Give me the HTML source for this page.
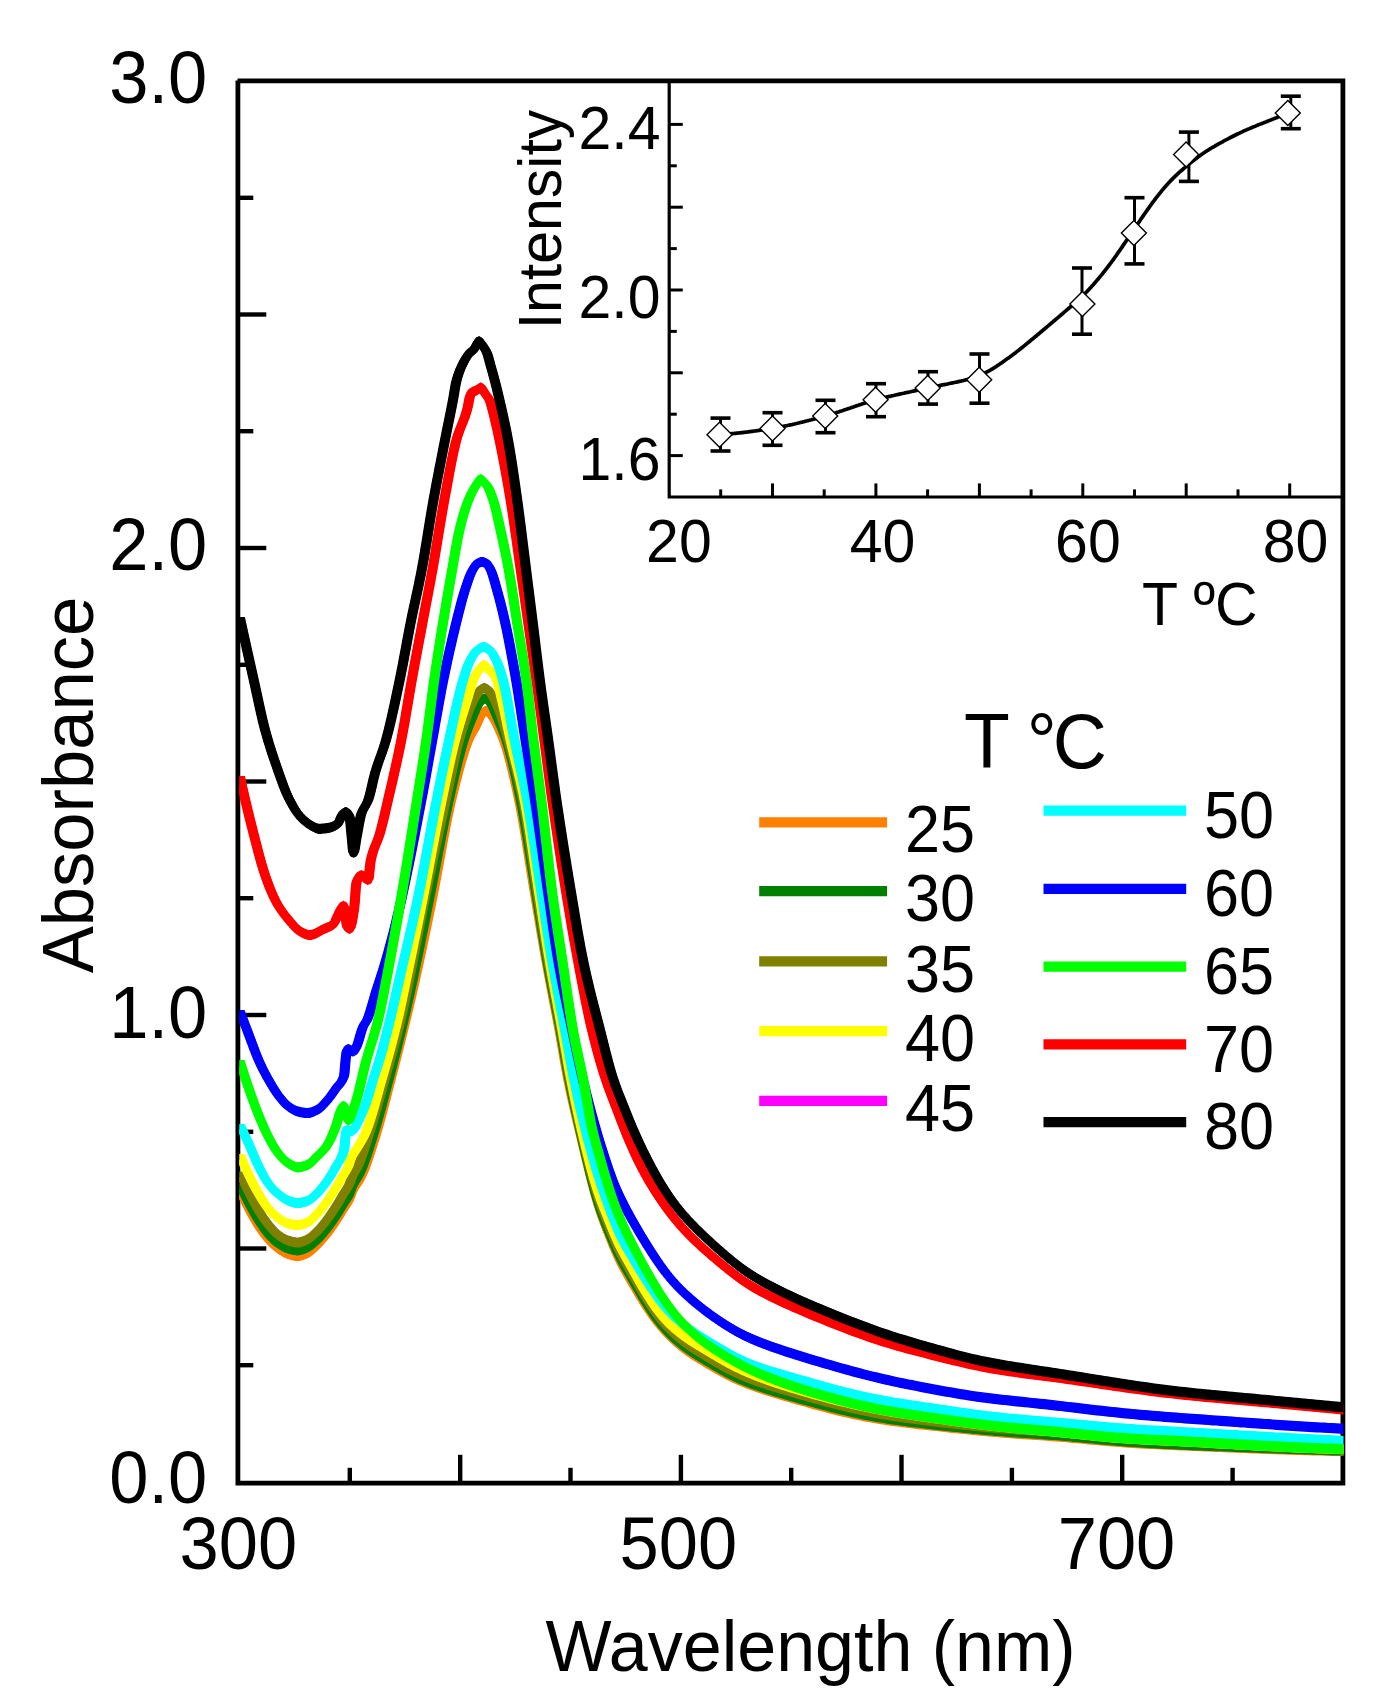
<!DOCTYPE html>
<html><head><meta charset="utf-8"><title>Absorbance vs wavelength</title>
<style>html,body{margin:0;padding:0;background:#fff}body{width:1397px;height:1707px;overflow:hidden}svg{display:block}text{font-family:"Liberation Sans",sans-serif;fill:#000}</style></head><body>
<svg width="1397" height="1707" viewBox="0 0 1397 1707">
<rect width="1397" height="1707" fill="#fff"/>
<g stroke="#000" stroke-width="4.4" fill="none">
<line x1="237.9" y1="1365.2" x2="253.3" y2="1365.2"/>
<line x1="237.9" y1="1248.5" x2="266.3" y2="1248.5"/>
<line x1="237.9" y1="1131.8" x2="253.3" y2="1131.8"/>
<line x1="237.9" y1="1015" x2="266.3" y2="1015"/>
<line x1="237.9" y1="898.2" x2="253.3" y2="898.2"/>
<line x1="237.9" y1="781.5" x2="266.3" y2="781.5"/>
<line x1="237.9" y1="664.8" x2="253.3" y2="664.8"/>
<line x1="237.9" y1="548" x2="266.3" y2="548"/>
<line x1="237.9" y1="431.2" x2="253.3" y2="431.2"/>
<line x1="237.9" y1="314.5" x2="266.3" y2="314.5"/>
<line x1="237.9" y1="197.8" x2="253.3" y2="197.8"/>
<line x1="349.8" y1="1483.2" x2="349.8" y2="1467.8"/>
<line x1="460.2" y1="1483.2" x2="460.2" y2="1454.8"/>
<line x1="570.5" y1="1483.2" x2="570.5" y2="1467.8"/>
<line x1="680.9" y1="1483.2" x2="680.9" y2="1454.8"/>
<line x1="791.2" y1="1483.2" x2="791.2" y2="1467.8"/>
<line x1="901.5" y1="1483.2" x2="901.5" y2="1454.8"/>
<line x1="1011.9" y1="1483.2" x2="1011.9" y2="1467.8"/>
<line x1="1122.2" y1="1483.2" x2="1122.2" y2="1454.8"/>
<line x1="1232.6" y1="1483.2" x2="1232.6" y2="1467.8"/>
</g>
<g stroke="#000" stroke-width="4.8" fill="none" stroke-linecap="square">
<path d="M237.9 82.8 V1483.2 H1342.9 V80.8 H239.9"/>
</g>
<defs><clipPath id="pc"><rect x="239.3" y="80.8" width="1104.3" height="1402.4"/></clipPath></defs>
<g stroke="none" clip-path="url(#pc)">
<path fill="#ff8000" d="M242.5 1190.5 243.5 1192.7 244.5 1194.8 245.5 1196.9 246.5 1198.9 247.5 1200.9 248.5 1202.9 249.5 1204.8 250.5 1206.7 251.5 1208.5 252.5 1210.4 253.5 1212.2 254.5 1214 255.5 1215.7 256.5 1217.4 257.5 1219.1 258.5 1220.6 259.5 1222.2 260.5 1223.6 261.5 1225.1 262.5 1226.5 263.5 1227.9 264.5 1229.3 265.5 1230.6 266.5 1231.8 267.5 1233 268.5 1234.2 269.5 1235.3 270.5 1236.3 271.5 1237.4 272.5 1238.4 273.5 1239.4 274.5 1240.3 275.5 1241.2 276.5 1242 277.5 1242.8 278.5 1243.5 279.5 1244.2 280.5 1244.9 281.5 1245.6 282.5 1246.2 283.5 1246.8 284.5 1247.4 285.5 1247.9 286.5 1248.4 287.5 1248.7 288.5 1249.1 289.5 1249.4 290.5 1249.6 291.5 1249.9 292.5 1250.2 293.5 1250.4 294.5 1250.6 295.5 1250.8 296.5 1250.9 297.5 1250.9 298.5 1250.9 299.5 1250.8 300.5 1250.6 301.5 1250.3 302.5 1250 303.5 1249.7 304.5 1249.3 305.5 1248.9 306.5 1248.4 307.5 1248 308.5 1247.5 309.5 1246.8 310.5 1246.1 311.5 1245.2 312.5 1244.3 313.5 1243.4 314.5 1242.4 315.5 1241.4 316.5 1240.4 317.5 1239.4 318.5 1238.4 319.5 1237.4 320.5 1236.3 321.5 1235.1 322.5 1234 323.5 1232.8 324.5 1231.6 325.5 1230.4 326.5 1229.2 327.5 1227.9 328.5 1226.6 329.5 1225.2 330.5 1223.9 331.5 1222.5 332.5 1221 333.5 1219.6 334.5 1218.1 335.5 1216.6 336.3 1215.4 336.5 1215.1 337.5 1213.5 338.5 1211.9 339.5 1210.3 340.5 1208.7 341.5 1207 342.5 1205.3 343.5 1203.7 344 1202.9 344.5 1202.1 345.5 1200.6 346.5 1199.2 347.5 1197.6 348.5 1195.9 349 1194.9 349.5 1193.7 350.5 1190.9 351.5 1188.1 352 1186.9 352.5 1185.9 353.5 1184 354.5 1182.3 355.5 1180.8 356.5 1179.3 357.5 1177.9 358.5 1176.3 359.5 1174.7 360.5 1172.9 361 1171.9 361.5 1170.8 362.5 1168.6 363.5 1166.3 364.5 1163.8 365.5 1161.1 366.5 1158.4 367.5 1155.5 368.5 1152.6 369.5 1149.6 370.5 1146.5 371.5 1143.4 372.5 1140.2 373.5 1137 374.5 1133.8 375.5 1130.5 376 1128.9 376.5 1127.3 377.5 1123.9 378.5 1120.5 379.5 1116.9 380.5 1113.3 381.5 1109.6 382.5 1105.8 383.5 1102 384.5 1098.2 385.5 1094.3 386.5 1090.4 387.5 1086.5 388.5 1082.6 389.5 1078.8 390.5 1074.9 391.5 1071 392.5 1067.2 393.5 1063.3 394.5 1059.4 395.5 1055.5 396.5 1051.6 397.5 1047.6 398.5 1043.7 399.5 1039.7 400.5 1035.7 401.5 1031.6 402.5 1027.6 403.5 1023.5 404.5 1019.4 405.5 1015.3 405.6 1014.9 406.5 1011.2 407.5 1007 408.5 1002.8 409.5 998.6 410.5 994.3 411.5 990 412.5 985.6 413.5 981.2 413.8 979.9 414.5 976.8 415.5 972.3 416.5 967.7 417.5 963.2 418.5 958.6 419.5 953.9 420.5 949.3 421.5 944.6 422.5 939.9 423.5 935.1 424.5 930.4 425.5 925.6 426.5 920.8 427.5 915.9 428.5 911.1 429.5 906.2 430.5 901.3 431.5 896.4 431.8 894.9 432.5 891.4 433.5 886.3 434.5 881.1 435.5 875.8 436.5 870.4 437.5 865 438.5 859.5 439.5 854 440.5 848.5 441.5 843 442.5 837.5 443.5 832.1 444.5 826.8 445.5 821.6 446.5 816.6 447.5 811.6 448.5 806.8 449.5 802.2 450.5 797.8 451.2 794.9 451.5 793.7 452.5 789.6 453.5 785.5 454.5 781.4 455.5 777.5 456.5 773.6 457.5 769.7 458.5 765.9 459.5 762.3 460.5 758.7 461.5 755.2 462.5 751.9 463.5 748.7 464.5 745.6 465.5 742.7 466.5 739.9 467.5 737.3 468.5 734.9 469.5 732.7 470.5 730.7 471.5 728.9 472.5 727.2 473.5 725.5 474.5 723.8 475.5 721.9 476 720.9 476.5 719.8 477.5 717.5 478.5 715.1 479.5 712.8 480.5 710.9 481.5 709.3 482.5 707.9 483.5 706.9 484.5 706.2 485.5 705.9 485.6 705.9 486.5 706 487.5 706.5 488.5 707.1 489 707.4 489.5 707.8 490.5 708.8 491.5 710.2 492.5 711.7 493 712.4 493.5 713.2 494.5 714.8 495.5 716.5 496.5 718.4 497 719.4 497.5 720.4 498.5 722.6 499.5 724.9 500.5 727.2 501 728.4 501.5 729.5 502.5 731.7 503.5 734.1 504 735.4 504.5 736.8 505.5 739.8 506.5 742.9 507.5 746.2 508.5 749.7 509.5 753.4 510.5 757.1 511.5 761.1 512.5 765.1 513.5 769.3 514.5 773.6 515.5 778 516.5 782.4 517.5 787 518.5 791.6 519.2 794.9 519.5 796.3 520.5 801.3 521.5 806.5 522.5 811.9 523.5 817.6 524.5 823.4 525.5 829.4 526.5 835.5 527.5 841.7 528.5 848 529.5 854.3 530.5 860.6 531.5 866.9 532.5 873.2 533.5 879.4 534.5 885.4 535.2 889.6 535.5 891.4 536.5 897.3 537.5 903.3 538.5 909.2 539.5 915.2 540.5 921.2 541.5 927.1 542.5 933 543.5 938.9 544.5 944.7 545.5 950.4 546.3 954.9 546.5 956 547.5 961.5 548.5 966.9 549.5 972.3 550.5 977.6 551.5 982.8 552.5 988 553.5 993.2 554.5 998.4 555.5 1003.6 556.5 1008.8 557.5 1014.1 558.5 1019.5 559.5 1024.9 560.5 1030.5 561.5 1036.2 562.5 1042 563.5 1047.8 564.5 1053.6 565.5 1059.3 566.5 1064.9 567.5 1070.3 568.5 1075.4 569.5 1080.3 570.5 1085.1 571.5 1089.8 572.5 1094.4 573.5 1098.8 574.5 1103.2 575.5 1107.6 576.5 1111.9 577.5 1116.1 578.5 1120.3 579.5 1124.5 580.5 1128.7 581.5 1132.9 582.5 1137.1 583.5 1141.3 584.5 1145.6 585.5 1149.8 586.5 1153.9 587.5 1158.1 588.5 1162.2 589.5 1166.3 590.5 1170.3 591.5 1174.3 592.5 1178.2 593.5 1182 594.5 1185.8 595.5 1189.4 596.5 1193 597.5 1196.4 598.5 1199.8 599.5 1203 600.5 1206.1 601.5 1209.1 602.5 1212 603.5 1214.8 604.5 1217.6 605.5 1220.2 606.5 1222.9 607.5 1225.4 608.5 1228 609.5 1230.5 610.5 1233 611.5 1235.5 612.5 1238 613.5 1240.4 614.5 1242.8 615.5 1245.2 616.5 1247.5 617.5 1249.8 618.5 1252 619.5 1254.2 620.5 1256.3 621.5 1258.3 622.5 1260.3 623.5 1262.2 624.5 1264.1 625.5 1265.9 626.5 1267.7 627.5 1269.5 628.5 1271.2 629.5 1273 630.5 1274.7 631.5 1276.4 632.5 1278.1 633.5 1279.8 634.5 1281.5 635.5 1283.2 636.5 1284.9 637.5 1286.6 638.5 1288.3 639.5 1290 640.5 1291.7 641.5 1293.3 642.5 1294.9 643.5 1296.5 644.5 1298.1 645.5 1299.7 646.5 1301.3 647.5 1302.8 648.5 1304.3 649.5 1305.8 650.5 1307.3 651.5 1308.8 652.5 1310.2 653.5 1311.6 654.5 1312.9 655.5 1314.3 656.5 1315.6 657.5 1316.9 658.5 1318.2 659.5 1319.4 660.5 1320.6 661.5 1321.8 662.5 1323 663.5 1324.1 664.5 1325.2 665.5 1326.3 666.5 1327.4 667.5 1328.5 668.5 1329.5 669.5 1330.5 670.5 1331.5 671.5 1332.5 672.5 1333.4 673.5 1334.4 674.5 1335.3 675.5 1336.2 676.5 1337.1 677.5 1338 678.5 1338.9 679.5 1339.7 680.5 1340.5 681.5 1341.4 682.5 1342.2 683.5 1343 684.5 1343.7 685.5 1344.5 686.5 1345.2 687.5 1346 688.5 1346.7 689.5 1347.4 690.5 1348.1 691.5 1348.7 692.5 1349.4 693.5 1350.1 694.5 1350.7 695.5 1351.4 696.5 1352 697.5 1352.6 698.5 1353.2 699.5 1353.8 700.5 1354.4 701.5 1355 702.5 1355.6 703.5 1356.2 704.5 1356.8 705.5 1357.4 706.5 1358 707.5 1358.6 708.5 1359.2 709.5 1359.8 710.5 1360.3 711.5 1360.9 712.5 1361.5 713.5 1362.1 714.5 1362.7 715.5 1363.2 716.5 1363.8 717.5 1364.4 718.5 1364.9 719.5 1365.5 720.5 1366 721.5 1366.6 722.5 1367.1 723.5 1367.7 724.5 1368.2 725.5 1368.7 726.5 1369.2 727.5 1369.8 728.5 1370.3 729.5 1370.8 730.5 1371.2 731.5 1371.7 732.5 1372.2 733.5 1372.7 734.5 1373.1 735.5 1373.6 736.5 1374 737.5 1374.5 738.5 1374.9 739.5 1375.3 740.5 1375.8 741.5 1376.2 742.5 1376.6 743.5 1377 744.5 1377.4 745.5 1377.8 746.5 1378.2 747.5 1378.6 748.5 1379 749.5 1379.3 750.5 1379.7 751.5 1380.1 752.5 1380.4 753.5 1380.8 754.5 1381.2 755.5 1381.5 756.5 1381.9 757.5 1382.2 758.5 1382.6 759.5 1382.9 760.5 1383.2 761.5 1383.6 762.5 1383.9 763.5 1384.2 764.5 1384.5 765.5 1384.9 766.5 1385.2 767.5 1385.5 768.5 1385.8 769.5 1386.1 770.5 1386.5 771.5 1386.8 772.5 1387.1 773.5 1387.4 774.5 1387.7 775.5 1388 776.5 1388.3 777.5 1388.6 778.5 1388.9 779.5 1389.2 780.5 1389.5 784.5 1390.7 788.5 1391.9 792.5 1393 796.5 1394.2 800.5 1395.3 804.5 1396.4 808.5 1397.6 812.5 1398.7 816.5 1399.8 820.5 1400.9 824.5 1401.9 828.5 1403 832.5 1404 836.5 1405 840.5 1406 844.5 1406.9 848.5 1407.9 852.5 1408.7 856.5 1409.6 860.5 1410.4 864.5 1411.2 868.5 1411.9 872.5 1412.6 876.5 1413.3 880.5 1414 884.5 1414.6 888.5 1415.2 892.5 1415.7 896.5 1416.3 900.5 1416.8 904.5 1417.3 908.5 1417.8 912.5 1418.3 916.5 1418.7 920.5 1419.2 924.5 1419.6 928.5 1420.1 932.5 1420.5 936.5 1420.9 940.5 1421.4 944.5 1421.8 948.5 1422.2 952.5 1422.7 956.5 1423.1 960.5 1423.5 964.5 1423.9 968.5 1424.3 972.5 1424.7 976.5 1425.1 980.5 1425.5 984.5 1425.9 988.5 1426.2 992.5 1426.6 996.5 1426.9 1000.5 1427.3 1004.5 1427.6 1008.5 1427.9 1012.5 1428.2 1016.5 1428.5 1020.5 1428.7 1024.5 1429 1028.5 1429.3 1032.5 1429.6 1036.5 1429.8 1040.5 1430.1 1044.5 1430.4 1048.5 1430.7 1052.5 1431 1056.5 1431.3 1060.5 1431.6 1064.5 1431.9 1068.5 1432.3 1072.5 1432.7 1076.5 1433 1080.5 1433.4 1084.5 1433.8 1088.5 1434.2 1092.5 1434.5 1096.5 1434.9 1100.5 1435.3 1104.5 1435.6 1108.5 1436 1112.5 1436.3 1116.5 1436.6 1120.5 1436.9 1124.5 1437.2 1128.5 1437.5 1132.5 1437.8 1136.5 1438 1140.5 1438.2 1144.5 1438.5 1148.5 1438.7 1152.5 1438.9 1156.5 1439.1 1160.5 1439.3 1164.5 1439.5 1168.5 1439.7 1172.5 1439.8 1176.5 1440 1180.5 1440.2 1184.5 1440.4 1188.5 1440.5 1192.5 1440.7 1196.5 1440.9 1200.5 1441.1 1204.5 1441.2 1208.5 1441.4 1212.5 1441.6 1216.5 1441.7 1220.5 1441.9 1224.5 1442 1228.5 1442.2 1232.5 1442.4 1236.5 1442.5 1240.5 1442.7 1244.5 1442.9 1248.5 1443 1252.5 1443.2 1256.5 1443.3 1260.5 1443.5 1264.5 1443.7 1268.5 1443.8 1272.5 1444 1276.5 1444.1 1280.5 1444.2 1284.5 1444.4 1288.5 1444.5 1292.5 1444.6 1296.5 1444.7 1300.5 1444.9 1304.5 1445 1308.5 1445.1 1312.5 1445.2 1316.5 1445.3 1320.5 1445.4 1324.5 1445.5 1328.5 1445.6 1332.5 1445.7 1336.5 1445.8 1340.5 1445.9 1343.5 1445.9 1343.5 1456.1 1340.5 1456.1 1336.5 1456 1332.5 1455.9 1328.5 1455.8 1324.5 1455.7 1320.5 1455.6 1316.5 1455.5 1312.5 1455.4 1308.5 1455.3 1304.5 1455.2 1300.5 1455.1 1296.5 1454.9 1292.5 1454.8 1288.5 1454.7 1284.5 1454.6 1280.5 1454.4 1276.5 1454.3 1272.5 1454.2 1268.5 1454 1264.5 1453.9 1260.5 1453.7 1256.5 1453.5 1252.5 1453.4 1248.5 1453.2 1244.5 1453.1 1240.5 1452.9 1236.5 1452.7 1232.5 1452.6 1228.5 1452.4 1224.5 1452.2 1220.5 1452.1 1216.5 1451.9 1212.5 1451.8 1208.5 1451.6 1204.5 1451.4 1200.5 1451.3 1196.5 1451.1 1192.5 1450.9 1188.5 1450.7 1184.5 1450.6 1180.5 1450.4 1176.5 1450.2 1172.5 1450 1168.5 1449.9 1164.5 1449.7 1160.5 1449.5 1156.5 1449.3 1152.5 1449.1 1148.5 1448.9 1144.5 1448.7 1140.5 1448.4 1136.5 1448.2 1132.5 1448 1128.5 1447.7 1124.5 1447.4 1120.5 1447.1 1116.5 1446.8 1112.5 1446.5 1108.5 1446.2 1104.5 1445.8 1100.5 1445.5 1096.5 1445.1 1092.5 1444.7 1088.5 1444.4 1084.5 1444 1080.5 1443.6 1076.5 1443.2 1072.5 1442.9 1068.5 1442.5 1064.5 1442.1 1060.5 1441.8 1056.5 1441.5 1052.5 1441.2 1048.5 1440.9 1044.5 1440.6 1040.5 1440.3 1036.5 1440 1032.5 1439.8 1028.5 1439.5 1024.5 1439.2 1020.5 1438.9 1016.5 1438.7 1012.5 1438.4 1008.5 1438.1 1004.5 1437.8 1000.5 1437.5 996.5 1437.1 992.5 1436.8 988.5 1436.4 984.5 1436.1 980.5 1435.7 976.5 1435.3 972.5 1434.9 968.5 1434.5 964.5 1434.1 960.5 1433.7 956.5 1433.3 952.5 1432.9 948.5 1432.4 944.5 1432 940.5 1431.6 936.5 1431.1 932.5 1430.7 928.5 1430.3 924.5 1429.8 920.5 1429.4 916.5 1428.9 912.5 1428.5 908.5 1428 904.5 1427.5 900.5 1427 896.5 1426.5 892.5 1425.9 888.5 1425.4 884.5 1424.8 880.5 1424.2 876.5 1423.5 872.5 1422.8 868.5 1422.1 864.5 1421.4 860.5 1420.6 856.5 1419.8 852.5 1418.9 848.5 1418.1 844.5 1417.1 840.5 1416.2 836.5 1415.2 832.5 1414.2 828.5 1413.2 824.5 1412.1 820.5 1411.1 816.5 1410 812.5 1408.9 808.5 1407.8 804.5 1406.6 800.5 1405.5 796.5 1404.4 792.5 1403.2 788.5 1402.1 784.5 1400.9 780.5 1399.7 779.5 1399.4 778.5 1399.1 777.5 1398.8 776.5 1398.5 775.5 1398.2 774.5 1397.9 773.5 1397.6 772.5 1397.3 771.5 1397 770.5 1396.7 769.5 1396.3 768.5 1396 767.5 1395.7 766.5 1395.4 765.5 1395.1 764.5 1394.7 763.5 1394.4 762.5 1394.1 761.5 1393.8 760.5 1393.4 759.5 1393.1 758.5 1392.8 757.5 1392.4 756.5 1392.1 755.5 1391.7 754.5 1391.4 753.5 1391 752.5 1390.6 751.5 1390.3 750.5 1389.9 749.5 1389.5 748.5 1389.2 747.5 1388.8 746.5 1388.4 745.5 1388 744.5 1387.6 743.5 1387.2 742.5 1386.8 741.5 1386.4 740.5 1386 739.5 1385.5 738.5 1385.1 737.5 1384.7 736.5 1384.2 735.5 1383.8 734.5 1383.3 733.5 1382.9 732.5 1382.4 731.5 1381.9 730.5 1381.4 729.5 1381 728.5 1380.5 727.5 1380 726.5 1379.4 725.5 1378.9 724.5 1378.4 723.5 1377.9 722.5 1377.3 721.5 1376.8 720.5 1376.2 719.5 1375.7 718.5 1375.1 717.5 1374.6 716.5 1374 715.5 1373.4 714.5 1372.9 713.5 1372.3 712.5 1371.7 711.5 1371.1 710.5 1370.5 709.5 1370 708.5 1369.4 707.5 1368.8 706.5 1368.2 705.5 1367.6 704.5 1367 703.5 1366.4 702.5 1365.8 701.5 1365.2 700.5 1364.6 699.5 1364 698.5 1363.4 697.5 1362.8 696.5 1362.2 695.5 1361.6 694.5 1360.9 693.5 1360.3 692.5 1359.6 691.5 1358.9 690.5 1358.3 689.5 1357.6 688.5 1356.9 687.5 1356.2 686.5 1355.4 685.5 1354.7 684.5 1353.9 683.5 1353.2 682.5 1352.4 681.5 1351.6 680.5 1350.7 679.5 1349.9 678.5 1349.1 677.5 1348.2 676.5 1347.3 675.5 1346.4 674.5 1345.5 673.5 1344.6 672.5 1343.6 671.5 1342.7 670.5 1341.7 669.5 1340.7 668.5 1339.7 667.5 1338.7 666.5 1337.6 665.5 1336.5 664.5 1335.4 663.5 1334.3 662.5 1333.2 661.5 1332 660.5 1330.8 659.5 1329.6 658.5 1328.4 657.5 1327.1 656.5 1325.8 655.5 1324.5 654.5 1323.1 653.5 1321.8 652.5 1320.4 651.5 1319 650.5 1317.5 649.5 1316 648.5 1314.5 647.5 1313 646.5 1311.5 645.5 1309.9 644.5 1308.3 643.5 1306.7 642.5 1305.1 641.5 1303.5 640.5 1301.9 639.5 1300.2 638.5 1298.5 637.5 1296.8 636.5 1295.1 635.5 1293.4 634.5 1291.7 633.5 1290 632.5 1288.3 631.5 1286.6 630.5 1284.9 629.5 1283.2 628.5 1281.4 627.5 1279.7 626.5 1277.9 625.5 1276.1 624.5 1274.3 623.5 1272.4 622.5 1270.5 621.5 1268.5 620.5 1266.5 619.5 1264.4 618.5 1262.2 617.5 1260 616.5 1257.7 615.5 1255.4 614.5 1253 613.5 1250.6 612.5 1248.2 611.5 1245.7 610.5 1243.2 609.5 1240.7 608.5 1238.2 607.5 1235.6 606.5 1233.1 605.5 1230.4 604.5 1227.8 603.5 1225 602.5 1222.2 601.5 1219.3 600.5 1216.3 599.5 1213.2 598.5 1210 597.5 1206.6 596.5 1203.2 595.5 1199.6 594.5 1196 593.5 1192.2 592.5 1188.4 591.5 1184.5 590.5 1180.5 589.5 1176.5 588.5 1172.4 587.5 1168.3 586.5 1164.1 585.5 1160 584.5 1155.8 583.5 1151.5 582.5 1147.3 581.5 1143.1 580.5 1138.9 579.5 1134.7 578.5 1130.5 577.5 1126.3 576.5 1122.1 575.5 1117.8 574.5 1113.4 573.5 1109 572.5 1104.6 571.5 1100 570.5 1095.3 569.5 1090.5 568.5 1085.6 567.5 1080.5 566.5 1075.1 565.5 1069.5 564.5 1063.8 563.5 1058 562.5 1052.2 561.5 1046.4 560.5 1040.7 559.5 1035.1 558.5 1029.7 557.5 1024.3 556.5 1019 555.5 1013.8 554.5 1008.6 553.5 1003.4 552.5 998.2 551.5 993 550.5 987.8 549.5 982.5 548.5 977.1 547.5 971.7 546.5 966.2 546.3 965.1 545.5 960.6 544.5 954.9 543.5 949.1 542.5 943.2 541.5 937.3 540.5 931.4 539.5 925.4 538.5 919.4 537.5 913.5 536.5 907.5 535.5 901.6 535.2 899.8 534.5 895.6 533.5 889.6 532.5 883.4 531.5 877.1 530.5 870.8 529.5 864.5 528.5 858.2 527.5 851.9 526.5 845.7 525.5 839.6 524.5 833.6 523.5 827.8 522.5 822.1 521.5 816.7 520.5 811.5 519.5 806.5 519.2 805.1 518.5 801.8 517.5 797.2 516.5 792.6 515.5 788.2 514.5 783.8 513.5 779.5 512.5 775.3 511.5 771.3 510.5 767.3 509.5 763.6 508.5 759.9 507.5 756.4 506.5 753.1 505.5 750 504.5 747 504 745.6 503.5 744.3 502.5 741.9 501.5 739.7 501 738.6 500.5 737.4 499.5 735.1 498.5 732.8 497.5 730.6 497 729.6 496.5 728.6 495.5 726.7 494.5 725 493.5 723.4 493 722.6 492.5 721.9 491.5 720.4 490.5 719 489.5 718 489 717.6 488.5 717.3 487.5 716.7 486.5 716.2 485.6 716.1 485.5 716.1 484.5 716.4 483.5 717.1 482.5 718.1 481.5 719.5 480.5 721.1 479.5 723 478.5 725.3 477.5 727.7 476.5 730 476 731.1 475.5 732.1 474.5 734 473.5 735.7 472.5 737.4 471.5 739.1 470.5 740.9 469.5 742.9 468.5 745.1 467.5 747.5 466.5 750.1 465.5 752.9 464.5 755.8 463.5 758.9 462.5 762.1 461.5 765.4 460.5 768.9 459.5 772.5 458.5 776.1 457.5 779.9 456.5 783.8 455.5 787.7 454.5 791.6 453.5 795.7 452.5 799.8 451.5 803.9 451.2 805.1 450.5 808 449.5 812.4 448.5 817 447.5 821.8 446.5 826.8 445.5 831.8 444.5 837 443.5 842.3 442.5 847.7 441.5 853.2 440.5 858.7 439.5 864.2 438.5 869.7 437.5 875.2 436.5 880.6 435.5 886 434.5 891.3 433.5 896.5 432.5 901.6 431.8 905.1 431.5 906.6 430.5 911.5 429.5 916.4 428.5 921.3 427.5 926.1 426.5 931 425.5 935.8 424.5 940.6 423.5 945.3 422.5 950.1 421.5 954.8 420.5 959.5 419.5 964.1 418.5 968.8 417.5 973.4 416.5 977.9 415.5 982.5 414.5 987 413.8 990.1 413.5 991.4 412.5 995.8 411.5 1000.2 410.5 1004.5 409.5 1008.8 408.5 1013 407.5 1017.2 406.5 1021.4 405.6 1025.1 405.5 1025.5 404.5 1029.6 403.5 1033.7 402.5 1037.8 401.5 1041.8 400.5 1045.9 399.5 1049.9 398.5 1053.9 397.5 1057.8 396.5 1061.8 395.5 1065.7 394.5 1069.6 393.5 1073.5 392.5 1077.4 391.5 1081.2 390.5 1085.1 389.5 1089 388.5 1092.8 387.5 1096.7 386.5 1100.6 385.5 1104.5 384.5 1108.4 383.5 1112.2 382.5 1116 381.5 1119.8 380.5 1123.5 379.5 1127.1 378.5 1130.7 377.5 1134.1 376.5 1137.5 376 1139.1 375.5 1140.7 374.5 1144 373.5 1147.2 372.5 1150.4 371.5 1153.6 370.5 1156.7 369.5 1159.8 368.5 1162.8 367.5 1165.7 366.5 1168.6 365.5 1171.3 364.5 1174 363.5 1176.5 362.5 1178.8 361.5 1181 361 1182.1 360.5 1183.1 359.5 1184.9 358.5 1186.5 357.5 1188.1 356.5 1189.5 355.5 1191 354.5 1192.5 353.5 1194.2 352.5 1196.1 352 1197.1 351.5 1198.3 350.5 1201.1 349.5 1203.9 349 1205.1 348.5 1206.1 347.5 1207.8 346.5 1209.4 345.5 1210.8 344.5 1212.3 344 1213.1 343.5 1213.9 342.5 1215.5 341.5 1217.2 340.5 1218.9 339.5 1220.5 338.5 1222.1 337.5 1223.7 336.5 1225.3 336.3 1225.6 335.5 1226.8 334.5 1228.3 333.5 1229.8 332.5 1231.2 331.5 1232.7 330.5 1234.1 329.5 1235.4 328.5 1236.8 327.5 1238.1 326.5 1239.4 325.5 1240.6 324.5 1241.8 323.5 1243 322.5 1244.2 321.5 1245.3 320.5 1246.5 319.5 1247.6 318.5 1248.6 317.5 1249.6 316.5 1250.6 315.5 1251.6 314.5 1252.6 313.5 1253.6 312.5 1254.5 311.5 1255.4 310.5 1256.3 309.5 1257 308.5 1257.7 307.5 1258.2 306.5 1258.6 305.5 1259.1 304.5 1259.5 303.5 1259.9 302.5 1260.2 301.5 1260.5 300.5 1260.8 299.5 1261 298.5 1261.1 297.5 1261.1 296.5 1261.1 295.5 1261 294.5 1260.8 293.5 1260.6 292.5 1260.4 291.5 1260.1 290.5 1259.8 289.5 1259.6 288.5 1259.3 287.5 1258.9 286.5 1258.6 285.5 1258.1 284.5 1257.6 283.5 1257 282.5 1256.4 281.5 1255.8 280.5 1255.1 279.5 1254.4 278.5 1253.7 277.5 1253 276.5 1252.2 275.5 1251.4 274.5 1250.5 273.5 1249.6 272.5 1248.6 271.5 1247.6 270.5 1246.5 269.5 1245.5 268.5 1244.4 267.5 1243.2 266.5 1242 265.5 1240.8 264.5 1239.5 263.5 1238.1 262.5 1236.7 261.5 1235.3 260.5 1233.8 259.5 1232.4 258.5 1230.8 257.5 1229.3 256.5 1227.6 255.5 1225.9 254.5 1224.2 253.5 1222.4 252.5 1220.6 251.5 1218.7 250.5 1216.9 249.5 1215 248.5 1213.1 247.5 1211.1 246.5 1209.1 245.5 1207.1 244.5 1205 243.5 1202.9 242.5 1200.7ZM244.6 1189 245.6 1191.2 246.6 1193.5 247.6 1195.6 248.6 1197.8 249.6 1199.9 250.6 1202 251.6 1204 252.6 1206 253.6 1208 254.6 1209.9 255.6 1211.8 256.6 1213.6 257.6 1215.5 258.6 1217.3 259.6 1219.1 260.6 1220.8 261.6 1222.5 262.6 1224.2 263.6 1225.7 264.6 1227.3 265.6 1228.7 266.6 1230.2 267.6 1231.6 268.6 1233 269.6 1234.4 270.6 1235.7 271.6 1236.9 272.6 1238.1 273.6 1239.3 274.6 1240.4 275.6 1241.4 276.6 1242.5 277.6 1243.5 278.6 1244.5 279.6 1245.4 280.6 1246.3 281.6 1247.1 282.6 1247.9 283.6 1248.6 284.6 1249.3 285.6 1250 286.6 1250.7 287.6 1251.3 288.6 1251.9 289.6 1252.5 290.6 1253 291.6 1253.5 292.6 1253.8 293.6 1254.2 294.6 1254.5 295.6 1254.7 296.6 1255 297.6 1255.3 298.6 1255.5 299.6 1255.7 300.6 1255.9 301.6 1256 302.6 1256 292.4 1256 291.4 1256 290.4 1255.9 289.4 1255.7 288.4 1255.5 287.4 1255.3 286.4 1255 285.4 1254.7 284.4 1254.5 283.4 1254.2 282.4 1253.8 281.4 1253.5 280.4 1253 279.4 1252.5 278.4 1251.9 277.4 1251.3 276.4 1250.7 275.4 1250 274.4 1249.3 273.4 1248.6 272.4 1247.9 271.4 1247.1 270.4 1246.3 269.4 1245.4 268.4 1244.5 267.4 1243.5 266.4 1242.5 265.4 1241.4 264.4 1240.4 263.4 1239.3 262.4 1238.1 261.4 1236.9 260.4 1235.7 259.4 1234.4 258.4 1233 257.4 1231.6 256.4 1230.2 255.4 1228.7 254.4 1227.3 253.4 1225.7 252.4 1224.2 251.4 1222.5 250.4 1220.8 249.4 1219.1 248.4 1217.3 247.4 1215.5 246.4 1213.6 245.4 1211.8 244.4 1209.9 243.4 1208 242.4 1206 241.4 1204 240.4 1202 239.4 1199.9 238.4 1197.8 237.4 1195.6 236.4 1193.5 235.4 1191.2 234.4 1189ZM292.4 1256 293.4 1256 294.4 1255.9 295.4 1255.7 296.4 1255.4 297.4 1255.1 298.4 1254.8 299.4 1254.4 300.4 1254 301.4 1253.5 302.4 1253.1 303.4 1252.6 304.4 1251.9 305.4 1251.2 306.4 1250.3 307.4 1249.4 308.4 1248.5 309.4 1247.5 310.4 1246.5 311.4 1245.5 312.4 1244.5 313.4 1243.5 314.4 1242.5 315.4 1241.4 316.4 1240.2 317.4 1239.1 318.4 1237.9 319.4 1236.7 320.4 1235.5 321.4 1234.3 322.4 1233 323.4 1231.7 324.4 1230.3 325.4 1229 326.4 1227.6 327.4 1226.1 328.4 1224.7 329.4 1223.2 330.4 1221.7 331.2 1220.5 331.4 1220.2 332.4 1218.6 333.4 1217 334.4 1215.4 335.4 1213.8 336.4 1212.1 337.4 1210.4 338.4 1208.8 338.9 1208 339.4 1207.2 340.4 1205.7 341.4 1204.3 342.4 1202.7 343.4 1201 343.9 1200 344.4 1198.8 345.4 1196 346.4 1193.2 346.9 1192 347.4 1191 348.4 1189.1 349.4 1187.4 350.4 1185.9 351.4 1184.4 352.4 1183 353.4 1181.4 354.4 1179.8 355.4 1178 355.9 1177 356.4 1175.9 357.4 1173.7 358.4 1171.4 359.4 1168.9 360.4 1166.2 361.4 1163.5 362.4 1160.6 363.4 1157.7 364.4 1154.7 365.4 1151.6 366.4 1148.5 367.4 1145.3 368.4 1142.1 369.4 1138.9 370.4 1135.6 370.9 1134 371.4 1132.4 372.4 1129 373.4 1125.6 374.4 1122 375.4 1118.4 376.4 1114.7 377.4 1110.9 378.4 1107.1 379.4 1103.3 380.4 1099.4 381.4 1095.5 382.4 1091.6 383.4 1087.7 384.4 1083.9 385.4 1080 386.4 1076.1 387.4 1072.3 388.4 1068.4 389.4 1064.5 390.4 1060.6 391.4 1056.7 392.4 1052.7 393.4 1048.8 394.4 1044.8 395.4 1040.8 396.4 1036.7 397.4 1032.7 398.4 1028.6 399.4 1024.5 400.4 1020.4 400.5 1020 401.4 1016.3 402.4 1012.1 403.4 1007.9 404.4 1003.7 405.4 999.4 406.4 995.1 407.4 990.7 408.4 986.3 408.7 985 409.4 981.9 410.4 977.4 411.4 972.8 412.4 968.3 413.4 963.7 414.4 959 415.4 954.4 416.4 949.7 417.4 945 418.4 940.2 419.4 935.5 420.4 930.7 421.4 925.9 422.4 921 423.4 916.2 424.4 911.3 425.4 906.4 426.4 901.5 426.7 900 427.4 896.5 428.4 891.4 429.4 886.2 430.4 880.9 431.4 875.5 432.4 870.1 433.4 864.6 434.4 859.1 435.4 853.6 436.4 848.1 437.4 842.6 438.4 837.2 439.4 831.9 440.4 826.7 441.4 821.7 442.4 816.7 443.4 811.9 444.4 807.3 445.4 802.9 446.1 800 446.4 798.8 447.4 794.7 448.4 790.6 449.4 786.5 450.4 782.6 451.4 778.7 452.4 774.8 453.4 771 454.4 767.4 455.4 763.8 456.4 760.3 457.4 757 458.4 753.8 459.4 750.7 460.4 747.8 461.4 745 462.4 742.4 463.4 740 464.4 737.8 465.4 735.8 466.4 734 467.4 732.3 468.4 730.6 469.4 728.9 470.4 727 470.9 726 471.4 724.9 472.4 722.6 473.4 720.2 474.4 717.9 475.4 716 476.4 714.4 477.4 713 478.4 712 479.4 711.3 480.4 711 480.5 711 490.7 711 490.6 711 489.6 711.3 488.6 712 487.6 713 486.6 714.4 485.6 716 484.6 717.9 483.6 720.2 482.6 722.6 481.6 724.9 481.1 726 480.6 727 479.6 728.9 478.6 730.6 477.6 732.3 476.6 734 475.6 735.8 474.6 737.8 473.6 740 472.6 742.4 471.6 745 470.6 747.8 469.6 750.7 468.6 753.8 467.6 757 466.6 760.3 465.6 763.8 464.6 767.4 463.6 771 462.6 774.8 461.6 778.7 460.6 782.6 459.6 786.5 458.6 790.6 457.6 794.7 456.6 798.8 456.3 800 455.6 802.9 454.6 807.3 453.6 811.9 452.6 816.7 451.6 821.7 450.6 826.7 449.6 831.9 448.6 837.2 447.6 842.6 446.6 848.1 445.6 853.6 444.6 859.1 443.6 864.6 442.6 870.1 441.6 875.5 440.6 880.9 439.6 886.2 438.6 891.4 437.6 896.5 436.9 900 436.6 901.5 435.6 906.4 434.6 911.3 433.6 916.2 432.6 921 431.6 925.9 430.6 930.7 429.6 935.5 428.6 940.2 427.6 945 426.6 949.7 425.6 954.4 424.6 959 423.6 963.7 422.6 968.3 421.6 972.8 420.6 977.4 419.6 981.9 418.9 985 418.6 986.3 417.6 990.7 416.6 995.1 415.6 999.4 414.6 1003.7 413.6 1007.9 412.6 1012.1 411.6 1016.3 410.7 1020 410.6 1020.4 409.6 1024.5 408.6 1028.6 407.6 1032.7 406.6 1036.7 405.6 1040.8 404.6 1044.8 403.6 1048.8 402.6 1052.7 401.6 1056.7 400.6 1060.6 399.6 1064.5 398.6 1068.4 397.6 1072.3 396.6 1076.1 395.6 1080 394.6 1083.9 393.6 1087.7 392.6 1091.6 391.6 1095.5 390.6 1099.4 389.6 1103.3 388.6 1107.1 387.6 1110.9 386.6 1114.7 385.6 1118.4 384.6 1122 383.6 1125.6 382.6 1129 381.6 1132.4 381.1 1134 380.6 1135.6 379.6 1138.9 378.6 1142.1 377.6 1145.3 376.6 1148.5 375.6 1151.6 374.6 1154.7 373.6 1157.7 372.6 1160.6 371.6 1163.5 370.6 1166.2 369.6 1168.9 368.6 1171.4 367.6 1173.7 366.6 1175.9 366.1 1177 365.6 1178 364.6 1179.8 363.6 1181.4 362.6 1183 361.6 1184.4 360.6 1185.9 359.6 1187.4 358.6 1189.1 357.6 1191 357.1 1192 356.6 1193.2 355.6 1196 354.6 1198.8 354.1 1200 353.6 1201 352.6 1202.7 351.6 1204.3 350.6 1205.7 349.6 1207.2 349.1 1208 348.6 1208.8 347.6 1210.4 346.6 1212.1 345.6 1213.8 344.6 1215.4 343.6 1217 342.6 1218.6 341.6 1220.2 341.4 1220.5 340.6 1221.7 339.6 1223.2 338.6 1224.7 337.6 1226.1 336.6 1227.6 335.6 1229 334.6 1230.3 333.6 1231.7 332.6 1233 331.6 1234.3 330.6 1235.5 329.6 1236.7 328.6 1237.9 327.6 1239.1 326.6 1240.2 325.6 1241.4 324.6 1242.5 323.6 1243.5 322.6 1244.5 321.6 1245.5 320.6 1246.5 319.6 1247.5 318.6 1248.5 317.6 1249.4 316.6 1250.3 315.6 1251.2 314.6 1251.9 313.6 1252.6 312.6 1253.1 311.6 1253.5 310.6 1254 309.6 1254.4 308.6 1254.8 307.6 1255.1 306.6 1255.4 305.6 1255.7 304.6 1255.9 303.6 1256 302.6 1256ZM490.7 711 491.6 711.1 492.6 711.6 493.6 712.2 494.1 712.5 494.6 712.9 495.6 713.9 496.6 715.3 497.6 716.8 498.1 717.5 498.6 718.3 499.6 719.9 500.6 721.6 501.6 723.5 502.1 724.5 502.6 725.5 503.6 727.7 504.6 730 505.6 732.3 506.1 733.5 506.6 734.6 507.6 736.8 508.6 739.2 509.1 740.5 509.6 741.9 510.6 744.9 511.6 748 512.6 751.3 513.6 754.8 514.6 758.5 515.6 762.2 516.6 766.2 517.6 770.2 518.6 774.4 519.6 778.7 520.6 783.1 521.6 787.5 522.6 792.1 523.6 796.7 524.3 800 524.6 801.4 525.6 806.4 526.6 811.6 527.6 817 528.6 822.7 529.6 828.5 530.6 834.5 531.6 840.6 532.6 846.8 533.6 853.1 534.6 859.4 535.6 865.7 536.6 872 537.6 878.3 538.6 884.5 539.6 890.5 540.3 894.7 540.6 896.5 541.6 902.4 542.6 908.4 543.6 914.3 544.6 920.3 545.6 926.3 546.6 932.2 547.6 938.1 548.6 944 549.6 949.8 550.6 955.5 551.4 960 551.6 961.1 552.6 966.6 553.6 972 554.6 977.4 555.6 982.7 556.6 987.9 557.6 993.1 558.6 998.3 559.6 1003.5 560.6 1008.7 561.6 1013.9 562.6 1019.2 563.6 1024.6 564.6 1030 565.6 1035.6 566.6 1041.3 567.6 1047.1 568.6 1052.9 569.6 1058.7 570.6 1064.4 571.6 1070 572.6 1075.4 573.6 1080.5 574.6 1085.4 575.6 1090.2 576.6 1094.9 577.6 1099.5 578.6 1103.9 579.6 1108.3 580.6 1112.7 581.6 1117 582.6 1121.2 583.6 1125.4 584.6 1129.6 585.6 1133.8 586.6 1138 587.6 1142.2 588.6 1146.4 589.6 1150.7 590.6 1154.9 591.6 1159 592.6 1163.2 593.6 1167.3 594.6 1171.4 595.6 1175.4 596.6 1179.4 597.6 1183.3 598.6 1187.1 599.6 1190.9 600.6 1194.5 601.6 1198.1 602.6 1201.5 603.6 1204.9 604.6 1208.1 605.6 1211.2 606.6 1214.2 607.6 1217.1 608.6 1219.9 609.6 1222.7 610.6 1225.3 611.6 1228 612.6 1230.5 613.6 1233.1 614.6 1235.6 615.6 1238.1 616.6 1240.6 617.6 1243.1 618.6 1245.5 619.6 1247.9 620.6 1250.3 621.6 1252.6 622.6 1254.9 623.6 1257.1 624.6 1259.3 625.6 1261.4 626.6 1263.4 627.6 1265.4 628.6 1267.3 629.6 1269.2 630.6 1271 631.6 1272.8 632.6 1274.6 633.6 1276.3 634.6 1278.1 635.6 1279.8 636.6 1281.5 637.6 1283.2 638.6 1284.9 639.6 1286.6 640.6 1288.3 641.6 1290 642.6 1291.7 643.6 1293.4 644.6 1295.1 645.6 1296.8 646.6 1298.4 647.6 1300 648.6 1301.6 649.6 1303.2 650.6 1304.8 651.6 1306.4 652.6 1307.9 653.6 1309.4 654.6 1310.9 655.6 1312.4 656.6 1313.9 657.6 1315.3 658.6 1316.7 659.6 1318 660.6 1319.4 661.6 1320.7 662.6 1322 663.6 1323.3 664.6 1324.5 665.6 1325.7 666.6 1326.9 667.6 1328.1 668.6 1329.2 669.6 1330.3 670.6 1331.4 671.6 1332.5 672.6 1333.6 673.6 1334.6 674.6 1335.6 675.6 1336.6 676.6 1337.6 677.6 1338.5 678.6 1339.5 679.6 1340.4 680.6 1341.3 681.6 1342.2 682.6 1343.1 683.6 1344 684.6 1344.8 685.6 1345.6 686.6 1346.5 687.6 1347.3 688.6 1348.1 689.6 1348.8 690.6 1349.6 691.6 1350.3 692.6 1351.1 693.6 1351.8 694.6 1352.5 695.6 1353.2 696.6 1353.8 697.6 1354.5 698.6 1355.2 699.6 1355.8 700.6 1356.5 701.6 1357.1 702.6 1357.7 703.6 1358.3 704.6 1358.9 705.6 1359.5 706.6 1360.1 707.6 1360.7 708.6 1361.3 709.6 1361.9 710.6 1362.5 711.6 1363.1 712.6 1363.7 713.6 1364.3 714.6 1364.9 715.6 1365.4 716.6 1366 717.6 1366.6 718.6 1367.2 719.6 1367.8 720.6 1368.3 721.6 1368.9 722.6 1369.5 723.6 1370 724.6 1370.6 725.6 1371.1 726.6 1371.7 727.6 1372.2 728.6 1372.8 729.6 1373.3 730.6 1373.8 731.6 1374.3 732.6 1374.9 733.6 1375.4 734.6 1375.9 735.6 1376.3 736.6 1376.8 737.6 1377.3 738.6 1377.8 739.6 1378.2 740.6 1378.7 741.6 1379.1 742.6 1379.6 743.6 1380 744.6 1380.4 745.6 1380.9 746.6 1381.3 747.6 1381.7 748.6 1382.1 749.6 1382.5 750.6 1382.9 751.6 1383.3 752.6 1383.7 753.6 1384.1 754.6 1384.4 755.6 1384.8 756.6 1385.2 757.6 1385.5 758.6 1385.9 759.6 1386.3 760.6 1386.6 761.6 1387 762.6 1387.3 763.6 1387.7 764.6 1388 765.6 1388.3 766.6 1388.7 767.6 1389 768.6 1389.3 769.6 1389.6 770.6 1390 771.6 1390.3 772.6 1390.6 773.6 1390.9 774.6 1391.2 775.6 1391.6 776.6 1391.9 777.6 1392.2 778.6 1392.5 779.6 1392.8 780.6 1393.1 781.6 1393.4 782.6 1393.7 783.6 1394 784.6 1394.3 785.6 1394.6 786.6 1394.9 787.6 1395.2 788.6 1395.5 789.6 1395.8 790.6 1396.1 791.6 1396.4 792.6 1396.7 793.6 1397 794.6 1397.2 795.6 1397.5 796.6 1397.8 797.6 1398.1 798.6 1398.4 799.6 1398.7 800.6 1399 801.6 1399.3 802.6 1399.6 803.6 1399.8 804.6 1400.1 794.4 1400.1 793.4 1399.8 792.4 1399.6 791.4 1399.3 790.4 1399 789.4 1398.7 788.4 1398.4 787.4 1398.1 786.4 1397.8 785.4 1397.5 784.4 1397.2 783.4 1397 782.4 1396.7 781.4 1396.4 780.4 1396.1 779.4 1395.8 778.4 1395.5 777.4 1395.2 776.4 1394.9 775.4 1394.6 774.4 1394.3 773.4 1394 772.4 1393.7 771.4 1393.4 770.4 1393.1 769.4 1392.8 768.4 1392.5 767.4 1392.2 766.4 1391.9 765.4 1391.6 764.4 1391.2 763.4 1390.9 762.4 1390.6 761.4 1390.3 760.4 1390 759.4 1389.6 758.4 1389.3 757.4 1389 756.4 1388.7 755.4 1388.3 754.4 1388 753.4 1387.7 752.4 1387.3 751.4 1387 750.4 1386.6 749.4 1386.3 748.4 1385.9 747.4 1385.5 746.4 1385.2 745.4 1384.8 744.4 1384.4 743.4 1384.1 742.4 1383.7 741.4 1383.3 740.4 1382.9 739.4 1382.5 738.4 1382.1 737.4 1381.7 736.4 1381.3 735.4 1380.9 734.4 1380.4 733.4 1380 732.4 1379.6 731.4 1379.1 730.4 1378.7 729.4 1378.2 728.4 1377.8 727.4 1377.3 726.4 1376.8 725.4 1376.3 724.4 1375.9 723.4 1375.4 722.4 1374.9 721.4 1374.3 720.4 1373.8 719.4 1373.3 718.4 1372.8 717.4 1372.2 716.4 1371.7 715.4 1371.1 714.4 1370.6 713.4 1370 712.4 1369.5 711.4 1368.9 710.4 1368.3 709.4 1367.8 708.4 1367.2 707.4 1366.6 706.4 1366 705.4 1365.4 704.4 1364.9 703.4 1364.3 702.4 1363.7 701.4 1363.1 700.4 1362.5 699.4 1361.9 698.4 1361.3 697.4 1360.7 696.4 1360.1 695.4 1359.5 694.4 1358.9 693.4 1358.3 692.4 1357.7 691.4 1357.1 690.4 1356.5 689.4 1355.8 688.4 1355.2 687.4 1354.5 686.4 1353.8 685.4 1353.2 684.4 1352.5 683.4 1351.8 682.4 1351.1 681.4 1350.3 680.4 1349.6 679.4 1348.8 678.4 1348.1 677.4 1347.3 676.4 1346.5 675.4 1345.6 674.4 1344.8 673.4 1344 672.4 1343.1 671.4 1342.2 670.4 1341.3 669.4 1340.4 668.4 1339.5 667.4 1338.5 666.4 1337.6 665.4 1336.6 664.4 1335.6 663.4 1334.6 662.4 1333.6 661.4 1332.5 660.4 1331.4 659.4 1330.3 658.4 1329.2 657.4 1328.1 656.4 1326.9 655.4 1325.7 654.4 1324.5 653.4 1323.3 652.4 1322 651.4 1320.7 650.4 1319.4 649.4 1318 648.4 1316.7 647.4 1315.3 646.4 1313.9 645.4 1312.4 644.4 1310.9 643.4 1309.4 642.4 1307.9 641.4 1306.4 640.4 1304.8 639.4 1303.2 638.4 1301.6 637.4 1300 636.4 1298.4 635.4 1296.8 634.4 1295.1 633.4 1293.4 632.4 1291.7 631.4 1290 630.4 1288.3 629.4 1286.6 628.4 1284.9 627.4 1283.2 626.4 1281.5 625.4 1279.8 624.4 1278.1 623.4 1276.3 622.4 1274.6 621.4 1272.8 620.4 1271 619.4 1269.2 618.4 1267.3 617.4 1265.4 616.4 1263.4 615.4 1261.4 614.4 1259.3 613.4 1257.1 612.4 1254.9 611.4 1252.6 610.4 1250.3 609.4 1247.9 608.4 1245.5 607.4 1243.1 606.4 1240.6 605.4 1238.1 604.4 1235.6 603.4 1233.1 602.4 1230.5 601.4 1228 600.4 1225.3 599.4 1222.7 598.4 1219.9 597.4 1217.1 596.4 1214.2 595.4 1211.2 594.4 1208.1 593.4 1204.9 592.4 1201.5 591.4 1198.1 590.4 1194.5 589.4 1190.9 588.4 1187.1 587.4 1183.3 586.4 1179.4 585.4 1175.4 584.4 1171.4 583.4 1167.3 582.4 1163.2 581.4 1159 580.4 1154.9 579.4 1150.7 578.4 1146.4 577.4 1142.2 576.4 1138 575.4 1133.8 574.4 1129.6 573.4 1125.4 572.4 1121.2 571.4 1117 570.4 1112.7 569.4 1108.3 568.4 1103.9 567.4 1099.5 566.4 1094.9 565.4 1090.2 564.4 1085.4 563.4 1080.5 562.4 1075.4 561.4 1070 560.4 1064.4 559.4 1058.7 558.4 1052.9 557.4 1047.1 556.4 1041.3 555.4 1035.6 554.4 1030 553.4 1024.6 552.4 1019.2 551.4 1013.9 550.4 1008.7 549.4 1003.5 548.4 998.3 547.4 993.1 546.4 987.9 545.4 982.7 544.4 977.4 543.4 972 542.4 966.6 541.4 961.1 541.2 960 540.4 955.5 539.4 949.8 538.4 944 537.4 938.1 536.4 932.2 535.4 926.3 534.4 920.3 533.4 914.3 532.4 908.4 531.4 902.4 530.4 896.5 530.1 894.7 529.4 890.5 528.4 884.5 527.4 878.3 526.4 872 525.4 865.7 524.4 859.4 523.4 853.1 522.4 846.8 521.4 840.6 520.4 834.5 519.4 828.5 518.4 822.7 517.4 817 516.4 811.6 515.4 806.4 514.4 801.4 514.1 800 513.4 796.7 512.4 792.1 511.4 787.5 510.4 783.1 509.4 778.7 508.4 774.4 507.4 770.2 506.4 766.2 505.4 762.2 504.4 758.5 503.4 754.8 502.4 751.3 501.4 748 500.4 744.9 499.4 741.9 498.9 740.5 498.4 739.2 497.4 736.8 496.4 734.6 495.9 733.5 495.4 732.3 494.4 730 493.4 727.7 492.4 725.5 491.9 724.5 491.4 723.5 490.4 721.6 489.4 719.9 488.4 718.3 487.9 717.5 487.4 716.8 486.4 715.3 485.4 713.9 484.4 712.9 483.9 712.5 483.4 712.2 482.4 711.6 481.4 711.1 480.5 711Z"/>
<path fill="none" stroke="#ff8000" stroke-width="8.9" stroke-linejoin="round" d="M241.5 1193.5 242.5 1195.6 243.5 1197.8 244.5 1199.9 245.5 1202 246.5 1204 247.5 1206 248.5 1208 249.5 1209.9 250.5 1211.8 251.5 1213.6 252.5 1215.5 253.5 1217.3 254.5 1219.1 255.5 1220.8 256.5 1222.5 257.5 1224.2 258.5 1225.7 259.5 1227.3 260.5 1228.7 261.5 1230.2 262.5 1231.6 263.5 1233 264.5 1234.4 265.5 1235.7 266.5 1236.9 267.5 1238.1 268.5 1239.3 269.5 1240.4 270.5 1241.4 271.5 1242.5 272.5 1243.5 273.5 1244.5 274.5 1245.4 275.5 1246.3 276.5 1247.1 277.5 1247.9 278.5 1248.6 279.5 1249.3 280.5 1250 281.5 1250.7 282.5 1251.3 283.5 1251.9 284.5 1252.5 285.5 1253 286.5 1253.5 287.5 1253.8 288.5 1254.2 289.5 1254.5 290.5 1254.7 291.5 1255 292.5 1255.3 293.5 1255.5 294.5 1255.7 295.5 1255.9 296.5 1256 297.5 1256 298.5 1256 299.5 1255.9 300.5 1255.7 301.5 1255.4 302.5 1255.1 303.5 1254.8 304.5 1254.4 305.5 1254 306.5 1253.5 307.5 1253.1 308.5 1252.6 309.5 1251.9 310.5 1251.2 311.5 1250.3 312.5 1249.4 313.5 1248.5 314.5 1247.5 315.5 1246.5 316.5 1245.5 317.5 1244.5 318.5 1243.5 319.5 1242.5 320.5 1241.4 321.5 1240.2 322.5 1239.1 323.5 1237.9 324.5 1236.7 325.5 1235.5 326.5 1234.3 327.5 1233 328.5 1231.7 329.5 1230.3 330.5 1229 331.5 1227.6 332.5 1226.1 333.5 1224.7 334.5 1223.2 335.5 1221.7 336.3 1220.5 336.5 1220.2 337.5 1218.6 338.5 1217 339.5 1215.4 340.5 1213.8 341.5 1212.1 342.5 1210.4 343.5 1208.8 344 1208 344.5 1207.2 345.5 1205.7 346.5 1204.3 347.5 1202.7 348.5 1201 349 1200 349.5 1198.8 350.5 1196 351.5 1193.2 352 1192 352.5 1191 353.5 1189.1 354.5 1187.4 355.5 1185.9 356.5 1184.4 357.5 1183 358.5 1181.4 359.5 1179.8 360.5 1178 361 1177 361.5 1175.9 362.5 1173.7 363.5 1171.4 364.5 1168.9 365.5 1166.2 366.5 1163.5 367.5 1160.6 368.5 1157.7 369.5 1154.7 370.5 1151.6 371.5 1148.5 372.5 1145.3 373.5 1142.1 374.5 1138.9 375.5 1135.6 376 1134 376.5 1132.4 377.5 1129 378.5 1125.6 379.5 1122 380.5 1118.4 381.5 1114.7 382.5 1110.9 383.5 1107.1 384.5 1103.3 385.5 1099.4 386.5 1095.5 387.5 1091.6 388.5 1087.7 389.5 1083.9 390.5 1080 391.5 1076.1 392.5 1072.3 393.5 1068.4 394.5 1064.5 395.5 1060.6 396.5 1056.7 397.5 1052.7 398.5 1048.8 399.5 1044.8 400.5 1040.8 401.5 1036.7 402.5 1032.7 403.5 1028.6 404.5 1024.5 405.5 1020.4 405.6 1020 406.5 1016.3 407.5 1012.1 408.5 1007.9 409.5 1003.7 410.5 999.4 411.5 995.1 412.5 990.7 413.5 986.3 413.8 985 414.5 981.9 415.5 977.4 416.5 972.8 417.5 968.3 418.5 963.7 419.5 959 420.5 954.4 421.5 949.7 422.5 945 423.5 940.2 424.5 935.5 425.5 930.7 426.5 925.9 427.5 921 428.5 916.2 429.5 911.3 430.5 906.4 431.5 901.5 431.8 900 432.5 896.5 433.5 891.4 434.5 886.2 435.5 880.9 436.5 875.5 437.5 870.1 438.5 864.6 439.5 859.1 440.5 853.6 441.5 848.1 442.5 842.6 443.5 837.2 444.5 831.9 445.5 826.7 446.5 821.7 447.5 816.7 448.5 811.9 449.5 807.3 450.5 802.9 451.2 800 451.5 798.8 452.5 794.7 453.5 790.6 454.5 786.5 455.5 782.6 456.5 778.7 457.5 774.8 458.5 771 459.5 767.4 460.5 763.8 461.5 760.3 462.5 757 463.5 753.8 464.5 750.7 465.5 747.8 466.5 745 467.5 742.4 468.5 740 469.5 737.8 470.5 735.8 471.5 734 472.5 732.3 473.5 730.6 474.5 728.9 475.5 727 476 726 476.5 724.9 477.5 722.6 478.5 720.2 479.5 717.9 480.5 716 481.5 714.4 482.5 713 483.5 712 484.5 711.3 485.5 711 485.6 711 486.5 711.1 487.5 711.6 488.5 712.2 489 712.5 489.5 712.9 490.5 713.9 491.5 715.3 492.5 716.8 493 717.5 493.5 718.3 494.5 719.9 495.5 721.6 496.5 723.5 497 724.5 497.5 725.5 498.5 727.7 499.5 730 500.5 732.3 501 733.5 501.5 734.6 502.5 736.8 503.5 739.2 504 740.5 504.5 741.9 505.5 744.9 506.5 748 507.5 751.3 508.5 754.8 509.5 758.5 510.5 762.2 511.5 766.2 512.5 770.2 513.5 774.4 514.5 778.7 515.5 783.1 516.5 787.5 517.5 792.1 518.5 796.7 519.2 800 519.5 801.4 520.5 806.4 521.5 811.6 522.5 817 523.5 822.7 524.5 828.5 525.5 834.5 526.5 840.6 527.5 846.8 528.5 853.1 529.5 859.4 530.5 865.7 531.5 872 532.5 878.3 533.5 884.5 534.5 890.5 535.2 894.7 535.5 896.5 536.5 902.4 537.5 908.4 538.5 914.3 539.5 920.3 540.5 926.3 541.5 932.2 542.5 938.1 543.5 944 544.5 949.8 545.5 955.5 546.3 960 546.5 961.1 547.5 966.6 548.5 972 549.5 977.4 550.5 982.7 551.5 987.9 552.5 993.1 553.5 998.3 554.5 1003.5 555.5 1008.7 556.5 1013.9 557.5 1019.2 558.5 1024.6 559.5 1030 560.5 1035.6 561.5 1041.3 562.5 1047.1 563.5 1052.9 564.5 1058.7 565.5 1064.4 566.5 1070 567.5 1075.4 568.5 1080.5 569.5 1085.4 570.5 1090.2 571.5 1094.9 572.5 1099.5 573.5 1103.9 574.5 1108.3 575.5 1112.7 576.5 1117 577.5 1121.2 578.5 1125.4 579.5 1129.6 580.5 1133.8 581.5 1138 582.5 1142.2 583.5 1146.4 584.5 1150.7 585.5 1154.9 586.5 1159 587.5 1163.2 588.5 1167.3 589.5 1171.4 590.5 1175.4 591.5 1179.4 592.5 1183.3 593.5 1187.1 594.5 1190.9 595.5 1194.5 596.5 1198.1 597.5 1201.5 598.5 1204.9 599.5 1208.1 600.5 1211.2 601.5 1214.2 602.5 1217.1 603.5 1219.9 604.5 1222.7 605.5 1225.3 606.5 1228 607.5 1230.5 608.5 1233.1 609.5 1235.6 610.5 1238.1 611.5 1240.6 612.5 1243.1 613.5 1245.5 614.5 1247.9 615.5 1250.3 616.5 1252.6 617.5 1254.9 618.5 1257.1 619.5 1259.3 620.5 1261.4 621.5 1263.4 622.5 1265.4 623.5 1267.3 624.5 1269.2 625.5 1271 626.5 1272.8 627.5 1274.6 628.5 1276.3 629.5 1278.1 630.5 1279.8 631.5 1281.5 632.5 1283.2 633.5 1284.9 634.5 1286.6 635.5 1288.3 636.5 1290 637.5 1291.7 638.5 1293.4 639.5 1295.1 640.5 1296.8 641.5 1298.4 642.5 1300 643.5 1301.6 644.5 1303.2 645.5 1304.8 646.5 1306.4 647.5 1307.9 648.5 1309.4 649.5 1310.9 650.5 1312.4 651.5 1313.9 652.5 1315.3 653.5 1316.7 654.5 1318 655.5 1319.4 656.5 1320.7 657.5 1322 658.5 1323.3 659.5 1324.5 660.5 1325.7 661.5 1326.9 662.5 1328.1 663.5 1329.2 664.5 1330.3 665.5 1331.4 666.5 1332.5 667.5 1333.6 668.5 1334.6 669.5 1335.6 670.5 1336.6 671.5 1337.6 672.5 1338.5 673.5 1339.5 674.5 1340.4 675.5 1341.3 676.5 1342.2 677.5 1343.1 678.5 1344 679.5 1344.8 680.5 1345.6 681.5 1346.5 682.5 1347.3 683.5 1348.1 684.5 1348.8 685.5 1349.6 686.5 1350.3 687.5 1351.1 688.5 1351.8 689.5 1352.5 690.5 1353.2 691.5 1353.8 692.5 1354.5 693.5 1355.2 694.5 1355.8 695.5 1356.5 696.5 1357.1 697.5 1357.7 698.5 1358.3 699.5 1358.9 700.5 1359.5 701.5 1360.1 702.5 1360.7 703.5 1361.3 704.5 1361.9 705.5 1362.5 706.5 1363.1 707.5 1363.7 708.5 1364.3 709.5 1364.9 710.5 1365.4 711.5 1366 712.5 1366.6 713.5 1367.2 714.5 1367.8 715.5 1368.3 716.5 1368.9 717.5 1369.5 718.5 1370 719.5 1370.6 720.5 1371.1 721.5 1371.7 722.5 1372.2 723.5 1372.8 724.5 1373.3 725.5 1373.8 726.5 1374.3 727.5 1374.9 728.5 1375.4 729.5 1375.9 730.5 1376.3 731.5 1376.8 732.5 1377.3 733.5 1377.8 734.5 1378.2 735.5 1378.7 736.5 1379.1 737.5 1379.6 738.5 1380 739.5 1380.4 740.5 1380.9 741.5 1381.3 742.5 1381.7 743.5 1382.1 744.5 1382.5 745.5 1382.9 746.5 1383.3 747.5 1383.7 748.5 1384.1 749.5 1384.4 750.5 1384.8 751.5 1385.2 752.5 1385.5 753.5 1385.9 754.5 1386.3 755.5 1386.6 756.5 1387 757.5 1387.3 758.5 1387.7 759.5 1388 760.5 1388.3 761.5 1388.7 762.5 1389 763.5 1389.3 764.5 1389.6 765.5 1390 766.5 1390.3 767.5 1390.6 768.5 1390.9 769.5 1391.2 770.5 1391.6 771.5 1391.9 772.5 1392.2 773.5 1392.5 774.5 1392.8 775.5 1393.1 776.5 1393.4 777.5 1393.7 778.5 1394 779.5 1394.3 780.5 1394.6 784.5 1395.8 788.5 1397 792.5 1398.1 796.5 1399.3 800.5 1400.4 804.5 1401.5 808.5 1402.7 812.5 1403.8 816.5 1404.9 820.5 1406 824.5 1407 828.5 1408.1 832.5 1409.1 836.5 1410.1 840.5 1411.1 844.5 1412 848.5 1413 852.5 1413.8 856.5 1414.7 860.5 1415.5 864.5 1416.3 868.5 1417 872.5 1417.7 876.5 1418.4 880.5 1419.1 884.5 1419.7 888.5 1420.3 892.5 1420.8 896.5 1421.4 900.5 1421.9 904.5 1422.4 908.5 1422.9 912.5 1423.4 916.5 1423.8 920.5 1424.3 924.5 1424.7 928.5 1425.2 932.5 1425.6 936.5 1426 940.5 1426.5 944.5 1426.9 948.5 1427.3 952.5 1427.8 956.5 1428.2 960.5 1428.6 964.5 1429 968.5 1429.4 972.5 1429.8 976.5 1430.2 980.5 1430.6 984.5 1431 988.5 1431.3 992.5 1431.7 996.5 1432 1000.5 1432.4 1004.5 1432.7 1008.5 1433 1012.5 1433.3 1016.5 1433.6 1020.5 1433.8 1024.5 1434.1 1028.5 1434.4 1032.5 1434.7 1036.5 1434.9 1040.5 1435.2 1044.5 1435.5 1048.5 1435.8 1052.5 1436.1 1056.5 1436.4 1060.5 1436.7 1064.5 1437 1068.5 1437.4 1072.5 1437.8 1076.5 1438.1 1080.5 1438.5 1084.5 1438.9 1088.5 1439.3 1092.5 1439.6 1096.5 1440 1100.5 1440.4 1104.5 1440.7 1108.5 1441.1 1112.5 1441.4 1116.5 1441.7 1120.5 1442 1124.5 1442.3 1128.5 1442.6 1132.5 1442.9 1136.5 1443.1 1140.5 1443.3 1144.5 1443.6 1148.5 1443.8 1152.5 1444 1156.5 1444.2 1160.5 1444.4 1164.5 1444.6 1168.5 1444.8 1172.5 1444.9 1176.5 1445.1 1180.5 1445.3 1184.5 1445.5 1188.5 1445.6 1192.5 1445.8 1196.5 1446 1200.5 1446.2 1204.5 1446.3 1208.5 1446.5 1212.5 1446.7 1216.5 1446.8 1220.5 1447 1224.5 1447.1 1228.5 1447.3 1232.5 1447.5 1236.5 1447.6 1240.5 1447.8 1244.5 1448 1248.5 1448.1 1252.5 1448.3 1256.5 1448.4 1260.5 1448.6 1264.5 1448.8 1268.5 1448.9 1272.5 1449.1 1276.5 1449.2 1280.5 1449.3 1284.5 1449.5 1288.5 1449.6 1292.5 1449.7 1296.5 1449.8 1300.5 1450 1304.5 1450.1 1308.5 1450.2 1312.5 1450.3 1316.5 1450.4 1320.5 1450.5 1324.5 1450.6 1328.5 1450.7 1332.5 1450.8 1336.5 1450.9 1340.5 1451 1343.5 1451"/>
<path fill="#008000" d="M242.5 1185.3 243.5 1187.4 244.5 1189.5 245.5 1191.5 246.5 1193.5 247.5 1195.5 248.5 1197.4 249.5 1199.3 250.5 1201.2 251.5 1203 252.5 1204.8 253.5 1206.6 254.5 1208.4 255.5 1210.2 256.5 1211.9 257.5 1213.5 258.5 1215.1 259.5 1216.7 260.5 1218.2 261.5 1219.7 262.5 1221.2 263.5 1222.7 264.5 1224.1 265.5 1225.4 266.5 1226.8 267.5 1228 268.5 1229.2 269.5 1230.3 270.5 1231.4 271.5 1232.4 272.5 1233.5 273.5 1234.4 274.5 1235.4 275.5 1236.3 276.5 1237.1 277.5 1237.8 278.5 1238.5 279.5 1239.2 280.5 1239.8 281.5 1240.4 282.5 1241 283.5 1241.6 284.5 1242.1 285.5 1242.5 286.5 1242.9 287.5 1243.3 288.5 1243.5 289.5 1243.8 290.5 1244.1 291.5 1244.3 292.5 1244.6 293.5 1244.8 294.5 1244.9 295.5 1245.1 296.5 1245.2 297.5 1245.2 298.5 1245.2 299.5 1245.1 300.5 1244.9 301.5 1244.6 302.5 1244.3 303.5 1244 304.5 1243.6 305.5 1243.2 306.5 1242.7 307.5 1242.3 308.5 1241.8 309.5 1241.2 310.5 1240.5 311.5 1239.8 312.5 1239 313.5 1238.1 314.5 1237.2 315.5 1236.3 316.5 1235.4 317.5 1234.4 318.5 1233.5 319.5 1232.4 320.5 1231.3 321.5 1230.2 322.5 1229 323.5 1227.9 324.5 1226.6 325.5 1225.4 326.5 1224.2 327.5 1222.9 328.5 1221.6 329.5 1220.2 330.5 1218.9 331.5 1217.5 332.5 1216 333.5 1214.6 334.5 1213.1 335.5 1211.6 336.3 1210.4 336.5 1210.1 337.5 1208.5 338.5 1206.9 339.5 1205.3 340.5 1203.7 341.5 1202 342.5 1200.3 343.5 1198.7 344 1197.9 344.5 1197.1 345.5 1195.6 346.5 1194.2 347.5 1192.6 348.5 1190.9 349 1189.9 349.5 1188.7 350.5 1186 351.5 1183.1 352 1181.9 352.5 1180.8 353.5 1178.9 354.5 1177.2 355.5 1175.6 356.5 1174.1 357.5 1172.5 358.5 1170.8 359.5 1168.9 360 1167.9 360.5 1166.8 361.5 1164.5 362.5 1162 363.5 1159.4 364.5 1156.7 365.5 1153.9 366.5 1150.9 367.5 1147.9 368.5 1144.8 369.5 1141.7 370.5 1138.5 371.5 1135.3 372.5 1132.1 373.5 1128.9 374.5 1125.7 375.5 1122.3 376.5 1119 377.5 1115.5 378.5 1112 379.5 1108.4 380.5 1104.8 381.5 1101.2 382.5 1097.5 383.5 1093.7 384.5 1090 385.5 1086.2 386.5 1082.5 387.5 1078.7 388.5 1074.9 389.5 1071.1 390.5 1067.3 391.5 1063.5 392.5 1059.6 393.5 1055.7 394.5 1051.8 395.5 1047.9 396.5 1043.9 397.5 1039.9 398.5 1035.9 399.5 1031.9 400.5 1027.8 401.5 1023.7 402.5 1019.5 403.5 1015.3 403.6 1014.9 404.5 1011.1 405.5 1006.8 406.5 1002.4 407.5 998 408.5 993.6 409.5 989.1 410.5 984.5 411.5 979.9 412.5 975.3 413.5 970.6 414.5 965.8 415.5 961 416.5 956.2 417.5 951.4 418.5 946.5 419.5 941.6 420.5 936.6 421.5 931.7 422.5 926.7 423.5 921.8 424.5 916.8 425.5 911.8 426.5 906.8 427.5 901.8 428.5 896.9 428.9 894.9 429.5 891.9 430.5 886.9 431.5 881.8 432.5 876.7 433.5 871.5 434.5 866.3 435.5 861.1 436.5 855.9 437.5 850.6 438.5 845.4 439.5 840.2 440.5 835.1 441.5 830 442.5 824.9 443.5 819.9 444.5 815 445.5 810.2 446.5 805.4 447.5 800.8 448.5 796.2 448.8 794.9 449.5 791.8 450.5 787.4 451.5 783 452.5 778.6 453.5 774.2 454.5 770 455.5 765.7 456.5 761.6 457.5 757.5 458.5 753.6 459.5 749.8 460.5 746.1 461.5 742.5 462.5 739.1 463.5 735.8 463.8 734.9 464.5 732.8 465.5 729.8 466.5 727.1 467.5 724.4 468.5 721.8 469.5 719.3 470.5 716.9 471.5 714.5 472.5 712.1 473 710.9 473.5 709.7 474.5 707.3 475.5 704.9 476.5 702.7 477.5 700.7 478 699.9 478.5 699.1 479.5 697.6 480.5 696.3 481.5 695.3 482 694.9 482.5 694.5 483.5 693.9 484.5 693.5 485 693.4 485.5 693.5 486.5 693.9 487.5 694.6 488.5 695.4 489.5 696.5 490.5 697.9 491.5 699.6 492.5 701.4 493.5 703.3 494.5 705.5 495.5 707.8 496.5 710.3 497.5 712.7 498 713.9 498.5 715.1 499.5 717.4 500.5 719.8 501.5 722.1 502.5 724.5 503.5 727.1 504.5 729.7 505.5 732.5 506.3 734.9 506.5 735.5 507.5 738.7 508.5 742.1 509.5 745.7 510.5 749.4 511.5 753.2 512.5 757.2 513.5 761.4 514.5 765.7 515.5 770 516.5 774.5 517.5 779.1 518.5 783.8 519.5 788.6 520.5 793.4 520.8 794.9 521.5 798.4 522.5 803.6 523.5 809.1 524.5 814.7 525.5 820.6 526.5 826.6 527.5 832.8 528.5 839 529.5 845.3 530.5 851.7 531.5 858.1 532.5 864.5 533.5 870.9 534.5 877.2 535.5 883.5 536.5 889.6 537.5 895.7 538.5 901.9 539.5 908.1 540.5 914.4 541.5 920.6 542.5 926.8 543.5 933 544.5 939.1 545.5 945 546.5 950.9 547.2 954.9 547.5 956.6 548.5 962.1 549.5 967.6 550.5 972.9 551.5 978.2 552.5 983.3 553.5 988.5 554.5 993.6 555.5 998.7 556.5 1003.8 557.5 1009 558.5 1014.2 559.5 1019.5 560.5 1024.9 561.5 1030.4 562.5 1036.1 563.5 1041.9 564.5 1047.7 565.5 1053.5 566.5 1059.2 567.5 1064.8 568.5 1070.2 569.5 1075.4 570.5 1080.4 571.5 1085.3 572.5 1090.1 573.5 1094.9 574.5 1099.5 575.5 1104.1 576.5 1108.6 577.5 1113 578.5 1117.4 579.5 1121.8 580.5 1126.1 581.5 1130.4 582.5 1134.7 583.5 1139.1 584.5 1143.4 585.5 1147.7 586.5 1152 587.5 1156.3 588.5 1160.5 589.5 1164.7 590.5 1168.8 591.5 1172.9 592.5 1176.8 593.5 1180.7 594.5 1184.5 595.5 1188.1 596.5 1191.6 597.5 1195 598.5 1198.2 599.5 1201.3 600.5 1204.3 601.5 1207.2 602.5 1210 603.5 1212.7 604.5 1215.4 605.5 1218 606.5 1220.5 607.5 1223 608.5 1225.5 609.5 1228 610.5 1230.4 611.5 1232.9 612.5 1235.3 613.5 1237.7 614.5 1240.1 615.5 1242.4 616.5 1244.6 617.5 1246.9 618.5 1249 619.5 1251.1 620.5 1253.1 621.5 1255.1 622.5 1257 623.5 1258.9 624.5 1260.7 625.5 1262.5 626.5 1264.3 627.5 1266 628.5 1267.8 629.5 1269.5 630.5 1271.2 631.5 1272.9 632.5 1274.7 633.5 1276.4 634.5 1278.1 635.5 1279.8 636.5 1281.6 637.5 1283.3 638.5 1285 639.5 1286.7 640.5 1288.4 641.5 1290.1 642.5 1291.8 643.5 1293.5 644.5 1295.1 645.5 1296.8 646.5 1298.4 647.5 1300 648.5 1301.5 649.5 1303.1 650.5 1304.6 651.5 1306.1 652.5 1307.6 653.5 1309.1 654.5 1310.5 655.5 1311.9 656.5 1313.2 657.5 1314.6 658.5 1315.9 659.5 1317.2 660.5 1318.4 661.5 1319.7 662.5 1320.9 663.5 1322.1 664.5 1323.2 665.5 1324.3 666.5 1325.4 667.5 1326.5 668.5 1327.5 669.5 1328.6 670.5 1329.6 671.5 1330.6 672.5 1331.5 673.5 1332.5 674.5 1333.4 675.5 1334.3 676.5 1335.2 677.5 1336 678.5 1336.9 679.5 1337.7 680.5 1338.5 681.5 1339.3 682.5 1340.1 683.5 1340.9 684.5 1341.6 685.5 1342.4 686.5 1343.1 687.5 1343.8 688.5 1344.5 689.5 1345.2 690.5 1345.9 691.5 1346.6 692.5 1347.2 693.5 1347.9 694.5 1348.5 695.5 1349.2 696.5 1349.8 697.5 1350.4 698.5 1351 699.5 1351.6 700.5 1352.3 701.5 1352.9 702.5 1353.5 703.5 1354.1 704.5 1354.7 705.5 1355.3 706.5 1355.9 707.5 1356.4 708.5 1357 709.5 1357.6 710.5 1358.2 711.5 1358.8 712.5 1359.4 713.5 1360 714.5 1360.6 715.5 1361.2 716.5 1361.7 717.5 1362.3 718.5 1362.9 719.5 1363.5 720.5 1364 721.5 1364.6 722.5 1365.1 723.5 1365.7 724.5 1366.2 725.5 1366.8 726.5 1367.3 727.5 1367.8 728.5 1368.3 729.5 1368.9 730.5 1369.4 731.5 1369.9 732.5 1370.4 733.5 1370.8 734.5 1371.3 735.5 1371.8 736.5 1372.3 737.5 1372.7 738.5 1373.2 739.5 1373.6 740.5 1374 741.5 1374.5 742.5 1374.9 743.5 1375.3 744.5 1375.7 745.5 1376.2 746.5 1376.6 747.5 1377 748.5 1377.3 749.5 1377.7 750.5 1378.1 751.5 1378.5 752.5 1378.9 753.5 1379.2 754.5 1379.6 755.5 1379.9 756.5 1380.3 757.5 1380.6 758.5 1381 759.5 1381.3 760.5 1381.7 761.5 1382 762.5 1382.3 763.5 1382.7 764.5 1383 765.5 1383.3 766.5 1383.7 767.5 1384 768.5 1384.3 769.5 1384.6 770.5 1384.9 771.5 1385.2 772.5 1385.5 773.5 1385.8 774.5 1386.1 775.5 1386.5 776.5 1386.8 777.5 1387.1 778.5 1387.4 779.5 1387.6 780.5 1387.9 784.5 1389.1 788.5 1390.3 792.5 1391.4 796.5 1392.5 800.5 1393.7 804.5 1394.8 808.5 1395.9 812.5 1396.9 816.5 1398 820.5 1399.1 824.5 1400.1 828.5 1401.2 832.5 1402.2 836.5 1403.2 840.5 1404.2 844.5 1405.1 848.5 1406.1 852.5 1407 856.5 1407.8 860.5 1408.7 864.5 1409.5 868.5 1410.3 872.5 1411 876.5 1411.7 880.5 1412.4 884.5 1413.1 888.5 1413.7 892.5 1414.3 896.5 1414.9 900.5 1415.4 904.5 1415.9 908.5 1416.5 912.5 1417 916.5 1417.4 920.5 1417.9 924.5 1418.4 928.5 1418.8 932.5 1419.3 936.5 1419.7 940.5 1420.2 944.5 1420.6 948.5 1421 952.5 1421.5 956.5 1421.9 960.5 1422.3 964.5 1422.7 968.5 1423.1 972.5 1423.5 976.5 1423.9 980.5 1424.3 984.5 1424.7 988.5 1425 992.5 1425.4 996.5 1425.7 1000.5 1426.1 1004.5 1426.4 1008.5 1426.7 1012.5 1427 1016.5 1427.3 1020.5 1427.5 1024.5 1427.8 1028.5 1428.1 1032.5 1428.3 1036.5 1428.6 1040.5 1428.9 1044.5 1429.2 1048.5 1429.5 1052.5 1429.8 1056.5 1430.1 1060.5 1430.4 1064.5 1430.8 1068.5 1431.1 1072.5 1431.5 1076.5 1431.9 1080.5 1432.3 1084.5 1432.6 1088.5 1433 1092.5 1433.4 1096.5 1433.8 1100.5 1434.2 1104.5 1434.6 1108.5 1434.9 1112.5 1435.3 1116.5 1435.6 1120.5 1435.9 1124.5 1436.3 1128.5 1436.6 1132.5 1436.8 1136.5 1437.1 1140.5 1437.4 1144.5 1437.6 1148.5 1437.8 1152.5 1438.1 1156.5 1438.3 1160.5 1438.5 1164.5 1438.7 1168.5 1438.9 1172.5 1439.1 1176.5 1439.3 1180.5 1439.5 1184.5 1439.6 1188.5 1439.8 1192.5 1440 1196.5 1440.2 1200.5 1440.3 1204.5 1440.5 1208.5 1440.7 1212.5 1440.8 1216.5 1441 1220.5 1441.1 1224.5 1441.3 1228.5 1441.4 1232.5 1441.6 1236.5 1441.7 1240.5 1441.9 1244.5 1442 1248.5 1442.2 1252.5 1442.4 1256.5 1442.5 1260.5 1442.7 1264.5 1442.8 1268.5 1443 1272.5 1443.1 1276.5 1443.2 1280.5 1443.4 1284.5 1443.5 1288.5 1443.7 1292.5 1443.8 1296.5 1444 1300.5 1444.1 1304.5 1444.2 1308.5 1444.4 1312.5 1444.5 1316.5 1444.6 1320.5 1444.8 1324.5 1444.9 1328.5 1445 1332.5 1445.2 1336.5 1445.3 1340.5 1445.4 1343.5 1445.5 1343.5 1455.7 1340.5 1455.6 1336.5 1455.5 1332.5 1455.4 1328.5 1455.2 1324.5 1455.1 1320.5 1455 1316.5 1454.8 1312.5 1454.7 1308.5 1454.6 1304.5 1454.4 1300.5 1454.3 1296.5 1454.2 1292.5 1454 1288.5 1453.9 1284.5 1453.7 1280.5 1453.6 1276.5 1453.4 1272.5 1453.3 1268.5 1453.2 1264.5 1453 1260.5 1452.9 1256.5 1452.7 1252.5 1452.6 1248.5 1452.4 1244.5 1452.2 1240.5 1452.1 1236.5 1451.9 1232.5 1451.8 1228.5 1451.6 1224.5 1451.5 1220.5 1451.3 1216.5 1451.2 1212.5 1451 1208.5 1450.9 1204.5 1450.7 1200.5 1450.5 1196.5 1450.4 1192.5 1450.2 1188.5 1450 1184.5 1449.8 1180.5 1449.7 1176.5 1449.5 1172.5 1449.3 1168.5 1449.1 1164.5 1448.9 1160.5 1448.7 1156.5 1448.5 1152.5 1448.3 1148.5 1448 1144.5 1447.8 1140.5 1447.6 1136.5 1447.3 1132.5 1447 1128.5 1446.8 1124.5 1446.5 1120.5 1446.1 1116.5 1445.8 1112.5 1445.5 1108.5 1445.1 1104.5 1444.8 1100.5 1444.4 1096.5 1444 1092.5 1443.6 1088.5 1443.2 1084.5 1442.8 1080.5 1442.5 1076.5 1442.1 1072.5 1441.7 1068.5 1441.3 1064.5 1441 1060.5 1440.6 1056.5 1440.3 1052.5 1440 1048.5 1439.7 1044.5 1439.4 1040.5 1439.1 1036.5 1438.8 1032.5 1438.5 1028.5 1438.3 1024.5 1438 1020.5 1437.7 1016.5 1437.5 1012.5 1437.2 1008.5 1436.9 1004.5 1436.6 1000.5 1436.3 996.5 1435.9 992.5 1435.6 988.5 1435.2 984.5 1434.9 980.5 1434.5 976.5 1434.1 972.5 1433.7 968.5 1433.3 964.5 1432.9 960.5 1432.5 956.5 1432.1 952.5 1431.7 948.5 1431.2 944.5 1430.8 940.5 1430.4 936.5 1429.9 932.5 1429.5 928.5 1429 924.5 1428.6 920.5 1428.1 916.5 1427.6 912.5 1427.2 908.5 1426.7 904.5 1426.1 900.5 1425.6 896.5 1425.1 892.5 1424.5 888.5 1423.9 884.5 1423.3 880.5 1422.6 876.5 1421.9 872.5 1421.2 868.5 1420.5 864.5 1419.7 860.5 1418.9 856.5 1418 852.5 1417.2 848.5 1416.3 844.5 1415.3 840.5 1414.4 836.5 1413.4 832.5 1412.4 828.5 1411.4 824.5 1410.3 820.5 1409.3 816.5 1408.2 812.5 1407.1 808.5 1406.1 804.5 1405 800.5 1403.9 796.5 1402.7 792.5 1401.6 788.5 1400.5 784.5 1399.3 780.5 1398.1 779.5 1397.8 778.5 1397.6 777.5 1397.3 776.5 1397 775.5 1396.7 774.5 1396.3 773.5 1396 772.5 1395.7 771.5 1395.4 770.5 1395.1 769.5 1394.8 768.5 1394.5 767.5 1394.2 766.5 1393.9 765.5 1393.5 764.5 1393.2 763.5 1392.9 762.5 1392.5 761.5 1392.2 760.5 1391.9 759.5 1391.5 758.5 1391.2 757.5 1390.8 756.5 1390.5 755.5 1390.1 754.5 1389.8 753.5 1389.4 752.5 1389.1 751.5 1388.7 750.5 1388.3 749.5 1387.9 748.5 1387.5 747.5 1387.2 746.5 1386.8 745.5 1386.4 744.5 1385.9 743.5 1385.5 742.5 1385.1 741.5 1384.7 740.5 1384.2 739.5 1383.8 738.5 1383.4 737.5 1382.9 736.5 1382.5 735.5 1382 734.5 1381.5 733.5 1381 732.5 1380.6 731.5 1380.1 730.5 1379.6 729.5 1379.1 728.5 1378.5 727.5 1378 726.5 1377.5 725.5 1377 724.5 1376.4 723.5 1375.9 722.5 1375.3 721.5 1374.8 720.5 1374.2 719.5 1373.7 718.5 1373.1 717.5 1372.5 716.5 1371.9 715.5 1371.4 714.5 1370.8 713.5 1370.2 712.5 1369.6 711.5 1369 710.5 1368.4 709.5 1367.8 708.5 1367.2 707.5 1366.6 706.5 1366.1 705.5 1365.5 704.5 1364.9 703.5 1364.3 702.5 1363.7 701.5 1363.1 700.5 1362.5 699.5 1361.8 698.5 1361.2 697.5 1360.6 696.5 1360 695.5 1359.4 694.5 1358.7 693.5 1358.1 692.5 1357.4 691.5 1356.8 690.5 1356.1 689.5 1355.4 688.5 1354.7 687.5 1354 686.5 1353.3 685.5 1352.6 684.5 1351.8 683.5 1351.1 682.5 1350.3 681.5 1349.5 680.5 1348.7 679.5 1347.9 678.5 1347.1 677.5 1346.2 676.5 1345.4 675.5 1344.5 674.5 1343.6 673.5 1342.7 672.5 1341.7 671.5 1340.8 670.5 1339.8 669.5 1338.8 668.5 1337.7 667.5 1336.7 666.5 1335.6 665.5 1334.5 664.5 1333.4 663.5 1332.3 662.5 1331.1 661.5 1329.9 660.5 1328.6 659.5 1327.4 658.5 1326.1 657.5 1324.8 656.5 1323.4 655.5 1322.1 654.5 1320.7 653.5 1319.3 652.5 1317.8 651.5 1316.3 650.5 1314.8 649.5 1313.3 648.5 1311.7 647.5 1310.2 646.5 1308.6 645.5 1307 644.5 1305.3 643.5 1303.7 642.5 1302 641.5 1300.3 640.5 1298.6 639.5 1296.9 638.5 1295.2 637.5 1293.5 636.5 1291.8 635.5 1290 634.5 1288.3 633.5 1286.6 632.5 1284.9 631.5 1283.1 630.5 1281.4 629.5 1279.7 628.5 1278 627.5 1276.2 626.5 1274.5 625.5 1272.7 624.5 1270.9 623.5 1269.1 622.5 1267.2 621.5 1265.3 620.5 1263.3 619.5 1261.3 618.5 1259.2 617.5 1257.1 616.5 1254.8 615.5 1252.6 614.5 1250.3 613.5 1247.9 612.5 1245.5 611.5 1243.1 610.5 1240.6 609.5 1238.2 608.5 1235.7 607.5 1233.2 606.5 1230.7 605.5 1228.2 604.5 1225.6 603.5 1222.9 602.5 1220.2 601.5 1217.4 600.5 1214.5 599.5 1211.5 598.5 1208.4 597.5 1205.2 596.5 1201.8 595.5 1198.3 594.5 1194.7 593.5 1190.9 592.5 1187 591.5 1183.1 590.5 1179 589.5 1174.9 588.5 1170.7 587.5 1166.5 586.5 1162.2 585.5 1157.9 584.5 1153.6 583.5 1149.3 582.5 1144.9 581.5 1140.6 580.5 1136.3 579.5 1132 578.5 1127.6 577.5 1123.2 576.5 1118.8 575.5 1114.3 574.5 1109.7 573.5 1105.1 572.5 1100.3 571.5 1095.5 570.5 1090.6 569.5 1085.6 568.5 1080.4 567.5 1075 566.5 1069.4 565.5 1063.7 564.5 1057.9 563.5 1052.1 562.5 1046.3 561.5 1040.6 560.5 1035.1 559.5 1029.7 558.5 1024.4 557.5 1019.2 556.5 1014 555.5 1008.9 554.5 1003.8 553.5 998.7 552.5 993.5 551.5 988.4 550.5 983.1 549.5 977.8 548.5 972.3 547.5 966.8 547.2 965.1 546.5 961.1 545.5 955.2 544.5 949.3 543.5 943.2 542.5 937 541.5 930.8 540.5 924.6 539.5 918.3 538.5 912.1 537.5 905.9 536.5 899.8 535.5 893.7 534.5 887.4 533.5 881.1 532.5 874.7 531.5 868.3 530.5 861.9 529.5 855.5 528.5 849.2 527.5 843 526.5 836.8 525.5 830.8 524.5 824.9 523.5 819.3 522.5 813.8 521.5 808.6 520.8 805.1 520.5 803.6 519.5 798.8 518.5 794 517.5 789.3 516.5 784.7 515.5 780.2 514.5 775.9 513.5 771.6 512.5 767.4 511.5 763.4 510.5 759.6 509.5 755.9 508.5 752.3 507.5 748.9 506.5 745.7 506.3 745.1 505.5 742.7 504.5 739.9 503.5 737.3 502.5 734.7 501.5 732.3 500.5 730 499.5 727.6 498.5 725.3 498 724.1 497.5 722.9 496.5 720.5 495.5 718 494.5 715.7 493.5 713.5 492.5 711.6 491.5 709.8 490.5 708.1 489.5 706.7 488.5 705.6 487.5 704.8 486.5 704.1 485.5 703.7 485 703.6 484.5 703.7 483.5 704.1 482.5 704.7 482 705.1 481.5 705.5 480.5 706.5 479.5 707.8 478.5 709.3 478 710.1 477.5 710.9 476.5 712.9 475.5 715.1 474.5 717.5 473.5 719.9 473 721.1 472.5 722.3 471.5 724.7 470.5 727.1 469.5 729.5 468.5 732 467.5 734.6 466.5 737.3 465.5 740 464.5 743 463.8 745.1 463.5 746 462.5 749.3 461.5 752.7 460.5 756.3 459.5 760 458.5 763.8 457.5 767.7 456.5 771.8 455.5 775.9 454.5 780.2 453.5 784.4 452.5 788.8 451.5 793.2 450.5 797.6 449.5 802 448.8 805.1 448.5 806.4 447.5 811 446.5 815.6 445.5 820.4 444.5 825.2 443.5 830.1 442.5 835.1 441.5 840.2 440.5 845.3 439.5 850.4 438.5 855.6 437.5 860.8 436.5 866.1 435.5 871.3 434.5 876.5 433.5 881.7 432.5 886.9 431.5 892 430.5 897.1 429.5 902.1 428.9 905.1 428.5 907.1 427.5 912 426.5 917 425.5 922 424.5 927 423.5 932 422.5 936.9 421.5 941.9 420.5 946.8 419.5 951.8 418.5 956.7 417.5 961.6 416.5 966.4 415.5 971.2 414.5 976 413.5 980.8 412.5 985.5 411.5 990.1 410.5 994.7 409.5 999.3 408.5 1003.8 407.5 1008.2 406.5 1012.6 405.5 1017 404.5 1021.3 403.6 1025.1 403.5 1025.5 402.5 1029.7 401.5 1033.9 400.5 1038 399.5 1042.1 398.5 1046.1 397.5 1050.1 396.5 1054.1 395.5 1058.1 394.5 1062 393.5 1065.9 392.5 1069.8 391.5 1073.7 390.5 1077.5 389.5 1081.3 388.5 1085.1 387.5 1088.9 386.5 1092.7 385.5 1096.4 384.5 1100.2 383.5 1103.9 382.5 1107.7 381.5 1111.4 380.5 1115 379.5 1118.6 378.5 1122.2 377.5 1125.7 376.5 1129.2 375.5 1132.5 374.5 1135.9 373.5 1139.1 372.5 1142.3 371.5 1145.5 370.5 1148.7 369.5 1151.9 368.5 1155 367.5 1158.1 366.5 1161.1 365.5 1164.1 364.5 1166.9 363.5 1169.6 362.5 1172.2 361.5 1174.7 360.5 1177 360 1178.1 359.5 1179.1 358.5 1181 357.5 1182.7 356.5 1184.3 355.5 1185.8 354.5 1187.4 353.5 1189.1 352.5 1191 352 1192.1 351.5 1193.3 350.5 1196.2 349.5 1198.9 349 1200.1 348.5 1201.1 347.5 1202.8 346.5 1204.4 345.5 1205.8 344.5 1207.3 344 1208.1 343.5 1208.9 342.5 1210.5 341.5 1212.2 340.5 1213.9 339.5 1215.5 338.5 1217.1 337.5 1218.7 336.5 1220.3 336.3 1220.6 335.5 1221.8 334.5 1223.3 333.5 1224.8 332.5 1226.2 331.5 1227.7 330.5 1229.1 329.5 1230.4 328.5 1231.8 327.5 1233.1 326.5 1234.4 325.5 1235.6 324.5 1236.8 323.5 1238.1 322.5 1239.2 321.5 1240.4 320.5 1241.5 319.5 1242.6 318.5 1243.7 317.5 1244.6 316.5 1245.6 315.5 1246.5 314.5 1247.4 313.5 1248.3 312.5 1249.2 311.5 1250 310.5 1250.7 309.5 1251.4 308.5 1252 307.5 1252.5 306.5 1252.9 305.5 1253.4 304.5 1253.8 303.5 1254.2 302.5 1254.5 301.5 1254.8 300.5 1255.1 299.5 1255.3 298.5 1255.4 297.5 1255.4 296.5 1255.4 295.5 1255.3 294.5 1255.1 293.5 1255 292.5 1254.8 291.5 1254.5 290.5 1254.3 289.5 1254 288.5 1253.7 287.5 1253.5 286.5 1253.1 285.5 1252.7 284.5 1252.3 283.5 1251.8 282.5 1251.2 281.5 1250.6 280.5 1250 279.5 1249.4 278.5 1248.7 277.5 1248 276.5 1247.3 275.5 1246.5 274.5 1245.6 273.5 1244.6 272.5 1243.7 271.5 1242.6 270.5 1241.6 269.5 1240.5 268.5 1239.4 267.5 1238.2 266.5 1237 265.5 1235.6 264.5 1234.3 263.5 1232.9 262.5 1231.4 261.5 1229.9 260.5 1228.4 259.5 1226.9 258.5 1225.3 257.5 1223.7 256.5 1222.1 255.5 1220.4 254.5 1218.6 253.5 1216.8 252.5 1215 251.5 1213.2 250.5 1211.4 249.5 1209.5 248.5 1207.6 247.5 1205.7 246.5 1203.7 245.5 1201.7 244.5 1199.7 243.5 1197.6 242.5 1195.5ZM244.6 1184 245.6 1186.2 246.6 1188.3 247.6 1190.4 248.6 1192.5 249.6 1194.6 250.6 1196.6 251.6 1198.6 252.6 1200.6 253.6 1202.5 254.6 1204.4 255.6 1206.3 256.6 1208.1 257.6 1209.9 258.6 1211.7 259.6 1213.5 260.6 1215.3 261.6 1217 262.6 1218.6 263.6 1220.2 264.6 1221.8 265.6 1223.3 266.6 1224.8 267.6 1226.3 268.6 1227.8 269.6 1229.2 270.6 1230.5 271.6 1231.9 272.6 1233.1 273.6 1234.3 274.6 1235.4 275.6 1236.5 276.6 1237.5 277.6 1238.6 278.6 1239.5 279.6 1240.5 280.6 1241.4 281.6 1242.2 282.6 1242.9 283.6 1243.6 284.6 1244.3 285.6 1244.9 286.6 1245.5 287.6 1246.1 288.6 1246.7 289.6 1247.2 290.6 1247.6 291.6 1248 292.6 1248.4 293.6 1248.6 294.6 1248.9 295.6 1249.2 296.6 1249.4 297.6 1249.7 298.6 1249.9 299.6 1250 300.6 1250.2 301.6 1250.3 302.6 1250.3 292.4 1250.3 291.4 1250.3 290.4 1250.2 289.4 1250 288.4 1249.9 287.4 1249.7 286.4 1249.4 285.4 1249.2 284.4 1248.9 283.4 1248.6 282.4 1248.4 281.4 1248 280.4 1247.6 279.4 1247.2 278.4 1246.7 277.4 1246.1 276.4 1245.5 275.4 1244.9 274.4 1244.3 273.4 1243.6 272.4 1242.9 271.4 1242.2 270.4 1241.4 269.4 1240.5 268.4 1239.5 267.4 1238.6 266.4 1237.5 265.4 1236.5 264.4 1235.4 263.4 1234.3 262.4 1233.1 261.4 1231.9 260.4 1230.5 259.4 1229.2 258.4 1227.8 257.4 1226.3 256.4 1224.8 255.4 1223.3 254.4 1221.8 253.4 1220.2 252.4 1218.6 251.4 1217 250.4 1215.3 249.4 1213.5 248.4 1211.7 247.4 1209.9 246.4 1208.1 245.4 1206.3 244.4 1204.4 243.4 1202.5 242.4 1200.6 241.4 1198.6 240.4 1196.6 239.4 1194.6 238.4 1192.5 237.4 1190.4 236.4 1188.3 235.4 1186.2 234.4 1184ZM292.4 1250.3 293.4 1250.3 294.4 1250.2 295.4 1250 296.4 1249.7 297.4 1249.4 298.4 1249.1 299.4 1248.7 300.4 1248.3 301.4 1247.8 302.4 1247.4 303.4 1246.9 304.4 1246.3 305.4 1245.6 306.4 1244.9 307.4 1244.1 308.4 1243.2 309.4 1242.3 310.4 1241.4 311.4 1240.5 312.4 1239.5 313.4 1238.6 314.4 1237.5 315.4 1236.4 316.4 1235.3 317.4 1234.1 318.4 1233 319.4 1231.7 320.4 1230.5 321.4 1229.3 322.4 1228 323.4 1226.7 324.4 1225.3 325.4 1224 326.4 1222.6 327.4 1221.1 328.4 1219.7 329.4 1218.2 330.4 1216.7 331.2 1215.5 331.4 1215.2 332.4 1213.6 333.4 1212 334.4 1210.4 335.4 1208.8 336.4 1207.1 337.4 1205.4 338.4 1203.8 338.9 1203 339.4 1202.2 340.4 1200.7 341.4 1199.3 342.4 1197.7 343.4 1196 343.9 1195 344.4 1193.8 345.4 1191.1 346.4 1188.2 346.9 1187 347.4 1185.9 348.4 1184 349.4 1182.3 350.4 1180.7 351.4 1179.2 352.4 1177.6 353.4 1175.9 354.4 1174 354.9 1173 355.4 1171.9 356.4 1169.6 357.4 1167.1 358.4 1164.5 359.4 1161.8 360.4 1159 361.4 1156 362.4 1153 363.4 1149.9 364.4 1146.8 365.4 1143.6 366.4 1140.4 367.4 1137.2 368.4 1134 369.4 1130.8 370.4 1127.4 371.4 1124.1 372.4 1120.6 373.4 1117.1 374.4 1113.5 375.4 1109.9 376.4 1106.3 377.4 1102.6 378.4 1098.8 379.4 1095.1 380.4 1091.3 381.4 1087.6 382.4 1083.8 383.4 1080 384.4 1076.2 385.4 1072.4 386.4 1068.6 387.4 1064.7 388.4 1060.8 389.4 1056.9 390.4 1053 391.4 1049 392.4 1045 393.4 1041 394.4 1037 395.4 1032.9 396.4 1028.8 397.4 1024.6 398.4 1020.4 398.5 1020 399.4 1016.2 400.4 1011.9 401.4 1007.5 402.4 1003.1 403.4 998.7 404.4 994.2 405.4 989.6 406.4 985 407.4 980.4 408.4 975.7 409.4 970.9 410.4 966.1 411.4 961.3 412.4 956.5 413.4 951.6 414.4 946.7 415.4 941.7 416.4 936.8 417.4 931.8 418.4 926.9 419.4 921.9 420.4 916.9 421.4 911.9 422.4 906.9 423.4 902 423.8 900 424.4 897 425.4 892 426.4 886.9 427.4 881.8 428.4 876.6 429.4 871.4 430.4 866.2 431.4 861 432.4 855.7 433.4 850.5 434.4 845.3 435.4 840.2 436.4 835.1 437.4 830 438.4 825 439.4 820.1 440.4 815.3 441.4 810.5 442.4 805.9 443.4 801.3 443.7 800 444.4 796.9 445.4 792.5 446.4 788.1 447.4 783.7 448.4 779.3 449.4 775.1 450.4 770.8 451.4 766.7 452.4 762.6 453.4 758.7 454.4 754.9 455.4 751.2 456.4 747.6 457.4 744.2 458.4 740.9 458.7 740 459.4 737.9 460.4 734.9 461.4 732.2 462.4 729.5 463.4 726.9 464.4 724.4 465.4 722 466.4 719.6 467.4 717.2 467.9 716 468.4 714.8 469.4 712.4 470.4 710 471.4 707.8 472.4 705.8 472.9 705 473.4 704.2 474.4 702.7 475.4 701.4 476.4 700.4 476.9 700 477.4 699.6 478.4 699 479.4 698.6 479.9 698.5 490.1 698.5 489.6 698.6 488.6 699 487.6 699.6 487.1 700 486.6 700.4 485.6 701.4 484.6 702.7 483.6 704.2 483.1 705 482.6 705.8 481.6 707.8 480.6 710 479.6 712.4 478.6 714.8 478.1 716 477.6 717.2 476.6 719.6 475.6 722 474.6 724.4 473.6 726.9 472.6 729.5 471.6 732.2 470.6 734.9 469.6 737.9 468.9 740 468.6 740.9 467.6 744.2 466.6 747.6 465.6 751.2 464.6 754.9 463.6 758.7 462.6 762.6 461.6 766.7 460.6 770.8 459.6 775.1 458.6 779.3 457.6 783.7 456.6 788.1 455.6 792.5 454.6 796.9 453.9 800 453.6 801.3 452.6 805.9 451.6 810.5 450.6 815.3 449.6 820.1 448.6 825 447.6 830 446.6 835.1 445.6 840.2 444.6 845.3 443.6 850.5 442.6 855.7 441.6 861 440.6 866.2 439.6 871.4 438.6 876.6 437.6 881.8 436.6 886.9 435.6 892 434.6 897 434 900 433.6 902 432.6 906.9 431.6 911.9 430.6 916.9 429.6 921.9 428.6 926.9 427.6 931.8 426.6 936.8 425.6 941.7 424.6 946.7 423.6 951.6 422.6 956.5 421.6 961.3 420.6 966.1 419.6 970.9 418.6 975.7 417.6 980.4 416.6 985 415.6 989.6 414.6 994.2 413.6 998.7 412.6 1003.1 411.6 1007.5 410.6 1011.9 409.6 1016.2 408.7 1020 408.6 1020.4 407.6 1024.6 406.6 1028.8 405.6 1032.9 404.6 1037 403.6 1041 402.6 1045 401.6 1049 400.6 1053 399.6 1056.9 398.6 1060.8 397.6 1064.7 396.6 1068.6 395.6 1072.4 394.6 1076.2 393.6 1080 392.6 1083.8 391.6 1087.6 390.6 1091.3 389.6 1095.1 388.6 1098.8 387.6 1102.6 386.6 1106.3 385.6 1109.9 384.6 1113.5 383.6 1117.1 382.6 1120.6 381.6 1124.1 380.6 1127.4 379.6 1130.8 378.6 1134 377.6 1137.2 376.6 1140.4 375.6 1143.6 374.6 1146.8 373.6 1149.9 372.6 1153 371.6 1156 370.6 1159 369.6 1161.8 368.6 1164.5 367.6 1167.1 366.6 1169.6 365.6 1171.9 365.1 1173 364.6 1174 363.6 1175.9 362.6 1177.6 361.6 1179.2 360.6 1180.7 359.6 1182.3 358.6 1184 357.6 1185.9 357.1 1187 356.6 1188.2 355.6 1191.1 354.6 1193.8 354.1 1195 353.6 1196 352.6 1197.7 351.6 1199.3 350.6 1200.7 349.6 1202.2 349.1 1203 348.6 1203.8 347.6 1205.4 346.6 1207.1 345.6 1208.8 344.6 1210.4 343.6 1212 342.6 1213.6 341.6 1215.2 341.4 1215.5 340.6 1216.7 339.6 1218.2 338.6 1219.7 337.6 1221.1 336.6 1222.6 335.6 1224 334.6 1225.3 333.6 1226.7 332.6 1228 331.6 1229.3 330.6 1230.5 329.6 1231.7 328.6 1233 327.6 1234.1 326.6 1235.3 325.6 1236.4 324.6 1237.5 323.6 1238.6 322.6 1239.5 321.6 1240.5 320.6 1241.4 319.6 1242.3 318.6 1243.2 317.6 1244.1 316.6 1244.9 315.6 1245.6 314.6 1246.3 313.6 1246.9 312.6 1247.4 311.6 1247.8 310.6 1248.3 309.6 1248.7 308.6 1249.1 307.6 1249.4 306.6 1249.7 305.6 1250 304.6 1250.2 303.6 1250.3 302.6 1250.3ZM490.1 698.5 490.6 698.6 491.6 699 492.6 699.7 493.6 700.5 494.6 701.6 495.6 703 496.6 704.7 497.6 706.5 498.6 708.4 499.6 710.6 500.6 712.9 501.6 715.4 502.6 717.8 503.1 719 503.6 720.2 504.6 722.5 505.6 724.9 506.6 727.2 507.6 729.6 508.6 732.2 509.6 734.8 510.6 737.6 511.4 740 511.6 740.6 512.6 743.8 513.6 747.2 514.6 750.8 515.6 754.5 516.6 758.3 517.6 762.3 518.6 766.5 519.6 770.8 520.6 775.1 521.6 779.6 522.6 784.2 523.6 788.9 524.6 793.7 525.6 798.5 525.9 800 526.6 803.5 527.6 808.7 528.6 814.2 529.6 819.8 530.6 825.7 531.6 831.7 532.6 837.9 533.6 844.1 534.6 850.4 535.6 856.8 536.6 863.2 537.6 869.6 538.6 876 539.6 882.3 540.6 888.6 541.6 894.7 542.6 900.8 543.6 907 544.6 913.2 545.6 919.5 546.6 925.7 547.6 931.9 548.6 938.1 549.6 944.2 550.6 950.1 551.6 956 552.3 960 552.6 961.7 553.6 967.2 554.6 972.7 555.6 978 556.6 983.3 557.6 988.4 558.6 993.6 559.6 998.7 560.6 1003.8 561.6 1008.9 562.6 1014.1 563.6 1019.3 564.6 1024.6 565.6 1030 566.6 1035.5 567.6 1041.2 568.6 1047 569.6 1052.8 570.6 1058.6 571.6 1064.3 572.6 1069.9 573.6 1075.3 574.6 1080.5 575.6 1085.5 576.6 1090.4 577.6 1095.2 578.6 1100 579.6 1104.6 580.6 1109.2 581.6 1113.7 582.6 1118.1 583.6 1122.5 584.6 1126.9 585.6 1131.2 586.6 1135.5 587.6 1139.8 588.6 1144.2 589.6 1148.5 590.6 1152.8 591.6 1157.1 592.6 1161.4 593.6 1165.6 594.6 1169.8 595.6 1173.9 596.6 1178 597.6 1181.9 598.6 1185.8 599.6 1189.6 600.6 1193.2 601.6 1196.7 602.6 1200.1 603.6 1203.3 604.6 1206.4 605.6 1209.4 606.6 1212.3 607.6 1215.1 608.6 1217.8 609.6 1220.5 610.6 1223.1 611.6 1225.6 612.6 1228.1 613.6 1230.6 614.6 1233.1 615.6 1235.5 616.6 1238 617.6 1240.4 618.6 1242.8 619.6 1245.2 620.6 1247.5 621.6 1249.7 622.6 1252 623.6 1254.1 624.6 1256.2 625.6 1258.2 626.6 1260.2 627.6 1262.1 628.6 1264 629.6 1265.8 630.6 1267.6 631.6 1269.4 632.6 1271.1 633.6 1272.9 634.6 1274.6 635.6 1276.3 636.6 1278 637.6 1279.8 638.6 1281.5 639.6 1283.2 640.6 1284.9 641.6 1286.7 642.6 1288.4 643.6 1290.1 644.6 1291.8 645.6 1293.5 646.6 1295.2 647.6 1296.9 648.6 1298.6 649.6 1300.2 650.6 1301.9 651.6 1303.5 652.6 1305.1 653.6 1306.6 654.6 1308.2 655.6 1309.7 656.6 1311.2 657.6 1312.7 658.6 1314.2 659.6 1315.6 660.6 1317 661.6 1318.3 662.6 1319.7 663.6 1321 664.6 1322.3 665.6 1323.5 666.6 1324.8 667.6 1326 668.6 1327.2 669.6 1328.3 670.6 1329.4 671.6 1330.5 672.6 1331.6 673.6 1332.6 674.6 1333.7 675.6 1334.7 676.6 1335.7 677.6 1336.6 678.6 1337.6 679.6 1338.5 680.6 1339.4 681.6 1340.3 682.6 1341.1 683.6 1342 684.6 1342.8 685.6 1343.6 686.6 1344.4 687.6 1345.2 688.6 1346 689.6 1346.7 690.6 1347.5 691.6 1348.2 692.6 1348.9 693.6 1349.6 694.6 1350.3 695.6 1351 696.6 1351.7 697.6 1352.3 698.6 1353 699.6 1353.6 700.6 1354.3 701.6 1354.9 702.6 1355.5 703.6 1356.1 704.6 1356.7 705.6 1357.4 706.6 1358 707.6 1358.6 708.6 1359.2 709.6 1359.8 710.6 1360.4 711.6 1361 712.6 1361.5 713.6 1362.1 714.6 1362.7 715.6 1363.3 716.6 1363.9 717.6 1364.5 718.6 1365.1 719.6 1365.7 720.6 1366.3 721.6 1366.8 722.6 1367.4 723.6 1368 724.6 1368.6 725.6 1369.1 726.6 1369.7 727.6 1370.2 728.6 1370.8 729.6 1371.3 730.6 1371.9 731.6 1372.4 732.6 1372.9 733.6 1373.4 734.6 1374 735.6 1374.5 736.6 1375 737.6 1375.5 738.6 1375.9 739.6 1376.4 740.6 1376.9 741.6 1377.4 742.6 1377.8 743.6 1378.3 744.6 1378.7 745.6 1379.1 746.6 1379.6 747.6 1380 748.6 1380.4 749.6 1380.8 750.6 1381.3 751.6 1381.7 752.6 1382.1 753.6 1382.4 754.6 1382.8 755.6 1383.2 756.6 1383.6 757.6 1384 758.6 1384.3 759.6 1384.7 760.6 1385 761.6 1385.4 762.6 1385.7 763.6 1386.1 764.6 1386.4 765.6 1386.8 766.6 1387.1 767.6 1387.4 768.6 1387.8 769.6 1388.1 770.6 1388.4 771.6 1388.8 772.6 1389.1 773.6 1389.4 774.6 1389.7 775.6 1390 776.6 1390.3 777.6 1390.6 778.6 1390.9 779.6 1391.2 780.6 1391.6 781.6 1391.9 782.6 1392.2 783.6 1392.5 784.6 1392.7 785.6 1393 786.6 1393.3 787.6 1393.6 788.6 1393.9 789.6 1394.2 790.6 1394.5 791.6 1394.8 792.6 1395.1 793.6 1395.4 794.6 1395.7 795.6 1395.9 796.6 1396.2 797.6 1396.5 798.6 1396.8 799.6 1397.1 800.6 1397.4 801.6 1397.6 802.6 1397.9 803.6 1398.2 804.6 1398.5 794.4 1398.5 793.4 1398.2 792.4 1397.9 791.4 1397.6 790.4 1397.4 789.4 1397.1 788.4 1396.8 787.4 1396.5 786.4 1396.2 785.4 1395.9 784.4 1395.7 783.4 1395.4 782.4 1395.1 781.4 1394.8 780.4 1394.5 779.4 1394.2 778.4 1393.9 777.4 1393.6 776.4 1393.3 775.4 1393 774.4 1392.7 773.4 1392.5 772.4 1392.2 771.4 1391.9 770.4 1391.6 769.4 1391.2 768.4 1390.9 767.4 1390.6 766.4 1390.3 765.4 1390 764.4 1389.7 763.4 1389.4 762.4 1389.1 761.4 1388.8 760.4 1388.4 759.4 1388.1 758.4 1387.8 757.4 1387.4 756.4 1387.1 755.4 1386.8 754.4 1386.4 753.4 1386.1 752.4 1385.7 751.4 1385.4 750.4 1385 749.4 1384.7 748.4 1384.3 747.4 1384 746.4 1383.6 745.4 1383.2 744.4 1382.8 743.4 1382.4 742.4 1382.1 741.4 1381.7 740.4 1381.3 739.4 1380.8 738.4 1380.4 737.4 1380 736.4 1379.6 735.4 1379.1 734.4 1378.7 733.4 1378.3 732.4 1377.8 731.4 1377.4 730.4 1376.9 729.4 1376.4 728.4 1375.9 727.4 1375.5 726.4 1375 725.4 1374.5 724.4 1374 723.4 1373.4 722.4 1372.9 721.4 1372.4 720.4 1371.9 719.4 1371.3 718.4 1370.8 717.4 1370.2 716.4 1369.7 715.4 1369.1 714.4 1368.6 713.4 1368 712.4 1367.4 711.4 1366.8 710.4 1366.3 709.4 1365.7 708.4 1365.1 707.4 1364.5 706.4 1363.9 705.4 1363.3 704.4 1362.7 703.4 1362.1 702.4 1361.5 701.4 1361 700.4 1360.4 699.4 1359.8 698.4 1359.2 697.4 1358.6 696.4 1358 695.4 1357.4 694.4 1356.7 693.4 1356.1 692.4 1355.5 691.4 1354.9 690.4 1354.3 689.4 1353.6 688.4 1353 687.4 1352.3 686.4 1351.7 685.4 1351 684.4 1350.3 683.4 1349.6 682.4 1348.9 681.4 1348.2 680.4 1347.5 679.4 1346.7 678.4 1346 677.4 1345.2 676.4 1344.4 675.4 1343.6 674.4 1342.8 673.4 1342 672.4 1341.1 671.4 1340.3 670.4 1339.4 669.4 1338.5 668.4 1337.6 667.4 1336.6 666.4 1335.7 665.4 1334.7 664.4 1333.7 663.4 1332.6 662.4 1331.6 661.4 1330.5 660.4 1329.4 659.4 1328.3 658.4 1327.2 657.4 1326 656.4 1324.8 655.4 1323.5 654.4 1322.3 653.4 1321 652.4 1319.7 651.4 1318.3 650.4 1317 649.4 1315.6 648.4 1314.2 647.4 1312.7 646.4 1311.2 645.4 1309.7 644.4 1308.2 643.4 1306.6 642.4 1305.1 641.4 1303.5 640.4 1301.9 639.4 1300.2 638.4 1298.6 637.4 1296.9 636.4 1295.2 635.4 1293.5 634.4 1291.8 633.4 1290.1 632.4 1288.4 631.4 1286.7 630.4 1284.9 629.4 1283.2 628.4 1281.5 627.4 1279.8 626.4 1278 625.4 1276.3 624.4 1274.6 623.4 1272.9 622.4 1271.1 621.4 1269.4 620.4 1267.6 619.4 1265.8 618.4 1264 617.4 1262.1 616.4 1260.2 615.4 1258.2 614.4 1256.2 613.4 1254.1 612.4 1252 611.4 1249.7 610.4 1247.5 609.4 1245.2 608.4 1242.8 607.4 1240.4 606.4 1238 605.4 1235.5 604.4 1233.1 603.4 1230.6 602.4 1228.1 601.4 1225.6 600.4 1223.1 599.4 1220.5 598.4 1217.8 597.4 1215.1 596.4 1212.3 595.4 1209.4 594.4 1206.4 593.4 1203.3 592.4 1200.1 591.4 1196.7 590.4 1193.2 589.4 1189.6 588.4 1185.8 587.4 1181.9 586.4 1178 585.4 1173.9 584.4 1169.8 583.4 1165.6 582.4 1161.4 581.4 1157.1 580.4 1152.8 579.4 1148.5 578.4 1144.2 577.4 1139.8 576.4 1135.5 575.4 1131.2 574.4 1126.9 573.4 1122.5 572.4 1118.1 571.4 1113.7 570.4 1109.2 569.4 1104.6 568.4 1100 567.4 1095.2 566.4 1090.4 565.4 1085.5 564.4 1080.5 563.4 1075.3 562.4 1069.9 561.4 1064.3 560.4 1058.6 559.4 1052.8 558.4 1047 557.4 1041.2 556.4 1035.5 555.4 1030 554.4 1024.6 553.4 1019.3 552.4 1014.1 551.4 1008.9 550.4 1003.8 549.4 998.7 548.4 993.6 547.4 988.4 546.4 983.3 545.4 978 544.4 972.7 543.4 967.2 542.4 961.7 542.1 960 541.4 956 540.4 950.1 539.4 944.2 538.4 938.1 537.4 931.9 536.4 925.7 535.4 919.5 534.4 913.2 533.4 907 532.4 900.8 531.4 894.7 530.4 888.6 529.4 882.3 528.4 876 527.4 869.6 526.4 863.2 525.4 856.8 524.4 850.4 523.4 844.1 522.4 837.9 521.4 831.7 520.4 825.7 519.4 819.8 518.4 814.2 517.4 808.7 516.4 803.5 515.7 800 515.4 798.5 514.4 793.7 513.4 788.9 512.4 784.2 511.4 779.6 510.4 775.1 509.4 770.8 508.4 766.5 507.4 762.3 506.4 758.3 505.4 754.5 504.4 750.8 503.4 747.2 502.4 743.8 501.4 740.6 501.2 740 500.4 737.6 499.4 734.8 498.4 732.2 497.4 729.6 496.4 727.2 495.4 724.9 494.4 722.5 493.4 720.2 492.9 719 492.4 717.8 491.4 715.4 490.4 712.9 489.4 710.6 488.4 708.4 487.4 706.5 486.4 704.7 485.4 703 484.4 701.6 483.4 700.5 482.4 699.7 481.4 699 480.4 698.6 479.9 698.5Z"/>
<path fill="none" stroke="#008000" stroke-width="8.9" stroke-linejoin="round" d="M241.5 1188.3 242.5 1190.4 243.5 1192.5 244.5 1194.6 245.5 1196.6 246.5 1198.6 247.5 1200.6 248.5 1202.5 249.5 1204.4 250.5 1206.3 251.5 1208.1 252.5 1209.9 253.5 1211.7 254.5 1213.5 255.5 1215.3 256.5 1217 257.5 1218.6 258.5 1220.2 259.5 1221.8 260.5 1223.3 261.5 1224.8 262.5 1226.3 263.5 1227.8 264.5 1229.2 265.5 1230.5 266.5 1231.9 267.5 1233.1 268.5 1234.3 269.5 1235.4 270.5 1236.5 271.5 1237.5 272.5 1238.6 273.5 1239.5 274.5 1240.5 275.5 1241.4 276.5 1242.2 277.5 1242.9 278.5 1243.6 279.5 1244.3 280.5 1244.9 281.5 1245.5 282.5 1246.1 283.5 1246.7 284.5 1247.2 285.5 1247.6 286.5 1248 287.5 1248.4 288.5 1248.6 289.5 1248.9 290.5 1249.2 291.5 1249.4 292.5 1249.7 293.5 1249.9 294.5 1250 295.5 1250.2 296.5 1250.3 297.5 1250.3 298.5 1250.3 299.5 1250.2 300.5 1250 301.5 1249.7 302.5 1249.4 303.5 1249.1 304.5 1248.7 305.5 1248.3 306.5 1247.8 307.5 1247.4 308.5 1246.9 309.5 1246.3 310.5 1245.6 311.5 1244.9 312.5 1244.1 313.5 1243.2 314.5 1242.3 315.5 1241.4 316.5 1240.5 317.5 1239.5 318.5 1238.6 319.5 1237.5 320.5 1236.4 321.5 1235.3 322.5 1234.1 323.5 1233 324.5 1231.7 325.5 1230.5 326.5 1229.3 327.5 1228 328.5 1226.7 329.5 1225.3 330.5 1224 331.5 1222.6 332.5 1221.1 333.5 1219.7 334.5 1218.2 335.5 1216.7 336.3 1215.5 336.5 1215.2 337.5 1213.6 338.5 1212 339.5 1210.4 340.5 1208.8 341.5 1207.1 342.5 1205.4 343.5 1203.8 344 1203 344.5 1202.2 345.5 1200.7 346.5 1199.3 347.5 1197.7 348.5 1196 349 1195 349.5 1193.8 350.5 1191.1 351.5 1188.2 352 1187 352.5 1185.9 353.5 1184 354.5 1182.3 355.5 1180.7 356.5 1179.2 357.5 1177.6 358.5 1175.9 359.5 1174 360 1173 360.5 1171.9 361.5 1169.6 362.5 1167.1 363.5 1164.5 364.5 1161.8 365.5 1159 366.5 1156 367.5 1153 368.5 1149.9 369.5 1146.8 370.5 1143.6 371.5 1140.4 372.5 1137.2 373.5 1134 374.5 1130.8 375.5 1127.4 376.5 1124.1 377.5 1120.6 378.5 1117.1 379.5 1113.5 380.5 1109.9 381.5 1106.3 382.5 1102.6 383.5 1098.8 384.5 1095.1 385.5 1091.3 386.5 1087.6 387.5 1083.8 388.5 1080 389.5 1076.2 390.5 1072.4 391.5 1068.6 392.5 1064.7 393.5 1060.8 394.5 1056.9 395.5 1053 396.5 1049 397.5 1045 398.5 1041 399.5 1037 400.5 1032.9 401.5 1028.8 402.5 1024.6 403.5 1020.4 403.6 1020 404.5 1016.2 405.5 1011.9 406.5 1007.5 407.5 1003.1 408.5 998.7 409.5 994.2 410.5 989.6 411.5 985 412.5 980.4 413.5 975.7 414.5 970.9 415.5 966.1 416.5 961.3 417.5 956.5 418.5 951.6 419.5 946.7 420.5 941.7 421.5 936.8 422.5 931.8 423.5 926.9 424.5 921.9 425.5 916.9 426.5 911.9 427.5 906.9 428.5 902 428.9 900 429.5 897 430.5 892 431.5 886.9 432.5 881.8 433.5 876.6 434.5 871.4 435.5 866.2 436.5 861 437.5 855.7 438.5 850.5 439.5 845.3 440.5 840.2 441.5 835.1 442.5 830 443.5 825 444.5 820.1 445.5 815.3 446.5 810.5 447.5 805.9 448.5 801.3 448.8 800 449.5 796.9 450.5 792.5 451.5 788.1 452.5 783.7 453.5 779.3 454.5 775.1 455.5 770.8 456.5 766.7 457.5 762.6 458.5 758.7 459.5 754.9 460.5 751.2 461.5 747.6 462.5 744.2 463.5 740.9 463.8 740 464.5 737.9 465.5 734.9 466.5 732.2 467.5 729.5 468.5 726.9 469.5 724.4 470.5 722 471.5 719.6 472.5 717.2 473 716 473.5 714.8 474.5 712.4 475.5 710 476.5 707.8 477.5 705.8 478 705 478.5 704.2 479.5 702.7 480.5 701.4 481.5 700.4 482 700 482.5 699.6 483.5 699 484.5 698.6 485 698.5 485.5 698.6 486.5 699 487.5 699.7 488.5 700.5 489.5 701.6 490.5 703 491.5 704.7 492.5 706.5 493.5 708.4 494.5 710.6 495.5 712.9 496.5 715.4 497.5 717.8 498 719 498.5 720.2 499.5 722.5 500.5 724.9 501.5 727.2 502.5 729.6 503.5 732.2 504.5 734.8 505.5 737.6 506.3 740 506.5 740.6 507.5 743.8 508.5 747.2 509.5 750.8 510.5 754.5 511.5 758.3 512.5 762.3 513.5 766.5 514.5 770.8 515.5 775.1 516.5 779.6 517.5 784.2 518.5 788.9 519.5 793.7 520.5 798.5 520.8 800 521.5 803.5 522.5 808.7 523.5 814.2 524.5 819.8 525.5 825.7 526.5 831.7 527.5 837.9 528.5 844.1 529.5 850.4 530.5 856.8 531.5 863.2 532.5 869.6 533.5 876 534.5 882.3 535.5 888.6 536.5 894.7 537.5 900.8 538.5 907 539.5 913.2 540.5 919.5 541.5 925.7 542.5 931.9 543.5 938.1 544.5 944.2 545.5 950.1 546.5 956 547.2 960 547.5 961.7 548.5 967.2 549.5 972.7 550.5 978 551.5 983.3 552.5 988.4 553.5 993.6 554.5 998.7 555.5 1003.8 556.5 1008.9 557.5 1014.1 558.5 1019.3 559.5 1024.6 560.5 1030 561.5 1035.5 562.5 1041.2 563.5 1047 564.5 1052.8 565.5 1058.6 566.5 1064.3 567.5 1069.9 568.5 1075.3 569.5 1080.5 570.5 1085.5 571.5 1090.4 572.5 1095.2 573.5 1100 574.5 1104.6 575.5 1109.2 576.5 1113.7 577.5 1118.1 578.5 1122.5 579.5 1126.9 580.5 1131.2 581.5 1135.5 582.5 1139.8 583.5 1144.2 584.5 1148.5 585.5 1152.8 586.5 1157.1 587.5 1161.4 588.5 1165.6 589.5 1169.8 590.5 1173.9 591.5 1178 592.5 1181.9 593.5 1185.8 594.5 1189.6 595.5 1193.2 596.5 1196.7 597.5 1200.1 598.5 1203.3 599.5 1206.4 600.5 1209.4 601.5 1212.3 602.5 1215.1 603.5 1217.8 604.5 1220.5 605.5 1223.1 606.5 1225.6 607.5 1228.1 608.5 1230.6 609.5 1233.1 610.5 1235.5 611.5 1238 612.5 1240.4 613.5 1242.8 614.5 1245.2 615.5 1247.5 616.5 1249.7 617.5 1252 618.5 1254.1 619.5 1256.2 620.5 1258.2 621.5 1260.2 622.5 1262.1 623.5 1264 624.5 1265.8 625.5 1267.6 626.5 1269.4 627.5 1271.1 628.5 1272.9 629.5 1274.6 630.5 1276.3 631.5 1278 632.5 1279.8 633.5 1281.5 634.5 1283.2 635.5 1284.9 636.5 1286.7 637.5 1288.4 638.5 1290.1 639.5 1291.8 640.5 1293.5 641.5 1295.2 642.5 1296.9 643.5 1298.6 644.5 1300.2 645.5 1301.9 646.5 1303.5 647.5 1305.1 648.5 1306.6 649.5 1308.2 650.5 1309.7 651.5 1311.2 652.5 1312.7 653.5 1314.2 654.5 1315.6 655.5 1317 656.5 1318.3 657.5 1319.7 658.5 1321 659.5 1322.3 660.5 1323.5 661.5 1324.8 662.5 1326 663.5 1327.2 664.5 1328.3 665.5 1329.4 666.5 1330.5 667.5 1331.6 668.5 1332.6 669.5 1333.7 670.5 1334.7 671.5 1335.7 672.5 1336.6 673.5 1337.6 674.5 1338.5 675.5 1339.4 676.5 1340.3 677.5 1341.1 678.5 1342 679.5 1342.8 680.5 1343.6 681.5 1344.4 682.5 1345.2 683.5 1346 684.5 1346.7 685.5 1347.5 686.5 1348.2 687.5 1348.9 688.5 1349.6 689.5 1350.3 690.5 1351 691.5 1351.7 692.5 1352.3 693.5 1353 694.5 1353.6 695.5 1354.3 696.5 1354.9 697.5 1355.5 698.5 1356.1 699.5 1356.7 700.5 1357.4 701.5 1358 702.5 1358.6 703.5 1359.2 704.5 1359.8 705.5 1360.4 706.5 1361 707.5 1361.5 708.5 1362.1 709.5 1362.7 710.5 1363.3 711.5 1363.9 712.5 1364.5 713.5 1365.1 714.5 1365.7 715.5 1366.3 716.5 1366.8 717.5 1367.4 718.5 1368 719.5 1368.6 720.5 1369.1 721.5 1369.7 722.5 1370.2 723.5 1370.8 724.5 1371.3 725.5 1371.9 726.5 1372.4 727.5 1372.9 728.5 1373.4 729.5 1374 730.5 1374.5 731.5 1375 732.5 1375.5 733.5 1375.9 734.5 1376.4 735.5 1376.9 736.5 1377.4 737.5 1377.8 738.5 1378.3 739.5 1378.7 740.5 1379.1 741.5 1379.6 742.5 1380 743.5 1380.4 744.5 1380.8 745.5 1381.3 746.5 1381.7 747.5 1382.1 748.5 1382.4 749.5 1382.8 750.5 1383.2 751.5 1383.6 752.5 1384 753.5 1384.3 754.5 1384.7 755.5 1385 756.5 1385.4 757.5 1385.7 758.5 1386.1 759.5 1386.4 760.5 1386.8 761.5 1387.1 762.5 1387.4 763.5 1387.8 764.5 1388.1 765.5 1388.4 766.5 1388.8 767.5 1389.1 768.5 1389.4 769.5 1389.7 770.5 1390 771.5 1390.3 772.5 1390.6 773.5 1390.9 774.5 1391.2 775.5 1391.6 776.5 1391.9 777.5 1392.2 778.5 1392.5 779.5 1392.7 780.5 1393 784.5 1394.2 788.5 1395.4 792.5 1396.5 796.5 1397.6 800.5 1398.8 804.5 1399.9 808.5 1401 812.5 1402 816.5 1403.1 820.5 1404.2 824.5 1405.2 828.5 1406.3 832.5 1407.3 836.5 1408.3 840.5 1409.3 844.5 1410.2 848.5 1411.2 852.5 1412.1 856.5 1412.9 860.5 1413.8 864.5 1414.6 868.5 1415.4 872.5 1416.1 876.5 1416.8 880.5 1417.5 884.5 1418.2 888.5 1418.8 892.5 1419.4 896.5 1420 900.5 1420.5 904.5 1421 908.5 1421.6 912.5 1422.1 916.5 1422.5 920.5 1423 924.5 1423.5 928.5 1423.9 932.5 1424.4 936.5 1424.8 940.5 1425.3 944.5 1425.7 948.5 1426.1 952.5 1426.6 956.5 1427 960.5 1427.4 964.5 1427.8 968.5 1428.2 972.5 1428.6 976.5 1429 980.5 1429.4 984.5 1429.8 988.5 1430.1 992.5 1430.5 996.5 1430.8 1000.5 1431.2 1004.5 1431.5 1008.5 1431.8 1012.5 1432.1 1016.5 1432.4 1020.5 1432.6 1024.5 1432.9 1028.5 1433.2 1032.5 1433.4 1036.5 1433.7 1040.5 1434 1044.5 1434.3 1048.5 1434.6 1052.5 1434.9 1056.5 1435.2 1060.5 1435.5 1064.5 1435.9 1068.5 1436.2 1072.5 1436.6 1076.5 1437 1080.5 1437.4 1084.5 1437.7 1088.5 1438.1 1092.5 1438.5 1096.5 1438.9 1100.5 1439.3 1104.5 1439.7 1108.5 1440 1112.5 1440.4 1116.5 1440.7 1120.5 1441 1124.5 1441.4 1128.5 1441.7 1132.5 1441.9 1136.5 1442.2 1140.5 1442.5 1144.5 1442.7 1148.5 1442.9 1152.5 1443.2 1156.5 1443.4 1160.5 1443.6 1164.5 1443.8 1168.5 1444 1172.5 1444.2 1176.5 1444.4 1180.5 1444.6 1184.5 1444.7 1188.5 1444.9 1192.5 1445.1 1196.5 1445.3 1200.5 1445.4 1204.5 1445.6 1208.5 1445.8 1212.5 1445.9 1216.5 1446.1 1220.5 1446.2 1224.5 1446.4 1228.5 1446.5 1232.5 1446.7 1236.5 1446.8 1240.5 1447 1244.5 1447.1 1248.5 1447.3 1252.5 1447.5 1256.5 1447.6 1260.5 1447.8 1264.5 1447.9 1268.5 1448.1 1272.5 1448.2 1276.5 1448.3 1280.5 1448.5 1284.5 1448.6 1288.5 1448.8 1292.5 1448.9 1296.5 1449.1 1300.5 1449.2 1304.5 1449.3 1308.5 1449.5 1312.5 1449.6 1316.5 1449.7 1320.5 1449.9 1324.5 1450 1328.5 1450.1 1332.5 1450.3 1336.5 1450.4 1340.5 1450.5 1343.5 1450.6"/>
<path fill="#808000" d="M242.5 1173.3 243.5 1175.6 244.5 1177.8 245.5 1180 246.5 1182.1 247.5 1184.2 248.5 1186.3 249.5 1188.3 250.5 1190.3 251.5 1192.3 252.5 1194.2 253.5 1196.1 254.5 1198 255.5 1199.9 256.5 1201.7 257.5 1203.4 258.5 1205.1 259.5 1206.7 260.5 1208.3 261.5 1209.9 262.5 1211.4 263.5 1212.9 264.5 1214.3 265.5 1215.7 266.5 1217.1 267.5 1218.4 268.5 1219.7 269.5 1220.9 270.5 1222.1 271.5 1223.2 272.5 1224.4 273.5 1225.5 274.5 1226.5 275.5 1227.5 276.5 1228.4 277.5 1229.3 278.5 1230 279.5 1230.8 280.5 1231.5 281.5 1232.1 282.5 1232.8 283.5 1233.4 284.5 1233.9 285.5 1234.4 286.5 1234.9 287.5 1235.2 288.5 1235.6 289.5 1235.9 290.5 1236.1 291.5 1236.4 292.5 1236.7 293.5 1236.9 294.5 1237.1 295.5 1237.3 296.5 1237.4 297.5 1237.4 298.5 1237.4 299.5 1237.2 300.5 1237 301.5 1236.8 302.5 1236.4 303.5 1236.1 304.5 1235.7 305.5 1235.2 306.5 1234.8 307.5 1234.3 308.5 1233.8 309.5 1233.1 310.5 1232.4 311.5 1231.6 312.5 1230.7 313.5 1229.8 314.5 1228.8 315.5 1227.9 316.5 1226.9 317.5 1225.9 318.5 1224.9 319.5 1223.8 320.5 1222.7 321.5 1221.5 322.5 1220.3 323.5 1219 324.5 1217.8 325.5 1216.5 326.5 1215.2 327.5 1213.8 328.5 1212.5 329.5 1211.1 330.5 1209.7 331.5 1208.2 332.5 1206.7 333.5 1205.2 334.5 1203.7 335.5 1202.2 336.3 1200.9 336.5 1200.6 337.5 1199 338.5 1197.3 339.5 1195.6 340.5 1193.9 341.5 1192.1 342.5 1190.4 343.5 1188.7 344 1187.9 344.5 1187.1 345.5 1185.6 346.5 1184.2 347.5 1182.6 348.5 1180.9 349 1179.9 349.5 1178.8 350.5 1176 351.5 1173.1 352 1171.9 352.5 1170.8 353.5 1168.9 354.5 1167.2 355.5 1165.6 356.5 1163.9 357.5 1162 358 1160.9 358.5 1159.8 359.5 1157.4 360.5 1154.8 361.5 1152.1 362.5 1149.2 363.5 1146.2 364.5 1143.1 365.5 1140 366.5 1136.9 367.5 1133.7 368.5 1130.5 369 1128.9 369.5 1127.3 370.5 1124.1 371.5 1120.8 372.5 1117.5 373.5 1114.1 374.5 1110.6 375.5 1107.2 376.5 1103.6 377.5 1100.1 378.5 1096.5 379.5 1092.9 380.5 1089.3 381.5 1085.7 382.5 1082.1 383.5 1078.5 384.5 1074.9 385.5 1071.3 386.5 1067.7 387.5 1064.2 388.5 1060.7 389.5 1057.1 390.5 1053.5 391.5 1050 392.5 1046.3 393.5 1042.7 394.5 1039 395.5 1035.2 396.5 1031.4 397.5 1027.5 398.5 1023.6 399.5 1019.5 400.5 1015.3 400.6 1014.9 401.5 1011 402.5 1006.5 403.5 1001.8 404.5 997.1 405.5 992.2 406.5 987.3 407.5 982.4 408 979.9 408.5 977.4 409.5 972.5 410.5 967.4 411.5 962.3 412.5 957.1 413.5 951.9 414.5 946.7 415.5 941.4 416.5 936.1 417.5 930.9 418.5 925.6 419.5 920.4 420.5 915.2 421.5 910 422.5 904.9 423.5 899.9 424.5 894.9 425.5 890 426.5 885.1 427.5 880.2 428.5 875.4 429.5 870.6 430.5 865.8 431.5 861 432.5 856.2 433.5 851.5 434.5 846.8 435.5 842.1 436.5 837.4 437.5 832.8 438.5 828.1 439.5 823.5 440.5 818.8 441.5 814.2 442.5 809.6 443.5 805 444.5 800.4 445.5 795.8 445.7 794.9 446.5 791.2 447.5 786.5 448.5 781.7 449.5 776.9 450.5 772.1 451.5 767.4 452.5 762.6 453.5 758 454.5 753.5 455.5 749.1 456.5 744.9 457.5 740.9 458.5 737.1 459.1 734.9 459.5 733.5 460.5 730.1 461.5 726.8 462.5 723.5 463.5 720.4 464.5 717.4 465.5 714.5 466.5 711.8 467.5 709.1 468.5 706.5 469.5 704.1 470 702.9 470.5 701.7 471.5 699.5 472.5 697.4 473.5 695.3 474.5 693.5 475.5 691.7 476 690.9 476.5 690.1 477.5 688.5 478.5 687.1 479.5 685.8 480.5 684.9 481.5 684.2 482.5 683.5 483.5 683 484.3 682.9 484.5 682.9 485.5 683.2 486.5 683.8 487.5 684.6 488.5 685.4 489.5 686.4 490.5 687.8 491.5 689.3 492.5 691 493 691.9 493.5 692.8 494.5 694.7 495.5 696.7 496.5 698.9 497.5 701.2 498.5 703.6 499 704.9 499.5 706.2 500.5 709 501.5 712 502.5 715.1 503.5 718.4 504.5 721.8 505.5 725.3 506.5 728.8 507.5 732.4 508.2 734.9 508.5 736 509.5 739.6 510.5 743.1 511.5 746.8 512.5 750.4 513.5 754.1 514.5 757.9 515.5 761.8 516.5 765.7 517.5 769.8 518.5 773.9 519.5 778.2 520.5 782.7 521.5 787.2 522.5 792 523.1 794.9 523.5 796.9 524.5 802.2 525.5 807.8 526.5 813.6 527.5 819.8 528.5 826.1 529.5 832.7 530.5 839.3 531.5 846.1 532.5 852.9 533.5 859.7 534.5 866.5 535.5 873.3 536.5 879.9 537.5 886.4 538 889.6 538.5 892.8 539.5 899.1 540.5 905.6 541.5 912 542.5 918.4 543.5 924.8 544.5 931.2 545.5 937.4 546.5 943.6 547.5 949.6 548.4 954.9 548.5 955.5 549.5 961.2 550.5 966.7 551.5 972.2 552.5 977.5 553.5 982.8 554.5 988.1 555.5 993.3 556.5 998.4 557.5 1003.6 558.5 1008.9 559.5 1014.1 560.5 1019.5 561.5 1024.9 562.5 1030.5 563.5 1036.2 564.5 1041.9 565.5 1047.7 566.5 1053.5 567.5 1059.2 568.5 1064.8 569.5 1070.2 570.5 1075.4 571.5 1080.5 572.5 1085.4 573.5 1090.3 574.5 1095.1 575.5 1099.8 576.5 1104.4 577.5 1109 578.5 1113.5 579.5 1117.9 580.5 1122.3 581.5 1126.6 582.5 1130.8 583.5 1135.1 584.5 1139.3 585.5 1143.6 586.5 1147.8 587.5 1151.9 588.5 1156.1 589.5 1160.1 590.5 1164.1 591.5 1168 592.5 1171.9 593.5 1175.7 594.5 1179.3 595.5 1182.9 596.5 1186.3 597.5 1189.6 598.5 1192.8 599.5 1195.9 600.5 1198.8 601.5 1201.7 602.5 1204.5 603.5 1207.2 604.5 1209.8 605.5 1212.4 606.5 1215 607.5 1217.5 608.5 1220 609.5 1222.5 610.5 1225 611.5 1227.5 612.5 1230 613.5 1232.4 614.5 1234.8 615.5 1237.2 616.5 1239.5 617.5 1241.7 618.5 1243.9 619.5 1246 620.5 1248 621.5 1250 622.5 1251.9 623.5 1253.8 624.5 1255.6 625.5 1257.4 626.5 1259.2 627.5 1260.9 628.5 1262.7 629.5 1264.4 630.5 1266.2 631.5 1267.9 632.5 1269.6 633.5 1271.4 634.5 1273.1 635.5 1274.9 636.5 1276.7 637.5 1278.4 638.5 1280.2 639.5 1281.9 640.5 1283.7 641.5 1285.4 642.5 1287.1 643.5 1288.8 644.5 1290.5 645.5 1292.1 646.5 1293.7 647.5 1295.4 648.5 1296.9 649.5 1298.5 650.5 1300.1 651.5 1301.6 652.5 1303.1 653.5 1304.5 654.5 1306 655.5 1307.4 656.5 1308.7 657.5 1310.1 658.5 1311.4 659.5 1312.7 660.5 1314 661.5 1315.2 662.5 1316.4 663.5 1317.6 664.5 1318.7 665.5 1319.8 666.5 1320.9 667.5 1322 668.5 1323.1 669.5 1324.1 670.5 1325.1 671.5 1326 672.5 1327 673.5 1327.9 674.5 1328.9 675.5 1329.8 676.5 1330.6 677.5 1331.5 678.5 1332.3 679.5 1333.2 680.5 1334 681.5 1334.8 682.5 1335.6 683.5 1336.3 684.5 1337.1 685.5 1337.8 686.5 1338.6 687.5 1339.3 688.5 1340 689.5 1340.7 690.5 1341.4 691.5 1342 692.5 1342.7 693.5 1343.4 694.5 1344 695.5 1344.6 696.5 1345.3 697.5 1345.9 698.5 1346.5 699.5 1347.2 700.5 1347.8 701.5 1348.4 702.5 1349 703.5 1349.6 704.5 1350.2 705.5 1350.8 706.5 1351.4 707.5 1352 708.5 1352.6 709.5 1353.2 710.5 1353.8 711.5 1354.4 712.5 1355 713.5 1355.6 714.5 1356.2 715.5 1356.8 716.5 1357.4 717.5 1357.9 718.5 1358.5 719.5 1359.1 720.5 1359.7 721.5 1360.2 722.5 1360.8 723.5 1361.3 724.5 1361.9 725.5 1362.4 726.5 1362.9 727.5 1363.5 728.5 1364 729.5 1364.5 730.5 1365 731.5 1365.5 732.5 1366 733.5 1366.4 734.5 1366.9 735.5 1367.4 736.5 1367.8 737.5 1368.3 738.5 1368.7 739.5 1369.2 740.5 1369.6 741.5 1370 742.5 1370.5 743.5 1370.9 744.5 1371.3 745.5 1371.7 746.5 1372.1 747.5 1372.5 748.5 1372.9 749.5 1373.3 750.5 1373.6 751.5 1374 752.5 1374.4 753.5 1374.8 754.5 1375.1 755.5 1375.5 756.5 1375.8 757.5 1376.2 758.5 1376.5 759.5 1376.9 760.5 1377.2 761.5 1377.5 762.5 1377.9 763.5 1378.2 764.5 1378.5 765.5 1378.9 766.5 1379.2 767.5 1379.5 768.5 1379.8 769.5 1380.1 770.5 1380.4 771.5 1380.8 772.5 1381.1 773.5 1381.4 774.5 1381.7 775.5 1382 776.5 1382.3 777.5 1382.6 778.5 1382.9 779.5 1383.2 780.5 1383.5 784.5 1384.7 788.5 1385.9 792.5 1387 796.5 1388.2 800.5 1389.3 804.5 1390.4 808.5 1391.6 812.5 1392.7 816.5 1393.8 820.5 1394.9 824.5 1396 828.5 1397 832.5 1398.1 836.5 1399.1 840.5 1400.1 844.5 1401.1 848.5 1402.1 852.5 1403 856.5 1403.9 860.5 1404.8 864.5 1405.6 868.5 1406.4 872.5 1407.2 876.5 1408 880.5 1408.7 884.5 1409.4 888.5 1410 892.5 1410.7 896.5 1411.3 900.5 1411.9 904.5 1412.5 908.5 1413 912.5 1413.5 916.5 1414.1 920.5 1414.6 924.5 1415.1 928.5 1415.6 932.5 1416.1 936.5 1416.5 940.5 1417 944.5 1417.5 948.5 1417.9 952.5 1418.4 956.5 1418.8 960.5 1419.3 964.5 1419.7 968.5 1420.1 972.5 1420.5 976.5 1420.9 980.5 1421.3 984.5 1421.7 988.5 1422 992.5 1422.4 996.5 1422.7 1000.5 1423 1004.5 1423.4 1008.5 1423.6 1012.5 1423.9 1016.5 1424.2 1020.5 1424.5 1024.5 1424.8 1028.5 1425 1032.5 1425.3 1036.5 1425.6 1040.5 1425.8 1044.5 1426.1 1048.5 1426.4 1052.5 1426.7 1056.5 1427.1 1060.5 1427.4 1064.5 1427.8 1068.5 1428.1 1072.5 1428.5 1076.5 1428.9 1080.5 1429.3 1084.5 1429.7 1088.5 1430.2 1092.5 1430.6 1096.5 1431 1100.5 1431.4 1104.5 1431.8 1108.5 1432.1 1112.5 1432.5 1116.5 1432.8 1120.5 1433.1 1124.5 1433.4 1128.5 1433.7 1132.5 1433.9 1136.5 1434.2 1140.5 1434.4 1144.5 1434.6 1148.5 1434.8 1152.5 1435 1156.5 1435.2 1160.5 1435.4 1164.5 1435.6 1168.5 1435.8 1172.5 1435.9 1176.5 1436.1 1180.5 1436.3 1184.5 1436.5 1188.5 1436.7 1192.5 1436.9 1196.5 1437.2 1200.5 1437.4 1204.5 1437.6 1208.5 1437.8 1212.5 1438.1 1216.5 1438.3 1220.5 1438.5 1224.5 1438.8 1228.5 1439 1232.5 1439.2 1236.5 1439.5 1240.5 1439.7 1244.5 1439.9 1248.5 1440.1 1252.5 1440.4 1256.5 1440.6 1260.5 1440.8 1264.5 1441 1268.5 1441.2 1272.5 1441.4 1276.5 1441.6 1280.5 1441.8 1284.5 1442 1288.5 1442.2 1292.5 1442.4 1296.5 1442.6 1300.5 1442.7 1304.5 1442.9 1308.5 1443.1 1312.5 1443.2 1316.5 1443.4 1320.5 1443.5 1324.5 1443.7 1328.5 1443.8 1332.5 1443.9 1336.5 1444.1 1340.5 1444.2 1343.5 1444.3 1343.5 1454.5 1340.5 1454.4 1336.5 1454.3 1332.5 1454.1 1328.5 1454 1324.5 1453.9 1320.5 1453.7 1316.5 1453.6 1312.5 1453.4 1308.5 1453.3 1304.5 1453.1 1300.5 1452.9 1296.5 1452.8 1292.5 1452.6 1288.5 1452.4 1284.5 1452.2 1280.5 1452 1276.5 1451.8 1272.5 1451.6 1268.5 1451.4 1264.5 1451.2 1260.5 1451 1256.5 1450.8 1252.5 1450.6 1248.5 1450.3 1244.5 1450.1 1240.5 1449.9 1236.5 1449.7 1232.5 1449.4 1228.5 1449.2 1224.5 1449 1220.5 1448.7 1216.5 1448.5 1212.5 1448.3 1208.5 1448 1204.5 1447.8 1200.5 1447.6 1196.5 1447.4 1192.5 1447.1 1188.5 1446.9 1184.5 1446.7 1180.5 1446.5 1176.5 1446.3 1172.5 1446.1 1168.5 1446 1164.5 1445.8 1160.5 1445.6 1156.5 1445.4 1152.5 1445.2 1148.5 1445 1144.5 1444.8 1140.5 1444.6 1136.5 1444.4 1132.5 1444.1 1128.5 1443.9 1124.5 1443.6 1120.5 1443.3 1116.5 1443 1112.5 1442.7 1108.5 1442.3 1104.5 1442 1100.5 1441.6 1096.5 1441.2 1092.5 1440.8 1088.5 1440.4 1084.5 1439.9 1080.5 1439.5 1076.5 1439.1 1072.5 1438.7 1068.5 1438.3 1064.5 1438 1060.5 1437.6 1056.5 1437.3 1052.5 1436.9 1048.5 1436.6 1044.5 1436.3 1040.5 1436 1036.5 1435.8 1032.5 1435.5 1028.5 1435.2 1024.5 1435 1020.5 1434.7 1016.5 1434.4 1012.5 1434.1 1008.5 1433.8 1004.5 1433.6 1000.5 1433.2 996.5 1432.9 992.5 1432.6 988.5 1432.2 984.5 1431.9 980.5 1431.5 976.5 1431.1 972.5 1430.7 968.5 1430.3 964.5 1429.9 960.5 1429.5 956.5 1429 952.5 1428.6 948.5 1428.1 944.5 1427.7 940.5 1427.2 936.5 1426.7 932.5 1426.3 928.5 1425.8 924.5 1425.3 920.5 1424.8 916.5 1424.3 912.5 1423.7 908.5 1423.2 904.5 1422.7 900.5 1422.1 896.5 1421.5 892.5 1420.9 888.5 1420.2 884.5 1419.6 880.5 1418.9 876.5 1418.2 872.5 1417.4 868.5 1416.6 864.5 1415.8 860.5 1415 856.5 1414.1 852.5 1413.2 848.5 1412.3 844.5 1411.3 840.5 1410.3 836.5 1409.3 832.5 1408.3 828.5 1407.2 824.5 1406.2 820.5 1405.1 816.5 1404 812.5 1402.9 808.5 1401.8 804.5 1400.6 800.5 1399.5 796.5 1398.4 792.5 1397.2 788.5 1396.1 784.5 1394.9 780.5 1393.7 779.5 1393.4 778.5 1393.1 777.5 1392.8 776.5 1392.5 775.5 1392.2 774.5 1391.9 773.5 1391.6 772.5 1391.3 771.5 1391 770.5 1390.6 769.5 1390.3 768.5 1390 767.5 1389.7 766.5 1389.4 765.5 1389.1 764.5 1388.7 763.5 1388.4 762.5 1388.1 761.5 1387.7 760.5 1387.4 759.5 1387.1 758.5 1386.7 757.5 1386.4 756.5 1386 755.5 1385.7 754.5 1385.3 753.5 1385 752.5 1384.6 751.5 1384.2 750.5 1383.8 749.5 1383.5 748.5 1383.1 747.5 1382.7 746.5 1382.3 745.5 1381.9 744.5 1381.5 743.5 1381.1 742.5 1380.7 741.5 1380.2 740.5 1379.8 739.5 1379.4 738.5 1378.9 737.5 1378.5 736.5 1378 735.5 1377.6 734.5 1377.1 733.5 1376.6 732.5 1376.2 731.5 1375.7 730.5 1375.2 729.5 1374.7 728.5 1374.2 727.5 1373.7 726.5 1373.1 725.5 1372.6 724.5 1372.1 723.5 1371.5 722.5 1371 721.5 1370.4 720.5 1369.9 719.5 1369.3 718.5 1368.7 717.5 1368.1 716.5 1367.6 715.5 1367 714.5 1366.4 713.5 1365.8 712.5 1365.2 711.5 1364.6 710.5 1364 709.5 1363.4 708.5 1362.8 707.5 1362.2 706.5 1361.6 705.5 1361 704.5 1360.4 703.5 1359.8 702.5 1359.2 701.5 1358.6 700.5 1358 699.5 1357.4 698.5 1356.7 697.5 1356.1 696.5 1355.5 695.5 1354.8 694.5 1354.2 693.5 1353.6 692.5 1352.9 691.5 1352.2 690.5 1351.6 689.5 1350.9 688.5 1350.2 687.5 1349.5 686.5 1348.8 685.5 1348 684.5 1347.3 683.5 1346.5 682.5 1345.8 681.5 1345 680.5 1344.2 679.5 1343.4 678.5 1342.5 677.5 1341.7 676.5 1340.8 675.5 1340 674.5 1339.1 673.5 1338.1 672.5 1337.2 671.5 1336.2 670.5 1335.3 669.5 1334.3 668.5 1333.3 667.5 1332.2 666.5 1331.1 665.5 1330 664.5 1328.9 663.5 1327.8 662.5 1326.6 661.5 1325.4 660.5 1324.2 659.5 1322.9 658.5 1321.6 657.5 1320.3 656.5 1318.9 655.5 1317.6 654.5 1316.2 653.5 1314.7 652.5 1313.3 651.5 1311.8 650.5 1310.3 649.5 1308.7 648.5 1307.1 647.5 1305.6 646.5 1303.9 645.5 1302.3 644.5 1300.7 643.5 1299 642.5 1297.3 641.5 1295.6 640.5 1293.9 639.5 1292.1 638.5 1290.4 637.5 1288.6 636.5 1286.9 635.5 1285.1 634.5 1283.3 633.5 1281.6 632.5 1279.8 631.5 1278.1 630.5 1276.4 629.5 1274.6 628.5 1272.9 627.5 1271.1 626.5 1269.4 625.5 1267.6 624.5 1265.8 623.5 1264 622.5 1262.1 621.5 1260.2 620.5 1258.2 619.5 1256.2 618.5 1254.1 617.5 1251.9 616.5 1249.7 615.5 1247.4 614.5 1245 613.5 1242.6 612.5 1240.2 611.5 1237.7 610.5 1235.2 609.5 1232.7 608.5 1230.2 607.5 1227.7 606.5 1225.2 605.5 1222.6 604.5 1220 603.5 1217.4 602.5 1214.7 601.5 1211.9 600.5 1209 599.5 1206.1 598.5 1203 597.5 1199.8 596.5 1196.5 595.5 1193.1 594.5 1189.5 593.5 1185.9 592.5 1182.1 591.5 1178.2 590.5 1174.3 589.5 1170.3 588.5 1166.3 587.5 1162.1 586.5 1158 585.5 1153.8 584.5 1149.5 583.5 1145.3 582.5 1141 581.5 1136.8 580.5 1132.5 579.5 1128.1 578.5 1123.7 577.5 1119.2 576.5 1114.6 575.5 1110 574.5 1105.3 573.5 1100.5 572.5 1095.6 571.5 1090.7 570.5 1085.6 569.5 1080.4 568.5 1075 567.5 1069.4 566.5 1063.7 565.5 1057.9 564.5 1052.1 563.5 1046.4 562.5 1040.7 561.5 1035.1 560.5 1029.7 559.5 1024.3 558.5 1019.1 557.5 1013.8 556.5 1008.6 555.5 1003.5 554.5 998.3 553.5 993 552.5 987.7 551.5 982.4 550.5 976.9 549.5 971.4 548.5 965.7 548.4 965.1 547.5 959.8 546.5 953.8 545.5 947.6 544.5 941.4 543.5 935 542.5 928.6 541.5 922.2 540.5 915.8 539.5 909.3 538.5 903 538 899.8 537.5 896.6 536.5 890.1 535.5 883.5 534.5 876.7 533.5 869.9 532.5 863.1 531.5 856.3 530.5 849.5 529.5 842.9 528.5 836.3 527.5 830 526.5 823.8 525.5 818 524.5 812.4 523.5 807.1 523.1 805.1 522.5 802.2 521.5 797.4 520.5 792.9 519.5 788.4 518.5 784.1 517.5 780 516.5 775.9 515.5 772 514.5 768.1 513.5 764.3 512.5 760.6 511.5 757 510.5 753.3 509.5 749.8 508.5 746.2 508.2 745.1 507.5 742.6 506.5 739 505.5 735.5 504.5 732 503.5 728.6 502.5 725.3 501.5 722.2 500.5 719.2 499.5 716.4 499 715.1 498.5 713.8 497.5 711.4 496.5 709.1 495.5 706.9 494.5 704.9 493.5 703 493 702.1 492.5 701.2 491.5 699.5 490.5 698 489.5 696.6 488.5 695.6 487.5 694.8 486.5 694 485.5 693.4 484.5 693.1 484.3 693.1 483.5 693.2 482.5 693.7 481.5 694.4 480.5 695.1 479.5 696 478.5 697.3 477.5 698.7 476.5 700.3 476 701.1 475.5 701.9 474.5 703.7 473.5 705.5 472.5 707.6 471.5 709.7 470.5 711.9 470 713.1 469.5 714.3 468.5 716.7 467.5 719.3 466.5 722 465.5 724.7 464.5 727.6 463.5 730.6 462.5 733.7 461.5 737 460.5 740.3 459.5 743.7 459.1 745.1 458.5 747.3 457.5 751.1 456.5 755.1 455.5 759.3 454.5 763.7 453.5 768.2 452.5 772.8 451.5 777.6 450.5 782.3 449.5 787.1 448.5 791.9 447.5 796.7 446.5 801.4 445.7 805.1 445.5 806 444.5 810.6 443.5 815.2 442.5 819.8 441.5 824.4 440.5 829 439.5 833.7 438.5 838.3 437.5 843 436.5 847.6 435.5 852.3 434.5 857 433.5 861.7 432.5 866.4 431.5 871.2 430.5 876 429.5 880.8 428.5 885.6 427.5 890.4 426.5 895.3 425.5 900.2 424.5 905.1 423.5 910.1 422.5 915.1 421.5 920.2 420.5 925.4 419.5 930.6 418.5 935.8 417.5 941.1 416.5 946.3 415.5 951.6 414.5 956.9 413.5 962.1 412.5 967.3 411.5 972.5 410.5 977.6 409.5 982.7 408.5 987.6 408 990.1 407.5 992.6 406.5 997.5 405.5 1002.4 404.5 1007.3 403.5 1012 402.5 1016.7 401.5 1021.2 400.6 1025.1 400.5 1025.5 399.5 1029.7 398.5 1033.8 397.5 1037.7 396.5 1041.6 395.5 1045.4 394.5 1049.2 393.5 1052.9 392.5 1056.5 391.5 1060.2 390.5 1063.7 389.5 1067.3 388.5 1070.9 387.5 1074.4 386.5 1077.9 385.5 1081.5 384.5 1085.1 383.5 1088.7 382.5 1092.3 381.5 1095.9 380.5 1099.5 379.5 1103.1 378.5 1106.7 377.5 1110.3 376.5 1113.8 375.5 1117.4 374.5 1120.8 373.5 1124.3 372.5 1127.7 371.5 1131 370.5 1134.3 369.5 1137.5 369 1139.1 368.5 1140.7 367.5 1143.9 366.5 1147.1 365.5 1150.2 364.5 1153.3 363.5 1156.4 362.5 1159.4 361.5 1162.3 360.5 1165 359.5 1167.6 358.5 1170 358 1171.1 357.5 1172.2 356.5 1174.1 355.5 1175.8 354.5 1177.4 353.5 1179.1 352.5 1181 352 1182.1 351.5 1183.3 350.5 1186.2 349.5 1189 349 1190.1 348.5 1191.1 347.5 1192.8 346.5 1194.4 345.5 1195.8 344.5 1197.3 344 1198.1 343.5 1198.9 342.5 1200.6 341.5 1202.3 340.5 1204.1 339.5 1205.8 338.5 1207.5 337.5 1209.2 336.5 1210.8 336.3 1211.1 335.5 1212.4 334.5 1213.9 333.5 1215.4 332.5 1216.9 331.5 1218.4 330.5 1219.9 329.5 1221.3 328.5 1222.7 327.5 1224 326.5 1225.4 325.5 1226.7 324.5 1228 323.5 1229.2 322.5 1230.5 321.5 1231.7 320.5 1232.9 319.5 1234 318.5 1235.1 317.5 1236.1 316.5 1237.1 315.5 1238.1 314.5 1239 313.5 1240 312.5 1240.9 311.5 1241.8 310.5 1242.6 309.5 1243.3 308.5 1244 307.5 1244.5 306.5 1245 305.5 1245.4 304.5 1245.9 303.5 1246.3 302.5 1246.6 301.5 1247 300.5 1247.2 299.5 1247.4 298.5 1247.6 297.5 1247.6 296.5 1247.6 295.5 1247.5 294.5 1247.3 293.5 1247.1 292.5 1246.9 291.5 1246.6 290.5 1246.3 289.5 1246.1 288.5 1245.8 287.5 1245.4 286.5 1245.1 285.5 1244.6 284.5 1244.1 283.5 1243.6 282.5 1243 281.5 1242.3 280.5 1241.7 279.5 1241 278.5 1240.2 277.5 1239.5 276.5 1238.6 275.5 1237.7 274.5 1236.7 273.5 1235.7 272.5 1234.6 271.5 1233.4 270.5 1232.3 269.5 1231.1 268.5 1229.9 267.5 1228.6 266.5 1227.3 265.5 1225.9 264.5 1224.5 263.5 1223.1 262.5 1221.6 261.5 1220.1 260.5 1218.5 259.5 1216.9 258.5 1215.3 257.5 1213.6 256.5 1211.9 255.5 1210.1 254.5 1208.2 253.5 1206.3 252.5 1204.4 251.5 1202.5 250.5 1200.5 249.5 1198.5 248.5 1196.5 247.5 1194.4 246.5 1192.3 245.5 1190.2 244.5 1188 243.5 1185.8 242.5 1183.5ZM244.6 1171.5 245.6 1173.8 246.6 1176.2 247.6 1178.4 248.6 1180.7 249.6 1182.9 250.6 1185.1 251.6 1187.2 252.6 1189.3 253.6 1191.4 254.6 1193.4 255.6 1195.4 256.6 1197.4 257.6 1199.3 258.6 1201.2 259.6 1203.1 260.6 1205 261.6 1206.8 262.6 1208.5 263.6 1210.2 264.6 1211.8 265.6 1213.4 266.6 1215 267.6 1216.5 268.6 1218 269.6 1219.4 270.6 1220.8 271.6 1222.2 272.6 1223.5 273.6 1224.8 274.6 1226 275.6 1227.2 276.6 1228.3 277.6 1229.5 278.6 1230.6 279.6 1231.6 280.6 1232.6 281.6 1233.5 282.6 1234.4 283.6 1235.1 284.6 1235.9 285.6 1236.6 286.6 1237.2 287.6 1237.9 288.6 1238.5 289.6 1239 290.6 1239.5 291.6 1240 292.6 1240.3 293.6 1240.7 294.6 1241 295.6 1241.2 296.6 1241.5 297.6 1241.8 298.6 1242 299.6 1242.2 300.6 1242.4 301.6 1242.5 302.6 1242.5 292.4 1242.5 291.4 1242.5 290.4 1242.4 289.4 1242.2 288.4 1242 287.4 1241.8 286.4 1241.5 285.4 1241.2 284.4 1241 283.4 1240.7 282.4 1240.3 281.4 1240 280.4 1239.5 279.4 1239 278.4 1238.5 277.4 1237.9 276.4 1237.2 275.4 1236.6 274.4 1235.9 273.4 1235.1 272.4 1234.4 271.4 1233.5 270.4 1232.6 269.4 1231.6 268.4 1230.6 267.4 1229.5 266.4 1228.3 265.4 1227.2 264.4 1226 263.4 1224.8 262.4 1223.5 261.4 1222.2 260.4 1220.8 259.4 1219.4 258.4 1218 257.4 1216.5 256.4 1215 255.4 1213.4 254.4 1211.8 253.4 1210.2 252.4 1208.5 251.4 1206.8 250.4 1205 249.4 1203.1 248.4 1201.2 247.4 1199.3 246.4 1197.4 245.4 1195.4 244.4 1193.4 243.4 1191.4 242.4 1189.3 241.4 1187.2 240.4 1185.1 239.4 1182.9 238.4 1180.7 237.4 1178.4 236.4 1176.2 235.4 1173.8 234.4 1171.5ZM292.4 1242.5 293.4 1242.5 294.4 1242.3 295.4 1242.1 296.4 1241.9 297.4 1241.5 298.4 1241.2 299.4 1240.8 300.4 1240.3 301.4 1239.9 302.4 1239.4 303.4 1238.9 304.4 1238.2 305.4 1237.5 306.4 1236.7 307.4 1235.8 308.4 1234.9 309.4 1233.9 310.4 1233 311.4 1232 312.4 1231 313.4 1230 314.4 1228.9 315.4 1227.8 316.4 1226.6 317.4 1225.4 318.4 1224.1 319.4 1222.9 320.4 1221.6 321.4 1220.3 322.4 1218.9 323.4 1217.6 324.4 1216.2 325.4 1214.8 326.4 1213.3 327.4 1211.8 328.4 1210.3 329.4 1208.8 330.4 1207.3 331.2 1206 331.4 1205.7 332.4 1204.1 333.4 1202.4 334.4 1200.7 335.4 1199 336.4 1197.2 337.4 1195.5 338.4 1193.8 338.9 1193 339.4 1192.2 340.4 1190.7 341.4 1189.3 342.4 1187.7 343.4 1186 343.9 1185 344.4 1183.9 345.4 1181.1 346.4 1178.2 346.9 1177 347.4 1175.9 348.4 1174 349.4 1172.3 350.4 1170.7 351.4 1169 352.4 1167.1 352.9 1166 353.4 1164.9 354.4 1162.5 355.4 1159.9 356.4 1157.2 357.4 1154.3 358.4 1151.3 359.4 1148.2 360.4 1145.1 361.4 1142 362.4 1138.8 363.4 1135.6 363.9 1134 364.4 1132.4 365.4 1129.2 366.4 1125.9 367.4 1122.6 368.4 1119.2 369.4 1115.7 370.4 1112.3 371.4 1108.7 372.4 1105.2 373.4 1101.6 374.4 1098 375.4 1094.4 376.4 1090.8 377.4 1087.2 378.4 1083.6 379.4 1080 380.4 1076.4 381.4 1072.8 382.4 1069.3 383.4 1065.8 384.4 1062.2 385.4 1058.6 386.4 1055.1 387.4 1051.4 388.4 1047.8 389.4 1044.1 390.4 1040.3 391.4 1036.5 392.4 1032.6 393.4 1028.7 394.4 1024.6 395.4 1020.4 395.5 1020 396.4 1016.1 397.4 1011.6 398.4 1006.9 399.4 1002.2 400.4 997.3 401.4 992.4 402.4 987.5 402.9 985 403.4 982.5 404.4 977.6 405.4 972.5 406.4 967.4 407.4 962.2 408.4 957 409.4 951.8 410.4 946.5 411.4 941.2 412.4 936 413.4 930.7 414.4 925.5 415.4 920.3 416.4 915.1 417.4 910 418.4 905 419.4 900 420.4 895.1 421.4 890.2 422.4 885.3 423.4 880.5 424.4 875.7 425.4 870.9 426.4 866.1 427.4 861.3 428.4 856.6 429.4 851.9 430.4 847.2 431.4 842.5 432.4 837.9 433.4 833.2 434.4 828.6 435.4 823.9 436.4 819.3 437.4 814.7 438.4 810.1 439.4 805.5 440.4 800.9 440.6 800 441.4 796.3 442.4 791.6 443.4 786.8 444.4 782 445.4 777.2 446.4 772.5 447.4 767.7 448.4 763.1 449.4 758.6 450.4 754.2 451.4 750 452.4 746 453.4 742.2 454 740 454.4 738.6 455.4 735.2 456.4 731.9 457.4 728.6 458.4 725.5 459.4 722.5 460.4 719.6 461.4 716.9 462.4 714.2 463.4 711.6 464.4 709.2 464.9 708 465.4 706.8 466.4 704.6 467.4 702.5 468.4 700.4 469.4 698.6 470.4 696.8 470.9 696 471.4 695.2 472.4 693.6 473.4 692.2 474.4 690.9 475.4 690 476.4 689.3 477.4 688.6 478.4 688.1 479.2 688 489.4 688 488.6 688.1 487.6 688.6 486.6 689.3 485.6 690 484.6 690.9 483.6 692.2 482.6 693.6 481.6 695.2 481.1 696 480.6 696.8 479.6 698.6 478.6 700.4 477.6 702.5 476.6 704.6 475.6 706.8 475.1 708 474.6 709.2 473.6 711.6 472.6 714.2 471.6 716.9 470.6 719.6 469.6 722.5 468.6 725.5 467.6 728.6 466.6 731.9 465.6 735.2 464.6 738.6 464.2 740 463.6 742.2 462.6 746 461.6 750 460.6 754.2 459.6 758.6 458.6 763.1 457.6 767.7 456.6 772.5 455.6 777.2 454.6 782 453.6 786.8 452.6 791.6 451.6 796.3 450.8 800 450.6 800.9 449.6 805.5 448.6 810.1 447.6 814.7 446.6 819.3 445.6 823.9 444.6 828.6 443.6 833.2 442.6 837.9 441.6 842.5 440.6 847.2 439.6 851.9 438.6 856.6 437.6 861.3 436.6 866.1 435.6 870.9 434.6 875.7 433.6 880.5 432.6 885.3 431.6 890.2 430.6 895.1 429.6 900 428.6 905 427.6 910 426.6 915.1 425.6 920.3 424.6 925.5 423.6 930.7 422.6 936 421.6 941.2 420.6 946.5 419.6 951.8 418.6 957 417.6 962.2 416.6 967.4 415.6 972.5 414.6 977.6 413.6 982.5 413.1 985 412.6 987.5 411.6 992.4 410.6 997.3 409.6 1002.2 408.6 1006.9 407.6 1011.6 406.6 1016.1 405.7 1020 405.6 1020.4 404.6 1024.6 403.6 1028.7 402.6 1032.6 401.6 1036.5 400.6 1040.3 399.6 1044.1 398.6 1047.8 397.6 1051.4 396.6 1055.1 395.6 1058.6 394.6 1062.2 393.6 1065.8 392.6 1069.3 391.6 1072.8 390.6 1076.4 389.6 1080 388.6 1083.6 387.6 1087.2 386.6 1090.8 385.6 1094.4 384.6 1098 383.6 1101.6 382.6 1105.2 381.6 1108.7 380.6 1112.3 379.6 1115.7 378.6 1119.2 377.6 1122.6 376.6 1125.9 375.6 1129.2 374.6 1132.4 374.1 1134 373.6 1135.6 372.6 1138.8 371.6 1142 370.6 1145.1 369.6 1148.2 368.6 1151.3 367.6 1154.3 366.6 1157.2 365.6 1159.9 364.6 1162.5 363.6 1164.9 363.1 1166 362.6 1167.1 361.6 1169 360.6 1170.7 359.6 1172.3 358.6 1174 357.6 1175.9 357.1 1177 356.6 1178.2 355.6 1181.1 354.6 1183.9 354.1 1185 353.6 1186 352.6 1187.7 351.6 1189.3 350.6 1190.7 349.6 1192.2 349.1 1193 348.6 1193.8 347.6 1195.5 346.6 1197.2 345.6 1199 344.6 1200.7 343.6 1202.4 342.6 1204.1 341.6 1205.7 341.4 1206 340.6 1207.3 339.6 1208.8 338.6 1210.3 337.6 1211.8 336.6 1213.3 335.6 1214.8 334.6 1216.2 333.6 1217.6 332.6 1218.9 331.6 1220.3 330.6 1221.6 329.6 1222.9 328.6 1224.1 327.6 1225.4 326.6 1226.6 325.6 1227.8 324.6 1228.9 323.6 1230 322.6 1231 321.6 1232 320.6 1233 319.6 1233.9 318.6 1234.9 317.6 1235.8 316.6 1236.7 315.6 1237.5 314.6 1238.2 313.6 1238.9 312.6 1239.4 311.6 1239.9 310.6 1240.3 309.6 1240.8 308.6 1241.2 307.6 1241.5 306.6 1241.9 305.6 1242.1 304.6 1242.3 303.6 1242.5 302.6 1242.5ZM489.4 688 489.6 688 490.6 688.3 491.6 688.9 492.6 689.7 493.6 690.5 494.6 691.5 495.6 692.9 496.6 694.4 497.6 696.1 498.1 697 498.6 697.9 499.6 699.8 500.6 701.8 501.6 704 502.6 706.3 503.6 708.7 504.1 710 504.6 711.3 505.6 714.1 506.6 717.1 507.6 720.2 508.6 723.5 509.6 726.9 510.6 730.4 511.6 733.9 512.6 737.5 513.3 740 513.6 741.1 514.6 744.7 515.6 748.2 516.6 751.9 517.6 755.5 518.6 759.2 519.6 763 520.6 766.9 521.6 770.8 522.6 774.9 523.6 779 524.6 783.3 525.6 787.8 526.6 792.3 527.6 797.1 528.2 800 528.6 802 529.6 807.3 530.6 812.9 531.6 818.7 532.6 824.9 533.6 831.2 534.6 837.8 535.6 844.4 536.6 851.2 537.6 858 538.6 864.8 539.6 871.6 540.6 878.4 541.6 885 542.6 891.5 543.1 894.7 543.6 897.9 544.6 904.2 545.6 910.7 546.6 917.1 547.6 923.5 548.6 929.9 549.6 936.3 550.6 942.5 551.6 948.7 552.6 954.7 553.5 960 553.6 960.6 554.6 966.3 555.6 971.8 556.6 977.3 557.6 982.6 558.6 987.9 559.6 993.2 560.6 998.4 561.6 1003.5 562.6 1008.7 563.6 1014 564.6 1019.2 565.6 1024.6 566.6 1030 567.6 1035.6 568.6 1041.3 569.6 1047 570.6 1052.8 571.6 1058.6 572.6 1064.3 573.6 1069.9 574.6 1075.3 575.6 1080.5 576.6 1085.6 577.6 1090.5 578.6 1095.4 579.6 1100.2 580.6 1104.9 581.6 1109.5 582.6 1114.1 583.6 1118.6 584.6 1123 585.6 1127.4 586.6 1131.7 587.6 1135.9 588.6 1140.2 589.6 1144.4 590.6 1148.7 591.6 1152.9 592.6 1157 593.6 1161.2 594.6 1165.2 595.6 1169.2 596.6 1173.1 597.6 1177 598.6 1180.8 599.6 1184.4 600.6 1188 601.6 1191.4 602.6 1194.7 603.6 1197.9 604.6 1201 605.6 1203.9 606.6 1206.8 607.6 1209.6 608.6 1212.3 609.6 1214.9 610.6 1217.5 611.6 1220.1 612.6 1222.6 613.6 1225.1 614.6 1227.6 615.6 1230.1 616.6 1232.6 617.6 1235.1 618.6 1237.5 619.6 1239.9 620.6 1242.3 621.6 1244.6 622.6 1246.8 623.6 1249 624.6 1251.1 625.6 1253.1 626.6 1255.1 627.6 1257 628.6 1258.9 629.6 1260.7 630.6 1262.5 631.6 1264.3 632.6 1266 633.6 1267.8 634.6 1269.5 635.6 1271.3 636.6 1273 637.6 1274.7 638.6 1276.5 639.6 1278.2 640.6 1280 641.6 1281.8 642.6 1283.5 643.6 1285.3 644.6 1287 645.6 1288.8 646.6 1290.5 647.6 1292.2 648.6 1293.9 649.6 1295.6 650.6 1297.2 651.6 1298.8 652.6 1300.5 653.6 1302 654.6 1303.6 655.6 1305.2 656.6 1306.7 657.6 1308.2 658.6 1309.6 659.6 1311.1 660.6 1312.5 661.6 1313.8 662.6 1315.2 663.6 1316.5 664.6 1317.8 665.6 1319.1 666.6 1320.3 667.6 1321.5 668.6 1322.7 669.6 1323.8 670.6 1324.9 671.6 1326 672.6 1327.1 673.6 1328.2 674.6 1329.2 675.6 1330.2 676.6 1331.1 677.6 1332.1 678.6 1333 679.6 1334 680.6 1334.9 681.6 1335.7 682.6 1336.6 683.6 1337.4 684.6 1338.3 685.6 1339.1 686.6 1339.9 687.6 1340.7 688.6 1341.4 689.6 1342.2 690.6 1342.9 691.6 1343.7 692.6 1344.4 693.6 1345.1 694.6 1345.8 695.6 1346.5 696.6 1347.1 697.6 1347.8 698.6 1348.5 699.6 1349.1 700.6 1349.7 701.6 1350.4 702.6 1351 703.6 1351.6 704.6 1352.3 705.6 1352.9 706.6 1353.5 707.6 1354.1 708.6 1354.7 709.6 1355.3 710.6 1355.9 711.6 1356.5 712.6 1357.1 713.6 1357.7 714.6 1358.3 715.6 1358.9 716.6 1359.5 717.6 1360.1 718.6 1360.7 719.6 1361.3 720.6 1361.9 721.6 1362.5 722.6 1363 723.6 1363.6 724.6 1364.2 725.6 1364.8 726.6 1365.3 727.6 1365.9 728.6 1366.4 729.6 1367 730.6 1367.5 731.6 1368 732.6 1368.6 733.6 1369.1 734.6 1369.6 735.6 1370.1 736.6 1370.6 737.6 1371.1 738.6 1371.5 739.6 1372 740.6 1372.5 741.6 1372.9 742.6 1373.4 743.6 1373.8 744.6 1374.3 745.6 1374.7 746.6 1375.1 747.6 1375.6 748.6 1376 749.6 1376.4 750.6 1376.8 751.6 1377.2 752.6 1377.6 753.6 1378 754.6 1378.4 755.6 1378.7 756.6 1379.1 757.6 1379.5 758.6 1379.9 759.6 1380.2 760.6 1380.6 761.6 1380.9 762.6 1381.3 763.6 1381.6 764.6 1382 765.6 1382.3 766.6 1382.6 767.6 1383 768.6 1383.3 769.6 1383.6 770.6 1384 771.6 1384.3 772.6 1384.6 773.6 1384.9 774.6 1385.2 775.6 1385.5 776.6 1385.9 777.6 1386.2 778.6 1386.5 779.6 1386.8 780.6 1387.1 781.6 1387.4 782.6 1387.7 783.6 1388 784.6 1388.3 785.6 1388.6 786.6 1388.9 787.6 1389.2 788.6 1389.5 789.6 1389.8 790.6 1390.1 791.6 1390.4 792.6 1390.7 793.6 1391 794.6 1391.2 795.6 1391.5 796.6 1391.8 797.6 1392.1 798.6 1392.4 799.6 1392.7 800.6 1393 801.6 1393.3 802.6 1393.6 803.6 1393.8 804.6 1394.1 794.4 1394.1 793.4 1393.8 792.4 1393.6 791.4 1393.3 790.4 1393 789.4 1392.7 788.4 1392.4 787.4 1392.1 786.4 1391.8 785.4 1391.5 784.4 1391.2 783.4 1391 782.4 1390.7 781.4 1390.4 780.4 1390.1 779.4 1389.8 778.4 1389.5 777.4 1389.2 776.4 1388.9 775.4 1388.6 774.4 1388.3 773.4 1388 772.4 1387.7 771.4 1387.4 770.4 1387.1 769.4 1386.8 768.4 1386.5 767.4 1386.2 766.4 1385.9 765.4 1385.5 764.4 1385.2 763.4 1384.9 762.4 1384.6 761.4 1384.3 760.4 1384 759.4 1383.6 758.4 1383.3 757.4 1383 756.4 1382.6 755.4 1382.3 754.4 1382 753.4 1381.6 752.4 1381.3 751.4 1380.9 750.4 1380.6 749.4 1380.2 748.4 1379.9 747.4 1379.5 746.4 1379.1 745.4 1378.7 744.4 1378.4 743.4 1378 742.4 1377.6 741.4 1377.2 740.4 1376.8 739.4 1376.4 738.4 1376 737.4 1375.6 736.4 1375.1 735.4 1374.7 734.4 1374.3 733.4 1373.8 732.4 1373.4 731.4 1372.9 730.4 1372.5 729.4 1372 728.4 1371.5 727.4 1371.1 726.4 1370.6 725.4 1370.1 724.4 1369.6 723.4 1369.1 722.4 1368.6 721.4 1368 720.4 1367.5 719.4 1367 718.4 1366.4 717.4 1365.9 716.4 1365.3 715.4 1364.8 714.4 1364.2 713.4 1363.6 712.4 1363 711.4 1362.5 710.4 1361.9 709.4 1361.3 708.4 1360.7 707.4 1360.1 706.4 1359.5 705.4 1358.9 704.4 1358.3 703.4 1357.7 702.4 1357.1 701.4 1356.5 700.4 1355.9 699.4 1355.3 698.4 1354.7 697.4 1354.1 696.4 1353.5 695.4 1352.9 694.4 1352.3 693.4 1351.6 692.4 1351 691.4 1350.4 690.4 1349.7 689.4 1349.1 688.4 1348.5 687.4 1347.8 686.4 1347.1 685.4 1346.5 684.4 1345.8 683.4 1345.1 682.4 1344.4 681.4 1343.7 680.4 1342.9 679.4 1342.2 678.4 1341.4 677.4 1340.7 676.4 1339.9 675.4 1339.1 674.4 1338.3 673.4 1337.4 672.4 1336.6 671.4 1335.7 670.4 1334.9 669.4 1334 668.4 1333 667.4 1332.1 666.4 1331.1 665.4 1330.2 664.4 1329.2 663.4 1328.2 662.4 1327.1 661.4 1326 660.4 1324.9 659.4 1323.8 658.4 1322.7 657.4 1321.5 656.4 1320.3 655.4 1319.1 654.4 1317.8 653.4 1316.5 652.4 1315.2 651.4 1313.8 650.4 1312.5 649.4 1311.1 648.4 1309.6 647.4 1308.2 646.4 1306.7 645.4 1305.2 644.4 1303.6 643.4 1302 642.4 1300.5 641.4 1298.8 640.4 1297.2 639.4 1295.6 638.4 1293.9 637.4 1292.2 636.4 1290.5 635.4 1288.8 634.4 1287 633.4 1285.3 632.4 1283.5 631.4 1281.8 630.4 1280 629.4 1278.2 628.4 1276.5 627.4 1274.7 626.4 1273 625.4 1271.3 624.4 1269.5 623.4 1267.8 622.4 1266 621.4 1264.3 620.4 1262.5 619.4 1260.7 618.4 1258.9 617.4 1257 616.4 1255.1 615.4 1253.1 614.4 1251.1 613.4 1249 612.4 1246.8 611.4 1244.6 610.4 1242.3 609.4 1239.9 608.4 1237.5 607.4 1235.1 606.4 1232.6 605.4 1230.1 604.4 1227.6 603.4 1225.1 602.4 1222.6 601.4 1220.1 600.4 1217.5 599.4 1214.9 598.4 1212.3 597.4 1209.6 596.4 1206.8 595.4 1203.9 594.4 1201 593.4 1197.9 592.4 1194.7 591.4 1191.4 590.4 1188 589.4 1184.4 588.4 1180.8 587.4 1177 586.4 1173.1 585.4 1169.2 584.4 1165.2 583.4 1161.2 582.4 1157 581.4 1152.9 580.4 1148.7 579.4 1144.4 578.4 1140.2 577.4 1135.9 576.4 1131.7 575.4 1127.4 574.4 1123 573.4 1118.6 572.4 1114.1 571.4 1109.5 570.4 1104.9 569.4 1100.2 568.4 1095.4 567.4 1090.5 566.4 1085.6 565.4 1080.5 564.4 1075.3 563.4 1069.9 562.4 1064.3 561.4 1058.6 560.4 1052.8 559.4 1047 558.4 1041.3 557.4 1035.6 556.4 1030 555.4 1024.6 554.4 1019.2 553.4 1014 552.4 1008.7 551.4 1003.5 550.4 998.4 549.4 993.2 548.4 987.9 547.4 982.6 546.4 977.3 545.4 971.8 544.4 966.3 543.4 960.6 543.3 960 542.4 954.7 541.4 948.7 540.4 942.5 539.4 936.3 538.4 929.9 537.4 923.5 536.4 917.1 535.4 910.7 534.4 904.2 533.4 897.9 532.9 894.7 532.4 891.5 531.4 885 530.4 878.4 529.4 871.6 528.4 864.8 527.4 858 526.4 851.2 525.4 844.4 524.4 837.8 523.4 831.2 522.4 824.9 521.4 818.7 520.4 812.9 519.4 807.3 518.4 802 518 800 517.4 797.1 516.4 792.3 515.4 787.8 514.4 783.3 513.4 779 512.4 774.9 511.4 770.8 510.4 766.9 509.4 763 508.4 759.2 507.4 755.5 506.4 751.9 505.4 748.2 504.4 744.7 503.4 741.1 503.1 740 502.4 737.5 501.4 733.9 500.4 730.4 499.4 726.9 498.4 723.5 497.4 720.2 496.4 717.1 495.4 714.1 494.4 711.3 493.9 710 493.4 708.7 492.4 706.3 491.4 704 490.4 701.8 489.4 699.8 488.4 697.9 487.9 697 487.4 696.1 486.4 694.4 485.4 692.9 484.4 691.5 483.4 690.5 482.4 689.7 481.4 688.9 480.4 688.3 479.4 688 479.2 688Z"/>
<path fill="none" stroke="#808000" stroke-width="8.9" stroke-linejoin="round" d="M241.5 1176.2 242.5 1178.4 243.5 1180.7 244.5 1182.9 245.5 1185.1 246.5 1187.2 247.5 1189.3 248.5 1191.4 249.5 1193.4 250.5 1195.4 251.5 1197.4 252.5 1199.3 253.5 1201.2 254.5 1203.1 255.5 1205 256.5 1206.8 257.5 1208.5 258.5 1210.2 259.5 1211.8 260.5 1213.4 261.5 1215 262.5 1216.5 263.5 1218 264.5 1219.4 265.5 1220.8 266.5 1222.2 267.5 1223.5 268.5 1224.8 269.5 1226 270.5 1227.2 271.5 1228.3 272.5 1229.5 273.5 1230.6 274.5 1231.6 275.5 1232.6 276.5 1233.5 277.5 1234.4 278.5 1235.1 279.5 1235.9 280.5 1236.6 281.5 1237.2 282.5 1237.9 283.5 1238.5 284.5 1239 285.5 1239.5 286.5 1240 287.5 1240.3 288.5 1240.7 289.5 1241 290.5 1241.2 291.5 1241.5 292.5 1241.8 293.5 1242 294.5 1242.2 295.5 1242.4 296.5 1242.5 297.5 1242.5 298.5 1242.5 299.5 1242.3 300.5 1242.1 301.5 1241.9 302.5 1241.5 303.5 1241.2 304.5 1240.8 305.5 1240.3 306.5 1239.9 307.5 1239.4 308.5 1238.9 309.5 1238.2 310.5 1237.5 311.5 1236.7 312.5 1235.8 313.5 1234.9 314.5 1233.9 315.5 1233 316.5 1232 317.5 1231 318.5 1230 319.5 1228.9 320.5 1227.8 321.5 1226.6 322.5 1225.4 323.5 1224.1 324.5 1222.9 325.5 1221.6 326.5 1220.3 327.5 1218.9 328.5 1217.6 329.5 1216.2 330.5 1214.8 331.5 1213.3 332.5 1211.8 333.5 1210.3 334.5 1208.8 335.5 1207.3 336.3 1206 336.5 1205.7 337.5 1204.1 338.5 1202.4 339.5 1200.7 340.5 1199 341.5 1197.2 342.5 1195.5 343.5 1193.8 344 1193 344.5 1192.2 345.5 1190.7 346.5 1189.3 347.5 1187.7 348.5 1186 349 1185 349.5 1183.9 350.5 1181.1 351.5 1178.2 352 1177 352.5 1175.9 353.5 1174 354.5 1172.3 355.5 1170.7 356.5 1169 357.5 1167.1 358 1166 358.5 1164.9 359.5 1162.5 360.5 1159.9 361.5 1157.2 362.5 1154.3 363.5 1151.3 364.5 1148.2 365.5 1145.1 366.5 1142 367.5 1138.8 368.5 1135.6 369 1134 369.5 1132.4 370.5 1129.2 371.5 1125.9 372.5 1122.6 373.5 1119.2 374.5 1115.7 375.5 1112.3 376.5 1108.7 377.5 1105.2 378.5 1101.6 379.5 1098 380.5 1094.4 381.5 1090.8 382.5 1087.2 383.5 1083.6 384.5 1080 385.5 1076.4 386.5 1072.8 387.5 1069.3 388.5 1065.8 389.5 1062.2 390.5 1058.6 391.5 1055.1 392.5 1051.4 393.5 1047.8 394.5 1044.1 395.5 1040.3 396.5 1036.5 397.5 1032.6 398.5 1028.7 399.5 1024.6 400.5 1020.4 400.6 1020 401.5 1016.1 402.5 1011.6 403.5 1006.9 404.5 1002.2 405.5 997.3 406.5 992.4 407.5 987.5 408 985 408.5 982.5 409.5 977.6 410.5 972.5 411.5 967.4 412.5 962.2 413.5 957 414.5 951.8 415.5 946.5 416.5 941.2 417.5 936 418.5 930.7 419.5 925.5 420.5 920.3 421.5 915.1 422.5 910 423.5 905 424.5 900 425.5 895.1 426.5 890.2 427.5 885.3 428.5 880.5 429.5 875.7 430.5 870.9 431.5 866.1 432.5 861.3 433.5 856.6 434.5 851.9 435.5 847.2 436.5 842.5 437.5 837.9 438.5 833.2 439.5 828.6 440.5 823.9 441.5 819.3 442.5 814.7 443.5 810.1 444.5 805.5 445.5 800.9 445.7 800 446.5 796.3 447.5 791.6 448.5 786.8 449.5 782 450.5 777.2 451.5 772.5 452.5 767.7 453.5 763.1 454.5 758.6 455.5 754.2 456.5 750 457.5 746 458.5 742.2 459.1 740 459.5 738.6 460.5 735.2 461.5 731.9 462.5 728.6 463.5 725.5 464.5 722.5 465.5 719.6 466.5 716.9 467.5 714.2 468.5 711.6 469.5 709.2 470 708 470.5 706.8 471.5 704.6 472.5 702.5 473.5 700.4 474.5 698.6 475.5 696.8 476 696 476.5 695.2 477.5 693.6 478.5 692.2 479.5 690.9 480.5 690 481.5 689.3 482.5 688.6 483.5 688.1 484.3 688 484.5 688 485.5 688.3 486.5 688.9 487.5 689.7 488.5 690.5 489.5 691.5 490.5 692.9 491.5 694.4 492.5 696.1 493 697 493.5 697.9 494.5 699.8 495.5 701.8 496.5 704 497.5 706.3 498.5 708.7 499 710 499.5 711.3 500.5 714.1 501.5 717.1 502.5 720.2 503.5 723.5 504.5 726.9 505.5 730.4 506.5 733.9 507.5 737.5 508.2 740 508.5 741.1 509.5 744.7 510.5 748.2 511.5 751.9 512.5 755.5 513.5 759.2 514.5 763 515.5 766.9 516.5 770.8 517.5 774.9 518.5 779 519.5 783.3 520.5 787.8 521.5 792.3 522.5 797.1 523.1 800 523.5 802 524.5 807.3 525.5 812.9 526.5 818.7 527.5 824.9 528.5 831.2 529.5 837.8 530.5 844.4 531.5 851.2 532.5 858 533.5 864.8 534.5 871.6 535.5 878.4 536.5 885 537.5 891.5 538 894.7 538.5 897.9 539.5 904.2 540.5 910.7 541.5 917.1 542.5 923.5 543.5 929.9 544.5 936.3 545.5 942.5 546.5 948.7 547.5 954.7 548.4 960 548.5 960.6 549.5 966.3 550.5 971.8 551.5 977.3 552.5 982.6 553.5 987.9 554.5 993.2 555.5 998.4 556.5 1003.5 557.5 1008.7 558.5 1014 559.5 1019.2 560.5 1024.6 561.5 1030 562.5 1035.6 563.5 1041.3 564.5 1047 565.5 1052.8 566.5 1058.6 567.5 1064.3 568.5 1069.9 569.5 1075.3 570.5 1080.5 571.5 1085.6 572.5 1090.5 573.5 1095.4 574.5 1100.2 575.5 1104.9 576.5 1109.5 577.5 1114.1 578.5 1118.6 579.5 1123 580.5 1127.4 581.5 1131.7 582.5 1135.9 583.5 1140.2 584.5 1144.4 585.5 1148.7 586.5 1152.9 587.5 1157 588.5 1161.2 589.5 1165.2 590.5 1169.2 591.5 1173.1 592.5 1177 593.5 1180.8 594.5 1184.4 595.5 1188 596.5 1191.4 597.5 1194.7 598.5 1197.9 599.5 1201 600.5 1203.9 601.5 1206.8 602.5 1209.6 603.5 1212.3 604.5 1214.9 605.5 1217.5 606.5 1220.1 607.5 1222.6 608.5 1225.1 609.5 1227.6 610.5 1230.1 611.5 1232.6 612.5 1235.1 613.5 1237.5 614.5 1239.9 615.5 1242.3 616.5 1244.6 617.5 1246.8 618.5 1249 619.5 1251.1 620.5 1253.1 621.5 1255.1 622.5 1257 623.5 1258.9 624.5 1260.7 625.5 1262.5 626.5 1264.3 627.5 1266 628.5 1267.8 629.5 1269.5 630.5 1271.3 631.5 1273 632.5 1274.7 633.5 1276.5 634.5 1278.2 635.5 1280 636.5 1281.8 637.5 1283.5 638.5 1285.3 639.5 1287 640.5 1288.8 641.5 1290.5 642.5 1292.2 643.5 1293.9 644.5 1295.6 645.5 1297.2 646.5 1298.8 647.5 1300.5 648.5 1302 649.5 1303.6 650.5 1305.2 651.5 1306.7 652.5 1308.2 653.5 1309.6 654.5 1311.1 655.5 1312.5 656.5 1313.8 657.5 1315.2 658.5 1316.5 659.5 1317.8 660.5 1319.1 661.5 1320.3 662.5 1321.5 663.5 1322.7 664.5 1323.8 665.5 1324.9 666.5 1326 667.5 1327.1 668.5 1328.2 669.5 1329.2 670.5 1330.2 671.5 1331.1 672.5 1332.1 673.5 1333 674.5 1334 675.5 1334.9 676.5 1335.7 677.5 1336.6 678.5 1337.4 679.5 1338.3 680.5 1339.1 681.5 1339.9 682.5 1340.7 683.5 1341.4 684.5 1342.2 685.5 1342.9 686.5 1343.7 687.5 1344.4 688.5 1345.1 689.5 1345.8 690.5 1346.5 691.5 1347.1 692.5 1347.8 693.5 1348.5 694.5 1349.1 695.5 1349.7 696.5 1350.4 697.5 1351 698.5 1351.6 699.5 1352.3 700.5 1352.9 701.5 1353.5 702.5 1354.1 703.5 1354.7 704.5 1355.3 705.5 1355.9 706.5 1356.5 707.5 1357.1 708.5 1357.7 709.5 1358.3 710.5 1358.9 711.5 1359.5 712.5 1360.1 713.5 1360.7 714.5 1361.3 715.5 1361.9 716.5 1362.5 717.5 1363 718.5 1363.6 719.5 1364.2 720.5 1364.8 721.5 1365.3 722.5 1365.9 723.5 1366.4 724.5 1367 725.5 1367.5 726.5 1368 727.5 1368.6 728.5 1369.1 729.5 1369.6 730.5 1370.1 731.5 1370.6 732.5 1371.1 733.5 1371.5 734.5 1372 735.5 1372.5 736.5 1372.9 737.5 1373.4 738.5 1373.8 739.5 1374.3 740.5 1374.7 741.5 1375.1 742.5 1375.6 743.5 1376 744.5 1376.4 745.5 1376.8 746.5 1377.2 747.5 1377.6 748.5 1378 749.5 1378.4 750.5 1378.7 751.5 1379.1 752.5 1379.5 753.5 1379.9 754.5 1380.2 755.5 1380.6 756.5 1380.9 757.5 1381.3 758.5 1381.6 759.5 1382 760.5 1382.3 761.5 1382.6 762.5 1383 763.5 1383.3 764.5 1383.6 765.5 1384 766.5 1384.3 767.5 1384.6 768.5 1384.9 769.5 1385.2 770.5 1385.5 771.5 1385.9 772.5 1386.2 773.5 1386.5 774.5 1386.8 775.5 1387.1 776.5 1387.4 777.5 1387.7 778.5 1388 779.5 1388.3 780.5 1388.6 784.5 1389.8 788.5 1391 792.5 1392.1 796.5 1393.3 800.5 1394.4 804.5 1395.5 808.5 1396.7 812.5 1397.8 816.5 1398.9 820.5 1400 824.5 1401.1 828.5 1402.1 832.5 1403.2 836.5 1404.2 840.5 1405.2 844.5 1406.2 848.5 1407.2 852.5 1408.1 856.5 1409 860.5 1409.9 864.5 1410.7 868.5 1411.5 872.5 1412.3 876.5 1413.1 880.5 1413.8 884.5 1414.5 888.5 1415.1 892.5 1415.8 896.5 1416.4 900.5 1417 904.5 1417.6 908.5 1418.1 912.5 1418.6 916.5 1419.2 920.5 1419.7 924.5 1420.2 928.5 1420.7 932.5 1421.2 936.5 1421.6 940.5 1422.1 944.5 1422.6 948.5 1423 952.5 1423.5 956.5 1423.9 960.5 1424.4 964.5 1424.8 968.5 1425.2 972.5 1425.6 976.5 1426 980.5 1426.4 984.5 1426.8 988.5 1427.1 992.5 1427.5 996.5 1427.8 1000.5 1428.1 1004.5 1428.5 1008.5 1428.7 1012.5 1429 1016.5 1429.3 1020.5 1429.6 1024.5 1429.9 1028.5 1430.1 1032.5 1430.4 1036.5 1430.7 1040.5 1430.9 1044.5 1431.2 1048.5 1431.5 1052.5 1431.8 1056.5 1432.2 1060.5 1432.5 1064.5 1432.9 1068.5 1433.2 1072.5 1433.6 1076.5 1434 1080.5 1434.4 1084.5 1434.8 1088.5 1435.3 1092.5 1435.7 1096.5 1436.1 1100.5 1436.5 1104.5 1436.9 1108.5 1437.2 1112.5 1437.6 1116.5 1437.9 1120.5 1438.2 1124.5 1438.5 1128.5 1438.8 1132.5 1439 1136.5 1439.3 1140.5 1439.5 1144.5 1439.7 1148.5 1439.9 1152.5 1440.1 1156.5 1440.3 1160.5 1440.5 1164.5 1440.7 1168.5 1440.9 1172.5 1441 1176.5 1441.2 1180.5 1441.4 1184.5 1441.6 1188.5 1441.8 1192.5 1442 1196.5 1442.3 1200.5 1442.5 1204.5 1442.7 1208.5 1442.9 1212.5 1443.2 1216.5 1443.4 1220.5 1443.6 1224.5 1443.9 1228.5 1444.1 1232.5 1444.3 1236.5 1444.6 1240.5 1444.8 1244.5 1445 1248.5 1445.2 1252.5 1445.5 1256.5 1445.7 1260.5 1445.9 1264.5 1446.1 1268.5 1446.3 1272.5 1446.5 1276.5 1446.7 1280.5 1446.9 1284.5 1447.1 1288.5 1447.3 1292.5 1447.5 1296.5 1447.7 1300.5 1447.8 1304.5 1448 1308.5 1448.2 1312.5 1448.3 1316.5 1448.5 1320.5 1448.6 1324.5 1448.8 1328.5 1448.9 1332.5 1449 1336.5 1449.2 1340.5 1449.3 1343.5 1449.4"/>
<path fill="#ffff00" d="M242.5 1156 243.5 1158.3 244.5 1160.6 245.5 1162.8 246.5 1165 247.5 1167.1 248.5 1169.2 249.5 1171.3 250.5 1173.4 251.5 1175.4 252.5 1177.4 253.5 1179.4 254.5 1181.3 255.5 1183.2 256.5 1185 257.5 1186.8 258.5 1188.6 259.5 1190.2 260.5 1191.9 261.5 1193.6 262.5 1195.2 263.5 1196.7 264.5 1198.3 265.5 1199.7 266.5 1201.1 267.5 1202.4 268.5 1203.7 269.5 1204.8 270.5 1205.9 271.5 1207 272.5 1208 273.5 1208.9 274.5 1209.9 275.5 1210.7 276.5 1211.5 277.5 1212.3 278.5 1213 279.5 1213.8 280.5 1214.5 281.5 1215.1 282.5 1215.8 283.5 1216.4 284.5 1217 285.5 1217.5 286.5 1217.9 287.5 1218.3 288.5 1218.5 289.5 1218.8 290.5 1219 291.5 1219.2 292.5 1219.4 293.5 1219.6 294.5 1219.7 295.5 1219.8 296.5 1219.9 297.5 1219.9 298.5 1219.9 299.5 1219.8 300.5 1219.6 301.5 1219.4 302.5 1219.1 303.5 1218.8 304.5 1218.5 305.5 1218.1 306.5 1217.7 307.5 1217.3 308.5 1216.8 309.5 1216.2 310.5 1215.4 311.5 1214.5 312.5 1213.6 313.5 1212.6 314.5 1211.5 315.5 1210.5 316.5 1209.4 317.5 1208.4 318.5 1207.3 319.5 1206.2 320.5 1205 321.5 1203.8 322.5 1202.5 323.5 1201.2 324.5 1199.9 325.5 1198.5 326.5 1197.2 327.5 1195.8 328.5 1194.3 329.5 1192.8 330.5 1191.3 331.5 1189.7 332.5 1188.1 333.5 1186.5 334.5 1184.8 335.5 1183.2 336.3 1181.9 336.5 1181.6 337.5 1179.9 338.5 1178.3 339.5 1176.6 340.5 1174.9 341.5 1173.2 342.5 1171.5 343.5 1169.8 344 1168.9 344.5 1168.1 345.5 1166.5 346.5 1164.8 347.5 1163 348 1161.9 348.5 1160.6 349.5 1157.4 350.5 1154.2 351 1152.9 351.5 1151.9 352.5 1150.1 353.5 1148.6 354.5 1147.2 355.5 1145.7 356 1144.9 356.5 1144.1 357.5 1142.4 358.5 1140.8 359.5 1139.2 360.5 1137.5 361.5 1135.8 362.5 1134 363.5 1132.1 364.5 1130 365 1128.9 365.5 1127.8 366.5 1125.3 367.5 1122.7 368.5 1119.8 369.5 1116.8 370.5 1113.7 371.5 1110.4 372.5 1107.1 373.5 1103.6 374.5 1100.1 375.5 1096.5 376.5 1092.9 377.5 1089.3 378.5 1085.6 379.5 1082 380.5 1078.4 381.5 1074.9 382.5 1071.4 383.5 1067.9 384.5 1064.4 385.5 1060.8 386.5 1057.2 387.5 1053.6 388.5 1050 389.5 1046.3 390.5 1042.6 391.5 1038.8 392.5 1035 393.5 1031.1 394.5 1027.2 395.5 1023.2 396.5 1019.1 397.5 1014.9 398.5 1010.6 399.5 1006.1 400.5 1001.5 401.5 996.7 402.5 991.9 403.5 987.1 404.5 982.3 405 979.9 405.5 977.5 406.5 972.7 407.5 968 408.5 963.2 409.5 958.4 410.5 953.5 411.5 948.7 412.5 943.8 413.5 939 414.5 934.1 415.5 929.2 416.5 924.3 417.5 919.3 418.5 914.4 419.5 909.4 420.5 904.4 421.5 899.4 422.4 894.9 422.5 894.4 423.5 889.3 424.5 884.2 425.5 879 426.5 873.8 427.5 868.5 428.5 863.2 429.5 857.9 430.5 852.6 431.5 847.2 432.5 841.9 433.5 836.6 434.5 831.3 435.5 826.1 436.5 820.9 437.5 815.7 438.5 810.7 439.5 805.6 440.5 800.7 441.5 795.9 441.7 794.9 442.5 791.1 443.5 786.3 444.5 781.5 445.5 776.8 446.5 772.1 447.5 767.4 448.5 762.8 449.5 758.3 450.5 753.9 451.5 749.6 452.5 745.3 453.5 741.2 454.5 737.2 455.1 734.9 455.5 733.4 456.5 729.7 457.5 726.1 458.5 722.6 459.5 719.2 460.5 715.8 461.5 712.5 462.5 709.3 463.5 706.1 464.5 702.9 465.5 699.7 466.5 696.5 467 694.9 467.5 693.3 468.5 689.9 469.5 686.5 470.5 683.2 471.5 680 472.5 677.2 473.4 674.9 473.5 674.7 474.5 672.4 475.5 670.4 476.5 668.5 477.5 666.8 478.5 665.4 479.5 664.2 480.5 663.2 481.5 662.3 482.5 661.3 482.7 661.1 483.5 660.1 483.7 659.9 484 659.7 484.3 659.9 484.5 660.1 485.3 661.1 485.5 661.3 486.5 662.3 487.5 663.1 488.5 664 489.5 664.9 490 665.4 490.5 665.9 491.5 667.1 492.5 668.2 493.5 669.5 494.5 671 495.5 672.6 496.5 674.5 496.7 674.9 497.5 676.9 498.5 680.2 499.5 684.2 500.5 688.5 501.5 692.8 502 694.9 502.5 697 503.5 701.4 504.5 706 505.5 710.7 506.5 715.5 507.5 720.4 508.5 725.2 509.5 729.9 510.5 734.5 510.6 734.9 511.5 738.8 512.5 743.1 513.5 747.2 514.5 751.3 515.5 755.2 516.5 759.2 517.5 763.2 518.5 767.2 519.5 771.3 520.5 775.5 521.5 779.8 522.5 784.3 523.5 789 524.5 793.9 524.7 794.9 525.5 799.1 526.5 804.6 527.5 810.4 528.5 816.5 529.5 822.8 530.5 829.2 531.5 835.8 532.5 842.5 533.5 849.3 534.5 856.2 535.5 863 536.5 869.8 537.5 876.5 538.5 883.1 539.5 889.6 540.5 896 541.5 902.6 542.5 909.1 543.5 915.7 544.5 922.2 545.5 928.7 546.5 935.1 547.5 941.5 548.5 947.7 549.5 953.7 549.7 954.9 550.5 959.6 551.5 965.3 552.5 970.9 553.5 976.5 554.5 981.9 555.5 987.3 556.5 992.6 557.5 997.9 558.5 1003.3 559.5 1008.6 560.5 1014 561.5 1019.4 562.5 1024.9 563.5 1030.5 564.5 1036.2 565.5 1042 566.5 1047.7 567.5 1053.5 568.5 1059.2 569.5 1064.8 570.5 1070.2 571.5 1075.4 572.5 1080.5 573.5 1085.6 574.5 1090.5 575.5 1095.4 576.5 1100.2 577.5 1105 578.5 1109.6 579.5 1114.2 580.5 1118.7 581.5 1123.1 582.5 1127.4 583.5 1131.6 584.5 1135.8 585.5 1140 586.5 1144.1 587.5 1148.2 588.5 1152.2 589.5 1156.2 590.5 1160.1 591.5 1163.9 592.5 1167.6 593.5 1171.3 594.5 1174.8 595.5 1178.2 596.5 1181.5 597.5 1184.7 598.5 1187.7 599.5 1190.7 600.5 1193.5 601.5 1196.2 602.5 1198.9 603.5 1201.5 604.5 1204 605.5 1206.5 606.5 1209 607.5 1211.4 608.5 1213.9 609.5 1216.4 610.5 1218.9 611.5 1221.4 612.5 1223.9 613.5 1226.3 614.5 1228.8 615.5 1231.2 616.5 1233.5 617.5 1235.7 618.5 1237.9 619.5 1240 620.5 1242.1 621.5 1244.1 622.5 1246 623.5 1247.9 624.5 1249.7 625.5 1251.5 626.5 1253.3 627.5 1255.1 628.5 1256.9 629.5 1258.7 630.5 1260.5 631.5 1262.2 632.5 1264 633.5 1265.8 634.5 1267.6 635.5 1269.4 636.5 1271.2 637.5 1273 638.5 1274.8 639.5 1276.5 640.5 1278.3 641.5 1280 642.5 1281.8 643.5 1283.5 644.5 1285.1 645.5 1286.8 646.5 1288.5 647.5 1290.1 648.5 1291.7 649.5 1293.3 650.5 1294.8 651.5 1296.4 652.5 1297.9 653.5 1299.4 654.5 1300.8 655.5 1302.2 656.5 1303.6 657.5 1305 658.5 1306.3 659.5 1307.6 660.5 1308.8 661.5 1310.1 662.5 1311.3 663.5 1312.5 664.5 1313.6 665.5 1314.7 666.5 1315.8 667.5 1316.8 668.5 1317.9 669.5 1318.9 670.5 1319.8 671.5 1320.8 672.5 1321.7 673.5 1322.6 674.5 1323.5 675.5 1324.4 676.5 1325.2 677.5 1326 678.5 1326.8 679.5 1327.6 680.5 1328.4 681.5 1329.2 682.5 1329.9 683.5 1330.7 684.5 1331.4 685.5 1332.1 686.5 1332.8 687.5 1333.5 688.5 1334.2 689.5 1334.8 690.5 1335.5 691.5 1336.1 692.5 1336.8 693.5 1337.4 694.5 1338 695.5 1338.7 696.5 1339.3 697.5 1339.9 698.5 1340.5 699.5 1341.1 700.5 1341.7 701.5 1342.3 702.5 1342.9 703.5 1343.5 704.5 1344.1 705.5 1344.7 706.5 1345.3 707.5 1345.9 708.5 1346.5 709.5 1347.1 710.5 1347.7 711.5 1348.3 712.5 1348.9 713.5 1349.5 714.5 1350.1 715.5 1350.7 716.5 1351.3 717.5 1351.9 718.5 1352.5 719.5 1353.1 720.5 1353.6 721.5 1354.2 722.5 1354.8 723.5 1355.3 724.5 1355.9 725.5 1356.5 726.5 1357 727.5 1357.5 728.5 1358.1 729.5 1358.6 730.5 1359.1 731.5 1359.6 732.5 1360.2 733.5 1360.7 734.5 1361.2 735.5 1361.7 736.5 1362.1 737.5 1362.6 738.5 1363.1 739.5 1363.6 740.5 1364 741.5 1364.5 742.5 1365 743.5 1365.4 744.5 1365.8 745.5 1366.3 746.5 1366.7 747.5 1367.1 748.5 1367.6 749.5 1368 750.5 1368.4 751.5 1368.8 752.5 1369.2 753.5 1369.6 754.5 1370 755.5 1370.4 756.5 1370.8 757.5 1371.2 758.5 1371.5 759.5 1371.9 760.5 1372.3 761.5 1372.7 762.5 1373 763.5 1373.4 764.5 1373.7 765.5 1374.1 766.5 1374.5 767.5 1374.8 768.5 1375.2 769.5 1375.5 770.5 1375.9 771.5 1376.2 772.5 1376.5 773.5 1376.9 774.5 1377.2 775.5 1377.5 776.5 1377.9 777.5 1378.2 778.5 1378.5 779.5 1378.9 780.5 1379.2 784.5 1380.4 788.5 1381.7 792.5 1382.9 796.5 1384.1 800.5 1385.3 804.5 1386.4 808.5 1387.6 812.5 1388.7 816.5 1389.8 820.5 1390.9 824.5 1391.9 828.5 1393 832.5 1394 836.5 1395 840.5 1396 844.5 1396.9 848.5 1397.9 852.5 1398.8 856.5 1399.7 860.5 1400.6 864.5 1401.4 868.5 1402.2 872.5 1403 876.5 1403.8 880.5 1404.6 884.5 1405.3 888.5 1406 892.5 1406.7 896.5 1407.4 900.5 1408 904.5 1408.6 908.5 1409.3 912.5 1409.9 916.5 1410.5 920.5 1411 924.5 1411.6 928.5 1412.2 932.5 1412.8 936.5 1413.3 940.5 1413.9 944.5 1414.4 948.5 1415 952.5 1415.6 956.5 1416.1 960.5 1416.6 964.5 1417.2 968.5 1417.7 972.5 1418.2 976.5 1418.7 980.5 1419.2 984.5 1419.7 988.5 1420.2 992.5 1420.6 996.5 1421.1 1000.5 1421.5 1004.5 1421.9 1008.5 1422.3 1012.5 1422.7 1016.5 1423.1 1020.5 1423.4 1024.5 1423.8 1028.5 1424.1 1032.5 1424.5 1036.5 1424.8 1040.5 1425.2 1044.5 1425.5 1048.5 1425.9 1052.5 1426.2 1056.5 1426.6 1060.5 1427 1064.5 1427.4 1068.5 1427.8 1072.5 1428.2 1076.5 1428.6 1080.5 1429.1 1084.5 1429.5 1088.5 1429.9 1092.5 1430.3 1096.5 1430.7 1100.5 1431.1 1104.5 1431.5 1108.5 1431.9 1112.5 1432.2 1116.5 1432.5 1120.5 1432.8 1124.5 1433.1 1128.5 1433.4 1132.5 1433.6 1136.5 1433.9 1140.5 1434.1 1144.5 1434.3 1148.5 1434.5 1152.5 1434.7 1156.5 1434.9 1160.5 1435.1 1164.5 1435.3 1168.5 1435.5 1172.5 1435.6 1176.5 1435.8 1180.5 1436 1184.5 1436.2 1188.5 1436.4 1192.5 1436.6 1196.5 1436.9 1200.5 1437.1 1204.5 1437.3 1208.5 1437.5 1212.5 1437.8 1216.5 1438 1220.5 1438.2 1224.5 1438.5 1228.5 1438.7 1232.5 1438.9 1236.5 1439.2 1240.5 1439.4 1244.5 1439.6 1248.5 1439.8 1252.5 1440.1 1256.5 1440.3 1260.5 1440.5 1264.5 1440.7 1268.5 1440.9 1272.5 1441.1 1276.5 1441.3 1280.5 1441.5 1284.5 1441.7 1288.5 1441.9 1292.5 1442.1 1296.5 1442.3 1300.5 1442.4 1304.5 1442.6 1308.5 1442.8 1312.5 1442.9 1316.5 1443.1 1320.5 1443.2 1324.5 1443.4 1328.5 1443.5 1332.5 1443.6 1336.5 1443.8 1340.5 1443.9 1343.5 1444 1343.5 1454.2 1340.5 1454.1 1336.5 1454 1332.5 1453.8 1328.5 1453.7 1324.5 1453.6 1320.5 1453.4 1316.5 1453.3 1312.5 1453.1 1308.5 1453 1304.5 1452.8 1300.5 1452.6 1296.5 1452.5 1292.5 1452.3 1288.5 1452.1 1284.5 1451.9 1280.5 1451.7 1276.5 1451.5 1272.5 1451.3 1268.5 1451.1 1264.5 1450.9 1260.5 1450.7 1256.5 1450.5 1252.5 1450.3 1248.5 1450 1244.5 1449.8 1240.5 1449.6 1236.5 1449.4 1232.5 1449.1 1228.5 1448.9 1224.5 1448.7 1220.5 1448.4 1216.5 1448.2 1212.5 1448 1208.5 1447.7 1204.5 1447.5 1200.5 1447.3 1196.5 1447.1 1192.5 1446.8 1188.5 1446.6 1184.5 1446.4 1180.5 1446.2 1176.5 1446 1172.5 1445.8 1168.5 1445.7 1164.5 1445.5 1160.5 1445.3 1156.5 1445.1 1152.5 1444.9 1148.5 1444.7 1144.5 1444.5 1140.5 1444.3 1136.5 1444.1 1132.5 1443.8 1128.5 1443.6 1124.5 1443.3 1120.5 1443 1116.5 1442.7 1112.5 1442.4 1108.5 1442.1 1104.5 1441.7 1100.5 1441.3 1096.5 1440.9 1092.5 1440.5 1088.5 1440.1 1084.5 1439.7 1080.5 1439.3 1076.5 1438.8 1072.5 1438.4 1068.5 1438 1064.5 1437.6 1060.5 1437.2 1056.5 1436.8 1052.5 1436.4 1048.5 1436.1 1044.5 1435.7 1040.5 1435.4 1036.5 1435 1032.5 1434.7 1028.5 1434.3 1024.5 1434 1020.5 1433.6 1016.5 1433.3 1012.5 1432.9 1008.5 1432.5 1004.5 1432.1 1000.5 1431.7 996.5 1431.3 992.5 1430.8 988.5 1430.4 984.5 1429.9 980.5 1429.4 976.5 1428.9 972.5 1428.4 968.5 1427.9 964.5 1427.4 960.5 1426.8 956.5 1426.3 952.5 1425.8 948.5 1425.2 944.5 1424.6 940.5 1424.1 936.5 1423.5 932.5 1423 928.5 1422.4 924.5 1421.8 920.5 1421.2 916.5 1420.7 912.5 1420.1 908.5 1419.5 904.5 1418.8 900.5 1418.2 896.5 1417.6 892.5 1416.9 888.5 1416.2 884.5 1415.5 880.5 1414.8 876.5 1414 872.5 1413.2 868.5 1412.4 864.5 1411.6 860.5 1410.8 856.5 1409.9 852.5 1409 848.5 1408.1 844.5 1407.1 840.5 1406.2 836.5 1405.2 832.5 1404.2 828.5 1403.2 824.5 1402.1 820.5 1401.1 816.5 1400 812.5 1398.9 808.5 1397.8 804.5 1396.6 800.5 1395.5 796.5 1394.3 792.5 1393.1 788.5 1391.9 784.5 1390.6 780.5 1389.4 779.5 1389.1 778.5 1388.7 777.5 1388.4 776.5 1388.1 775.5 1387.7 774.5 1387.4 773.5 1387.1 772.5 1386.7 771.5 1386.4 770.5 1386.1 769.5 1385.7 768.5 1385.4 767.5 1385 766.5 1384.7 765.5 1384.3 764.5 1383.9 763.5 1383.6 762.5 1383.2 761.5 1382.9 760.5 1382.5 759.5 1382.1 758.5 1381.7 757.5 1381.4 756.5 1381 755.5 1380.6 754.5 1380.2 753.5 1379.8 752.5 1379.4 751.5 1379 750.5 1378.6 749.5 1378.2 748.5 1377.8 747.5 1377.3 746.5 1376.9 745.5 1376.5 744.5 1376 743.5 1375.6 742.5 1375.2 741.5 1374.7 740.5 1374.2 739.5 1373.8 738.5 1373.3 737.5 1372.8 736.5 1372.3 735.5 1371.9 734.5 1371.4 733.5 1370.9 732.5 1370.4 731.5 1369.8 730.5 1369.3 729.5 1368.8 728.5 1368.3 727.5 1367.7 726.5 1367.2 725.5 1366.7 724.5 1366.1 723.5 1365.5 722.5 1365 721.5 1364.4 720.5 1363.8 719.5 1363.3 718.5 1362.7 717.5 1362.1 716.5 1361.5 715.5 1360.9 714.5 1360.3 713.5 1359.7 712.5 1359.1 711.5 1358.5 710.5 1357.9 709.5 1357.3 708.5 1356.7 707.5 1356.1 706.5 1355.5 705.5 1354.9 704.5 1354.3 703.5 1353.7 702.5 1353.1 701.5 1352.5 700.5 1351.9 699.5 1351.3 698.5 1350.7 697.5 1350.1 696.5 1349.5 695.5 1348.9 694.5 1348.2 693.5 1347.6 692.5 1347 691.5 1346.3 690.5 1345.7 689.5 1345 688.5 1344.4 687.5 1343.7 686.5 1343 685.5 1342.3 684.5 1341.6 683.5 1340.9 682.5 1340.1 681.5 1339.4 680.5 1338.6 679.5 1337.8 678.5 1337 677.5 1336.2 676.5 1335.4 675.5 1334.6 674.5 1333.7 673.5 1332.8 672.5 1331.9 671.5 1331 670.5 1330 669.5 1329.1 668.5 1328.1 667.5 1327 666.5 1326 665.5 1324.9 664.5 1323.8 663.5 1322.7 662.5 1321.5 661.5 1320.3 660.5 1319 659.5 1317.8 658.5 1316.5 657.5 1315.2 656.5 1313.8 655.5 1312.4 654.5 1311 653.5 1309.6 652.5 1308.1 651.5 1306.6 650.5 1305 649.5 1303.5 648.5 1301.9 647.5 1300.3 646.5 1298.7 645.5 1297 644.5 1295.3 643.5 1293.7 642.5 1292 641.5 1290.2 640.5 1288.5 639.5 1286.7 638.5 1285 637.5 1283.2 636.5 1281.4 635.5 1279.6 634.5 1277.8 633.5 1276 632.5 1274.2 631.5 1272.4 630.5 1270.7 629.5 1268.9 628.5 1267.1 627.5 1265.3 626.5 1263.5 625.5 1261.7 624.5 1259.9 623.5 1258.1 622.5 1256.2 621.5 1254.3 620.5 1252.3 619.5 1250.2 618.5 1248.1 617.5 1245.9 616.5 1243.7 615.5 1241.4 614.5 1239 613.5 1236.5 612.5 1234.1 611.5 1231.6 610.5 1229.1 609.5 1226.6 608.5 1224.1 607.5 1221.6 606.5 1219.2 605.5 1216.7 604.5 1214.2 603.5 1211.7 602.5 1209.1 601.5 1206.4 600.5 1203.7 599.5 1200.9 598.5 1197.9 597.5 1194.9 596.5 1191.7 595.5 1188.4 594.5 1185 593.5 1181.5 592.5 1177.8 591.5 1174.1 590.5 1170.3 589.5 1166.4 588.5 1162.4 587.5 1158.4 586.5 1154.3 585.5 1150.2 584.5 1146 583.5 1141.8 582.5 1137.6 581.5 1133.3 580.5 1128.9 579.5 1124.4 578.5 1119.8 577.5 1115.2 576.5 1110.4 575.5 1105.6 574.5 1100.7 573.5 1095.8 572.5 1090.7 571.5 1085.6 570.5 1080.4 569.5 1075 568.5 1069.4 567.5 1063.7 566.5 1057.9 565.5 1052.2 564.5 1046.4 563.5 1040.7 562.5 1035.1 561.5 1029.6 560.5 1024.2 559.5 1018.8 558.5 1013.5 557.5 1008.1 556.5 1002.8 555.5 997.5 554.5 992.1 553.5 986.7 552.5 981.1 551.5 975.5 550.5 969.8 549.7 965.1 549.5 963.9 548.5 957.9 547.5 951.7 546.5 945.3 545.5 938.9 544.5 932.4 543.5 925.9 542.5 919.3 541.5 912.8 540.5 906.2 539.5 899.8 538.5 893.3 537.5 886.7 536.5 880 535.5 873.2 534.5 866.4 533.5 859.5 532.5 852.7 531.5 846 530.5 839.4 529.5 833 528.5 826.7 527.5 820.6 526.5 814.8 525.5 809.3 524.7 805.1 524.5 804.1 523.5 799.2 522.5 794.5 521.5 790 520.5 785.7 519.5 781.5 518.5 777.4 517.5 773.4 516.5 769.4 515.5 765.4 514.5 761.5 513.5 757.4 512.5 753.3 511.5 749 510.6 745.1 510.5 744.7 509.5 740.1 508.5 735.4 507.5 730.6 506.5 725.7 505.5 720.9 504.5 716.2 503.5 711.6 502.5 707.2 502 705.1 501.5 703 500.5 698.7 499.5 694.4 498.5 690.4 497.5 687.1 496.7 685.1 496.5 684.7 495.5 682.8 494.5 681.2 493.5 679.7 492.5 678.4 491.5 677.3 490.5 676.1 490 675.6 489.5 675.1 488.5 674.2 487.5 673.3 486.5 672.5 485.5 671.5 485.3 671.3 484.5 670.3 484.3 670.1 484 669.9 483.7 670.1 483.5 670.3 482.7 671.3 482.5 671.5 481.5 672.5 480.5 673.4 479.5 674.4 478.5 675.6 477.5 677 476.5 678.7 475.5 680.6 474.5 682.6 473.5 684.9 473.4 685.1 472.5 687.4 471.5 690.2 470.5 693.4 469.5 696.7 468.5 700.1 467.5 703.5 467 705.1 466.5 706.7 465.5 709.9 464.5 713.1 463.5 716.3 462.5 719.5 461.5 722.7 460.5 726 459.5 729.4 458.5 732.8 457.5 736.3 456.5 739.9 455.5 743.6 455.1 745.1 454.5 747.4 453.5 751.4 452.5 755.5 451.5 759.8 450.5 764.1 449.5 768.5 448.5 773 447.5 777.6 446.5 782.3 445.5 787 444.5 791.7 443.5 796.5 442.5 801.3 441.7 805.1 441.5 806.1 440.5 810.9 439.5 815.8 438.5 820.9 437.5 825.9 436.5 831.1 435.5 836.3 434.5 841.5 433.5 846.8 432.5 852.1 431.5 857.4 430.5 862.8 429.5 868.1 428.5 873.4 427.5 878.7 426.5 884 425.5 889.2 424.5 894.4 423.5 899.5 422.5 904.6 422.4 905.1 421.5 909.6 420.5 914.6 419.5 919.6 418.5 924.6 417.5 929.5 416.5 934.5 415.5 939.4 414.5 944.3 413.5 949.2 412.5 954 411.5 958.9 410.5 963.7 409.5 968.6 408.5 973.4 407.5 978.2 406.5 982.9 405.5 987.7 405 990.1 404.5 992.5 403.5 997.3 402.5 1002.1 401.5 1006.9 400.5 1011.7 399.5 1016.3 398.5 1020.8 397.5 1025.1 396.5 1029.3 395.5 1033.4 394.5 1037.4 393.5 1041.3 392.5 1045.2 391.5 1049 390.5 1052.8 389.5 1056.5 388.5 1060.2 387.5 1063.8 386.5 1067.4 385.5 1071 384.5 1074.6 383.5 1078.1 382.5 1081.6 381.5 1085.1 380.5 1088.6 379.5 1092.2 378.5 1095.8 377.5 1099.5 376.5 1103.1 375.5 1106.7 374.5 1110.3 373.5 1113.8 372.5 1117.3 371.5 1120.6 370.5 1123.9 369.5 1127 368.5 1130 367.5 1132.9 366.5 1135.5 365.5 1138 365 1139.1 364.5 1140.2 363.5 1142.3 362.5 1144.2 361.5 1146 360.5 1147.7 359.5 1149.4 358.5 1151 357.5 1152.6 356.5 1154.3 356 1155.1 355.5 1155.9 354.5 1157.4 353.5 1158.8 352.5 1160.3 351.5 1162.1 351 1163.1 350.5 1164.4 349.5 1167.6 348.5 1170.8 348 1172.1 347.5 1173.2 346.5 1175 345.5 1176.7 344.5 1178.3 344 1179.1 343.5 1180 342.5 1181.7 341.5 1183.4 340.5 1185.1 339.5 1186.8 338.5 1188.5 337.5 1190.1 336.5 1191.8 336.3 1192.1 335.5 1193.4 334.5 1195 333.5 1196.7 332.5 1198.3 331.5 1199.9 330.5 1201.5 329.5 1203 328.5 1204.5 327.5 1206 326.5 1207.4 325.5 1208.7 324.5 1210.1 323.5 1211.4 322.5 1212.7 321.5 1214 320.5 1215.2 319.5 1216.4 318.5 1217.5 317.5 1218.6 316.5 1219.6 315.5 1220.7 314.5 1221.7 313.5 1222.8 312.5 1223.8 311.5 1224.7 310.5 1225.6 309.5 1226.4 308.5 1227 307.5 1227.5 306.5 1227.9 305.5 1228.3 304.5 1228.7 303.5 1229 302.5 1229.3 301.5 1229.6 300.5 1229.8 299.5 1230 298.5 1230.1 297.5 1230.1 296.5 1230.1 295.5 1230 294.5 1229.9 293.5 1229.8 292.5 1229.6 291.5 1229.4 290.5 1229.2 289.5 1229 288.5 1228.7 287.5 1228.5 286.5 1228.1 285.5 1227.7 284.5 1227.2 283.5 1226.6 282.5 1226 281.5 1225.3 280.5 1224.7 279.5 1224 278.5 1223.2 277.5 1222.5 276.5 1221.7 275.5 1220.9 274.5 1220.1 273.5 1219.1 272.5 1218.2 271.5 1217.2 270.5 1216.1 269.5 1215 268.5 1213.9 267.5 1212.6 266.5 1211.3 265.5 1209.9 264.5 1208.5 263.5 1206.9 262.5 1205.4 261.5 1203.8 260.5 1202.1 259.5 1200.4 258.5 1198.8 257.5 1197 256.5 1195.2 255.5 1193.4 254.5 1191.5 253.5 1189.6 252.5 1187.6 251.5 1185.6 250.5 1183.6 249.5 1181.5 248.5 1179.4 247.5 1177.3 246.5 1175.2 245.5 1173 244.5 1170.8 243.5 1168.5 242.5 1166.2ZM244.6 1154 245.6 1156.4 246.6 1158.8 247.6 1161.1 248.6 1163.4 249.6 1165.7 250.6 1167.9 251.6 1170.1 252.6 1172.2 253.6 1174.3 254.6 1176.4 255.6 1178.5 256.6 1180.5 257.6 1182.5 258.6 1184.5 259.6 1186.4 260.6 1188.3 261.6 1190.1 262.6 1191.9 263.6 1193.7 264.6 1195.3 265.6 1197 266.6 1198.7 267.6 1200.3 268.6 1201.8 269.6 1203.4 270.6 1204.8 271.6 1206.2 272.6 1207.5 273.6 1208.8 274.6 1209.9 275.6 1211 276.6 1212.1 277.6 1213.1 278.6 1214 279.6 1215 280.6 1215.8 281.6 1216.6 282.6 1217.4 283.6 1218.1 284.6 1218.9 285.6 1219.6 286.6 1220.2 287.6 1220.9 288.6 1221.5 289.6 1222.1 290.6 1222.6 291.6 1223 292.6 1223.4 293.6 1223.6 294.6 1223.9 295.6 1224.1 296.6 1224.3 297.6 1224.5 298.6 1224.7 299.6 1224.8 300.6 1224.9 301.6 1225 302.6 1225 292.4 1225 291.4 1225 290.4 1224.9 289.4 1224.8 288.4 1224.7 287.4 1224.5 286.4 1224.3 285.4 1224.1 284.4 1223.9 283.4 1223.6 282.4 1223.4 281.4 1223 280.4 1222.6 279.4 1222.1 278.4 1221.5 277.4 1220.9 276.4 1220.2 275.4 1219.6 274.4 1218.9 273.4 1218.1 272.4 1217.4 271.4 1216.6 270.4 1215.8 269.4 1215 268.4 1214 267.4 1213.1 266.4 1212.1 265.4 1211 264.4 1209.9 263.4 1208.8 262.4 1207.5 261.4 1206.2 260.4 1204.8 259.4 1203.4 258.4 1201.8 257.4 1200.3 256.4 1198.7 255.4 1197 254.4 1195.3 253.4 1193.7 252.4 1191.9 251.4 1190.1 250.4 1188.3 249.4 1186.4 248.4 1184.5 247.4 1182.5 246.4 1180.5 245.4 1178.5 244.4 1176.4 243.4 1174.3 242.4 1172.2 241.4 1170.1 240.4 1167.9 239.4 1165.7 238.4 1163.4 237.4 1161.1 236.4 1158.8 235.4 1156.4 234.4 1154ZM292.4 1225 293.4 1225 294.4 1224.9 295.4 1224.7 296.4 1224.5 297.4 1224.2 298.4 1223.9 299.4 1223.6 300.4 1223.2 301.4 1222.8 302.4 1222.4 303.4 1221.9 304.4 1221.3 305.4 1220.5 306.4 1219.6 307.4 1218.7 308.4 1217.7 309.4 1216.6 310.4 1215.6 311.4 1214.5 312.4 1213.5 313.4 1212.4 314.4 1211.3 315.4 1210.1 316.4 1208.9 317.4 1207.6 318.4 1206.3 319.4 1205 320.4 1203.6 321.4 1202.3 322.4 1200.9 323.4 1199.4 324.4 1197.9 325.4 1196.4 326.4 1194.8 327.4 1193.2 328.4 1191.6 329.4 1189.9 330.4 1188.3 331.2 1187 331.4 1186.7 332.4 1185 333.4 1183.4 334.4 1181.7 335.4 1180 336.4 1178.3 337.4 1176.6 338.4 1174.9 338.9 1174 339.4 1173.2 340.4 1171.6 341.4 1169.9 342.4 1168.1 342.9 1167 343.4 1165.7 344.4 1162.5 345.4 1159.3 345.9 1158 346.4 1157 347.4 1155.2 348.4 1153.7 349.4 1152.3 350.4 1150.8 350.9 1150 351.4 1149.2 352.4 1147.5 353.4 1145.9 354.4 1144.3 355.4 1142.6 356.4 1140.9 357.4 1139.1 358.4 1137.2 359.4 1135.1 359.9 1134 360.4 1132.9 361.4 1130.4 362.4 1127.8 363.4 1124.9 364.4 1121.9 365.4 1118.8 366.4 1115.5 367.4 1112.2 368.4 1108.7 369.4 1105.2 370.4 1101.6 371.4 1098 372.4 1094.4 373.4 1090.7 374.4 1087.1 375.4 1083.5 376.4 1080 377.4 1076.5 378.4 1073 379.4 1069.5 380.4 1065.9 381.4 1062.3 382.4 1058.7 383.4 1055.1 384.4 1051.4 385.4 1047.7 386.4 1043.9 387.4 1040.1 388.4 1036.2 389.4 1032.3 390.4 1028.3 391.4 1024.2 392.4 1020 393.4 1015.7 394.4 1011.2 395.4 1006.6 396.4 1001.8 397.4 997 398.4 992.2 399.4 987.4 399.9 985 400.4 982.6 401.4 977.8 402.4 973.1 403.4 968.3 404.4 963.5 405.4 958.6 406.4 953.8 407.4 948.9 408.4 944.1 409.4 939.2 410.4 934.3 411.4 929.4 412.4 924.4 413.4 919.5 414.4 914.5 415.4 909.5 416.4 904.5 417.3 900 417.4 899.5 418.4 894.4 419.4 889.3 420.4 884.1 421.4 878.9 422.4 873.6 423.4 868.3 424.4 863 425.4 857.7 426.4 852.3 427.4 847 428.4 841.7 429.4 836.4 430.4 831.2 431.4 826 432.4 820.8 433.4 815.8 434.4 810.7 435.4 805.8 436.4 801 436.6 800 437.4 796.2 438.4 791.4 439.4 786.6 440.4 781.9 441.4 777.2 442.4 772.5 443.4 767.9 444.4 763.4 445.4 759 446.4 754.7 447.4 750.4 448.4 746.3 449.4 742.3 450 740 450.4 738.5 451.4 734.8 452.4 731.2 453.4 727.7 454.4 724.3 455.4 720.9 456.4 717.6 457.4 714.4 458.4 711.2 459.4 708 460.4 704.8 461.4 701.6 461.9 700 462.4 698.4 463.4 695 464.4 691.6 465.4 688.3 466.4 685.1 467.4 682.3 468.3 680 468.4 679.8 469.4 677.5 470.4 675.5 471.4 673.6 472.4 671.9 473.4 670.5 474.4 669.3 475.4 668.3 476.4 667.4 477.4 666.4 477.6 666.2 478.4 665.2 478.6 665 478.9 664.8 489.1 664.8 488.8 665 488.6 665.2 487.8 666.2 487.6 666.4 486.6 667.4 485.6 668.3 484.6 669.3 483.6 670.5 482.6 671.9 481.6 673.6 480.6 675.5 479.6 677.5 478.6 679.8 478.5 680 477.6 682.3 476.6 685.1 475.6 688.3 474.6 691.6 473.6 695 472.6 698.4 472.1 700 471.6 701.6 470.6 704.8 469.6 708 468.6 711.2 467.6 714.4 466.6 717.6 465.6 720.9 464.6 724.3 463.6 727.7 462.6 731.2 461.6 734.8 460.6 738.5 460.2 740 459.6 742.3 458.6 746.3 457.6 750.4 456.6 754.7 455.6 759 454.6 763.4 453.6 767.9 452.6 772.5 451.6 777.2 450.6 781.9 449.6 786.6 448.6 791.4 447.6 796.2 446.8 800 446.6 801 445.6 805.8 444.6 810.7 443.6 815.8 442.6 820.8 441.6 826 440.6 831.2 439.6 836.4 438.6 841.7 437.6 847 436.6 852.3 435.6 857.7 434.6 863 433.6 868.3 432.6 873.6 431.6 878.9 430.6 884.1 429.6 889.3 428.6 894.4 427.6 899.5 427.5 900 426.6 904.5 425.6 909.5 424.6 914.5 423.6 919.5 422.6 924.4 421.6 929.4 420.6 934.3 419.6 939.2 418.6 944.1 417.6 948.9 416.6 953.8 415.6 958.6 414.6 963.5 413.6 968.3 412.6 973.1 411.6 977.8 410.6 982.6 410.1 985 409.6 987.4 408.6 992.2 407.6 997 406.6 1001.8 405.6 1006.6 404.6 1011.2 403.6 1015.7 402.6 1020 401.6 1024.2 400.6 1028.3 399.6 1032.3 398.6 1036.2 397.6 1040.1 396.6 1043.9 395.6 1047.7 394.6 1051.4 393.6 1055.1 392.6 1058.7 391.6 1062.3 390.6 1065.9 389.6 1069.5 388.6 1073 387.6 1076.5 386.6 1080 385.6 1083.5 384.6 1087.1 383.6 1090.7 382.6 1094.4 381.6 1098 380.6 1101.6 379.6 1105.2 378.6 1108.7 377.6 1112.2 376.6 1115.5 375.6 1118.8 374.6 1121.9 373.6 1124.9 372.6 1127.8 371.6 1130.4 370.6 1132.9 370.1 1134 369.6 1135.1 368.6 1137.2 367.6 1139.1 366.6 1140.9 365.6 1142.6 364.6 1144.3 363.6 1145.9 362.6 1147.5 361.6 1149.2 361.1 1150 360.6 1150.8 359.6 1152.3 358.6 1153.7 357.6 1155.2 356.6 1157 356.1 1158 355.6 1159.3 354.6 1162.5 353.6 1165.7 353.1 1167 352.6 1168.1 351.6 1169.9 350.6 1171.6 349.6 1173.2 349.1 1174 348.6 1174.9 347.6 1176.6 346.6 1178.3 345.6 1180 344.6 1181.7 343.6 1183.4 342.6 1185 341.6 1186.7 341.4 1187 340.6 1188.3 339.6 1189.9 338.6 1191.6 337.6 1193.2 336.6 1194.8 335.6 1196.4 334.6 1197.9 333.6 1199.4 332.6 1200.9 331.6 1202.3 330.6 1203.6 329.6 1205 328.6 1206.3 327.6 1207.6 326.6 1208.9 325.6 1210.1 324.6 1211.3 323.6 1212.4 322.6 1213.5 321.6 1214.5 320.6 1215.6 319.6 1216.6 318.6 1217.7 317.6 1218.7 316.6 1219.6 315.6 1220.5 314.6 1221.3 313.6 1221.9 312.6 1222.4 311.6 1222.8 310.6 1223.2 309.6 1223.6 308.6 1223.9 307.6 1224.2 306.6 1224.5 305.6 1224.7 304.6 1224.9 303.6 1225 302.6 1225ZM489.1 664.8 489.4 665 489.6 665.2 490.4 666.2 490.6 666.4 491.6 667.4 492.6 668.2 493.6 669.1 494.6 670 495.1 670.5 495.6 671 496.6 672.2 497.6 673.3 498.6 674.6 499.6 676.1 500.6 677.7 501.6 679.6 501.8 680 502.6 682 503.6 685.3 504.6 689.3 505.6 693.6 506.6 697.9 507.1 700 507.6 702.1 508.6 706.5 509.6 711.1 510.6 715.8 511.6 720.6 512.6 725.5 513.6 730.3 514.6 735 515.6 739.6 515.7 740 516.6 743.9 517.6 748.2 518.6 752.3 519.6 756.4 520.6 760.3 521.6 764.3 522.6 768.3 523.6 772.3 524.6 776.4 525.6 780.6 526.6 784.9 527.6 789.4 528.6 794.1 529.6 799 529.8 800 530.6 804.2 531.6 809.7 532.6 815.5 533.6 821.6 534.6 827.9 535.6 834.3 536.6 840.9 537.6 847.6 538.6 854.4 539.6 861.3 540.6 868.1 541.6 874.9 542.6 881.6 543.6 888.2 544.6 894.7 545.6 901.1 546.6 907.7 547.6 914.2 548.6 920.8 549.6 927.3 550.6 933.8 551.6 940.2 552.6 946.6 553.6 952.8 554.6 958.8 554.8 960 555.6 964.7 556.6 970.4 557.6 976 558.6 981.6 559.6 987 560.6 992.4 561.6 997.7 562.6 1003 563.6 1008.4 564.6 1013.7 565.6 1019.1 566.6 1024.5 567.6 1030 568.6 1035.6 569.6 1041.3 570.6 1047.1 571.6 1052.8 572.6 1058.6 573.6 1064.3 574.6 1069.9 575.6 1075.3 576.6 1080.5 577.6 1085.6 578.6 1090.7 579.6 1095.6 580.6 1100.5 581.6 1105.3 582.6 1110.1 583.6 1114.7 584.6 1119.3 585.6 1123.8 586.6 1128.2 587.6 1132.5 588.6 1136.7 589.6 1140.9 590.6 1145.1 591.6 1149.2 592.6 1153.3 593.6 1157.3 594.6 1161.3 595.6 1165.2 596.6 1169 597.6 1172.7 598.6 1176.4 599.6 1179.9 600.6 1183.3 601.6 1186.6 602.6 1189.8 603.6 1192.8 604.6 1195.8 605.6 1198.6 606.6 1201.3 607.6 1204 608.6 1206.6 609.6 1209.1 610.6 1211.6 611.6 1214.1 612.6 1216.5 613.6 1219 614.6 1221.5 615.6 1224 616.6 1226.5 617.6 1229 618.6 1231.4 619.6 1233.9 620.6 1236.3 621.6 1238.6 622.6 1240.8 623.6 1243 624.6 1245.1 625.6 1247.2 626.6 1249.2 627.6 1251.1 628.6 1253 629.6 1254.8 630.6 1256.6 631.6 1258.4 632.6 1260.2 633.6 1262 634.6 1263.8 635.6 1265.6 636.6 1267.3 637.6 1269.1 638.6 1270.9 639.6 1272.7 640.6 1274.5 641.6 1276.3 642.6 1278.1 643.6 1279.9 644.6 1281.6 645.6 1283.4 646.6 1285.1 647.6 1286.9 648.6 1288.6 649.6 1290.2 650.6 1291.9 651.6 1293.6 652.6 1295.2 653.6 1296.8 654.6 1298.4 655.6 1299.9 656.6 1301.5 657.6 1303 658.6 1304.5 659.6 1305.9 660.6 1307.3 661.6 1308.7 662.6 1310.1 663.6 1311.4 664.6 1312.7 665.6 1313.9 666.6 1315.2 667.6 1316.4 668.6 1317.6 669.6 1318.7 670.6 1319.8 671.6 1320.9 672.6 1321.9 673.6 1323 674.6 1324 675.6 1324.9 676.6 1325.9 677.6 1326.8 678.6 1327.7 679.6 1328.6 680.6 1329.5 681.6 1330.3 682.6 1331.1 683.6 1331.9 684.6 1332.7 685.6 1333.5 686.6 1334.3 687.6 1335 688.6 1335.8 689.6 1336.5 690.6 1337.2 691.6 1337.9 692.6 1338.6 693.6 1339.3 694.6 1339.9 695.6 1340.6 696.6 1341.2 697.6 1341.9 698.6 1342.5 699.6 1343.1 700.6 1343.8 701.6 1344.4 702.6 1345 703.6 1345.6 704.6 1346.2 705.6 1346.8 706.6 1347.4 707.6 1348 708.6 1348.6 709.6 1349.2 710.6 1349.8 711.6 1350.4 712.6 1351 713.6 1351.6 714.6 1352.2 715.6 1352.8 716.6 1353.4 717.6 1354 718.6 1354.6 719.6 1355.2 720.6 1355.8 721.6 1356.4 722.6 1357 723.6 1357.6 724.6 1358.2 725.6 1358.7 726.6 1359.3 727.6 1359.9 728.6 1360.4 729.6 1361 730.6 1361.6 731.6 1362.1 732.6 1362.6 733.6 1363.2 734.6 1363.7 735.6 1364.2 736.6 1364.7 737.6 1365.3 738.6 1365.8 739.6 1366.3 740.6 1366.8 741.6 1367.2 742.6 1367.7 743.6 1368.2 744.6 1368.7 745.6 1369.1 746.6 1369.6 747.6 1370.1 748.6 1370.5 749.6 1370.9 750.6 1371.4 751.6 1371.8 752.6 1372.2 753.6 1372.7 754.6 1373.1 755.6 1373.5 756.6 1373.9 757.6 1374.3 758.6 1374.7 759.6 1375.1 760.6 1375.5 761.6 1375.9 762.6 1376.3 763.6 1376.6 764.6 1377 765.6 1377.4 766.6 1377.8 767.6 1378.1 768.6 1378.5 769.6 1378.8 770.6 1379.2 771.6 1379.6 772.6 1379.9 773.6 1380.3 774.6 1380.6 775.6 1381 776.6 1381.3 777.6 1381.6 778.6 1382 779.6 1382.3 780.6 1382.6 781.6 1383 782.6 1383.3 783.6 1383.6 784.6 1384 785.6 1384.3 786.6 1384.6 787.6 1384.9 788.6 1385.2 789.6 1385.5 790.6 1385.9 791.6 1386.2 792.6 1386.5 793.6 1386.8 794.6 1387.1 795.6 1387.4 796.6 1387.7 797.6 1388 798.6 1388.3 799.6 1388.6 800.6 1388.9 801.6 1389.2 802.6 1389.5 803.6 1389.8 804.6 1390.1 794.4 1390.1 793.4 1389.8 792.4 1389.5 791.4 1389.2 790.4 1388.9 789.4 1388.6 788.4 1388.3 787.4 1388 786.4 1387.7 785.4 1387.4 784.4 1387.1 783.4 1386.8 782.4 1386.5 781.4 1386.2 780.4 1385.9 779.4 1385.5 778.4 1385.2 777.4 1384.9 776.4 1384.6 775.4 1384.3 774.4 1384 773.4 1383.6 772.4 1383.3 771.4 1383 770.4 1382.6 769.4 1382.3 768.4 1382 767.4 1381.6 766.4 1381.3 765.4 1381 764.4 1380.6 763.4 1380.3 762.4 1379.9 761.4 1379.6 760.4 1379.2 759.4 1378.8 758.4 1378.5 757.4 1378.1 756.4 1377.8 755.4 1377.4 754.4 1377 753.4 1376.6 752.4 1376.3 751.4 1375.9 750.4 1375.5 749.4 1375.1 748.4 1374.7 747.4 1374.3 746.4 1373.9 745.4 1373.5 744.4 1373.1 743.4 1372.7 742.4 1372.2 741.4 1371.8 740.4 1371.4 739.4 1370.9 738.4 1370.5 737.4 1370.1 736.4 1369.6 735.4 1369.1 734.4 1368.7 733.4 1368.2 732.4 1367.7 731.4 1367.2 730.4 1366.8 729.4 1366.3 728.4 1365.8 727.4 1365.3 726.4 1364.7 725.4 1364.2 724.4 1363.7 723.4 1363.2 722.4 1362.6 721.4 1362.1 720.4 1361.6 719.4 1361 718.4 1360.4 717.4 1359.9 716.4 1359.3 715.4 1358.7 714.4 1358.2 713.4 1357.6 712.4 1357 711.4 1356.4 710.4 1355.8 709.4 1355.2 708.4 1354.6 707.4 1354 706.4 1353.4 705.4 1352.8 704.4 1352.2 703.4 1351.6 702.4 1351 701.4 1350.4 700.4 1349.8 699.4 1349.2 698.4 1348.6 697.4 1348 696.4 1347.4 695.4 1346.8 694.4 1346.2 693.4 1345.6 692.4 1345 691.4 1344.4 690.4 1343.8 689.4 1343.1 688.4 1342.5 687.4 1341.9 686.4 1341.2 685.4 1340.6 684.4 1339.9 683.4 1339.3 682.4 1338.6 681.4 1337.9 680.4 1337.2 679.4 1336.5 678.4 1335.8 677.4 1335 676.4 1334.3 675.4 1333.5 674.4 1332.7 673.4 1331.9 672.4 1331.1 671.4 1330.3 670.4 1329.5 669.4 1328.6 668.4 1327.7 667.4 1326.8 666.4 1325.9 665.4 1324.9 664.4 1324 663.4 1323 662.4 1321.9 661.4 1320.9 660.4 1319.8 659.4 1318.7 658.4 1317.6 657.4 1316.4 656.4 1315.2 655.4 1313.9 654.4 1312.7 653.4 1311.4 652.4 1310.1 651.4 1308.7 650.4 1307.3 649.4 1305.9 648.4 1304.5 647.4 1303 646.4 1301.5 645.4 1299.9 644.4 1298.4 643.4 1296.8 642.4 1295.2 641.4 1293.6 640.4 1291.9 639.4 1290.2 638.4 1288.6 637.4 1286.9 636.4 1285.1 635.4 1283.4 634.4 1281.6 633.4 1279.9 632.4 1278.1 631.4 1276.3 630.4 1274.5 629.4 1272.7 628.4 1270.9 627.4 1269.1 626.4 1267.3 625.4 1265.6 624.4 1263.8 623.4 1262 622.4 1260.2 621.4 1258.4 620.4 1256.6 619.4 1254.8 618.4 1253 617.4 1251.1 616.4 1249.2 615.4 1247.2 614.4 1245.1 613.4 1243 612.4 1240.8 611.4 1238.6 610.4 1236.3 609.4 1233.9 608.4 1231.4 607.4 1229 606.4 1226.5 605.4 1224 604.4 1221.5 603.4 1219 602.4 1216.5 601.4 1214.1 600.4 1211.6 599.4 1209.1 598.4 1206.6 597.4 1204 596.4 1201.3 595.4 1198.6 594.4 1195.8 593.4 1192.8 592.4 1189.8 591.4 1186.6 590.4 1183.3 589.4 1179.9 588.4 1176.4 587.4 1172.7 586.4 1169 585.4 1165.2 584.4 1161.3 583.4 1157.3 582.4 1153.3 581.4 1149.2 580.4 1145.1 579.4 1140.9 578.4 1136.7 577.4 1132.5 576.4 1128.2 575.4 1123.8 574.4 1119.3 573.4 1114.7 572.4 1110.1 571.4 1105.3 570.4 1100.5 569.4 1095.6 568.4 1090.7 567.4 1085.6 566.4 1080.5 565.4 1075.3 564.4 1069.9 563.4 1064.3 562.4 1058.6 561.4 1052.8 560.4 1047.1 559.4 1041.3 558.4 1035.6 557.4 1030 556.4 1024.5 555.4 1019.1 554.4 1013.7 553.4 1008.4 552.4 1003 551.4 997.7 550.4 992.4 549.4 987 548.4 981.6 547.4 976 546.4 970.4 545.4 964.7 544.6 960 544.4 958.8 543.4 952.8 542.4 946.6 541.4 940.2 540.4 933.8 539.4 927.3 538.4 920.8 537.4 914.2 536.4 907.7 535.4 901.1 534.4 894.7 533.4 888.2 532.4 881.6 531.4 874.9 530.4 868.1 529.4 861.3 528.4 854.4 527.4 847.6 526.4 840.9 525.4 834.3 524.4 827.9 523.4 821.6 522.4 815.5 521.4 809.7 520.4 804.2 519.6 800 519.4 799 518.4 794.1 517.4 789.4 516.4 784.9 515.4 780.6 514.4 776.4 513.4 772.3 512.4 768.3 511.4 764.3 510.4 760.3 509.4 756.4 508.4 752.3 507.4 748.2 506.4 743.9 505.5 740 505.4 739.6 504.4 735 503.4 730.3 502.4 725.5 501.4 720.6 500.4 715.8 499.4 711.1 498.4 706.5 497.4 702.1 496.9 700 496.4 697.9 495.4 693.6 494.4 689.3 493.4 685.3 492.4 682 491.6 680 491.4 679.6 490.4 677.7 489.4 676.1 488.4 674.6 487.4 673.3 486.4 672.2 485.4 671 484.9 670.5 484.4 670 483.4 669.1 482.4 668.2 481.4 667.4 480.4 666.4 480.2 666.2 479.4 665.2 479.2 665 478.9 664.8Z"/>
<path fill="none" stroke="#ffff00" stroke-width="8.9" stroke-linejoin="round" d="M241.5 1158.8 242.5 1161.1 243.5 1163.4 244.5 1165.7 245.5 1167.9 246.5 1170.1 247.5 1172.2 248.5 1174.3 249.5 1176.4 250.5 1178.5 251.5 1180.5 252.5 1182.5 253.5 1184.5 254.5 1186.4 255.5 1188.3 256.5 1190.1 257.5 1191.9 258.5 1193.7 259.5 1195.3 260.5 1197 261.5 1198.7 262.5 1200.3 263.5 1201.8 264.5 1203.4 265.5 1204.8 266.5 1206.2 267.5 1207.5 268.5 1208.8 269.5 1209.9 270.5 1211 271.5 1212.1 272.5 1213.1 273.5 1214 274.5 1215 275.5 1215.8 276.5 1216.6 277.5 1217.4 278.5 1218.1 279.5 1218.9 280.5 1219.6 281.5 1220.2 282.5 1220.9 283.5 1221.5 284.5 1222.1 285.5 1222.6 286.5 1223 287.5 1223.4 288.5 1223.6 289.5 1223.9 290.5 1224.1 291.5 1224.3 292.5 1224.5 293.5 1224.7 294.5 1224.8 295.5 1224.9 296.5 1225 297.5 1225 298.5 1225 299.5 1224.9 300.5 1224.7 301.5 1224.5 302.5 1224.2 303.5 1223.9 304.5 1223.6 305.5 1223.2 306.5 1222.8 307.5 1222.4 308.5 1221.9 309.5 1221.3 310.5 1220.5 311.5 1219.6 312.5 1218.7 313.5 1217.7 314.5 1216.6 315.5 1215.6 316.5 1214.5 317.5 1213.5 318.5 1212.4 319.5 1211.3 320.5 1210.1 321.5 1208.9 322.5 1207.6 323.5 1206.3 324.5 1205 325.5 1203.6 326.5 1202.3 327.5 1200.9 328.5 1199.4 329.5 1197.9 330.5 1196.4 331.5 1194.8 332.5 1193.2 333.5 1191.6 334.5 1189.9 335.5 1188.3 336.3 1187 336.5 1186.7 337.5 1185 338.5 1183.4 339.5 1181.7 340.5 1180 341.5 1178.3 342.5 1176.6 343.5 1174.9 344 1174 344.5 1173.2 345.5 1171.6 346.5 1169.9 347.5 1168.1 348 1167 348.5 1165.7 349.5 1162.5 350.5 1159.3 351 1158 351.5 1157 352.5 1155.2 353.5 1153.7 354.5 1152.3 355.5 1150.8 356 1150 356.5 1149.2 357.5 1147.5 358.5 1145.9 359.5 1144.3 360.5 1142.6 361.5 1140.9 362.5 1139.1 363.5 1137.2 364.5 1135.1 365 1134 365.5 1132.9 366.5 1130.4 367.5 1127.8 368.5 1124.9 369.5 1121.9 370.5 1118.8 371.5 1115.5 372.5 1112.2 373.5 1108.7 374.5 1105.2 375.5 1101.6 376.5 1098 377.5 1094.4 378.5 1090.7 379.5 1087.1 380.5 1083.5 381.5 1080 382.5 1076.5 383.5 1073 384.5 1069.5 385.5 1065.9 386.5 1062.3 387.5 1058.7 388.5 1055.1 389.5 1051.4 390.5 1047.7 391.5 1043.9 392.5 1040.1 393.5 1036.2 394.5 1032.3 395.5 1028.3 396.5 1024.2 397.5 1020 398.5 1015.7 399.5 1011.2 400.5 1006.6 401.5 1001.8 402.5 997 403.5 992.2 404.5 987.4 405 985 405.5 982.6 406.5 977.8 407.5 973.1 408.5 968.3 409.5 963.5 410.5 958.6 411.5 953.8 412.5 948.9 413.5 944.1 414.5 939.2 415.5 934.3 416.5 929.4 417.5 924.4 418.5 919.5 419.5 914.5 420.5 909.5 421.5 904.5 422.4 900 422.5 899.5 423.5 894.4 424.5 889.3 425.5 884.1 426.5 878.9 427.5 873.6 428.5 868.3 429.5 863 430.5 857.7 431.5 852.3 432.5 847 433.5 841.7 434.5 836.4 435.5 831.2 436.5 826 437.5 820.8 438.5 815.8 439.5 810.7 440.5 805.8 441.5 801 441.7 800 442.5 796.2 443.5 791.4 444.5 786.6 445.5 781.9 446.5 777.2 447.5 772.5 448.5 767.9 449.5 763.4 450.5 759 451.5 754.7 452.5 750.4 453.5 746.3 454.5 742.3 455.1 740 455.5 738.5 456.5 734.8 457.5 731.2 458.5 727.7 459.5 724.3 460.5 720.9 461.5 717.6 462.5 714.4 463.5 711.2 464.5 708 465.5 704.8 466.5 701.6 467 700 467.5 698.4 468.5 695 469.5 691.6 470.5 688.3 471.5 685.1 472.5 682.3 473.4 680 473.5 679.8 474.5 677.5 475.5 675.5 476.5 673.6 477.5 671.9 478.5 670.5 479.5 669.3 480.5 668.3 481.5 667.4 482.5 666.4 482.7 666.2 483.5 665.2 483.7 665 484 664.8 484.3 665 484.5 665.2 485.3 666.2 485.5 666.4 486.5 667.4 487.5 668.2 488.5 669.1 489.5 670 490 670.5 490.5 671 491.5 672.2 492.5 673.3 493.5 674.6 494.5 676.1 495.5 677.7 496.5 679.6 496.7 680 497.5 682 498.5 685.3 499.5 689.3 500.5 693.6 501.5 697.9 502 700 502.5 702.1 503.5 706.5 504.5 711.1 505.5 715.8 506.5 720.6 507.5 725.5 508.5 730.3 509.5 735 510.5 739.6 510.6 740 511.5 743.9 512.5 748.2 513.5 752.3 514.5 756.4 515.5 760.3 516.5 764.3 517.5 768.3 518.5 772.3 519.5 776.4 520.5 780.6 521.5 784.9 522.5 789.4 523.5 794.1 524.5 799 524.7 800 525.5 804.2 526.5 809.7 527.5 815.5 528.5 821.6 529.5 827.9 530.5 834.3 531.5 840.9 532.5 847.6 533.5 854.4 534.5 861.3 535.5 868.1 536.5 874.9 537.5 881.6 538.5 888.2 539.5 894.7 540.5 901.1 541.5 907.7 542.5 914.2 543.5 920.8 544.5 927.3 545.5 933.8 546.5 940.2 547.5 946.6 548.5 952.8 549.5 958.8 549.7 960 550.5 964.7 551.5 970.4 552.5 976 553.5 981.6 554.5 987 555.5 992.4 556.5 997.7 557.5 1003 558.5 1008.4 559.5 1013.7 560.5 1019.1 561.5 1024.5 562.5 1030 563.5 1035.6 564.5 1041.3 565.5 1047.1 566.5 1052.8 567.5 1058.6 568.5 1064.3 569.5 1069.9 570.5 1075.3 571.5 1080.5 572.5 1085.6 573.5 1090.7 574.5 1095.6 575.5 1100.5 576.5 1105.3 577.5 1110.1 578.5 1114.7 579.5 1119.3 580.5 1123.8 581.5 1128.2 582.5 1132.5 583.5 1136.7 584.5 1140.9 585.5 1145.1 586.5 1149.2 587.5 1153.3 588.5 1157.3 589.5 1161.3 590.5 1165.2 591.5 1169 592.5 1172.7 593.5 1176.4 594.5 1179.9 595.5 1183.3 596.5 1186.6 597.5 1189.8 598.5 1192.8 599.5 1195.8 600.5 1198.6 601.5 1201.3 602.5 1204 603.5 1206.6 604.5 1209.1 605.5 1211.6 606.5 1214.1 607.5 1216.5 608.5 1219 609.5 1221.5 610.5 1224 611.5 1226.5 612.5 1229 613.5 1231.4 614.5 1233.9 615.5 1236.3 616.5 1238.6 617.5 1240.8 618.5 1243 619.5 1245.1 620.5 1247.2 621.5 1249.2 622.5 1251.1 623.5 1253 624.5 1254.8 625.5 1256.6 626.5 1258.4 627.5 1260.2 628.5 1262 629.5 1263.8 630.5 1265.6 631.5 1267.3 632.5 1269.1 633.5 1270.9 634.5 1272.7 635.5 1274.5 636.5 1276.3 637.5 1278.1 638.5 1279.9 639.5 1281.6 640.5 1283.4 641.5 1285.1 642.5 1286.9 643.5 1288.6 644.5 1290.2 645.5 1291.9 646.5 1293.6 647.5 1295.2 648.5 1296.8 649.5 1298.4 650.5 1299.9 651.5 1301.5 652.5 1303 653.5 1304.5 654.5 1305.9 655.5 1307.3 656.5 1308.7 657.5 1310.1 658.5 1311.4 659.5 1312.7 660.5 1313.9 661.5 1315.2 662.5 1316.4 663.5 1317.6 664.5 1318.7 665.5 1319.8 666.5 1320.9 667.5 1321.9 668.5 1323 669.5 1324 670.5 1324.9 671.5 1325.9 672.5 1326.8 673.5 1327.7 674.5 1328.6 675.5 1329.5 676.5 1330.3 677.5 1331.1 678.5 1331.9 679.5 1332.7 680.5 1333.5 681.5 1334.3 682.5 1335 683.5 1335.8 684.5 1336.5 685.5 1337.2 686.5 1337.9 687.5 1338.6 688.5 1339.3 689.5 1339.9 690.5 1340.6 691.5 1341.2 692.5 1341.9 693.5 1342.5 694.5 1343.1 695.5 1343.8 696.5 1344.4 697.5 1345 698.5 1345.6 699.5 1346.2 700.5 1346.8 701.5 1347.4 702.5 1348 703.5 1348.6 704.5 1349.2 705.5 1349.8 706.5 1350.4 707.5 1351 708.5 1351.6 709.5 1352.2 710.5 1352.8 711.5 1353.4 712.5 1354 713.5 1354.6 714.5 1355.2 715.5 1355.8 716.5 1356.4 717.5 1357 718.5 1357.6 719.5 1358.2 720.5 1358.7 721.5 1359.3 722.5 1359.9 723.5 1360.4 724.5 1361 725.5 1361.6 726.5 1362.1 727.5 1362.6 728.5 1363.2 729.5 1363.7 730.5 1364.2 731.5 1364.7 732.5 1365.3 733.5 1365.8 734.5 1366.3 735.5 1366.8 736.5 1367.2 737.5 1367.7 738.5 1368.2 739.5 1368.7 740.5 1369.1 741.5 1369.6 742.5 1370.1 743.5 1370.5 744.5 1370.9 745.5 1371.4 746.5 1371.8 747.5 1372.2 748.5 1372.7 749.5 1373.1 750.5 1373.5 751.5 1373.9 752.5 1374.3 753.5 1374.7 754.5 1375.1 755.5 1375.5 756.5 1375.9 757.5 1376.3 758.5 1376.6 759.5 1377 760.5 1377.4 761.5 1377.8 762.5 1378.1 763.5 1378.5 764.5 1378.8 765.5 1379.2 766.5 1379.6 767.5 1379.9 768.5 1380.3 769.5 1380.6 770.5 1381 771.5 1381.3 772.5 1381.6 773.5 1382 774.5 1382.3 775.5 1382.6 776.5 1383 777.5 1383.3 778.5 1383.6 779.5 1384 780.5 1384.3 784.5 1385.5 788.5 1386.8 792.5 1388 796.5 1389.2 800.5 1390.4 804.5 1391.5 808.5 1392.7 812.5 1393.8 816.5 1394.9 820.5 1396 824.5 1397 828.5 1398.1 832.5 1399.1 836.5 1400.1 840.5 1401.1 844.5 1402 848.5 1403 852.5 1403.9 856.5 1404.8 860.5 1405.7 864.5 1406.5 868.5 1407.3 872.5 1408.1 876.5 1408.9 880.5 1409.7 884.5 1410.4 888.5 1411.1 892.5 1411.8 896.5 1412.5 900.5 1413.1 904.5 1413.7 908.5 1414.4 912.5 1415 916.5 1415.6 920.5 1416.1 924.5 1416.7 928.5 1417.3 932.5 1417.9 936.5 1418.4 940.5 1419 944.5 1419.5 948.5 1420.1 952.5 1420.7 956.5 1421.2 960.5 1421.7 964.5 1422.3 968.5 1422.8 972.5 1423.3 976.5 1423.8 980.5 1424.3 984.5 1424.8 988.5 1425.3 992.5 1425.7 996.5 1426.2 1000.5 1426.6 1004.5 1427 1008.5 1427.4 1012.5 1427.8 1016.5 1428.2 1020.5 1428.5 1024.5 1428.9 1028.5 1429.2 1032.5 1429.6 1036.5 1429.9 1040.5 1430.3 1044.5 1430.6 1048.5 1431 1052.5 1431.3 1056.5 1431.7 1060.5 1432.1 1064.5 1432.5 1068.5 1432.9 1072.5 1433.3 1076.5 1433.7 1080.5 1434.2 1084.5 1434.6 1088.5 1435 1092.5 1435.4 1096.5 1435.8 1100.5 1436.2 1104.5 1436.6 1108.5 1437 1112.5 1437.3 1116.5 1437.6 1120.5 1437.9 1124.5 1438.2 1128.5 1438.5 1132.5 1438.7 1136.5 1439 1140.5 1439.2 1144.5 1439.4 1148.5 1439.6 1152.5 1439.8 1156.5 1440 1160.5 1440.2 1164.5 1440.4 1168.5 1440.6 1172.5 1440.7 1176.5 1440.9 1180.5 1441.1 1184.5 1441.3 1188.5 1441.5 1192.5 1441.7 1196.5 1442 1200.5 1442.2 1204.5 1442.4 1208.5 1442.6 1212.5 1442.9 1216.5 1443.1 1220.5 1443.3 1224.5 1443.6 1228.5 1443.8 1232.5 1444 1236.5 1444.3 1240.5 1444.5 1244.5 1444.7 1248.5 1444.9 1252.5 1445.2 1256.5 1445.4 1260.5 1445.6 1264.5 1445.8 1268.5 1446 1272.5 1446.2 1276.5 1446.4 1280.5 1446.6 1284.5 1446.8 1288.5 1447 1292.5 1447.2 1296.5 1447.4 1300.5 1447.5 1304.5 1447.7 1308.5 1447.9 1312.5 1448 1316.5 1448.2 1320.5 1448.3 1324.5 1448.5 1328.5 1448.6 1332.5 1448.7 1336.5 1448.9 1340.5 1449 1343.5 1449.1"/>
<path fill="#00ffff" d="M242.5 1125.2 243.5 1127.3 244.5 1129.5 245.5 1131.6 246.5 1133.8 247.5 1136 248.5 1138.1 249.5 1140.3 250.5 1142.6 251.5 1144.9 252.5 1147.3 253.5 1149.6 254.5 1152 255.5 1154.3 256.5 1156.6 257.5 1158.8 258.5 1160.9 259.5 1162.9 260.5 1164.9 261.5 1166.8 262.5 1168.7 263.5 1170.6 264.5 1172.4 265.5 1174.1 266.5 1175.7 267.5 1177.2 268.5 1178.6 269.5 1179.9 270.5 1181.2 271.5 1182.3 272.5 1183.4 273.5 1184.5 274.5 1185.5 275.5 1186.5 276.5 1187.4 277.5 1188.2 278.5 1189.1 279.5 1189.9 280.5 1190.7 281.5 1191.5 282.5 1192.2 283.5 1192.9 284.5 1193.6 285.5 1194.2 286.5 1194.7 287.5 1195.2 288.5 1195.6 289.5 1196 290.5 1196.3 291.5 1196.7 292.5 1197 293.5 1197.3 294.5 1197.5 295.5 1197.7 296.5 1197.8 297.5 1197.9 298.5 1197.9 299.5 1197.8 300.5 1197.7 301.5 1197.5 302.5 1197.3 303.5 1197 304.5 1196.8 305.5 1196.5 306.5 1196.2 307.5 1195.8 308.5 1195.4 309.5 1194.9 310.5 1194.2 311.5 1193.4 312.5 1192.6 313.5 1191.7 314.5 1190.8 315.5 1189.8 316.5 1188.9 317.5 1187.9 318.5 1186.9 319.5 1185.8 320.5 1184.6 321.5 1183.4 322.5 1182.1 323.5 1180.8 324.5 1179.4 325.5 1178.1 326.5 1176.7 327.5 1175.3 328.5 1173.8 329.5 1172.3 330.5 1170.8 331.5 1169.2 332.5 1167.5 333.5 1165.8 334.5 1164.1 335.5 1162.3 336.3 1160.9 336.5 1160.5 337.5 1158.9 338.5 1157.3 339.5 1155.8 340.5 1154 341.5 1152 342.5 1149.6 343.5 1146.6 344 1144.9 344.5 1141.6 345.5 1131.1 346.5 1124.9 347.5 1125 348.5 1125.2 349.5 1125.5 350.5 1125.7 351.5 1125.9 352 1125.9 352.5 1125.8 353.5 1125 354.5 1123.6 355.5 1121.8 356.5 1119.8 357.5 1117.8 358 1116.9 358.5 1116 359.5 1114 360.5 1111.8 361.5 1109.5 362.5 1107.1 363.5 1104.6 364.5 1102 365.5 1099.3 366 1097.9 366.5 1096.5 367.5 1093.4 368.5 1090.2 369.5 1086.8 370.5 1083.3 371.5 1079.9 372.5 1076.5 373 1074.9 373.5 1073.3 374.5 1070.2 375.5 1067.1 376.5 1064.1 377.5 1061 378.5 1057.9 379.5 1054.6 380 1052.9 380.5 1051.2 381.5 1047.7 382.5 1044.1 383.5 1040.4 384.5 1036.6 385.5 1032.8 386.5 1028.9 387.5 1024.9 388.5 1021 389.5 1016.9 390 1014.9 390.5 1012.9 391.5 1008.7 392.5 1004.4 393.5 1000.1 394.5 995.7 395.5 991.3 396.5 986.8 397.5 982.4 398.5 978 399.2 974.9 399.5 973.6 400.5 969.3 401.5 965 402.5 960.7 403.5 956.4 404.5 952.2 405.5 947.9 406.5 943.7 407.5 939.4 408.5 935.2 409.5 930.9 410.5 926.5 411.5 922.2 412.5 917.8 413.5 913.3 414.5 908.8 415.5 904.2 416.5 899.6 417.5 894.9 418.5 890.1 419.5 885.2 420.5 880.2 421.5 875.1 422.5 869.9 423.5 864.7 424.5 859.4 425.5 854.1 426.5 848.7 427.5 843.4 428.5 838 429.5 832.6 430.5 827.2 431.5 821.9 432.5 816.6 433.5 811.3 434.5 806.1 435.5 801 436.5 795.9 436.7 794.9 437.5 790.9 438.5 785.9 439.5 780.9 440.5 776 441.5 771 442.5 766.1 443.5 761.3 444.5 756.5 445.5 751.7 446.5 746.9 447.5 742.3 448.5 737.6 449.1 734.9 449.5 733.1 450.5 728.5 451.5 723.9 452.5 719.2 453.5 714.6 454.5 710 455.5 705.5 456.5 701 457.5 696.7 458.5 692.4 459.5 688.3 460.5 684.3 461.5 680.5 462.5 677 463.1 674.9 463.5 673.6 464.5 670.3 465.5 667.1 466.5 664.2 467.5 661.4 468.5 659 469 657.9 469.5 656.9 470.5 654.8 471.5 652.9 472.5 651.1 473.5 649.4 474.5 648 475.5 646.9 476 646.4 476.5 646 477.5 645.1 478.5 644.3 479.5 643.6 480.5 642.9 481.5 642.4 482.5 642.1 483.5 641.9 483.8 641.9 484.5 642 485.5 642.3 486.5 642.8 487.5 643.4 488.5 644.2 489.5 645 490.5 645.9 491.5 647 492.5 648.3 493.5 649.9 494.5 651.7 495.5 653.7 496.5 655.8 497 656.9 497.5 658 498.5 660.5 499.5 663.3 500.5 666.3 501.5 669.6 502.5 673.1 503 674.9 503.5 676.8 504.5 681.1 505.5 685.7 506.5 690.8 507.5 696.1 508.5 701.7 509.5 707.3 510.5 713.1 511.5 718.8 512.5 724.4 513.5 729.8 514.5 734.9 515.5 739.8 516.5 744.6 517.5 749.2 518.5 753.8 519.5 758.3 520.5 762.8 521.5 767.3 522.5 771.9 523.5 776.6 524.5 781.5 525.5 786.5 526.5 791.7 527.1 794.9 527.5 797.1 528.5 802.8 529.5 808.7 530.5 814.8 531.5 821.1 532.5 827.6 533.5 834.1 534.5 840.8 535.5 847.5 536.5 854.3 537.5 861.1 538.5 867.8 539.5 874.5 540.5 881.1 541.5 887.7 541.8 889.6 542.5 894.1 543.5 900.6 544.5 907.2 545.5 913.8 546.5 920.3 547.5 926.9 548.5 933.3 549.5 939.7 550.5 945.9 551.5 951.9 552 954.9 552.5 957.8 553.5 963.5 554.5 969.1 555.5 974.6 556.5 980 557.5 985.4 558.5 990.6 559.5 995.9 560.5 1001.1 561.5 1006.3 562.5 1011.6 563.5 1016.9 564.5 1022.2 565.5 1027.6 566.5 1033.1 567.5 1038.7 568.5 1044.4 569.5 1050 570.5 1055.5 571.5 1061 572.5 1066.3 573.5 1071.4 574.5 1076.4 575.5 1081.2 576.5 1085.9 577.5 1090.5 578.5 1095 579.5 1099.5 580.5 1103.9 581.5 1108.2 582.5 1112.4 583.5 1116.6 584.5 1120.7 585.5 1124.7 586.5 1128.6 587.5 1132.5 588.5 1136.3 589.5 1140.1 590.5 1143.8 591.5 1147.5 592.5 1151 593.5 1154.6 594.5 1158 595.5 1161.4 596.5 1164.8 597.5 1168 598.5 1171.3 599.5 1174.4 600.5 1177.5 601.5 1180.6 602.5 1183.6 603.5 1186.5 604.5 1189.5 605.5 1192.3 606.5 1195.1 607.5 1197.9 608.5 1200.6 609.5 1203.4 610.5 1206 611.5 1208.7 612.5 1211.3 613.5 1213.9 614.5 1216.5 615.5 1219 616.5 1221.5 617.5 1223.9 618.5 1226.3 619.5 1228.5 620.5 1230.7 621.5 1232.7 622.5 1234.7 623.5 1236.7 624.5 1238.6 625.5 1240.4 626.5 1242.2 627.5 1244 628.5 1245.8 629.5 1247.5 630.5 1249.3 631.5 1251 632.5 1252.7 633.5 1254.4 634.5 1256.1 635.5 1257.8 636.5 1259.5 637.5 1261.2 638.5 1262.9 639.5 1264.5 640.5 1266.1 641.5 1267.8 642.5 1269.4 643.5 1271 644.5 1272.6 645.5 1274.2 646.5 1275.8 647.5 1277.3 648.5 1278.9 649.5 1280.4 650.5 1281.9 651.5 1283.5 652.5 1285 653.5 1286.4 654.5 1287.9 655.5 1289.3 656.5 1290.8 657.5 1292.2 658.5 1293.5 659.5 1294.9 660.5 1296.2 661.5 1297.5 662.5 1298.8 663.5 1300 664.5 1301.2 665.5 1302.4 666.5 1303.6 667.5 1304.7 668.5 1305.8 669.5 1306.9 670.5 1307.9 671.5 1309 672.5 1310 673.5 1310.9 674.5 1311.9 675.5 1312.8 676.5 1313.7 677.5 1314.6 678.5 1315.5 679.5 1316.3 680.5 1317.2 681.5 1318 682.5 1318.8 683.5 1319.6 684.5 1320.3 685.5 1321.1 686.5 1321.9 687.5 1322.6 688.5 1323.3 689.5 1324 690.5 1324.8 691.5 1325.5 692.5 1326.1 693.5 1326.8 694.5 1327.5 695.5 1328.2 696.5 1328.8 697.5 1329.5 698.5 1330.1 699.5 1330.8 700.5 1331.4 701.5 1332.1 702.5 1332.7 703.5 1333.3 704.5 1334 705.5 1334.6 706.5 1335.2 707.5 1335.8 708.5 1336.4 709.5 1337.1 710.5 1337.7 711.5 1338.3 712.5 1338.9 713.5 1339.5 714.5 1340.1 715.5 1340.7 716.5 1341.3 717.5 1341.9 718.5 1342.5 719.5 1343.1 720.5 1343.7 721.5 1344.2 722.5 1344.8 723.5 1345.4 724.5 1346 725.5 1346.6 726.5 1347.1 727.5 1347.7 728.5 1348.3 729.5 1348.8 730.5 1349.4 731.5 1350 732.5 1350.5 733.5 1351.1 734.5 1351.6 735.5 1352.1 736.5 1352.7 737.5 1353.2 738.5 1353.7 739.5 1354.2 740.5 1354.7 741.5 1355.2 742.5 1355.7 743.5 1356.1 744.5 1356.6 745.5 1357 746.5 1357.5 747.5 1357.9 748.5 1358.3 749.5 1358.7 750.5 1359.2 751.5 1359.6 752.5 1359.9 753.5 1360.3 754.5 1360.7 755.5 1361.1 756.5 1361.4 757.5 1361.8 758.5 1362.1 759.5 1362.5 760.5 1362.8 761.5 1363.2 762.5 1363.5 763.5 1363.9 764.5 1364.2 765.5 1364.5 766.5 1364.8 767.5 1365.2 768.5 1365.5 769.5 1365.8 770.5 1366.1 771.5 1366.4 772.5 1366.7 773.5 1367 774.5 1367.3 775.5 1367.6 776.5 1367.9 777.5 1368.2 778.5 1368.5 779.5 1368.8 780.5 1369.1 784.5 1370.3 788.5 1371.4 792.5 1372.6 796.5 1373.7 800.5 1374.9 804.5 1376 808.5 1377.1 812.5 1378.3 816.5 1379.4 820.5 1380.5 824.5 1381.7 828.5 1382.8 832.5 1383.9 836.5 1385 840.5 1386 844.5 1387.1 848.5 1388.1 852.5 1389.1 856.5 1390 860.5 1391 864.5 1391.8 868.5 1392.7 872.5 1393.5 876.5 1394.3 880.5 1395.1 884.5 1395.8 888.5 1396.5 892.5 1397.2 896.5 1397.9 900.5 1398.5 904.5 1399.2 908.5 1399.8 912.5 1400.4 916.5 1401 920.5 1401.6 924.5 1402.2 928.5 1402.7 932.5 1403.3 936.5 1403.9 940.5 1404.5 944.5 1405.1 948.5 1405.7 952.5 1406.3 956.5 1406.9 960.5 1407.5 964.5 1408 968.5 1408.6 972.5 1409.2 976.5 1409.7 980.5 1410.2 984.5 1410.7 988.5 1411.2 992.5 1411.7 996.5 1412.1 1000.5 1412.6 1004.5 1413 1008.5 1413.4 1012.5 1413.8 1016.5 1414.1 1020.5 1414.5 1024.5 1414.8 1028.5 1415.2 1032.5 1415.5 1036.5 1415.9 1040.5 1416.2 1044.5 1416.5 1048.5 1416.9 1052.5 1417.2 1056.5 1417.6 1060.5 1417.9 1064.5 1418.3 1068.5 1418.6 1072.5 1419 1076.5 1419.4 1080.5 1419.8 1084.5 1420.1 1088.5 1420.5 1092.5 1420.9 1096.5 1421.3 1100.5 1421.6 1104.5 1422 1108.5 1422.3 1112.5 1422.7 1116.5 1423 1120.5 1423.3 1124.5 1423.6 1128.5 1423.9 1132.5 1424.1 1136.5 1424.4 1140.5 1424.7 1144.5 1424.9 1148.5 1425.2 1152.5 1425.4 1156.5 1425.6 1160.5 1425.8 1164.5 1426.1 1168.5 1426.3 1172.5 1426.5 1176.5 1426.7 1180.5 1427 1184.5 1427.2 1188.5 1427.4 1192.5 1427.6 1196.5 1427.9 1200.5 1428.1 1204.5 1428.3 1208.5 1428.5 1212.5 1428.8 1216.5 1429 1220.5 1429.2 1224.5 1429.5 1228.5 1429.7 1232.5 1429.9 1236.5 1430.1 1240.5 1430.4 1244.5 1430.6 1248.5 1430.8 1252.5 1431 1256.5 1431.3 1260.5 1431.5 1264.5 1431.7 1268.5 1431.9 1272.5 1432.2 1276.5 1432.4 1280.5 1432.6 1284.5 1432.8 1288.5 1433 1292.5 1433.2 1296.5 1433.4 1300.5 1433.7 1304.5 1433.9 1308.5 1434.1 1312.5 1434.3 1316.5 1434.5 1320.5 1434.7 1324.5 1434.9 1328.5 1435.1 1332.5 1435.3 1336.5 1435.5 1340.5 1435.7 1343.5 1435.8 1343.5 1446 1340.5 1445.9 1336.5 1445.7 1332.5 1445.5 1328.5 1445.3 1324.5 1445.1 1320.5 1444.9 1316.5 1444.7 1312.5 1444.5 1308.5 1444.3 1304.5 1444.1 1300.5 1443.9 1296.5 1443.6 1292.5 1443.4 1288.5 1443.2 1284.5 1443 1280.5 1442.8 1276.5 1442.6 1272.5 1442.4 1268.5 1442.1 1264.5 1441.9 1260.5 1441.7 1256.5 1441.5 1252.5 1441.2 1248.5 1441 1244.5 1440.8 1240.5 1440.6 1236.5 1440.3 1232.5 1440.1 1228.5 1439.9 1224.5 1439.7 1220.5 1439.4 1216.5 1439.2 1212.5 1439 1208.5 1438.7 1204.5 1438.5 1200.5 1438.3 1196.5 1438.1 1192.5 1437.8 1188.5 1437.6 1184.5 1437.4 1180.5 1437.2 1176.5 1436.9 1172.5 1436.7 1168.5 1436.5 1164.5 1436.3 1160.5 1436 1156.5 1435.8 1152.5 1435.6 1148.5 1435.4 1144.5 1435.1 1140.5 1434.9 1136.5 1434.6 1132.5 1434.3 1128.5 1434.1 1124.5 1433.8 1120.5 1433.5 1116.5 1433.2 1112.5 1432.9 1108.5 1432.5 1104.5 1432.2 1100.5 1431.8 1096.5 1431.5 1092.5 1431.1 1088.5 1430.7 1084.5 1430.3 1080.5 1430 1076.5 1429.6 1072.5 1429.2 1068.5 1428.8 1064.5 1428.5 1060.5 1428.1 1056.5 1427.8 1052.5 1427.4 1048.5 1427.1 1044.5 1426.7 1040.5 1426.4 1036.5 1426.1 1032.5 1425.7 1028.5 1425.4 1024.5 1425 1020.5 1424.7 1016.5 1424.3 1012.5 1424 1008.5 1423.6 1004.5 1423.2 1000.5 1422.8 996.5 1422.3 992.5 1421.9 988.5 1421.4 984.5 1420.9 980.5 1420.4 976.5 1419.9 972.5 1419.4 968.5 1418.8 964.5 1418.2 960.5 1417.7 956.5 1417.1 952.5 1416.5 948.5 1415.9 944.5 1415.3 940.5 1414.7 936.5 1414.1 932.5 1413.5 928.5 1412.9 924.5 1412.4 920.5 1411.8 916.5 1411.2 912.5 1410.6 908.5 1410 904.5 1409.4 900.5 1408.7 896.5 1408.1 892.5 1407.4 888.5 1406.7 884.5 1406 880.5 1405.3 876.5 1404.5 872.5 1403.7 868.5 1402.9 864.5 1402 860.5 1401.2 856.5 1400.2 852.5 1399.3 848.5 1398.3 844.5 1397.3 840.5 1396.2 836.5 1395.2 832.5 1394.1 828.5 1393 824.5 1391.9 820.5 1390.7 816.5 1389.6 812.5 1388.5 808.5 1387.3 804.5 1386.2 800.5 1385.1 796.5 1383.9 792.5 1382.8 788.5 1381.6 784.5 1380.5 780.5 1379.3 779.5 1379 778.5 1378.7 777.5 1378.4 776.5 1378.1 775.5 1377.8 774.5 1377.5 773.5 1377.2 772.5 1376.9 771.5 1376.6 770.5 1376.3 769.5 1376 768.5 1375.7 767.5 1375.4 766.5 1375 765.5 1374.7 764.5 1374.4 763.5 1374.1 762.5 1373.7 761.5 1373.4 760.5 1373 759.5 1372.7 758.5 1372.3 757.5 1372 756.5 1371.6 755.5 1371.3 754.5 1370.9 753.5 1370.5 752.5 1370.1 751.5 1369.8 750.5 1369.4 749.5 1368.9 748.5 1368.5 747.5 1368.1 746.5 1367.7 745.5 1367.2 744.5 1366.8 743.5 1366.3 742.5 1365.9 741.5 1365.4 740.5 1364.9 739.5 1364.4 738.5 1363.9 737.5 1363.4 736.5 1362.9 735.5 1362.3 734.5 1361.8 733.5 1361.3 732.5 1360.7 731.5 1360.2 730.5 1359.6 729.5 1359 728.5 1358.5 727.5 1357.9 726.5 1357.3 725.5 1356.8 724.5 1356.2 723.5 1355.6 722.5 1355 721.5 1354.4 720.5 1353.9 719.5 1353.3 718.5 1352.7 717.5 1352.1 716.5 1351.5 715.5 1350.9 714.5 1350.3 713.5 1349.7 712.5 1349.1 711.5 1348.5 710.5 1347.9 709.5 1347.3 708.5 1346.6 707.5 1346 706.5 1345.4 705.5 1344.8 704.5 1344.2 703.5 1343.5 702.5 1342.9 701.5 1342.3 700.5 1341.6 699.5 1341 698.5 1340.3 697.5 1339.7 696.5 1339 695.5 1338.4 694.5 1337.7 693.5 1337 692.5 1336.3 691.5 1335.7 690.5 1335 689.5 1334.2 688.5 1333.5 687.5 1332.8 686.5 1332.1 685.5 1331.3 684.5 1330.5 683.5 1329.8 682.5 1329 681.5 1328.2 680.5 1327.4 679.5 1326.5 678.5 1325.7 677.5 1324.8 676.5 1323.9 675.5 1323 674.5 1322.1 673.5 1321.1 672.5 1320.2 671.5 1319.2 670.5 1318.1 669.5 1317.1 668.5 1316 667.5 1314.9 666.5 1313.8 665.5 1312.6 664.5 1311.4 663.5 1310.2 662.5 1309 661.5 1307.7 660.5 1306.4 659.5 1305.1 658.5 1303.7 657.5 1302.4 656.5 1301 655.5 1299.5 654.5 1298.1 653.5 1296.6 652.5 1295.2 651.5 1293.7 650.5 1292.1 649.5 1290.6 648.5 1289.1 647.5 1287.5 646.5 1286 645.5 1284.4 644.5 1282.8 643.5 1281.2 642.5 1279.6 641.5 1278 640.5 1276.3 639.5 1274.7 638.5 1273.1 637.5 1271.4 636.5 1269.7 635.5 1268 634.5 1266.3 633.5 1264.6 632.5 1262.9 631.5 1261.2 630.5 1259.5 629.5 1257.7 628.5 1256 627.5 1254.2 626.5 1252.4 625.5 1250.6 624.5 1248.8 623.5 1246.9 622.5 1244.9 621.5 1242.9 620.5 1240.9 619.5 1238.7 618.5 1236.5 617.5 1234.1 616.5 1231.7 615.5 1229.2 614.5 1226.7 613.5 1224.1 612.5 1221.5 611.5 1218.9 610.5 1216.2 609.5 1213.6 608.5 1210.8 607.5 1208.1 606.5 1205.3 605.5 1202.5 604.5 1199.7 603.5 1196.7 602.5 1193.8 601.5 1190.8 600.5 1187.7 599.5 1184.6 598.5 1181.5 597.5 1178.2 596.5 1175 595.5 1171.6 594.5 1168.2 593.5 1164.8 592.5 1161.2 591.5 1157.7 590.5 1154 589.5 1150.3 588.5 1146.5 587.5 1142.7 586.5 1138.8 585.5 1134.9 584.5 1130.9 583.5 1126.8 582.5 1122.6 581.5 1118.4 580.5 1114.1 579.5 1109.7 578.5 1105.2 577.5 1100.7 576.5 1096.1 575.5 1091.4 574.5 1086.6 573.5 1081.6 572.5 1076.5 571.5 1071.2 570.5 1065.7 569.5 1060.2 568.5 1054.6 567.5 1048.9 566.5 1043.3 565.5 1037.8 564.5 1032.4 563.5 1027.1 562.5 1021.8 561.5 1016.5 560.5 1011.3 559.5 1006.1 558.5 1000.8 557.5 995.6 556.5 990.2 555.5 984.8 554.5 979.3 553.5 973.7 552.5 968 552 965.1 551.5 962.1 550.5 956.1 549.5 949.9 548.5 943.5 547.5 937.1 546.5 930.5 545.5 924 544.5 917.4 543.5 910.8 542.5 904.3 541.8 899.8 541.5 897.9 540.5 891.3 539.5 884.7 538.5 878 537.5 871.3 536.5 864.5 535.5 857.7 534.5 851 533.5 844.3 532.5 837.8 531.5 831.3 530.5 825 529.5 818.9 528.5 813 527.5 807.3 527.1 805.1 526.5 801.9 525.5 796.7 524.5 791.7 523.5 786.8 522.5 782.1 521.5 777.5 520.5 773 519.5 768.5 518.5 764 517.5 759.4 516.5 754.8 515.5 750 514.5 745.1 513.5 740 512.5 734.6 511.5 729 510.5 723.3 509.5 717.5 508.5 711.9 507.5 706.3 506.5 701 505.5 695.9 504.5 691.3 503.5 687 503 685.1 502.5 683.3 501.5 679.8 500.5 676.5 499.5 673.5 498.5 670.7 497.5 668.2 497 667.1 496.5 666 495.5 663.9 494.5 661.9 493.5 660.1 492.5 658.5 491.5 657.2 490.5 656.1 489.5 655.2 488.5 654.4 487.5 653.6 486.5 653 485.5 652.5 484.5 652.2 483.8 652.1 483.5 652.1 482.5 652.3 481.5 652.6 480.5 653.1 479.5 653.8 478.5 654.5 477.5 655.3 476.5 656.2 476 656.6 475.5 657.1 474.5 658.2 473.5 659.6 472.5 661.3 471.5 663.1 470.5 665 469.5 667.1 469 668.1 468.5 669.2 467.5 671.6 466.5 674.4 465.5 677.3 464.5 680.5 463.5 683.8 463.1 685.1 462.5 687.2 461.5 690.7 460.5 694.5 459.5 698.5 458.5 702.6 457.5 706.9 456.5 711.2 455.5 715.7 454.5 720.2 453.5 724.8 452.5 729.4 451.5 734.1 450.5 738.7 449.5 743.3 449.1 745.1 448.5 747.8 447.5 752.5 446.5 757.1 445.5 761.9 444.5 766.7 443.5 771.5 442.5 776.3 441.5 781.2 440.5 786.2 439.5 791.1 438.5 796.1 437.5 801.1 436.7 805.1 436.5 806.1 435.5 811.2 434.5 816.3 433.5 821.5 432.5 826.8 431.5 832.1 430.5 837.4 429.5 842.8 428.5 848.2 427.5 853.6 426.5 858.9 425.5 864.3 424.5 869.6 423.5 874.9 422.5 880.1 421.5 885.3 420.5 890.4 419.5 895.4 418.5 900.3 417.5 905.1 416.5 909.8 415.5 914.4 414.5 919 413.5 923.5 412.5 928 411.5 932.4 410.5 936.7 409.5 941.1 408.5 945.4 407.5 949.6 406.5 953.9 405.5 958.1 404.5 962.4 403.5 966.6 402.5 970.9 401.5 975.2 400.5 979.5 399.5 983.8 399.2 985.1 398.5 988.2 397.5 992.6 396.5 997 395.5 1001.5 394.5 1005.9 393.5 1010.3 392.5 1014.6 391.5 1018.9 390.5 1023.1 390 1025.1 389.5 1027.1 388.5 1031.2 387.5 1035.1 386.5 1039.1 385.5 1043 384.5 1046.8 383.5 1050.6 382.5 1054.3 381.5 1057.9 380.5 1061.4 380 1063.1 379.5 1064.8 378.5 1068.1 377.5 1071.2 376.5 1074.3 375.5 1077.3 374.5 1080.4 373.5 1083.5 373 1085.1 372.5 1086.7 371.5 1090.1 370.5 1093.5 369.5 1097 368.5 1100.4 367.5 1103.6 366.5 1106.7 366 1108.1 365.5 1109.5 364.5 1112.2 363.5 1114.8 362.5 1117.3 361.5 1119.7 360.5 1122 359.5 1124.2 358.5 1126.2 358 1127.1 357.5 1128 356.5 1130 355.5 1132 354.5 1133.8 353.5 1135.2 352.5 1136 352 1136.1 351.5 1136.1 350.5 1135.9 349.5 1135.7 348.5 1135.4 347.5 1135.2 346.5 1135.1 345.5 1141.3 344.5 1151.8 344 1155.1 343.5 1156.8 342.5 1159.8 341.5 1162.2 340.5 1164.2 339.5 1166 338.5 1167.5 337.5 1169.1 336.5 1170.7 336.3 1171.1 335.5 1172.5 334.5 1174.3 333.5 1176 332.5 1177.7 331.5 1179.4 330.5 1181 329.5 1182.5 328.5 1184 327.5 1185.5 326.5 1186.9 325.5 1188.3 324.5 1189.6 323.5 1191 322.5 1192.3 321.5 1193.6 320.5 1194.8 319.5 1196 318.5 1197.1 317.5 1198.1 316.5 1199.1 315.5 1200 314.5 1201 313.5 1201.9 312.5 1202.8 311.5 1203.6 310.5 1204.4 309.5 1205.1 308.5 1205.6 307.5 1206 306.5 1206.4 305.5 1206.7 304.5 1207 303.5 1207.2 302.5 1207.5 301.5 1207.7 300.5 1207.9 299.5 1208 298.5 1208.1 297.5 1208.1 296.5 1208 295.5 1207.9 294.5 1207.7 293.5 1207.5 292.5 1207.2 291.5 1206.9 290.5 1206.5 289.5 1206.2 288.5 1205.8 287.5 1205.4 286.5 1204.9 285.5 1204.4 284.5 1203.8 283.5 1203.1 282.5 1202.4 281.5 1201.7 280.5 1200.9 279.5 1200.1 278.5 1199.3 277.5 1198.4 276.5 1197.6 275.5 1196.7 274.5 1195.7 273.5 1194.7 272.5 1193.6 271.5 1192.5 270.5 1191.4 269.5 1190.1 268.5 1188.8 267.5 1187.4 266.5 1185.9 265.5 1184.3 264.5 1182.6 263.5 1180.8 262.5 1178.9 261.5 1177 260.5 1175.1 259.5 1173.1 258.5 1171.1 257.5 1169 256.5 1166.8 255.5 1164.5 254.5 1162.2 253.5 1159.8 252.5 1157.5 251.5 1155.1 250.5 1152.8 249.5 1150.5 248.5 1148.3 247.5 1146.2 246.5 1144 245.5 1141.8 244.5 1139.7 243.5 1137.5 242.5 1135.4ZM244.6 1124 245.6 1126.1 246.6 1128.2 247.6 1130.3 248.6 1132.4 249.6 1134.6 250.6 1136.7 251.6 1138.9 252.6 1141.1 253.6 1143.2 254.6 1145.4 255.6 1147.7 256.6 1150 257.6 1152.4 258.6 1154.7 259.6 1157.1 260.6 1159.4 261.6 1161.7 262.6 1163.9 263.6 1166 264.6 1168 265.6 1170 266.6 1171.9 267.6 1173.8 268.6 1175.7 269.6 1177.5 270.6 1179.2 271.6 1180.8 272.6 1182.3 273.6 1183.7 274.6 1185 275.6 1186.3 276.6 1187.4 277.6 1188.5 278.6 1189.6 279.6 1190.6 280.6 1191.6 281.6 1192.5 282.6 1193.3 283.6 1194.2 284.6 1195 285.6 1195.8 286.6 1196.6 287.6 1197.3 288.6 1198 289.6 1198.7 290.6 1199.3 291.6 1199.8 292.6 1200.3 293.6 1200.7 294.6 1201.1 295.6 1201.4 296.6 1201.8 297.6 1202.1 298.6 1202.4 299.6 1202.6 300.6 1202.8 301.6 1202.9 302.6 1203 292.4 1203 291.4 1202.9 290.4 1202.8 289.4 1202.6 288.4 1202.4 287.4 1202.1 286.4 1201.8 285.4 1201.4 284.4 1201.1 283.4 1200.7 282.4 1200.3 281.4 1199.8 280.4 1199.3 279.4 1198.7 278.4 1198 277.4 1197.3 276.4 1196.6 275.4 1195.8 274.4 1195 273.4 1194.2 272.4 1193.3 271.4 1192.5 270.4 1191.6 269.4 1190.6 268.4 1189.6 267.4 1188.5 266.4 1187.4 265.4 1186.3 264.4 1185 263.4 1183.7 262.4 1182.3 261.4 1180.8 260.4 1179.2 259.4 1177.5 258.4 1175.7 257.4 1173.8 256.4 1171.9 255.4 1170 254.4 1168 253.4 1166 252.4 1163.9 251.4 1161.7 250.4 1159.4 249.4 1157.1 248.4 1154.7 247.4 1152.4 246.4 1150 245.4 1147.7 244.4 1145.4 243.4 1143.2 242.4 1141.1 241.4 1138.9 240.4 1136.7 239.4 1134.6 238.4 1132.4 237.4 1130.3 236.4 1128.2 235.4 1126.1 234.4 1124ZM292.4 1203 293.4 1203 294.4 1202.9 295.4 1202.8 296.4 1202.6 297.4 1202.4 298.4 1202.1 299.4 1201.9 300.4 1201.6 301.4 1201.3 302.4 1200.9 303.4 1200.5 304.4 1200 305.4 1199.3 306.4 1198.5 307.4 1197.7 308.4 1196.8 309.4 1195.9 310.4 1194.9 311.4 1194 312.4 1193 313.4 1192 314.4 1190.9 315.4 1189.7 316.4 1188.5 317.4 1187.2 318.4 1185.9 319.4 1184.5 320.4 1183.2 321.4 1181.8 322.4 1180.4 323.4 1178.9 324.4 1177.4 325.4 1175.9 326.4 1174.3 327.4 1172.6 328.4 1170.9 329.4 1169.2 330.4 1167.4 331.2 1166 331.4 1165.6 332.4 1164 333.4 1162.4 334.4 1160.9 335.4 1159.1 336.4 1157.1 337.4 1154.7 338.4 1151.7 338.9 1150 339.4 1146.7 340.4 1136.2 341.4 1130 351.6 1130 350.6 1136.2 349.6 1146.7 349.1 1150 348.6 1151.7 347.6 1154.7 346.6 1157.1 345.6 1159.1 344.6 1160.9 343.6 1162.4 342.6 1164 341.6 1165.6 341.4 1166 340.6 1167.4 339.6 1169.2 338.6 1170.9 337.6 1172.6 336.6 1174.3 335.6 1175.9 334.6 1177.4 333.6 1178.9 332.6 1180.4 331.6 1181.8 330.6 1183.2 329.6 1184.5 328.6 1185.9 327.6 1187.2 326.6 1188.5 325.6 1189.7 324.6 1190.9 323.6 1192 322.6 1193 321.6 1194 320.6 1194.9 319.6 1195.9 318.6 1196.8 317.6 1197.7 316.6 1198.5 315.6 1199.3 314.6 1200 313.6 1200.5 312.6 1200.9 311.6 1201.3 310.6 1201.6 309.6 1201.9 308.6 1202.1 307.6 1202.4 306.6 1202.6 305.6 1202.8 304.6 1202.9 303.6 1203 302.6 1203ZM351.6 1130 352.6 1130.1 353.6 1130.3 354.6 1130.6 355.6 1130.8 356.6 1131 357.1 1131 346.9 1131 346.4 1131 345.4 1130.8 344.4 1130.6 343.4 1130.3 342.4 1130.1 341.4 1130ZM346.9 1131 347.4 1130.9 348.4 1130.1 349.4 1128.7 350.4 1126.9 351.4 1124.9 352.4 1122.9 352.9 1122 353.4 1121.1 354.4 1119.1 355.4 1116.9 356.4 1114.6 357.4 1112.2 358.4 1109.7 359.4 1107.1 360.4 1104.4 360.9 1103 361.4 1101.6 362.4 1098.5 363.4 1095.3 364.4 1091.9 365.4 1088.4 366.4 1085 367.4 1081.6 367.9 1080 368.4 1078.4 369.4 1075.3 370.4 1072.2 371.4 1069.2 372.4 1066.1 373.4 1063 374.4 1059.7 374.9 1058 375.4 1056.3 376.4 1052.8 377.4 1049.2 378.4 1045.5 379.4 1041.7 380.4 1037.9 381.4 1034 382.4 1030 383.4 1026.1 384.4 1022 384.9 1020 385.4 1018 386.4 1013.8 387.4 1009.5 388.4 1005.2 389.4 1000.8 390.4 996.4 391.4 991.9 392.4 987.5 393.4 983.1 394.1 980 394.4 978.7 395.4 974.4 396.4 970.1 397.4 965.8 398.4 961.5 399.4 957.3 400.4 953 401.4 948.8 402.4 944.5 403.4 940.3 404.4 936 405.4 931.6 406.4 927.3 407.4 922.9 408.4 918.4 409.4 913.9 410.4 909.3 411.4 904.7 412.4 900 413.4 895.2 414.4 890.3 415.4 885.3 416.4 880.2 417.4 875 418.4 869.8 419.4 864.5 420.4 859.2 421.4 853.8 422.4 848.5 423.4 843.1 424.4 837.7 425.4 832.3 426.4 827 427.4 821.7 428.4 816.4 429.4 811.2 430.4 806.1 431.4 801 431.6 800 432.4 796 433.4 791 434.4 786 435.4 781.1 436.4 776.1 437.4 771.2 438.4 766.4 439.4 761.6 440.4 756.8 441.4 752 442.4 747.4 443.4 742.7 444 740 444.4 738.2 445.4 733.6 446.4 729 447.4 724.3 448.4 719.7 449.4 715.1 450.4 710.6 451.4 706.1 452.4 701.8 453.4 697.5 454.4 693.4 455.4 689.4 456.4 685.6 457.4 682.1 458 680 458.4 678.7 459.4 675.4 460.4 672.2 461.4 669.3 462.4 666.5 463.4 664.1 463.9 663 464.4 662 465.4 659.9 466.4 658 467.4 656.2 468.4 654.5 469.4 653.1 470.4 652 470.9 651.5 471.4 651.1 472.4 650.2 473.4 649.4 474.4 648.7 475.4 648 476.4 647.5 477.4 647.2 478.4 647 478.7 647 488.9 647 488.6 647 487.6 647.2 486.6 647.5 485.6 648 484.6 648.7 483.6 649.4 482.6 650.2 481.6 651.1 481.1 651.5 480.6 652 479.6 653.1 478.6 654.5 477.6 656.2 476.6 658 475.6 659.9 474.6 662 474.1 663 473.6 664.1 472.6 666.5 471.6 669.3 470.6 672.2 469.6 675.4 468.6 678.7 468.2 680 467.6 682.1 466.6 685.6 465.6 689.4 464.6 693.4 463.6 697.5 462.6 701.8 461.6 706.1 460.6 710.6 459.6 715.1 458.6 719.7 457.6 724.3 456.6 729 455.6 733.6 454.6 738.2 454.2 740 453.6 742.7 452.6 747.4 451.6 752 450.6 756.8 449.6 761.6 448.6 766.4 447.6 771.2 446.6 776.1 445.6 781.1 444.6 786 443.6 791 442.6 796 441.8 800 441.6 801 440.6 806.1 439.6 811.2 438.6 816.4 437.6 821.7 436.6 827 435.6 832.3 434.6 837.7 433.6 843.1 432.6 848.5 431.6 853.8 430.6 859.2 429.6 864.5 428.6 869.8 427.6 875 426.6 880.2 425.6 885.3 424.6 890.3 423.6 895.2 422.6 900 421.6 904.7 420.6 909.3 419.6 913.9 418.6 918.4 417.6 922.9 416.6 927.3 415.6 931.6 414.6 936 413.6 940.3 412.6 944.5 411.6 948.8 410.6 953 409.6 957.3 408.6 961.5 407.6 965.8 406.6 970.1 405.6 974.4 404.6 978.7 404.3 980 403.6 983.1 402.6 987.5 401.6 991.9 400.6 996.4 399.6 1000.8 398.6 1005.2 397.6 1009.5 396.6 1013.8 395.6 1018 395.1 1020 394.6 1022 393.6 1026.1 392.6 1030 391.6 1034 390.6 1037.9 389.6 1041.7 388.6 1045.5 387.6 1049.2 386.6 1052.8 385.6 1056.3 385.1 1058 384.6 1059.7 383.6 1063 382.6 1066.1 381.6 1069.2 380.6 1072.2 379.6 1075.3 378.6 1078.4 378.1 1080 377.6 1081.6 376.6 1085 375.6 1088.4 374.6 1091.9 373.6 1095.3 372.6 1098.5 371.6 1101.6 371.1 1103 370.6 1104.4 369.6 1107.1 368.6 1109.7 367.6 1112.2 366.6 1114.6 365.6 1116.9 364.6 1119.1 363.6 1121.1 363.1 1122 362.6 1122.9 361.6 1124.9 360.6 1126.9 359.6 1128.7 358.6 1130.1 357.6 1130.9 357.1 1131ZM488.9 647 489.6 647.1 490.6 647.4 491.6 647.9 492.6 648.5 493.6 649.3 494.6 650.1 495.6 651 496.6 652.1 497.6 653.4 498.6 655 499.6 656.8 500.6 658.8 501.6 660.9 502.1 662 502.6 663.1 503.6 665.6 504.6 668.4 505.6 671.4 506.6 674.7 507.6 678.2 508.1 680 508.6 681.9 509.6 686.2 510.6 690.8 511.6 695.9 512.6 701.2 513.6 706.8 514.6 712.4 515.6 718.2 516.6 723.9 517.6 729.5 518.6 734.9 519.6 740 520.6 744.9 521.6 749.7 522.6 754.3 523.6 758.9 524.6 763.4 525.6 767.9 526.6 772.4 527.6 777 528.6 781.7 529.6 786.6 530.6 791.6 531.6 796.8 532.2 800 532.6 802.2 533.6 807.9 534.6 813.8 535.6 819.9 536.6 826.2 537.6 832.7 538.6 839.2 539.6 845.9 540.6 852.6 541.6 859.4 542.6 866.2 543.6 872.9 544.6 879.6 545.6 886.2 546.6 892.8 546.9 894.7 547.6 899.2 548.6 905.7 549.6 912.3 550.6 918.9 551.6 925.4 552.6 932 553.6 938.4 554.6 944.8 555.6 951 556.6 957 557.1 960 557.6 962.9 558.6 968.6 559.6 974.2 560.6 979.7 561.6 985.1 562.6 990.5 563.6 995.7 564.6 1001 565.6 1006.2 566.6 1011.4 567.6 1016.7 568.6 1022 569.6 1027.3 570.6 1032.7 571.6 1038.2 572.6 1043.8 573.6 1049.5 574.6 1055.1 575.6 1060.6 576.6 1066.1 577.6 1071.4 578.6 1076.5 579.6 1081.5 580.6 1086.3 581.6 1091 582.6 1095.6 583.6 1100.1 584.6 1104.6 585.6 1109 586.6 1113.3 587.6 1117.5 588.6 1121.7 589.6 1125.8 590.6 1129.8 591.6 1133.7 592.6 1137.6 593.6 1141.4 594.6 1145.2 595.6 1148.9 596.6 1152.6 597.6 1156.1 598.6 1159.7 599.6 1163.1 600.6 1166.5 601.6 1169.9 602.6 1173.1 603.6 1176.4 604.6 1179.5 605.6 1182.6 606.6 1185.7 607.6 1188.7 608.6 1191.6 609.6 1194.6 610.6 1197.4 611.6 1200.2 612.6 1203 613.6 1205.7 614.6 1208.5 615.6 1211.1 616.6 1213.8 617.6 1216.4 618.6 1219 619.6 1221.6 620.6 1224.1 621.6 1226.6 622.6 1229 623.6 1231.4 624.6 1233.6 625.6 1235.8 626.6 1237.8 627.6 1239.8 628.6 1241.8 629.6 1243.7 630.6 1245.5 631.6 1247.3 632.6 1249.1 633.6 1250.9 634.6 1252.6 635.6 1254.4 636.6 1256.1 637.6 1257.8 638.6 1259.5 639.6 1261.2 640.6 1262.9 641.6 1264.6 642.6 1266.3 643.6 1268 644.6 1269.6 645.6 1271.2 646.6 1272.9 647.6 1274.5 648.6 1276.1 649.6 1277.7 650.6 1279.3 651.6 1280.9 652.6 1282.4 653.6 1284 654.6 1285.5 655.6 1287 656.6 1288.6 657.6 1290.1 658.6 1291.5 659.6 1293 660.6 1294.4 661.6 1295.9 662.6 1297.3 663.6 1298.6 664.6 1300 665.6 1301.3 666.6 1302.6 667.6 1303.9 668.6 1305.1 669.6 1306.3 670.6 1307.5 671.6 1308.7 672.6 1309.8 673.6 1310.9 674.6 1312 675.6 1313 676.6 1314.1 677.6 1315.1 678.6 1316 679.6 1317 680.6 1317.9 681.6 1318.8 682.6 1319.7 683.6 1320.6 684.6 1321.4 685.6 1322.3 686.6 1323.1 687.6 1323.9 688.6 1324.7 689.6 1325.4 690.6 1326.2 691.6 1327 692.6 1327.7 693.6 1328.4 694.6 1329.1 695.6 1329.9 696.6 1330.6 697.6 1331.2 698.6 1331.9 699.6 1332.6 700.6 1333.3 701.6 1333.9 702.6 1334.6 703.6 1335.2 704.6 1335.9 705.6 1336.5 706.6 1337.2 707.6 1337.8 708.6 1338.4 709.6 1339.1 710.6 1339.7 711.6 1340.3 712.6 1340.9 713.6 1341.5 714.6 1342.2 715.6 1342.8 716.6 1343.4 717.6 1344 718.6 1344.6 719.6 1345.2 720.6 1345.8 721.6 1346.4 722.6 1347 723.6 1347.6 724.6 1348.2 725.6 1348.8 726.6 1349.3 727.6 1349.9 728.6 1350.5 729.6 1351.1 730.6 1351.7 731.6 1352.2 732.6 1352.8 733.6 1353.4 734.6 1353.9 735.6 1354.5 736.6 1355.1 737.6 1355.6 738.6 1356.2 739.6 1356.7 740.6 1357.2 741.6 1357.8 742.6 1358.3 743.6 1358.8 744.6 1359.3 745.6 1359.8 746.6 1360.3 747.6 1360.8 748.6 1361.2 749.6 1361.7 750.6 1362.1 751.6 1362.6 752.6 1363 753.6 1363.4 754.6 1363.8 755.6 1364.3 756.6 1364.7 757.6 1365 758.6 1365.4 759.6 1365.8 760.6 1366.2 761.6 1366.5 762.6 1366.9 763.6 1367.2 764.6 1367.6 765.6 1367.9 766.6 1368.3 767.6 1368.6 768.6 1369 769.6 1369.3 770.6 1369.6 771.6 1369.9 772.6 1370.3 773.6 1370.6 774.6 1370.9 775.6 1371.2 776.6 1371.5 777.6 1371.8 778.6 1372.1 779.6 1372.4 780.6 1372.7 781.6 1373 782.6 1373.3 783.6 1373.6 784.6 1373.9 785.6 1374.2 786.6 1374.5 787.6 1374.8 788.6 1375.1 789.6 1375.4 790.6 1375.7 791.6 1376 792.6 1376.3 793.6 1376.5 794.6 1376.8 795.6 1377.1 796.6 1377.4 797.6 1377.7 798.6 1378 799.6 1378.3 800.6 1378.5 801.6 1378.8 802.6 1379.1 803.6 1379.4 804.6 1379.7 794.4 1379.7 793.4 1379.4 792.4 1379.1 791.4 1378.8 790.4 1378.5 789.4 1378.3 788.4 1378 787.4 1377.7 786.4 1377.4 785.4 1377.1 784.4 1376.8 783.4 1376.5 782.4 1376.3 781.4 1376 780.4 1375.7 779.4 1375.4 778.4 1375.1 777.4 1374.8 776.4 1374.5 775.4 1374.2 774.4 1373.9 773.4 1373.6 772.4 1373.3 771.4 1373 770.4 1372.7 769.4 1372.4 768.4 1372.1 767.4 1371.8 766.4 1371.5 765.4 1371.2 764.4 1370.9 763.4 1370.6 762.4 1370.3 761.4 1369.9 760.4 1369.6 759.4 1369.3 758.4 1369 757.4 1368.6 756.4 1368.3 755.4 1367.9 754.4 1367.6 753.4 1367.2 752.4 1366.9 751.4 1366.5 750.4 1366.2 749.4 1365.8 748.4 1365.4 747.4 1365 746.4 1364.7 745.4 1364.3 744.4 1363.8 743.4 1363.4 742.4 1363 741.4 1362.6 740.4 1362.1 739.4 1361.7 738.4 1361.2 737.4 1360.8 736.4 1360.3 735.4 1359.8 734.4 1359.3 733.4 1358.8 732.4 1358.3 731.4 1357.8 730.4 1357.2 729.4 1356.7 728.4 1356.2 727.4 1355.6 726.4 1355.1 725.4 1354.5 724.4 1353.9 723.4 1353.4 722.4 1352.8 721.4 1352.2 720.4 1351.7 719.4 1351.1 718.4 1350.5 717.4 1349.9 716.4 1349.3 715.4 1348.8 714.4 1348.2 713.4 1347.6 712.4 1347 711.4 1346.4 710.4 1345.8 709.4 1345.2 708.4 1344.6 707.4 1344 706.4 1343.4 705.4 1342.8 704.4 1342.2 703.4 1341.5 702.4 1340.9 701.4 1340.3 700.4 1339.7 699.4 1339.1 698.4 1338.4 697.4 1337.8 696.4 1337.2 695.4 1336.5 694.4 1335.9 693.4 1335.2 692.4 1334.6 691.4 1333.9 690.4 1333.3 689.4 1332.6 688.4 1331.9 687.4 1331.2 686.4 1330.6 685.4 1329.9 684.4 1329.1 683.4 1328.4 682.4 1327.7 681.4 1327 680.4 1326.2 679.4 1325.4 678.4 1324.7 677.4 1323.9 676.4 1323.1 675.4 1322.3 674.4 1321.4 673.4 1320.6 672.4 1319.7 671.4 1318.8 670.4 1317.9 669.4 1317 668.4 1316 667.4 1315.1 666.4 1314.1 665.4 1313 664.4 1312 663.4 1310.9 662.4 1309.8 661.4 1308.7 660.4 1307.5 659.4 1306.3 658.4 1305.1 657.4 1303.9 656.4 1302.6 655.4 1301.3 654.4 1300 653.4 1298.6 652.4 1297.3 651.4 1295.9 650.4 1294.4 649.4 1293 648.4 1291.5 647.4 1290.1 646.4 1288.6 645.4 1287 644.4 1285.5 643.4 1284 642.4 1282.4 641.4 1280.9 640.4 1279.3 639.4 1277.7 638.4 1276.1 637.4 1274.5 636.4 1272.9 635.4 1271.2 634.4 1269.6 633.4 1268 632.4 1266.3 631.4 1264.6 630.4 1262.9 629.4 1261.2 628.4 1259.5 627.4 1257.8 626.4 1256.1 625.4 1254.4 624.4 1252.6 623.4 1250.9 622.4 1249.1 621.4 1247.3 620.4 1245.5 619.4 1243.7 618.4 1241.8 617.4 1239.8 616.4 1237.8 615.4 1235.8 614.4 1233.6 613.4 1231.4 612.4 1229 611.4 1226.6 610.4 1224.1 609.4 1221.6 608.4 1219 607.4 1216.4 606.4 1213.8 605.4 1211.1 604.4 1208.5 603.4 1205.7 602.4 1203 601.4 1200.2 600.4 1197.4 599.4 1194.6 598.4 1191.6 597.4 1188.7 596.4 1185.7 595.4 1182.6 594.4 1179.5 593.4 1176.4 592.4 1173.1 591.4 1169.9 590.4 1166.5 589.4 1163.1 588.4 1159.7 587.4 1156.1 586.4 1152.6 585.4 1148.9 584.4 1145.2 583.4 1141.4 582.4 1137.6 581.4 1133.7 580.4 1129.8 579.4 1125.8 578.4 1121.7 577.4 1117.5 576.4 1113.3 575.4 1109 574.4 1104.6 573.4 1100.1 572.4 1095.6 571.4 1091 570.4 1086.3 569.4 1081.5 568.4 1076.5 567.4 1071.4 566.4 1066.1 565.4 1060.6 564.4 1055.1 563.4 1049.5 562.4 1043.8 561.4 1038.2 560.4 1032.7 559.4 1027.3 558.4 1022 557.4 1016.7 556.4 1011.4 555.4 1006.2 554.4 1001 553.4 995.7 552.4 990.5 551.4 985.1 550.4 979.7 549.4 974.2 548.4 968.6 547.4 962.9 546.9 960 546.4 957 545.4 951 544.4 944.8 543.4 938.4 542.4 932 541.4 925.4 540.4 918.9 539.4 912.3 538.4 905.7 537.4 899.2 536.7 894.7 536.4 892.8 535.4 886.2 534.4 879.6 533.4 872.9 532.4 866.2 531.4 859.4 530.4 852.6 529.4 845.9 528.4 839.2 527.4 832.7 526.4 826.2 525.4 819.9 524.4 813.8 523.4 807.9 522.4 802.2 522 800 521.4 796.8 520.4 791.6 519.4 786.6 518.4 781.7 517.4 777 516.4 772.4 515.4 767.9 514.4 763.4 513.4 758.9 512.4 754.3 511.4 749.7 510.4 744.9 509.4 740 508.4 734.9 507.4 729.5 506.4 723.9 505.4 718.2 504.4 712.4 503.4 706.8 502.4 701.2 501.4 695.9 500.4 690.8 499.4 686.2 498.4 681.9 497.9 680 497.4 678.2 496.4 674.7 495.4 671.4 494.4 668.4 493.4 665.6 492.4 663.1 491.9 662 491.4 660.9 490.4 658.8 489.4 656.8 488.4 655 487.4 653.4 486.4 652.1 485.4 651 484.4 650.1 483.4 649.3 482.4 648.5 481.4 647.9 480.4 647.4 479.4 647.1 478.7 647Z"/>
<path fill="none" stroke="#00ffff" stroke-width="8.9" stroke-linejoin="round" d="M241.5 1128.2 242.5 1130.3 243.5 1132.4 244.5 1134.6 245.5 1136.7 246.5 1138.9 247.5 1141.1 248.5 1143.2 249.5 1145.4 250.5 1147.7 251.5 1150 252.5 1152.4 253.5 1154.7 254.5 1157.1 255.5 1159.4 256.5 1161.7 257.5 1163.9 258.5 1166 259.5 1168 260.5 1170 261.5 1171.9 262.5 1173.8 263.5 1175.7 264.5 1177.5 265.5 1179.2 266.5 1180.8 267.5 1182.3 268.5 1183.7 269.5 1185 270.5 1186.3 271.5 1187.4 272.5 1188.5 273.5 1189.6 274.5 1190.6 275.5 1191.6 276.5 1192.5 277.5 1193.3 278.5 1194.2 279.5 1195 280.5 1195.8 281.5 1196.6 282.5 1197.3 283.5 1198 284.5 1198.7 285.5 1199.3 286.5 1199.8 287.5 1200.3 288.5 1200.7 289.5 1201.1 290.5 1201.4 291.5 1201.8 292.5 1202.1 293.5 1202.4 294.5 1202.6 295.5 1202.8 296.5 1202.9 297.5 1203 298.5 1203 299.5 1202.9 300.5 1202.8 301.5 1202.6 302.5 1202.4 303.5 1202.1 304.5 1201.9 305.5 1201.6 306.5 1201.3 307.5 1200.9 308.5 1200.5 309.5 1200 310.5 1199.3 311.5 1198.5 312.5 1197.7 313.5 1196.8 314.5 1195.9 315.5 1194.9 316.5 1194 317.5 1193 318.5 1192 319.5 1190.9 320.5 1189.7 321.5 1188.5 322.5 1187.2 323.5 1185.9 324.5 1184.5 325.5 1183.2 326.5 1181.8 327.5 1180.4 328.5 1178.9 329.5 1177.4 330.5 1175.9 331.5 1174.3 332.5 1172.6 333.5 1170.9 334.5 1169.2 335.5 1167.4 336.3 1166 336.5 1165.6 337.5 1164 338.5 1162.4 339.5 1160.9 340.5 1159.1 341.5 1157.1 342.5 1154.7 343.5 1151.7 344 1150 344.5 1146.7 345.5 1136.2 346.5 1130 347.5 1130.1 348.5 1130.3 349.5 1130.6 350.5 1130.8 351.5 1131 352 1131 352.5 1130.9 353.5 1130.1 354.5 1128.7 355.5 1126.9 356.5 1124.9 357.5 1122.9 358 1122 358.5 1121.1 359.5 1119.1 360.5 1116.9 361.5 1114.6 362.5 1112.2 363.5 1109.7 364.5 1107.1 365.5 1104.4 366 1103 366.5 1101.6 367.5 1098.5 368.5 1095.3 369.5 1091.9 370.5 1088.4 371.5 1085 372.5 1081.6 373 1080 373.5 1078.4 374.5 1075.3 375.5 1072.2 376.5 1069.2 377.5 1066.1 378.5 1063 379.5 1059.7 380 1058 380.5 1056.3 381.5 1052.8 382.5 1049.2 383.5 1045.5 384.5 1041.7 385.5 1037.9 386.5 1034 387.5 1030 388.5 1026.1 389.5 1022 390 1020 390.5 1018 391.5 1013.8 392.5 1009.5 393.5 1005.2 394.5 1000.8 395.5 996.4 396.5 991.9 397.5 987.5 398.5 983.1 399.2 980 399.5 978.7 400.5 974.4 401.5 970.1 402.5 965.8 403.5 961.5 404.5 957.3 405.5 953 406.5 948.8 407.5 944.5 408.5 940.3 409.5 936 410.5 931.6 411.5 927.3 412.5 922.9 413.5 918.4 414.5 913.9 415.5 909.3 416.5 904.7 417.5 900 418.5 895.2 419.5 890.3 420.5 885.3 421.5 880.2 422.5 875 423.5 869.8 424.5 864.5 425.5 859.2 426.5 853.8 427.5 848.5 428.5 843.1 429.5 837.7 430.5 832.3 431.5 827 432.5 821.7 433.5 816.4 434.5 811.2 435.5 806.1 436.5 801 436.7 800 437.5 796 438.5 791 439.5 786 440.5 781.1 441.5 776.1 442.5 771.2 443.5 766.4 444.5 761.6 445.5 756.8 446.5 752 447.5 747.4 448.5 742.7 449.1 740 449.5 738.2 450.5 733.6 451.5 729 452.5 724.3 453.5 719.7 454.5 715.1 455.5 710.6 456.5 706.1 457.5 701.8 458.5 697.5 459.5 693.4 460.5 689.4 461.5 685.6 462.5 682.1 463.1 680 463.5 678.7 464.5 675.4 465.5 672.2 466.5 669.3 467.5 666.5 468.5 664.1 469 663 469.5 662 470.5 659.9 471.5 658 472.5 656.2 473.5 654.5 474.5 653.1 475.5 652 476 651.5 476.5 651.1 477.5 650.2 478.5 649.4 479.5 648.7 480.5 648 481.5 647.5 482.5 647.2 483.5 647 483.8 647 484.5 647.1 485.5 647.4 486.5 647.9 487.5 648.5 488.5 649.3 489.5 650.1 490.5 651 491.5 652.1 492.5 653.4 493.5 655 494.5 656.8 495.5 658.8 496.5 660.9 497 662 497.5 663.1 498.5 665.6 499.5 668.4 500.5 671.4 501.5 674.7 502.5 678.2 503 680 503.5 681.9 504.5 686.2 505.5 690.8 506.5 695.9 507.5 701.2 508.5 706.8 509.5 712.4 510.5 718.2 511.5 723.9 512.5 729.5 513.5 734.9 514.5 740 515.5 744.9 516.5 749.7 517.5 754.3 518.5 758.9 519.5 763.4 520.5 767.9 521.5 772.4 522.5 777 523.5 781.7 524.5 786.6 525.5 791.6 526.5 796.8 527.1 800 527.5 802.2 528.5 807.9 529.5 813.8 530.5 819.9 531.5 826.2 532.5 832.7 533.5 839.2 534.5 845.9 535.5 852.6 536.5 859.4 537.5 866.2 538.5 872.9 539.5 879.6 540.5 886.2 541.5 892.8 541.8 894.7 542.5 899.2 543.5 905.7 544.5 912.3 545.5 918.9 546.5 925.4 547.5 932 548.5 938.4 549.5 944.8 550.5 951 551.5 957 552 960 552.5 962.9 553.5 968.6 554.5 974.2 555.5 979.7 556.5 985.1 557.5 990.5 558.5 995.7 559.5 1001 560.5 1006.2 561.5 1011.4 562.5 1016.7 563.5 1022 564.5 1027.3 565.5 1032.7 566.5 1038.2 567.5 1043.8 568.5 1049.5 569.5 1055.1 570.5 1060.6 571.5 1066.1 572.5 1071.4 573.5 1076.5 574.5 1081.5 575.5 1086.3 576.5 1091 577.5 1095.6 578.5 1100.1 579.5 1104.6 580.5 1109 581.5 1113.3 582.5 1117.5 583.5 1121.7 584.5 1125.8 585.5 1129.8 586.5 1133.7 587.5 1137.6 588.5 1141.4 589.5 1145.2 590.5 1148.9 591.5 1152.6 592.5 1156.1 593.5 1159.7 594.5 1163.1 595.5 1166.5 596.5 1169.9 597.5 1173.1 598.5 1176.4 599.5 1179.5 600.5 1182.6 601.5 1185.7 602.5 1188.7 603.5 1191.6 604.5 1194.6 605.5 1197.4 606.5 1200.2 607.5 1203 608.5 1205.7 609.5 1208.5 610.5 1211.1 611.5 1213.8 612.5 1216.4 613.5 1219 614.5 1221.6 615.5 1224.1 616.5 1226.6 617.5 1229 618.5 1231.4 619.5 1233.6 620.5 1235.8 621.5 1237.8 622.5 1239.8 623.5 1241.8 624.5 1243.7 625.5 1245.5 626.5 1247.3 627.5 1249.1 628.5 1250.9 629.5 1252.6 630.5 1254.4 631.5 1256.1 632.5 1257.8 633.5 1259.5 634.5 1261.2 635.5 1262.9 636.5 1264.6 637.5 1266.3 638.5 1268 639.5 1269.6 640.5 1271.2 641.5 1272.9 642.5 1274.5 643.5 1276.1 644.5 1277.7 645.5 1279.3 646.5 1280.9 647.5 1282.4 648.5 1284 649.5 1285.5 650.5 1287 651.5 1288.6 652.5 1290.1 653.5 1291.5 654.5 1293 655.5 1294.4 656.5 1295.9 657.5 1297.3 658.5 1298.6 659.5 1300 660.5 1301.3 661.5 1302.6 662.5 1303.9 663.5 1305.1 664.5 1306.3 665.5 1307.5 666.5 1308.7 667.5 1309.8 668.5 1310.9 669.5 1312 670.5 1313 671.5 1314.1 672.5 1315.1 673.5 1316 674.5 1317 675.5 1317.9 676.5 1318.8 677.5 1319.7 678.5 1320.6 679.5 1321.4 680.5 1322.3 681.5 1323.1 682.5 1323.9 683.5 1324.7 684.5 1325.4 685.5 1326.2 686.5 1327 687.5 1327.7 688.5 1328.4 689.5 1329.1 690.5 1329.9 691.5 1330.6 692.5 1331.2 693.5 1331.9 694.5 1332.6 695.5 1333.3 696.5 1333.9 697.5 1334.6 698.5 1335.2 699.5 1335.9 700.5 1336.5 701.5 1337.2 702.5 1337.8 703.5 1338.4 704.5 1339.1 705.5 1339.7 706.5 1340.3 707.5 1340.9 708.5 1341.5 709.5 1342.2 710.5 1342.8 711.5 1343.4 712.5 1344 713.5 1344.6 714.5 1345.2 715.5 1345.8 716.5 1346.4 717.5 1347 718.5 1347.6 719.5 1348.2 720.5 1348.8 721.5 1349.3 722.5 1349.9 723.5 1350.5 724.5 1351.1 725.5 1351.7 726.5 1352.2 727.5 1352.8 728.5 1353.4 729.5 1353.9 730.5 1354.5 731.5 1355.1 732.5 1355.6 733.5 1356.2 734.5 1356.7 735.5 1357.2 736.5 1357.8 737.5 1358.3 738.5 1358.8 739.5 1359.3 740.5 1359.8 741.5 1360.3 742.5 1360.8 743.5 1361.2 744.5 1361.7 745.5 1362.1 746.5 1362.6 747.5 1363 748.5 1363.4 749.5 1363.8 750.5 1364.3 751.5 1364.7 752.5 1365 753.5 1365.4 754.5 1365.8 755.5 1366.2 756.5 1366.5 757.5 1366.9 758.5 1367.2 759.5 1367.6 760.5 1367.9 761.5 1368.3 762.5 1368.6 763.5 1369 764.5 1369.3 765.5 1369.6 766.5 1369.9 767.5 1370.3 768.5 1370.6 769.5 1370.9 770.5 1371.2 771.5 1371.5 772.5 1371.8 773.5 1372.1 774.5 1372.4 775.5 1372.7 776.5 1373 777.5 1373.3 778.5 1373.6 779.5 1373.9 780.5 1374.2 784.5 1375.4 788.5 1376.5 792.5 1377.7 796.5 1378.8 800.5 1380 804.5 1381.1 808.5 1382.2 812.5 1383.4 816.5 1384.5 820.5 1385.6 824.5 1386.8 828.5 1387.9 832.5 1389 836.5 1390.1 840.5 1391.1 844.5 1392.2 848.5 1393.2 852.5 1394.2 856.5 1395.1 860.5 1396.1 864.5 1396.9 868.5 1397.8 872.5 1398.6 876.5 1399.4 880.5 1400.2 884.5 1400.9 888.5 1401.6 892.5 1402.3 896.5 1403 900.5 1403.6 904.5 1404.3 908.5 1404.9 912.5 1405.5 916.5 1406.1 920.5 1406.7 924.5 1407.3 928.5 1407.8 932.5 1408.4 936.5 1409 940.5 1409.6 944.5 1410.2 948.5 1410.8 952.5 1411.4 956.5 1412 960.5 1412.6 964.5 1413.1 968.5 1413.7 972.5 1414.3 976.5 1414.8 980.5 1415.3 984.5 1415.8 988.5 1416.3 992.5 1416.8 996.5 1417.2 1000.5 1417.7 1004.5 1418.1 1008.5 1418.5 1012.5 1418.9 1016.5 1419.2 1020.5 1419.6 1024.5 1419.9 1028.5 1420.3 1032.5 1420.6 1036.5 1421 1040.5 1421.3 1044.5 1421.6 1048.5 1422 1052.5 1422.3 1056.5 1422.7 1060.5 1423 1064.5 1423.4 1068.5 1423.7 1072.5 1424.1 1076.5 1424.5 1080.5 1424.9 1084.5 1425.2 1088.5 1425.6 1092.5 1426 1096.5 1426.4 1100.5 1426.7 1104.5 1427.1 1108.5 1427.4 1112.5 1427.8 1116.5 1428.1 1120.5 1428.4 1124.5 1428.7 1128.5 1429 1132.5 1429.2 1136.5 1429.5 1140.5 1429.8 1144.5 1430 1148.5 1430.3 1152.5 1430.5 1156.5 1430.7 1160.5 1430.9 1164.5 1431.2 1168.5 1431.4 1172.5 1431.6 1176.5 1431.8 1180.5 1432.1 1184.5 1432.3 1188.5 1432.5 1192.5 1432.7 1196.5 1433 1200.5 1433.2 1204.5 1433.4 1208.5 1433.6 1212.5 1433.9 1216.5 1434.1 1220.5 1434.3 1224.5 1434.6 1228.5 1434.8 1232.5 1435 1236.5 1435.2 1240.5 1435.5 1244.5 1435.7 1248.5 1435.9 1252.5 1436.1 1256.5 1436.4 1260.5 1436.6 1264.5 1436.8 1268.5 1437 1272.5 1437.3 1276.5 1437.5 1280.5 1437.7 1284.5 1437.9 1288.5 1438.1 1292.5 1438.3 1296.5 1438.5 1300.5 1438.8 1304.5 1439 1308.5 1439.2 1312.5 1439.4 1316.5 1439.6 1320.5 1439.8 1324.5 1440 1328.5 1440.2 1332.5 1440.4 1336.5 1440.6 1340.5 1440.8 1343.5 1440.9"/>
<path fill="#0000ff" d="M242.5 1012.9 243.5 1015.6 244.5 1018.3 245.5 1020.9 246.5 1023.5 247.5 1026.2 248.5 1028.8 249.5 1031.4 250.5 1034.1 251.5 1036.8 252.5 1039.4 253.5 1042.1 254.5 1044.8 255.5 1047.4 256.5 1050 257.5 1052.4 258.5 1054.8 259.5 1057 260.5 1059.2 261.5 1061.3 262.5 1063.3 263.5 1065.3 264.5 1067.2 265.5 1069.1 266.5 1071 267.5 1072.8 268.5 1074.5 269.5 1076.3 270.5 1078 271.5 1079.8 272.5 1081.4 273.5 1083.1 274.5 1084.7 275.5 1086.2 276.5 1087.7 277.5 1089.1 278.5 1090.5 279.5 1091.8 280.5 1093 281.5 1094.3 282.5 1095.5 283.5 1096.6 284.5 1097.7 285.5 1098.7 286.5 1099.7 287.5 1100.5 288.5 1101.3 289.5 1102 290.5 1102.7 291.5 1103.4 292.5 1104 293.5 1104.6 294.5 1105.2 295.5 1105.6 296.5 1106 297.5 1106.3 298.5 1106.6 299.5 1106.8 300.5 1107.1 301.5 1107.3 302.5 1107.4 303.5 1107.6 304.5 1107.7 305.5 1107.8 306.5 1107.9 307.5 1107.9 308.5 1107.8 309.5 1107.7 310.5 1107.5 311.5 1107.2 312.5 1106.8 313.5 1106.5 314.5 1106 315.5 1105.6 316.5 1105.1 317.5 1104.6 318.5 1104 319.5 1103.3 320.5 1102.5 321.5 1101.5 322.5 1100.5 323.5 1099.4 324.5 1098.3 325.5 1097.2 326.5 1096.1 327.5 1095 328.5 1093.8 329.5 1092.5 330.5 1091.2 331.5 1089.8 332.5 1088.4 333.5 1087 334.5 1085.5 335.5 1084.1 336.3 1082.9 336.5 1082.6 337.5 1081.4 338.5 1080.3 339.5 1079.2 340.5 1078 341.5 1076.6 342.5 1074.7 343.5 1072.3 344 1070.9 344.5 1067.7 345.5 1055.7 346.5 1046.9 347.5 1044.3 348 1043.9 348.5 1044 349.5 1044.4 350.5 1045 351.5 1045.7 352.5 1046.2 353.4 1046.4 353.5 1046.4 354.5 1045.5 355.5 1043.7 356.2 1042.3 356.5 1041.7 357.5 1039.2 358.5 1036.1 359.5 1032.7 360.5 1029.2 361.5 1025.9 362.5 1023 363.2 1021.3 363.5 1020.7 364.5 1019 365.5 1017.5 366.5 1015.9 367 1014.9 367.5 1013.8 368.5 1011.3 369.5 1008.4 370.5 1005.3 371.5 1002 372.5 998.6 373.5 995.1 374.5 991.6 375.5 988.2 376.5 984.9 377.5 981.8 378.5 978.7 379.5 975.6 380.5 972.6 381.5 969.5 382.5 966.4 383.5 963.2 384.5 959.9 385.5 956.6 386 954.9 386.5 953.2 387.5 949.7 388.5 946.1 389.5 942.4 390.5 938.7 391.5 935 392.5 931.2 393.5 927.3 394.5 923.3 395.5 919.3 396.5 915.2 397.5 911 398 908.9 398.5 906.8 399.5 902.5 400.5 898.1 401.5 893.6 402.5 889.1 403.5 884.5 404.5 879.8 405.5 875.1 406.5 870.3 407.5 865.5 408.5 860.6 409.5 855.7 410.5 850.8 411.5 845.8 412.5 840.7 413.5 835.7 414.5 830.6 415.5 825.5 416.5 820.3 417.5 815.2 418.5 810 419.5 804.8 420.5 799.6 421.4 794.9 421.5 794.4 422.5 789.1 423.5 783.7 424.5 778.3 425.5 772.8 426.5 767.2 427.5 761.6 428.5 756 429.5 750.4 430.5 744.9 431.5 739.3 432.3 734.9 432.5 733.8 433.5 728.3 434.5 722.7 435.5 717 436.5 711.4 437.5 705.8 438.5 700.2 439.5 694.7 440.5 689.3 441.5 684 442.5 678.9 443.3 674.9 443.5 673.9 444.5 669.1 445.5 664.3 446.5 659.6 447.5 655 448.5 650.5 449.5 646 450.5 641.6 451.5 637.3 452.5 633 453.5 628.8 454.5 624.6 455.5 620.5 456.5 616.5 456.9 614.9 457.5 612.5 458.5 608.5 459.5 604.6 460.5 600.7 461.5 596.9 462.5 593.2 463.5 589.8 464.5 586.5 465 584.9 465.5 583.4 466.5 580.3 467.5 577.3 468.5 574.5 469.5 571.7 470.5 569.2 471.5 567 472.5 565.1 472.6 564.9 473.5 563.4 474.5 561.7 475.5 560.3 476.5 559.2 477.5 558.4 478.5 557.9 479.5 557.4 480.5 557.1 481.5 556.9 482 556.9 482.5 556.9 483.5 557.1 484.5 557.4 485.5 557.9 486.5 558.4 487.5 559.3 488.5 560.7 489.5 562.5 490.5 564.5 490.7 564.9 491.5 566.7 492.5 569.4 493.5 572.6 494.5 576 495.5 579.5 496.5 583.1 497 584.9 497.5 586.7 498.5 590.3 499.5 594 500.5 597.8 501.5 601.8 502.5 605.9 503.5 610.1 504.5 614.5 504.6 614.9 505.5 619 506.5 623.7 507.5 628.5 508.5 633.5 509.5 638.6 510.5 643.8 511.5 649.2 512.5 654.6 513.5 660.1 514.5 665.8 515.5 671.5 516.1 674.9 516.5 677.2 517.5 683.2 518.5 689.4 519.5 695.8 520.5 702.2 521.5 708.8 522.5 715.4 523.5 722 524.5 728.5 525.5 734.9 526.5 741.2 527.5 747.5 528.5 753.7 529.5 759.9 530.5 766.1 531.5 772.4 532.5 778.7 533.5 785.1 534.5 791.6 535 794.9 535.5 798.2 536.5 805 537.5 811.9 538.5 818.8 539.5 825.8 540.5 832.9 541.5 840.1 542.5 847.2 543.5 854.4 544.5 861.5 545.5 868.6 546.5 875.7 547.5 882.7 548.5 889.6 549.5 896.5 550.5 903.5 551.5 910.6 552.5 917.6 553.5 924.6 554.5 931.4 555.5 938.1 556.5 944.6 557.5 950.8 558.2 954.9 558.5 956.6 559.5 962.3 560.5 967.7 561.5 973 562.5 978.2 563.5 983.3 564.5 988.2 565.5 993.1 566.5 997.9 567.5 1002.6 568.5 1007.4 569.5 1012.1 570.5 1016.8 571.5 1021.6 572.5 1026.3 573.5 1031.1 574.5 1035.9 575.5 1040.7 576.5 1045.5 577.5 1050.2 578.5 1054.9 579.5 1059.5 580.5 1064 581.5 1068.4 582.5 1072.8 583.5 1077 584.5 1081.2 585.5 1085.2 586.5 1089.2 587.5 1093.1 588.5 1097 589.5 1100.8 590.5 1104.6 591.5 1108.3 592.5 1112 593.5 1115.6 594.5 1119.2 595.5 1122.7 596.5 1126.2 597.5 1129.6 598.5 1132.9 599.5 1136.2 600.5 1139.4 601.5 1142.5 602.5 1145.7 603.5 1148.8 604.5 1151.9 605.5 1155 606.5 1158 607.5 1161 608.5 1163.9 609.5 1166.7 610.5 1169.5 611.5 1172.2 612.5 1174.8 613.5 1177.3 614.5 1179.8 615.5 1182.1 616.5 1184.4 617.5 1186.6 618.5 1188.8 619.5 1190.9 620.5 1193 621.5 1195 622.5 1197 623.5 1199 624.5 1200.9 625.5 1202.8 626.5 1204.7 627.5 1206.5 628.5 1208.4 629.5 1210.2 630.5 1212 631.5 1213.8 632.5 1215.5 633.5 1217.3 634.5 1219 635.5 1220.8 636.5 1222.5 637.5 1224.2 638.5 1225.9 639.5 1227.6 640.5 1229.3 641.5 1231 642.5 1232.6 643.5 1234.3 644.5 1235.9 645.5 1237.5 646.5 1239.2 647.5 1240.8 648.5 1242.4 649.5 1243.9 650.5 1245.5 651.5 1247.1 652.5 1248.6 653.5 1250.1 654.5 1251.7 655.5 1253.2 656.5 1254.7 657.5 1256.1 658.5 1257.6 659.5 1259 660.5 1260.5 661.5 1261.9 662.5 1263.2 663.5 1264.6 664.5 1265.9 665.5 1267.2 666.5 1268.5 667.5 1269.8 668.5 1271 669.5 1272.3 670.5 1273.5 671.5 1274.6 672.5 1275.8 673.5 1276.9 674.5 1278 675.5 1279.1 676.5 1280.2 677.5 1281.2 678.5 1282.3 679.5 1283.3 680.5 1284.3 681.5 1285.3 682.5 1286.3 683.5 1287.2 684.5 1288.2 685.5 1289.1 686.5 1290 687.5 1290.9 688.5 1291.8 689.5 1292.7 690.5 1293.6 691.5 1294.5 692.5 1295.4 693.5 1296.2 694.5 1297.1 695.5 1297.9 696.5 1298.7 697.5 1299.5 698.5 1300.4 699.5 1301.2 700.5 1302 701.5 1302.8 702.5 1303.5 703.5 1304.3 704.5 1305.1 705.5 1305.9 706.5 1306.6 707.5 1307.4 708.5 1308.1 709.5 1308.8 710.5 1309.6 711.5 1310.3 712.5 1311 713.5 1311.7 714.5 1312.4 715.5 1313.1 716.5 1313.8 717.5 1314.5 718.5 1315.2 719.5 1315.8 720.5 1316.5 721.5 1317.2 722.5 1317.8 723.5 1318.5 724.5 1319.1 725.5 1319.8 726.5 1320.4 727.5 1321 728.5 1321.6 729.5 1322.2 730.5 1322.8 731.5 1323.4 732.5 1324 733.5 1324.6 734.5 1325.2 735.5 1325.7 736.5 1326.3 737.5 1326.9 738.5 1327.4 739.5 1327.9 740.5 1328.5 741.5 1329 742.5 1329.5 743.5 1330 744.5 1330.5 745.5 1330.9 746.5 1331.4 747.5 1331.9 748.5 1332.4 749.5 1332.8 750.5 1333.2 751.5 1333.7 752.5 1334.1 753.5 1334.5 754.5 1335 755.5 1335.4 756.5 1335.8 757.5 1336.2 758.5 1336.6 759.5 1337 760.5 1337.4 761.5 1337.8 762.5 1338.2 763.5 1338.6 764.5 1338.9 765.5 1339.3 766.5 1339.7 767.5 1340.1 768.5 1340.4 769.5 1340.8 770.5 1341.2 771.5 1341.5 772.5 1341.9 773.5 1342.2 774.5 1342.6 775.5 1342.9 776.5 1343.3 777.5 1343.6 778.5 1343.9 779.5 1344.3 780.5 1344.6 784.5 1346 788.5 1347.3 792.5 1348.5 796.5 1349.8 800.5 1351 804.5 1352.3 808.5 1353.5 812.5 1354.7 816.5 1355.9 820.5 1357.1 824.5 1358.3 828.5 1359.4 832.5 1360.6 836.5 1361.7 840.5 1362.9 844.5 1364 848.5 1365.1 852.5 1366.2 856.5 1367.3 860.5 1368.3 864.5 1369.4 868.5 1370.4 872.5 1371.4 876.5 1372.3 880.5 1373.3 884.5 1374.2 888.5 1375.1 892.5 1376 896.5 1376.9 900.5 1377.7 904.5 1378.5 908.5 1379.4 912.5 1380.1 916.5 1380.9 920.5 1381.7 924.5 1382.5 928.5 1383.2 932.5 1384 936.5 1384.7 940.5 1385.5 944.5 1386.2 948.5 1386.9 952.5 1387.6 956.5 1388.3 960.5 1389 964.5 1389.6 968.5 1390.3 972.5 1390.9 976.5 1391.5 980.5 1392 984.5 1392.6 988.5 1393.1 992.5 1393.6 996.5 1394 1000.5 1394.5 1004.5 1394.9 1008.5 1395.3 1012.5 1395.8 1016.5 1396.2 1020.5 1396.6 1024.5 1397 1028.5 1397.4 1032.5 1397.9 1036.5 1398.3 1040.5 1398.7 1044.5 1399.1 1048.5 1399.6 1052.5 1400 1056.5 1400.5 1060.5 1400.9 1064.5 1401.4 1068.5 1401.9 1072.5 1402.3 1076.5 1402.8 1080.5 1403.3 1084.5 1403.8 1088.5 1404.2 1092.5 1404.7 1096.5 1405.2 1100.5 1405.6 1104.5 1406.1 1108.5 1406.5 1112.5 1406.9 1116.5 1407.3 1120.5 1407.8 1124.5 1408.2 1128.5 1408.5 1132.5 1408.9 1136.5 1409.3 1140.5 1409.7 1144.5 1410 1148.5 1410.3 1152.5 1410.7 1156.5 1411 1160.5 1411.3 1164.5 1411.7 1168.5 1412 1172.5 1412.3 1176.5 1412.6 1180.5 1412.9 1184.5 1413.2 1188.5 1413.5 1192.5 1413.7 1196.5 1414 1200.5 1414.3 1204.5 1414.6 1208.5 1414.9 1212.5 1415.2 1216.5 1415.4 1220.5 1415.7 1224.5 1416 1228.5 1416.3 1232.5 1416.6 1236.5 1416.9 1240.5 1417.2 1244.5 1417.4 1248.5 1417.7 1252.5 1418 1256.5 1418.3 1260.5 1418.6 1264.5 1418.9 1268.5 1419.1 1272.5 1419.4 1276.5 1419.7 1280.5 1420 1284.5 1420.2 1288.5 1420.5 1292.5 1420.7 1296.5 1421 1300.5 1421.2 1304.5 1421.5 1308.5 1421.7 1312.5 1422 1316.5 1422.2 1320.5 1422.4 1324.5 1422.6 1328.5 1422.9 1332.5 1423.1 1336.5 1423.3 1340.5 1423.5 1343.5 1423.7 1343.5 1433.9 1340.5 1433.7 1336.5 1433.5 1332.5 1433.3 1328.5 1433.1 1324.5 1432.8 1320.5 1432.6 1316.5 1432.4 1312.5 1432.2 1308.5 1431.9 1304.5 1431.7 1300.5 1431.4 1296.5 1431.2 1292.5 1430.9 1288.5 1430.7 1284.5 1430.4 1280.5 1430.2 1276.5 1429.9 1272.5 1429.6 1268.5 1429.3 1264.5 1429.1 1260.5 1428.8 1256.5 1428.5 1252.5 1428.2 1248.5 1427.9 1244.5 1427.6 1240.5 1427.4 1236.5 1427.1 1232.5 1426.8 1228.5 1426.5 1224.5 1426.2 1220.5 1425.9 1216.5 1425.6 1212.5 1425.4 1208.5 1425.1 1204.5 1424.8 1200.5 1424.5 1196.5 1424.2 1192.5 1423.9 1188.5 1423.7 1184.5 1423.4 1180.5 1423.1 1176.5 1422.8 1172.5 1422.5 1168.5 1422.2 1164.5 1421.9 1160.5 1421.5 1156.5 1421.2 1152.5 1420.9 1148.5 1420.5 1144.5 1420.2 1140.5 1419.9 1136.5 1419.5 1132.5 1419.1 1128.5 1418.7 1124.5 1418.4 1120.5 1418 1116.5 1417.5 1112.5 1417.1 1108.5 1416.7 1104.5 1416.3 1100.5 1415.8 1096.5 1415.4 1092.5 1414.9 1088.5 1414.4 1084.5 1414 1080.5 1413.5 1076.5 1413 1072.5 1412.5 1068.5 1412.1 1064.5 1411.6 1060.5 1411.1 1056.5 1410.7 1052.5 1410.2 1048.5 1409.8 1044.5 1409.3 1040.5 1408.9 1036.5 1408.5 1032.5 1408.1 1028.5 1407.6 1024.5 1407.2 1020.5 1406.8 1016.5 1406.4 1012.5 1406 1008.5 1405.5 1004.5 1405.1 1000.5 1404.7 996.5 1404.2 992.5 1403.8 988.5 1403.3 984.5 1402.8 980.5 1402.2 976.5 1401.7 972.5 1401.1 968.5 1400.5 964.5 1399.8 960.5 1399.2 956.5 1398.5 952.5 1397.8 948.5 1397.1 944.5 1396.4 940.5 1395.7 936.5 1394.9 932.5 1394.2 928.5 1393.4 924.5 1392.7 920.5 1391.9 916.5 1391.1 912.5 1390.3 908.5 1389.6 904.5 1388.7 900.5 1387.9 896.5 1387.1 892.5 1386.2 888.5 1385.3 884.5 1384.4 880.5 1383.5 876.5 1382.5 872.5 1381.6 868.5 1380.6 864.5 1379.6 860.5 1378.5 856.5 1377.5 852.5 1376.4 848.5 1375.3 844.5 1374.2 840.5 1373.1 836.5 1371.9 832.5 1370.8 828.5 1369.6 824.5 1368.5 820.5 1367.3 816.5 1366.1 812.5 1364.9 808.5 1363.7 804.5 1362.5 800.5 1361.2 796.5 1360 792.5 1358.7 788.5 1357.5 784.5 1356.2 780.5 1354.8 779.5 1354.5 778.5 1354.1 777.5 1353.8 776.5 1353.5 775.5 1353.1 774.5 1352.8 773.5 1352.4 772.5 1352.1 771.5 1351.7 770.5 1351.4 769.5 1351 768.5 1350.6 767.5 1350.3 766.5 1349.9 765.5 1349.5 764.5 1349.1 763.5 1348.8 762.5 1348.4 761.5 1348 760.5 1347.6 759.5 1347.2 758.5 1346.8 757.5 1346.4 756.5 1346 755.5 1345.6 754.5 1345.2 753.5 1344.7 752.5 1344.3 751.5 1343.9 750.5 1343.4 749.5 1343 748.5 1342.6 747.5 1342.1 746.5 1341.6 745.5 1341.1 744.5 1340.7 743.5 1340.2 742.5 1339.7 741.5 1339.2 740.5 1338.7 739.5 1338.1 738.5 1337.6 737.5 1337.1 736.5 1336.5 735.5 1335.9 734.5 1335.4 733.5 1334.8 732.5 1334.2 731.5 1333.6 730.5 1333 729.5 1332.4 728.5 1331.8 727.5 1331.2 726.5 1330.6 725.5 1330 724.5 1329.3 723.5 1328.7 722.5 1328 721.5 1327.4 720.5 1326.7 719.5 1326 718.5 1325.4 717.5 1324.7 716.5 1324 715.5 1323.3 714.5 1322.6 713.5 1321.9 712.5 1321.2 711.5 1320.5 710.5 1319.8 709.5 1319 708.5 1318.3 707.5 1317.6 706.5 1316.8 705.5 1316.1 704.5 1315.3 703.5 1314.5 702.5 1313.7 701.5 1313 700.5 1312.2 699.5 1311.4 698.5 1310.6 697.5 1309.7 696.5 1308.9 695.5 1308.1 694.5 1307.3 693.5 1306.4 692.5 1305.6 691.5 1304.7 690.5 1303.8 689.5 1302.9 688.5 1302 687.5 1301.1 686.5 1300.2 685.5 1299.3 684.5 1298.4 683.5 1297.4 682.5 1296.5 681.5 1295.5 680.5 1294.5 679.5 1293.5 678.5 1292.5 677.5 1291.4 676.5 1290.4 675.5 1289.3 674.5 1288.2 673.5 1287.1 672.5 1286 671.5 1284.8 670.5 1283.7 669.5 1282.5 668.5 1281.2 667.5 1280 666.5 1278.7 665.5 1277.4 664.5 1276.1 663.5 1274.8 662.5 1273.4 661.5 1272.1 660.5 1270.7 659.5 1269.2 658.5 1267.8 657.5 1266.3 656.5 1264.9 655.5 1263.4 654.5 1261.9 653.5 1260.3 652.5 1258.8 651.5 1257.3 650.5 1255.7 649.5 1254.1 648.5 1252.6 647.5 1251 646.5 1249.4 645.5 1247.7 644.5 1246.1 643.5 1244.5 642.5 1242.8 641.5 1241.2 640.5 1239.5 639.5 1237.8 638.5 1236.1 637.5 1234.4 636.5 1232.7 635.5 1231 634.5 1229.2 633.5 1227.5 632.5 1225.7 631.5 1224 630.5 1222.2 629.5 1220.4 628.5 1218.6 627.5 1216.7 626.5 1214.9 625.5 1213 624.5 1211.1 623.5 1209.2 622.5 1207.2 621.5 1205.2 620.5 1203.2 619.5 1201.1 618.5 1199 617.5 1196.8 616.5 1194.6 615.5 1192.3 614.5 1190 613.5 1187.5 612.5 1185 611.5 1182.4 610.5 1179.7 609.5 1176.9 608.5 1174.1 607.5 1171.2 606.5 1168.2 605.5 1165.2 604.5 1162.1 603.5 1159 602.5 1155.9 601.5 1152.7 600.5 1149.6 599.5 1146.4 598.5 1143.1 597.5 1139.8 596.5 1136.4 595.5 1132.9 594.5 1129.4 593.5 1125.8 592.5 1122.2 591.5 1118.5 590.5 1114.8 589.5 1111 588.5 1107.2 587.5 1103.3 586.5 1099.4 585.5 1095.4 584.5 1091.4 583.5 1087.2 582.5 1083 581.5 1078.6 580.5 1074.2 579.5 1069.7 578.5 1065.1 577.5 1060.4 576.5 1055.7 575.5 1050.9 574.5 1046.1 573.5 1041.3 572.5 1036.5 571.5 1031.8 570.5 1027 569.5 1022.3 568.5 1017.6 567.5 1012.8 566.5 1008.1 565.5 1003.3 564.5 998.4 563.5 993.5 562.5 988.4 561.5 983.2 560.5 977.9 559.5 972.5 558.5 966.8 558.2 965.1 557.5 961 556.5 954.8 555.5 948.3 554.5 941.6 553.5 934.8 552.5 927.8 551.5 920.8 550.5 913.7 549.5 906.7 548.5 899.8 547.5 892.9 546.5 885.9 545.5 878.8 544.5 871.7 543.5 864.6 542.5 857.4 541.5 850.3 540.5 843.1 539.5 836 538.5 829 537.5 822.1 536.5 815.2 535.5 808.4 535 805.1 534.5 801.8 533.5 795.3 532.5 788.9 531.5 782.6 530.5 776.3 529.5 770.1 528.5 763.9 527.5 757.7 526.5 751.4 525.5 745.1 524.5 738.7 523.5 732.2 522.5 725.6 521.5 719 520.5 712.4 519.5 706 518.5 699.6 517.5 693.4 516.5 687.4 516.1 685.1 515.5 681.7 514.5 676 513.5 670.3 512.5 664.8 511.5 659.4 510.5 654 509.5 648.8 508.5 643.7 507.5 638.7 506.5 633.9 505.5 629.2 504.6 625.1 504.5 624.7 503.5 620.3 502.5 616.1 501.5 612 500.5 608 499.5 604.2 498.5 600.5 497.5 596.9 497 595.1 496.5 593.3 495.5 589.7 494.5 586.2 493.5 582.8 492.5 579.6 491.5 576.9 490.7 575.1 490.5 574.7 489.5 572.7 488.5 570.9 487.5 569.5 486.5 568.6 485.5 568.1 484.5 567.6 483.5 567.3 482.5 567.1 482 567.1 481.5 567.1 480.5 567.3 479.5 567.6 478.5 568.1 477.5 568.6 476.5 569.4 475.5 570.5 474.5 571.9 473.5 573.6 472.6 575.1 472.5 575.3 471.5 577.2 470.5 579.4 469.5 581.9 468.5 584.7 467.5 587.5 466.5 590.5 465.5 593.6 465 595.1 464.5 596.7 463.5 600 462.5 603.4 461.5 607.1 460.5 610.9 459.5 614.8 458.5 618.7 457.5 622.7 456.9 625.1 456.5 626.7 455.5 630.7 454.5 634.8 453.5 639 452.5 643.2 451.5 647.5 450.5 651.8 449.5 656.2 448.5 660.7 447.5 665.2 446.5 669.8 445.5 674.5 444.5 679.3 443.5 684.1 443.3 685.1 442.5 689.1 441.5 694.2 440.5 699.5 439.5 704.9 438.5 710.4 437.5 716 436.5 721.6 435.5 727.2 434.5 732.9 433.5 738.5 432.5 744 432.3 745.1 431.5 749.5 430.5 755.1 429.5 760.6 428.5 766.2 427.5 771.8 426.5 777.4 425.5 783 424.5 788.5 423.5 793.9 422.5 799.3 421.5 804.6 421.4 805.1 420.5 809.8 419.5 815 418.5 820.2 417.5 825.4 416.5 830.5 415.5 835.7 414.5 840.8 413.5 845.9 412.5 850.9 411.5 856 410.5 861 409.5 865.9 408.5 870.8 407.5 875.7 406.5 880.5 405.5 885.3 404.5 890 403.5 894.7 402.5 899.3 401.5 903.8 400.5 908.3 399.5 912.7 398.5 917 398 919.1 397.5 921.2 396.5 925.4 395.5 929.5 394.5 933.5 393.5 937.5 392.5 941.4 391.5 945.2 390.5 948.9 389.5 952.6 388.5 956.3 387.5 959.9 386.5 963.4 386 965.1 385.5 966.8 384.5 970.1 383.5 973.4 382.5 976.6 381.5 979.7 380.5 982.8 379.5 985.8 378.5 988.9 377.5 992 376.5 995.1 375.5 998.4 374.5 1001.8 373.5 1005.3 372.5 1008.8 371.5 1012.2 370.5 1015.5 369.5 1018.6 368.5 1021.5 367.5 1024 367 1025.1 366.5 1026.1 365.5 1027.7 364.5 1029.2 363.5 1030.9 363.2 1031.5 362.5 1033.2 361.5 1036.1 360.5 1039.4 359.5 1042.9 358.5 1046.3 357.5 1049.4 356.5 1051.9 356.2 1052.5 355.5 1053.9 354.5 1055.7 353.5 1056.6 353.4 1056.6 352.5 1056.4 351.5 1055.9 350.5 1055.2 349.5 1054.6 348.5 1054.2 348 1054.1 347.5 1054.5 346.5 1057.1 345.5 1065.9 344.5 1077.9 344 1081.1 343.5 1082.5 342.5 1084.9 341.5 1086.8 340.5 1088.2 339.5 1089.4 338.5 1090.5 337.5 1091.6 336.5 1092.8 336.3 1093.1 335.5 1094.3 334.5 1095.7 333.5 1097.2 332.5 1098.6 331.5 1100 330.5 1101.4 329.5 1102.7 328.5 1104 327.5 1105.2 326.5 1106.3 325.5 1107.4 324.5 1108.5 323.5 1109.6 322.5 1110.7 321.5 1111.7 320.5 1112.7 319.5 1113.5 318.5 1114.2 317.5 1114.8 316.5 1115.3 315.5 1115.8 314.5 1116.2 313.5 1116.7 312.5 1117 311.5 1117.4 310.5 1117.7 309.5 1117.9 308.5 1118 307.5 1118.1 306.5 1118.1 305.5 1118 304.5 1117.9 303.5 1117.8 302.5 1117.6 301.5 1117.5 300.5 1117.3 299.5 1117 298.5 1116.8 297.5 1116.5 296.5 1116.2 295.5 1115.8 294.5 1115.4 293.5 1114.8 292.5 1114.2 291.5 1113.6 290.5 1112.9 289.5 1112.2 288.5 1111.5 287.5 1110.7 286.5 1109.9 285.5 1108.9 284.5 1107.9 283.5 1106.8 282.5 1105.7 281.5 1104.5 280.5 1103.2 279.5 1102 278.5 1100.7 277.5 1099.3 276.5 1097.9 275.5 1096.4 274.5 1094.9 273.5 1093.3 272.5 1091.6 271.5 1090 270.5 1088.2 269.5 1086.5 268.5 1084.7 267.5 1083 266.5 1081.2 265.5 1079.3 264.5 1077.4 263.5 1075.5 262.5 1073.5 261.5 1071.5 260.5 1069.4 259.5 1067.2 258.5 1065 257.5 1062.6 256.5 1060.2 255.5 1057.6 254.5 1055 253.5 1052.3 252.5 1049.6 251.5 1047 250.5 1044.3 249.5 1041.6 248.5 1039 247.5 1036.4 246.5 1033.7 245.5 1031.1 244.5 1028.5 243.5 1025.8 242.5 1023.1ZM244.6 1010 245.6 1012.7 246.6 1015.4 247.6 1018 248.6 1020.7 249.6 1023.4 250.6 1026 251.6 1028.6 252.6 1031.3 253.6 1033.9 254.6 1036.5 255.6 1039.2 256.6 1041.9 257.6 1044.5 258.6 1047.2 259.6 1049.9 260.6 1052.5 261.6 1055.1 262.6 1057.5 263.6 1059.9 264.6 1062.1 265.6 1064.3 266.6 1066.4 267.6 1068.4 268.6 1070.4 269.6 1072.3 270.6 1074.2 271.6 1076.1 272.6 1077.9 273.6 1079.6 274.6 1081.4 275.6 1083.1 276.6 1084.9 277.6 1086.5 278.6 1088.2 279.6 1089.8 280.6 1091.3 281.6 1092.8 282.6 1094.2 283.6 1095.6 284.6 1096.9 285.6 1098.1 286.6 1099.4 287.6 1100.6 288.6 1101.7 289.6 1102.8 290.6 1103.8 291.6 1104.8 292.6 1105.6 293.6 1106.4 294.6 1107.1 295.6 1107.8 296.6 1108.5 297.6 1109.1 298.6 1109.7 299.6 1110.3 300.6 1110.7 301.6 1111.1 302.6 1111.4 303.6 1111.7 304.6 1111.9 305.6 1112.2 306.6 1112.4 307.6 1112.5 308.6 1112.7 309.6 1112.8 310.6 1112.9 311.6 1113 312.6 1113 302.4 1113 301.4 1113 300.4 1112.9 299.4 1112.8 298.4 1112.7 297.4 1112.5 296.4 1112.4 295.4 1112.2 294.4 1111.9 293.4 1111.7 292.4 1111.4 291.4 1111.1 290.4 1110.7 289.4 1110.3 288.4 1109.7 287.4 1109.1 286.4 1108.5 285.4 1107.8 284.4 1107.1 283.4 1106.4 282.4 1105.6 281.4 1104.8 280.4 1103.8 279.4 1102.8 278.4 1101.7 277.4 1100.6 276.4 1099.4 275.4 1098.1 274.4 1096.9 273.4 1095.6 272.4 1094.2 271.4 1092.8 270.4 1091.3 269.4 1089.8 268.4 1088.2 267.4 1086.5 266.4 1084.9 265.4 1083.1 264.4 1081.4 263.4 1079.6 262.4 1077.9 261.4 1076.1 260.4 1074.2 259.4 1072.3 258.4 1070.4 257.4 1068.4 256.4 1066.4 255.4 1064.3 254.4 1062.1 253.4 1059.9 252.4 1057.5 251.4 1055.1 250.4 1052.5 249.4 1049.9 248.4 1047.2 247.4 1044.5 246.4 1041.9 245.4 1039.2 244.4 1036.5 243.4 1033.9 242.4 1031.3 241.4 1028.6 240.4 1026 239.4 1023.4 238.4 1020.7 237.4 1018 236.4 1015.4 235.4 1012.7 234.4 1010ZM302.4 1113 303.4 1112.9 304.4 1112.8 305.4 1112.6 306.4 1112.3 307.4 1111.9 308.4 1111.6 309.4 1111.1 310.4 1110.7 311.4 1110.2 312.4 1109.7 313.4 1109.1 314.4 1108.4 315.4 1107.6 316.4 1106.6 317.4 1105.6 318.4 1104.5 319.4 1103.4 320.4 1102.3 321.4 1101.2 322.4 1100.1 323.4 1098.9 324.4 1097.6 325.4 1096.3 326.4 1094.9 327.4 1093.5 328.4 1092.1 329.4 1090.6 330.4 1089.2 331.2 1088 331.4 1087.7 332.4 1086.5 333.4 1085.4 334.4 1084.3 335.4 1083.1 336.4 1081.7 337.4 1079.8 338.4 1077.4 338.9 1076 339.4 1072.8 340.4 1060.8 341.4 1052 342.4 1049.4 342.9 1049 353.1 1049 352.6 1049.4 351.6 1052 350.6 1060.8 349.6 1072.8 349.1 1076 348.6 1077.4 347.6 1079.8 346.6 1081.7 345.6 1083.1 344.6 1084.3 343.6 1085.4 342.6 1086.5 341.6 1087.7 341.4 1088 340.6 1089.2 339.6 1090.6 338.6 1092.1 337.6 1093.5 336.6 1094.9 335.6 1096.3 334.6 1097.6 333.6 1098.9 332.6 1100.1 331.6 1101.2 330.6 1102.3 329.6 1103.4 328.6 1104.5 327.6 1105.6 326.6 1106.6 325.6 1107.6 324.6 1108.4 323.6 1109.1 322.6 1109.7 321.6 1110.2 320.6 1110.7 319.6 1111.1 318.6 1111.6 317.6 1111.9 316.6 1112.3 315.6 1112.6 314.6 1112.8 313.6 1112.9 312.6 1113ZM353.1 1049 353.6 1049.1 354.6 1049.5 355.6 1050.1 356.6 1050.8 357.6 1051.3 358.5 1051.5 348.3 1051.5 347.4 1051.3 346.4 1050.8 345.4 1050.1 344.4 1049.5 343.4 1049.1 342.9 1049ZM348.3 1051.5 348.4 1051.5 349.4 1050.6 350.4 1048.8 351.1 1047.4 351.4 1046.8 352.4 1044.3 353.4 1041.2 354.4 1037.8 355.4 1034.3 356.4 1031 357.4 1028.1 358.1 1026.4 358.4 1025.8 359.4 1024.1 360.4 1022.6 361.4 1021 361.9 1020 362.4 1018.9 363.4 1016.4 364.4 1013.5 365.4 1010.4 366.4 1007.1 367.4 1003.7 368.4 1000.2 369.4 996.7 370.4 993.3 371.4 990 372.4 986.9 373.4 983.8 374.4 980.7 375.4 977.7 376.4 974.6 377.4 971.5 378.4 968.3 379.4 965 380.4 961.7 380.9 960 381.4 958.3 382.4 954.8 383.4 951.2 384.4 947.5 385.4 943.8 386.4 940.1 387.4 936.3 388.4 932.4 389.4 928.4 390.4 924.4 391.4 920.3 392.4 916.1 392.9 914 393.4 911.9 394.4 907.6 395.4 903.2 396.4 898.7 397.4 894.2 398.4 889.6 399.4 884.9 400.4 880.2 401.4 875.4 402.4 870.6 403.4 865.7 404.4 860.8 405.4 855.9 406.4 850.9 407.4 845.8 408.4 840.8 409.4 835.7 410.4 830.6 411.4 825.4 412.4 820.3 413.4 815.1 414.4 809.9 415.4 804.7 416.3 800 416.4 799.5 417.4 794.2 418.4 788.8 419.4 783.4 420.4 777.9 421.4 772.3 422.4 766.7 423.4 761.1 424.4 755.5 425.4 750 426.4 744.4 427.2 740 427.4 738.9 428.4 733.4 429.4 727.8 430.4 722.1 431.4 716.5 432.4 710.9 433.4 705.3 434.4 699.8 435.4 694.4 436.4 689.1 437.4 684 438.2 680 438.4 679 439.4 674.2 440.4 669.4 441.4 664.7 442.4 660.1 443.4 655.6 444.4 651.1 445.4 646.7 446.4 642.4 447.4 638.1 448.4 633.9 449.4 629.7 450.4 625.6 451.4 621.6 451.8 620 452.4 617.6 453.4 613.6 454.4 609.7 455.4 605.8 456.4 602 457.4 598.3 458.4 594.9 459.4 591.6 459.9 590 460.4 588.5 461.4 585.4 462.4 582.4 463.4 579.6 464.4 576.8 465.4 574.3 466.4 572.1 467.4 570.2 467.5 570 468.4 568.5 469.4 566.8 470.4 565.4 471.4 564.3 472.4 563.5 473.4 563 474.4 562.5 475.4 562.2 476.4 562 476.9 562 487.1 562 486.6 562 485.6 562.2 484.6 562.5 483.6 563 482.6 563.5 481.6 564.3 480.6 565.4 479.6 566.8 478.6 568.5 477.7 570 477.6 570.2 476.6 572.1 475.6 574.3 474.6 576.8 473.6 579.6 472.6 582.4 471.6 585.4 470.6 588.5 470.1 590 469.6 591.6 468.6 594.9 467.6 598.3 466.6 602 465.6 605.8 464.6 609.7 463.6 613.6 462.6 617.6 462 620 461.6 621.6 460.6 625.6 459.6 629.7 458.6 633.9 457.6 638.1 456.6 642.4 455.6 646.7 454.6 651.1 453.6 655.6 452.6 660.1 451.6 664.7 450.6 669.4 449.6 674.2 448.6 679 448.4 680 447.6 684 446.6 689.1 445.6 694.4 444.6 699.8 443.6 705.3 442.6 710.9 441.6 716.5 440.6 722.1 439.6 727.8 438.6 733.4 437.6 738.9 437.4 740 436.6 744.4 435.6 750 434.6 755.5 433.6 761.1 432.6 766.7 431.6 772.3 430.6 777.9 429.6 783.4 428.6 788.8 427.6 794.2 426.6 799.5 426.5 800 425.6 804.7 424.6 809.9 423.6 815.1 422.6 820.3 421.6 825.4 420.6 830.6 419.6 835.7 418.6 840.8 417.6 845.8 416.6 850.9 415.6 855.9 414.6 860.8 413.6 865.7 412.6 870.6 411.6 875.4 410.6 880.2 409.6 884.9 408.6 889.6 407.6 894.2 406.6 898.7 405.6 903.2 404.6 907.6 403.6 911.9 403.1 914 402.6 916.1 401.6 920.3 400.6 924.4 399.6 928.4 398.6 932.4 397.6 936.3 396.6 940.1 395.6 943.8 394.6 947.5 393.6 951.2 392.6 954.8 391.6 958.3 391.1 960 390.6 961.7 389.6 965 388.6 968.3 387.6 971.5 386.6 974.6 385.6 977.7 384.6 980.7 383.6 983.8 382.6 986.9 381.6 990 380.6 993.3 379.6 996.7 378.6 1000.2 377.6 1003.7 376.6 1007.1 375.6 1010.4 374.6 1013.5 373.6 1016.4 372.6 1018.9 372.1 1020 371.6 1021 370.6 1022.6 369.6 1024.1 368.6 1025.8 368.3 1026.4 367.6 1028.1 366.6 1031 365.6 1034.3 364.6 1037.8 363.6 1041.2 362.6 1044.3 361.6 1046.8 361.3 1047.4 360.6 1048.8 359.6 1050.6 358.6 1051.5 358.5 1051.5ZM487.1 562 487.6 562 488.6 562.2 489.6 562.5 490.6 563 491.6 563.5 492.6 564.4 493.6 565.8 494.6 567.6 495.6 569.6 495.8 570 496.6 571.8 497.6 574.5 498.6 577.7 499.6 581.1 500.6 584.6 501.6 588.2 502.1 590 502.6 591.8 503.6 595.4 504.6 599.1 505.6 602.9 506.6 606.9 507.6 611 508.6 615.2 509.6 619.6 509.7 620 510.6 624.1 511.6 628.8 512.6 633.6 513.6 638.6 514.6 643.7 515.6 648.9 516.6 654.3 517.6 659.7 518.6 665.2 519.6 670.9 520.6 676.6 521.2 680 521.6 682.3 522.6 688.3 523.6 694.5 524.6 700.9 525.6 707.3 526.6 713.9 527.6 720.5 528.6 727.1 529.6 733.6 530.6 740 531.6 746.3 532.6 752.6 533.6 758.8 534.6 765 535.6 771.2 536.6 777.5 537.6 783.8 538.6 790.2 539.6 796.7 540.1 800 540.6 803.3 541.6 810.1 542.6 817 543.6 823.9 544.6 830.9 545.6 838 546.6 845.2 547.6 852.3 548.6 859.5 549.6 866.6 550.6 873.7 551.6 880.8 552.6 887.8 553.6 894.7 554.6 901.6 555.6 908.6 556.6 915.7 557.6 922.7 558.6 929.7 559.6 936.5 560.6 943.2 561.6 949.7 562.6 955.9 563.3 960 563.6 961.7 564.6 967.4 565.6 972.8 566.6 978.1 567.6 983.3 568.6 988.4 569.6 993.3 570.6 998.2 571.6 1003 572.6 1007.7 573.6 1012.5 574.6 1017.2 575.6 1021.9 576.6 1026.7 577.6 1031.4 578.6 1036.2 579.6 1041 580.6 1045.8 581.6 1050.6 582.6 1055.3 583.6 1060 584.6 1064.6 585.6 1069.1 586.6 1073.5 587.6 1077.9 588.6 1082.1 589.6 1086.3 590.6 1090.3 591.6 1094.3 592.6 1098.2 593.6 1102.1 594.6 1105.9 595.6 1109.7 596.6 1113.4 597.6 1117.1 598.6 1120.7 599.6 1124.3 600.6 1127.8 601.6 1131.3 602.6 1134.7 603.6 1138 604.6 1141.3 605.6 1144.5 606.6 1147.6 607.6 1150.8 608.6 1153.9 609.6 1157 610.6 1160.1 611.6 1163.1 612.6 1166.1 613.6 1169 614.6 1171.8 615.6 1174.6 616.6 1177.3 617.6 1179.9 618.6 1182.4 619.6 1184.9 620.6 1187.2 621.6 1189.5 622.6 1191.7 623.6 1193.9 624.6 1196 625.6 1198.1 626.6 1200.1 627.6 1202.1 628.6 1204.1 629.6 1206 630.6 1207.9 631.6 1209.8 632.6 1211.6 633.6 1213.5 634.6 1215.3 635.6 1217.1 636.6 1218.9 637.6 1220.6 638.6 1222.4 639.6 1224.1 640.6 1225.9 641.6 1227.6 642.6 1229.3 643.6 1231 644.6 1232.7 645.6 1234.4 646.6 1236.1 647.6 1237.7 648.6 1239.4 649.6 1241 650.6 1242.6 651.6 1244.3 652.6 1245.9 653.6 1247.5 654.6 1249 655.6 1250.6 656.6 1252.2 657.6 1253.7 658.6 1255.2 659.6 1256.8 660.6 1258.3 661.6 1259.8 662.6 1261.2 663.6 1262.7 664.6 1264.1 665.6 1265.6 666.6 1267 667.6 1268.3 668.6 1269.7 669.6 1271 670.6 1272.3 671.6 1273.6 672.6 1274.9 673.6 1276.1 674.6 1277.4 675.6 1278.6 676.6 1279.7 677.6 1280.9 678.6 1282 679.6 1283.1 680.6 1284.2 681.6 1285.3 682.6 1286.3 683.6 1287.4 684.6 1288.4 685.6 1289.4 686.6 1290.4 687.6 1291.4 688.6 1292.3 689.6 1293.3 690.6 1294.2 691.6 1295.1 692.6 1296 693.6 1296.9 694.6 1297.8 695.6 1298.7 696.6 1299.6 697.6 1300.5 698.6 1301.3 699.6 1302.2 700.6 1303 701.6 1303.8 702.6 1304.6 703.6 1305.5 704.6 1306.3 705.6 1307.1 706.6 1307.9 707.6 1308.6 708.6 1309.4 709.6 1310.2 710.6 1311 711.6 1311.7 712.6 1312.5 713.6 1313.2 714.6 1313.9 715.6 1314.7 716.6 1315.4 717.6 1316.1 718.6 1316.8 719.6 1317.5 720.6 1318.2 721.6 1318.9 722.6 1319.6 723.6 1320.3 724.6 1320.9 725.6 1321.6 726.6 1322.3 727.6 1322.9 728.6 1323.6 729.6 1324.2 730.6 1324.9 731.6 1325.5 732.6 1326.1 733.6 1326.7 734.6 1327.3 735.6 1327.9 736.6 1328.5 737.6 1329.1 738.6 1329.7 739.6 1330.3 740.6 1330.8 741.6 1331.4 742.6 1332 743.6 1332.5 744.6 1333 745.6 1333.6 746.6 1334.1 747.6 1334.6 748.6 1335.1 749.6 1335.6 750.6 1336 751.6 1336.5 752.6 1337 753.6 1337.5 754.6 1337.9 755.6 1338.3 756.6 1338.8 757.6 1339.2 758.6 1339.6 759.6 1340.1 760.6 1340.5 761.6 1340.9 762.6 1341.3 763.6 1341.7 764.6 1342.1 765.6 1342.5 766.6 1342.9 767.6 1343.3 768.6 1343.7 769.6 1344 770.6 1344.4 771.6 1344.8 772.6 1345.2 773.6 1345.5 774.6 1345.9 775.6 1346.3 776.6 1346.6 777.6 1347 778.6 1347.3 779.6 1347.7 780.6 1348 781.6 1348.4 782.6 1348.7 783.6 1349 784.6 1349.4 785.6 1349.7 786.6 1350.1 787.6 1350.4 788.6 1350.7 789.6 1351.1 790.6 1351.4 791.6 1351.7 792.6 1352 793.6 1352.4 794.6 1352.7 795.6 1353 796.6 1353.3 797.6 1353.6 798.6 1354 799.6 1354.3 800.6 1354.6 801.6 1354.9 802.6 1355.2 803.6 1355.5 804.6 1355.8 794.4 1355.8 793.4 1355.5 792.4 1355.2 791.4 1354.9 790.4 1354.6 789.4 1354.3 788.4 1354 787.4 1353.6 786.4 1353.3 785.4 1353 784.4 1352.7 783.4 1352.4 782.4 1352 781.4 1351.7 780.4 1351.4 779.4 1351.1 778.4 1350.7 777.4 1350.4 776.4 1350.1 775.4 1349.7 774.4 1349.4 773.4 1349 772.4 1348.7 771.4 1348.4 770.4 1348 769.4 1347.7 768.4 1347.3 767.4 1347 766.4 1346.6 765.4 1346.3 764.4 1345.9 763.4 1345.5 762.4 1345.2 761.4 1344.8 760.4 1344.4 759.4 1344 758.4 1343.7 757.4 1343.3 756.4 1342.9 755.4 1342.5 754.4 1342.1 753.4 1341.7 752.4 1341.3 751.4 1340.9 750.4 1340.5 749.4 1340.1 748.4 1339.6 747.4 1339.2 746.4 1338.8 745.4 1338.3 744.4 1337.9 743.4 1337.5 742.4 1337 741.4 1336.5 740.4 1336 739.4 1335.6 738.4 1335.1 737.4 1334.6 736.4 1334.1 735.4 1333.6 734.4 1333 733.4 1332.5 732.4 1332 731.4 1331.4 730.4 1330.8 729.4 1330.3 728.4 1329.7 727.4 1329.1 726.4 1328.5 725.4 1327.9 724.4 1327.3 723.4 1326.7 722.4 1326.1 721.4 1325.5 720.4 1324.9 719.4 1324.2 718.4 1323.6 717.4 1322.9 716.4 1322.3 715.4 1321.6 714.4 1320.9 713.4 1320.3 712.4 1319.6 711.4 1318.9 710.4 1318.2 709.4 1317.5 708.4 1316.8 707.4 1316.1 706.4 1315.4 705.4 1314.7 704.4 1313.9 703.4 1313.2 702.4 1312.5 701.4 1311.7 700.4 1311 699.4 1310.2 698.4 1309.4 697.4 1308.6 696.4 1307.9 695.4 1307.1 694.4 1306.3 693.4 1305.5 692.4 1304.6 691.4 1303.8 690.4 1303 689.4 1302.2 688.4 1301.3 687.4 1300.5 686.4 1299.6 685.4 1298.7 684.4 1297.8 683.4 1296.9 682.4 1296 681.4 1295.1 680.4 1294.2 679.4 1293.3 678.4 1292.3 677.4 1291.4 676.4 1290.4 675.4 1289.4 674.4 1288.4 673.4 1287.4 672.4 1286.3 671.4 1285.3 670.4 1284.2 669.4 1283.1 668.4 1282 667.4 1280.9 666.4 1279.7 665.4 1278.6 664.4 1277.4 663.4 1276.1 662.4 1274.9 661.4 1273.6 660.4 1272.3 659.4 1271 658.4 1269.7 657.4 1268.3 656.4 1267 655.4 1265.6 654.4 1264.1 653.4 1262.7 652.4 1261.2 651.4 1259.8 650.4 1258.3 649.4 1256.8 648.4 1255.2 647.4 1253.7 646.4 1252.2 645.4 1250.6 644.4 1249 643.4 1247.5 642.4 1245.9 641.4 1244.3 640.4 1242.6 639.4 1241 638.4 1239.4 637.4 1237.7 636.4 1236.1 635.4 1234.4 634.4 1232.7 633.4 1231 632.4 1229.3 631.4 1227.6 630.4 1225.9 629.4 1224.1 628.4 1222.4 627.4 1220.6 626.4 1218.9 625.4 1217.1 624.4 1215.3 623.4 1213.5 622.4 1211.6 621.4 1209.8 620.4 1207.9 619.4 1206 618.4 1204.1 617.4 1202.1 616.4 1200.1 615.4 1198.1 614.4 1196 613.4 1193.9 612.4 1191.7 611.4 1189.5 610.4 1187.2 609.4 1184.9 608.4 1182.4 607.4 1179.9 606.4 1177.3 605.4 1174.6 604.4 1171.8 603.4 1169 602.4 1166.1 601.4 1163.1 600.4 1160.1 599.4 1157 598.4 1153.9 597.4 1150.8 596.4 1147.6 595.4 1144.5 594.4 1141.3 593.4 1138 592.4 1134.7 591.4 1131.3 590.4 1127.8 589.4 1124.3 588.4 1120.7 587.4 1117.1 586.4 1113.4 585.4 1109.7 584.4 1105.9 583.4 1102.1 582.4 1098.2 581.4 1094.3 580.4 1090.3 579.4 1086.3 578.4 1082.1 577.4 1077.9 576.4 1073.5 575.4 1069.1 574.4 1064.6 573.4 1060 572.4 1055.3 571.4 1050.6 570.4 1045.8 569.4 1041 568.4 1036.2 567.4 1031.4 566.4 1026.7 565.4 1021.9 564.4 1017.2 563.4 1012.5 562.4 1007.7 561.4 1003 560.4 998.2 559.4 993.3 558.4 988.4 557.4 983.3 556.4 978.1 555.4 972.8 554.4 967.4 553.4 961.7 553.1 960 552.4 955.9 551.4 949.7 550.4 943.2 549.4 936.5 548.4 929.7 547.4 922.7 546.4 915.7 545.4 908.6 544.4 901.6 543.4 894.7 542.4 887.8 541.4 880.8 540.4 873.7 539.4 866.6 538.4 859.5 537.4 852.3 536.4 845.2 535.4 838 534.4 830.9 533.4 823.9 532.4 817 531.4 810.1 530.4 803.3 529.9 800 529.4 796.7 528.4 790.2 527.4 783.8 526.4 777.5 525.4 771.2 524.4 765 523.4 758.8 522.4 752.6 521.4 746.3 520.4 740 519.4 733.6 518.4 727.1 517.4 720.5 516.4 713.9 515.4 707.3 514.4 700.9 513.4 694.5 512.4 688.3 511.4 682.3 511 680 510.4 676.6 509.4 670.9 508.4 665.2 507.4 659.7 506.4 654.3 505.4 648.9 504.4 643.7 503.4 638.6 502.4 633.6 501.4 628.8 500.4 624.1 499.5 620 499.4 619.6 498.4 615.2 497.4 611 496.4 606.9 495.4 602.9 494.4 599.1 493.4 595.4 492.4 591.8 491.9 590 491.4 588.2 490.4 584.6 489.4 581.1 488.4 577.7 487.4 574.5 486.4 571.8 485.6 570 485.4 569.6 484.4 567.6 483.4 565.8 482.4 564.4 481.4 563.5 480.4 563 479.4 562.5 478.4 562.2 477.4 562 476.9 562Z"/>
<path fill="none" stroke="#0000ff" stroke-width="8.9" stroke-linejoin="round" d="M241.5 1015.4 242.5 1018 243.5 1020.7 244.5 1023.4 245.5 1026 246.5 1028.6 247.5 1031.3 248.5 1033.9 249.5 1036.5 250.5 1039.2 251.5 1041.9 252.5 1044.5 253.5 1047.2 254.5 1049.9 255.5 1052.5 256.5 1055.1 257.5 1057.5 258.5 1059.9 259.5 1062.1 260.5 1064.3 261.5 1066.4 262.5 1068.4 263.5 1070.4 264.5 1072.3 265.5 1074.2 266.5 1076.1 267.5 1077.9 268.5 1079.6 269.5 1081.4 270.5 1083.1 271.5 1084.9 272.5 1086.5 273.5 1088.2 274.5 1089.8 275.5 1091.3 276.5 1092.8 277.5 1094.2 278.5 1095.6 279.5 1096.9 280.5 1098.1 281.5 1099.4 282.5 1100.6 283.5 1101.7 284.5 1102.8 285.5 1103.8 286.5 1104.8 287.5 1105.6 288.5 1106.4 289.5 1107.1 290.5 1107.8 291.5 1108.5 292.5 1109.1 293.5 1109.7 294.5 1110.3 295.5 1110.7 296.5 1111.1 297.5 1111.4 298.5 1111.7 299.5 1111.9 300.5 1112.2 301.5 1112.4 302.5 1112.5 303.5 1112.7 304.5 1112.8 305.5 1112.9 306.5 1113 307.5 1113 308.5 1112.9 309.5 1112.8 310.5 1112.6 311.5 1112.3 312.5 1111.9 313.5 1111.6 314.5 1111.1 315.5 1110.7 316.5 1110.2 317.5 1109.7 318.5 1109.1 319.5 1108.4 320.5 1107.6 321.5 1106.6 322.5 1105.6 323.5 1104.5 324.5 1103.4 325.5 1102.3 326.5 1101.2 327.5 1100.1 328.5 1098.9 329.5 1097.6 330.5 1096.3 331.5 1094.9 332.5 1093.5 333.5 1092.1 334.5 1090.6 335.5 1089.2 336.3 1088 336.5 1087.7 337.5 1086.5 338.5 1085.4 339.5 1084.3 340.5 1083.1 341.5 1081.7 342.5 1079.8 343.5 1077.4 344 1076 344.5 1072.8 345.5 1060.8 346.5 1052 347.5 1049.4 348 1049 348.5 1049.1 349.5 1049.5 350.5 1050.1 351.5 1050.8 352.5 1051.3 353.4 1051.5 353.5 1051.5 354.5 1050.6 355.5 1048.8 356.2 1047.4 356.5 1046.8 357.5 1044.3 358.5 1041.2 359.5 1037.8 360.5 1034.3 361.5 1031 362.5 1028.1 363.2 1026.4 363.5 1025.8 364.5 1024.1 365.5 1022.6 366.5 1021 367 1020 367.5 1018.9 368.5 1016.4 369.5 1013.5 370.5 1010.4 371.5 1007.1 372.5 1003.7 373.5 1000.2 374.5 996.7 375.5 993.3 376.5 990 377.5 986.9 378.5 983.8 379.5 980.7 380.5 977.7 381.5 974.6 382.5 971.5 383.5 968.3 384.5 965 385.5 961.7 386 960 386.5 958.3 387.5 954.8 388.5 951.2 389.5 947.5 390.5 943.8 391.5 940.1 392.5 936.3 393.5 932.4 394.5 928.4 395.5 924.4 396.5 920.3 397.5 916.1 398 914 398.5 911.9 399.5 907.6 400.5 903.2 401.5 898.7 402.5 894.2 403.5 889.6 404.5 884.9 405.5 880.2 406.5 875.4 407.5 870.6 408.5 865.7 409.5 860.8 410.5 855.9 411.5 850.9 412.5 845.8 413.5 840.8 414.5 835.7 415.5 830.6 416.5 825.4 417.5 820.3 418.5 815.1 419.5 809.9 420.5 804.7 421.4 800 421.5 799.5 422.5 794.2 423.5 788.8 424.5 783.4 425.5 777.9 426.5 772.3 427.5 766.7 428.5 761.1 429.5 755.5 430.5 750 431.5 744.4 432.3 740 432.5 738.9 433.5 733.4 434.5 727.8 435.5 722.1 436.5 716.5 437.5 710.9 438.5 705.3 439.5 699.8 440.5 694.4 441.5 689.1 442.5 684 443.3 680 443.5 679 444.5 674.2 445.5 669.4 446.5 664.7 447.5 660.1 448.5 655.6 449.5 651.1 450.5 646.7 451.5 642.4 452.5 638.1 453.5 633.9 454.5 629.7 455.5 625.6 456.5 621.6 456.9 620 457.5 617.6 458.5 613.6 459.5 609.7 460.5 605.8 461.5 602 462.5 598.3 463.5 594.9 464.5 591.6 465 590 465.5 588.5 466.5 585.4 467.5 582.4 468.5 579.6 469.5 576.8 470.5 574.3 471.5 572.1 472.5 570.2 472.6 570 473.5 568.5 474.5 566.8 475.5 565.4 476.5 564.3 477.5 563.5 478.5 563 479.5 562.5 480.5 562.2 481.5 562 482 562 482.5 562 483.5 562.2 484.5 562.5 485.5 563 486.5 563.5 487.5 564.4 488.5 565.8 489.5 567.6 490.5 569.6 490.7 570 491.5 571.8 492.5 574.5 493.5 577.7 494.5 581.1 495.5 584.6 496.5 588.2 497 590 497.5 591.8 498.5 595.4 499.5 599.1 500.5 602.9 501.5 606.9 502.5 611 503.5 615.2 504.5 619.6 504.6 620 505.5 624.1 506.5 628.8 507.5 633.6 508.5 638.6 509.5 643.7 510.5 648.9 511.5 654.3 512.5 659.7 513.5 665.2 514.5 670.9 515.5 676.6 516.1 680 516.5 682.3 517.5 688.3 518.5 694.5 519.5 700.9 520.5 707.3 521.5 713.9 522.5 720.5 523.5 727.1 524.5 733.6 525.5 740 526.5 746.3 527.5 752.6 528.5 758.8 529.5 765 530.5 771.2 531.5 777.5 532.5 783.8 533.5 790.2 534.5 796.7 535 800 535.5 803.3 536.5 810.1 537.5 817 538.5 823.9 539.5 830.9 540.5 838 541.5 845.2 542.5 852.3 543.5 859.5 544.5 866.6 545.5 873.7 546.5 880.8 547.5 887.8 548.5 894.7 549.5 901.6 550.5 908.6 551.5 915.7 552.5 922.7 553.5 929.7 554.5 936.5 555.5 943.2 556.5 949.7 557.5 955.9 558.2 960 558.5 961.7 559.5 967.4 560.5 972.8 561.5 978.1 562.5 983.3 563.5 988.4 564.5 993.3 565.5 998.2 566.5 1003 567.5 1007.7 568.5 1012.5 569.5 1017.2 570.5 1021.9 571.5 1026.7 572.5 1031.4 573.5 1036.2 574.5 1041 575.5 1045.8 576.5 1050.6 577.5 1055.3 578.5 1060 579.5 1064.6 580.5 1069.1 581.5 1073.5 582.5 1077.9 583.5 1082.1 584.5 1086.3 585.5 1090.3 586.5 1094.3 587.5 1098.2 588.5 1102.1 589.5 1105.9 590.5 1109.7 591.5 1113.4 592.5 1117.1 593.5 1120.7 594.5 1124.3 595.5 1127.8 596.5 1131.3 597.5 1134.7 598.5 1138 599.5 1141.3 600.5 1144.5 601.5 1147.6 602.5 1150.8 603.5 1153.9 604.5 1157 605.5 1160.1 606.5 1163.1 607.5 1166.1 608.5 1169 609.5 1171.8 610.5 1174.6 611.5 1177.3 612.5 1179.9 613.5 1182.4 614.5 1184.9 615.5 1187.2 616.5 1189.5 617.5 1191.7 618.5 1193.9 619.5 1196 620.5 1198.1 621.5 1200.1 622.5 1202.1 623.5 1204.1 624.5 1206 625.5 1207.9 626.5 1209.8 627.5 1211.6 628.5 1213.5 629.5 1215.3 630.5 1217.1 631.5 1218.9 632.5 1220.6 633.5 1222.4 634.5 1224.1 635.5 1225.9 636.5 1227.6 637.5 1229.3 638.5 1231 639.5 1232.7 640.5 1234.4 641.5 1236.1 642.5 1237.7 643.5 1239.4 644.5 1241 645.5 1242.6 646.5 1244.3 647.5 1245.9 648.5 1247.5 649.5 1249 650.5 1250.6 651.5 1252.2 652.5 1253.7 653.5 1255.2 654.5 1256.8 655.5 1258.3 656.5 1259.8 657.5 1261.2 658.5 1262.7 659.5 1264.1 660.5 1265.6 661.5 1267 662.5 1268.3 663.5 1269.7 664.5 1271 665.5 1272.3 666.5 1273.6 667.5 1274.9 668.5 1276.1 669.5 1277.4 670.5 1278.6 671.5 1279.7 672.5 1280.9 673.5 1282 674.5 1283.1 675.5 1284.2 676.5 1285.3 677.5 1286.3 678.5 1287.4 679.5 1288.4 680.5 1289.4 681.5 1290.4 682.5 1291.4 683.5 1292.3 684.5 1293.3 685.5 1294.2 686.5 1295.1 687.5 1296 688.5 1296.9 689.5 1297.8 690.5 1298.7 691.5 1299.6 692.5 1300.5 693.5 1301.3 694.5 1302.2 695.5 1303 696.5 1303.8 697.5 1304.6 698.5 1305.5 699.5 1306.3 700.5 1307.1 701.5 1307.9 702.5 1308.6 703.5 1309.4 704.5 1310.2 705.5 1311 706.5 1311.7 707.5 1312.5 708.5 1313.2 709.5 1313.9 710.5 1314.7 711.5 1315.4 712.5 1316.1 713.5 1316.8 714.5 1317.5 715.5 1318.2 716.5 1318.9 717.5 1319.6 718.5 1320.3 719.5 1320.9 720.5 1321.6 721.5 1322.3 722.5 1322.9 723.5 1323.6 724.5 1324.2 725.5 1324.9 726.5 1325.5 727.5 1326.1 728.5 1326.7 729.5 1327.3 730.5 1327.9 731.5 1328.5 732.5 1329.1 733.5 1329.7 734.5 1330.3 735.5 1330.8 736.5 1331.4 737.5 1332 738.5 1332.5 739.5 1333 740.5 1333.6 741.5 1334.1 742.5 1334.6 743.5 1335.1 744.5 1335.6 745.5 1336 746.5 1336.5 747.5 1337 748.5 1337.5 749.5 1337.9 750.5 1338.3 751.5 1338.8 752.5 1339.2 753.5 1339.6 754.5 1340.1 755.5 1340.5 756.5 1340.9 757.5 1341.3 758.5 1341.7 759.5 1342.1 760.5 1342.5 761.5 1342.9 762.5 1343.3 763.5 1343.7 764.5 1344 765.5 1344.4 766.5 1344.8 767.5 1345.2 768.5 1345.5 769.5 1345.9 770.5 1346.3 771.5 1346.6 772.5 1347 773.5 1347.3 774.5 1347.7 775.5 1348 776.5 1348.4 777.5 1348.7 778.5 1349 779.5 1349.4 780.5 1349.7 784.5 1351.1 788.5 1352.4 792.5 1353.6 796.5 1354.9 800.5 1356.1 804.5 1357.4 808.5 1358.6 812.5 1359.8 816.5 1361 820.5 1362.2 824.5 1363.4 828.5 1364.5 832.5 1365.7 836.5 1366.8 840.5 1368 844.5 1369.1 848.5 1370.2 852.5 1371.3 856.5 1372.4 860.5 1373.4 864.5 1374.5 868.5 1375.5 872.5 1376.5 876.5 1377.4 880.5 1378.4 884.5 1379.3 888.5 1380.2 892.5 1381.1 896.5 1382 900.5 1382.8 904.5 1383.6 908.5 1384.5 912.5 1385.2 916.5 1386 920.5 1386.8 924.5 1387.6 928.5 1388.3 932.5 1389.1 936.5 1389.8 940.5 1390.6 944.5 1391.3 948.5 1392 952.5 1392.7 956.5 1393.4 960.5 1394.1 964.5 1394.7 968.5 1395.4 972.5 1396 976.5 1396.6 980.5 1397.1 984.5 1397.7 988.5 1398.2 992.5 1398.7 996.5 1399.1 1000.5 1399.6 1004.5 1400 1008.5 1400.4 1012.5 1400.9 1016.5 1401.3 1020.5 1401.7 1024.5 1402.1 1028.5 1402.5 1032.5 1403 1036.5 1403.4 1040.5 1403.8 1044.5 1404.2 1048.5 1404.7 1052.5 1405.1 1056.5 1405.6 1060.5 1406 1064.5 1406.5 1068.5 1407 1072.5 1407.4 1076.5 1407.9 1080.5 1408.4 1084.5 1408.9 1088.5 1409.3 1092.5 1409.8 1096.5 1410.3 1100.5 1410.7 1104.5 1411.2 1108.5 1411.6 1112.5 1412 1116.5 1412.4 1120.5 1412.9 1124.5 1413.3 1128.5 1413.6 1132.5 1414 1136.5 1414.4 1140.5 1414.8 1144.5 1415.1 1148.5 1415.4 1152.5 1415.8 1156.5 1416.1 1160.5 1416.4 1164.5 1416.8 1168.5 1417.1 1172.5 1417.4 1176.5 1417.7 1180.5 1418 1184.5 1418.3 1188.5 1418.6 1192.5 1418.8 1196.5 1419.1 1200.5 1419.4 1204.5 1419.7 1208.5 1420 1212.5 1420.3 1216.5 1420.5 1220.5 1420.8 1224.5 1421.1 1228.5 1421.4 1232.5 1421.7 1236.5 1422 1240.5 1422.3 1244.5 1422.5 1248.5 1422.8 1252.5 1423.1 1256.5 1423.4 1260.5 1423.7 1264.5 1424 1268.5 1424.2 1272.5 1424.5 1276.5 1424.8 1280.5 1425.1 1284.5 1425.3 1288.5 1425.6 1292.5 1425.8 1296.5 1426.1 1300.5 1426.3 1304.5 1426.6 1308.5 1426.8 1312.5 1427.1 1316.5 1427.3 1320.5 1427.5 1324.5 1427.7 1328.5 1428 1332.5 1428.2 1336.5 1428.4 1340.5 1428.6 1343.5 1428.8"/>
<path fill="#00ff00" d="M242.5 1064.5 243.5 1067.6 244.5 1070.7 245.5 1073.7 246.5 1076.7 247.5 1079.7 248.5 1082.6 249.5 1085.5 250.5 1088.3 251.5 1091.1 252.5 1093.9 253.5 1096.7 254.5 1099.4 255.5 1102 256.5 1104.6 257.5 1107.2 258.5 1109.7 259.5 1112.1 260.5 1114.5 261.5 1116.9 262.5 1119.2 263.5 1121.5 264.5 1123.8 265.5 1125.9 266.5 1128 267.5 1130.1 268.5 1132 269.5 1133.9 270.5 1135.8 271.5 1137.6 272.5 1139.4 273.5 1141.1 274.5 1142.7 275.5 1144.3 276.5 1145.8 277.5 1147.2 278.5 1148.4 279.5 1149.7 280.5 1150.9 281.5 1152 282.5 1153.1 283.5 1154.2 284.5 1155.1 285.5 1156 286.5 1156.9 287.5 1157.6 288.5 1158.2 289.5 1158.8 290.5 1159.5 291.5 1160.1 292.5 1160.6 293.5 1161.1 294.5 1161.5 295.5 1161.9 296.5 1162.1 297.5 1162.2 298.5 1162.2 299.5 1162.1 300.5 1161.9 301.5 1161.7 302.5 1161.5 303.5 1161.2 304.5 1160.9 305.5 1160.6 306.5 1160.2 307.5 1159.8 308.5 1159.3 309.5 1158.7 310.5 1157.9 311.5 1157 312.5 1156 313.5 1155 314.5 1154 315.5 1152.9 316.5 1151.9 317.5 1150.9 318.5 1150 319.5 1149 320.5 1148.1 321.5 1147.1 322.5 1146.1 323.5 1145 324.5 1143.8 325.5 1142.6 326.5 1141.2 327.5 1139.7 328.5 1138 329.5 1136.1 330.5 1134.1 331.5 1131.9 332.5 1129.6 333.5 1127.2 334.5 1124.7 335.5 1122.1 336.3 1119.9 336.5 1119.3 337.5 1116 338.5 1112.3 339.5 1108.8 340.2 1106.9 340.5 1106.2 341.5 1103.7 342.5 1101.7 343.5 1100.7 343.6 1100.7 344.5 1102 345.5 1105.6 346.5 1110.1 347.5 1113.8 348.5 1115.4 349.5 1114.5 350.5 1112.3 351.5 1109.3 352.5 1106.3 353 1104.9 353.5 1103.6 354.5 1100.8 355.5 1097.9 356.2 1095.7 356.5 1094.7 357.5 1091.2 358.5 1087.4 359.5 1083.4 360.5 1079.2 361.5 1074.9 362.5 1070.7 363.5 1066.4 364.5 1062.3 365.5 1058.4 366 1056.5 366.5 1054.7 367.5 1051.1 368.5 1047.7 369.5 1044.5 370.5 1041.2 371.5 1038 372.5 1034.8 373.5 1031.6 374.5 1028.2 375.5 1024.7 376.5 1021.1 377.5 1017.3 378.1 1014.9 378.5 1013.2 379.5 1008.9 380.5 1004.3 381.5 999.5 382.5 994.5 383.5 989.4 384.5 984.2 385.5 979 386.3 974.9 386.5 973.9 387.5 968.7 388.5 963.4 389.5 958.1 390.5 952.8 391.5 947.4 392.5 941.9 393.5 936.4 394.5 930.8 395.5 925.2 396.5 919.6 397.5 913.9 398.5 908.2 399.5 902.4 400.5 896.6 400.8 894.9 401.5 890.8 402.5 884.9 403.5 878.9 404.5 872.9 405.5 866.9 406.5 860.8 407.5 854.6 408.5 848.4 409.5 842.2 410.5 835.9 411.5 829.6 412.5 823.3 413.5 817 414.5 810.7 415.5 804.4 416.5 798.1 417 794.9 417.5 791.7 418.5 785.5 419.5 779.2 420.5 772.9 421.5 766.6 422.5 760.3 423.5 753.8 424.5 747.2 425.5 740.4 426.3 734.9 426.5 733.5 427.5 726.2 428.5 718.6 429.5 710.8 430.5 702.9 431.5 695.1 432.5 687.4 433.5 679.9 434.2 674.9 434.5 672.8 435.5 665.9 436.5 659.2 437.5 652.6 438.5 646.1 439.5 639.7 440.5 633.4 441.5 627.2 442.5 621 443.5 614.9 444.5 608.8 445.5 602.8 446.5 596.9 447.5 591.1 448.5 585.3 449.5 579.6 450.5 573.9 451.5 568.3 452.1 564.9 452.5 562.6 453.5 556.9 454.5 551.1 455.5 545.3 456.5 539.7 457.5 534.3 458.5 529.3 459.5 524.9 460.5 520.8 461.5 516.9 462.5 513.2 463.5 509.7 464.5 506.4 465.5 503.2 466.5 500.2 467.5 497.5 468.5 494.9 469.5 492.5 470.5 490.3 471.5 488.2 472.5 486.2 473.5 484.4 474.5 482.6 475.5 480.9 476.5 479.3 477.5 477.8 478.5 476.4 479.5 475.1 480.4 474 480.5 473.9 480.7 473.8 481 474 481.5 474.6 481.9 475.1 482.5 475.8 483.5 476.8 484.5 477.7 485.5 478.7 486.5 479.8 487.3 480.9 487.5 481.2 488.5 482.9 489.5 485 490.5 487.4 491.5 490 492.5 492.8 493.2 494.9 493.5 495.8 494.5 499.2 495.5 503 496.5 507.1 497.5 511.4 498.5 515.9 499.5 520.4 500.5 524.9 501.5 529.3 502.5 533.8 503.5 538.4 504.5 543.1 505.5 547.9 506.5 552.8 507.5 558 508.5 563.3 508.8 564.9 509.5 568.8 510.5 574.8 511.5 581 512.5 587.5 513.5 594 514.5 600.6 515.5 607.2 516.5 613.6 516.7 614.9 517.5 619.9 518.5 625.9 519.5 631.9 520.5 637.8 521.5 643.8 522.5 649.8 523.5 656 524.5 662.5 525.5 669.2 526.3 674.9 526.5 676.4 527.5 684.1 528.5 692.4 529.5 701.1 530.5 710 531.5 718.8 532.5 727.5 533.4 734.9 533.5 735.7 534.5 743.5 535.5 751.2 536.5 758.6 537.5 766 538.5 773.5 539.5 780.9 540.5 788.6 541.3 794.9 541.5 796.5 542.5 804.7 543.5 813.2 544.5 821.8 545.5 830.6 546.5 839.5 547.5 848.3 548.5 857 549.5 865.6 550.5 873.9 551.5 882 552.5 889.6 553.5 896.9 554.5 903.9 555.5 910.7 556.5 917.4 557.5 923.9 558.5 930.4 559.5 936.8 560.5 943.2 561.5 949.7 562.5 956.2 563.5 962.9 564.5 969.7 565.5 976.6 566.5 983.4 567.5 990.3 568.5 997 569.5 1003.6 570.5 1010 571.5 1016.2 572.5 1022.1 573.5 1027.6 574.5 1032.9 575.5 1037.9 576.5 1042.7 577.5 1047.4 578.5 1052 579.5 1056.6 580.5 1061.2 581.5 1065.9 582.5 1070.8 583.5 1075.9 584.5 1081.4 585.5 1087.1 586.5 1093 587.5 1099 588.5 1104.8 589.5 1110.5 590.5 1115.9 591.5 1120.8 592.5 1125.3 593.5 1129.4 594.5 1133.3 595.5 1137 596.5 1140.6 597.5 1144.1 598.5 1147.5 599.5 1151.1 600.5 1154.6 601.5 1158.2 602.5 1161.7 603.5 1165.2 604.5 1168.6 605.5 1172 606.5 1175.2 607.5 1178.5 608.5 1181.7 609.5 1184.8 610.5 1187.9 611.5 1190.9 612.5 1193.8 613.5 1196.6 614.5 1199.3 615.5 1201.9 616.5 1204.5 617.5 1207 618.5 1209.5 619.5 1211.9 620.5 1214.2 621.5 1216.6 622.5 1218.8 623.5 1221 624.5 1223.2 625.5 1225.4 626.5 1227.5 627.5 1229.6 628.5 1231.6 629.5 1233.6 630.5 1235.7 631.5 1237.6 632.5 1239.6 633.5 1241.6 634.5 1243.5 635.5 1245.4 636.5 1247.3 637.5 1249.2 638.5 1251.1 639.5 1253 640.5 1254.8 641.5 1256.7 642.5 1258.5 643.5 1260.3 644.5 1262.1 645.5 1263.9 646.5 1265.7 647.5 1267.4 648.5 1269.2 649.5 1270.9 650.5 1272.7 651.5 1274.4 652.5 1276.1 653.5 1277.8 654.5 1279.4 655.5 1281.1 656.5 1282.7 657.5 1284.4 658.5 1286 659.5 1287.6 660.5 1289.1 661.5 1290.7 662.5 1292.2 663.5 1293.7 664.5 1295.2 665.5 1296.6 666.5 1298.1 667.5 1299.5 668.5 1300.8 669.5 1302.2 670.5 1303.5 671.5 1304.8 672.5 1306.1 673.5 1307.4 674.5 1308.6 675.5 1309.9 676.5 1311.1 677.5 1312.2 678.5 1313.4 679.5 1314.5 680.5 1315.7 681.5 1316.7 682.5 1317.8 683.5 1318.9 684.5 1319.9 685.5 1320.9 686.5 1321.9 687.5 1322.9 688.5 1323.9 689.5 1324.8 690.5 1325.8 691.5 1326.7 692.5 1327.6 693.5 1328.5 694.5 1329.3 695.5 1330.2 696.5 1331 697.5 1331.9 698.5 1332.7 699.5 1333.5 700.5 1334.3 701.5 1335.1 702.5 1335.8 703.5 1336.6 704.5 1337.3 705.5 1338.1 706.5 1338.8 707.5 1339.5 708.5 1340.2 709.5 1340.9 710.5 1341.6 711.5 1342.3 712.5 1342.9 713.5 1343.6 714.5 1344.3 715.5 1344.9 716.5 1345.5 717.5 1346.2 718.5 1346.8 719.5 1347.4 720.5 1348.1 721.5 1348.7 722.5 1349.3 723.5 1349.9 724.5 1350.5 725.5 1351.1 726.5 1351.7 727.5 1352.3 728.5 1352.9 729.5 1353.4 730.5 1354 731.5 1354.6 732.5 1355.2 733.5 1355.7 734.5 1356.3 735.5 1356.8 736.5 1357.4 737.5 1357.9 738.5 1358.5 739.5 1359 740.5 1359.5 741.5 1360.1 742.5 1360.6 743.5 1361.1 744.5 1361.6 745.5 1362.1 746.5 1362.6 747.5 1363.1 748.5 1363.6 749.5 1364 750.5 1364.5 751.5 1365 752.5 1365.4 753.5 1365.9 754.5 1366.4 755.5 1366.8 756.5 1367.2 757.5 1367.7 758.5 1368.1 759.5 1368.5 760.5 1369 761.5 1369.4 762.5 1369.8 763.5 1370.2 764.5 1370.6 765.5 1371 766.5 1371.4 767.5 1371.8 768.5 1372.2 769.5 1372.6 770.5 1373 771.5 1373.4 772.5 1373.8 773.5 1374.2 774.5 1374.6 775.5 1375 776.5 1375.3 777.5 1375.7 778.5 1376.1 779.5 1376.4 780.5 1376.8 784.5 1378.2 788.5 1379.6 792.5 1381 796.5 1382.3 800.5 1383.6 804.5 1384.9 808.5 1386.2 812.5 1387.4 816.5 1388.6 820.5 1389.7 824.5 1390.9 828.5 1392 832.5 1393.1 836.5 1394.2 840.5 1395.3 844.5 1396.3 848.5 1397.3 852.5 1398.3 856.5 1399.3 860.5 1400.2 864.5 1401.1 868.5 1402 872.5 1402.8 876.5 1403.7 880.5 1404.4 884.5 1405.2 888.5 1405.9 892.5 1406.6 896.5 1407.3 900.5 1408 904.5 1408.6 908.5 1409.2 912.5 1409.9 916.5 1410.5 920.5 1411 924.5 1411.6 928.5 1412.2 932.5 1412.8 936.5 1413.3 940.5 1413.9 944.5 1414.5 948.5 1415.1 952.5 1415.6 956.5 1416.2 960.5 1416.7 964.5 1417.3 968.5 1417.8 972.5 1418.3 976.5 1418.8 980.5 1419.3 984.5 1419.8 988.5 1420.3 992.5 1420.7 996.5 1421.2 1000.5 1421.6 1004.5 1422 1008.5 1422.4 1012.5 1422.8 1016.5 1423.1 1020.5 1423.5 1024.5 1423.8 1028.5 1424.2 1032.5 1424.5 1036.5 1424.9 1040.5 1425.2 1044.5 1425.6 1048.5 1425.9 1052.5 1426.3 1056.5 1426.6 1060.5 1427 1064.5 1427.4 1068.5 1427.8 1072.5 1428.2 1076.5 1428.6 1080.5 1429 1084.5 1429.5 1088.5 1429.9 1092.5 1430.3 1096.5 1430.7 1100.5 1431.1 1104.5 1431.5 1108.5 1431.9 1112.5 1432.2 1116.5 1432.5 1120.5 1432.8 1124.5 1433.1 1128.5 1433.4 1132.5 1433.6 1136.5 1433.9 1140.5 1434.1 1144.5 1434.3 1148.5 1434.5 1152.5 1434.7 1156.5 1434.9 1160.5 1435.1 1164.5 1435.3 1168.5 1435.5 1172.5 1435.6 1176.5 1435.8 1180.5 1436 1184.5 1436.2 1188.5 1436.4 1192.5 1436.7 1196.5 1436.9 1200.5 1437.1 1204.5 1437.3 1208.5 1437.5 1212.5 1437.8 1216.5 1438 1220.5 1438.2 1224.5 1438.5 1228.5 1438.7 1232.5 1438.9 1236.5 1439.2 1240.5 1439.4 1244.5 1439.6 1248.5 1439.8 1252.5 1440.1 1256.5 1440.3 1260.5 1440.5 1264.5 1440.7 1268.5 1440.9 1272.5 1441.1 1276.5 1441.3 1280.5 1441.5 1284.5 1441.7 1288.5 1441.9 1292.5 1442.1 1296.5 1442.3 1300.5 1442.4 1304.5 1442.6 1308.5 1442.8 1312.5 1442.9 1316.5 1443.1 1320.5 1443.2 1324.5 1443.4 1328.5 1443.5 1332.5 1443.6 1336.5 1443.8 1340.5 1443.9 1343.5 1444 1343.5 1454.2 1340.5 1454.1 1336.5 1454 1332.5 1453.8 1328.5 1453.7 1324.5 1453.6 1320.5 1453.4 1316.5 1453.3 1312.5 1453.1 1308.5 1453 1304.5 1452.8 1300.5 1452.6 1296.5 1452.5 1292.5 1452.3 1288.5 1452.1 1284.5 1451.9 1280.5 1451.7 1276.5 1451.5 1272.5 1451.3 1268.5 1451.1 1264.5 1450.9 1260.5 1450.7 1256.5 1450.5 1252.5 1450.3 1248.5 1450 1244.5 1449.8 1240.5 1449.6 1236.5 1449.4 1232.5 1449.1 1228.5 1448.9 1224.5 1448.7 1220.5 1448.4 1216.5 1448.2 1212.5 1448 1208.5 1447.7 1204.5 1447.5 1200.5 1447.3 1196.5 1447.1 1192.5 1446.9 1188.5 1446.6 1184.5 1446.4 1180.5 1446.2 1176.5 1446 1172.5 1445.8 1168.5 1445.7 1164.5 1445.5 1160.5 1445.3 1156.5 1445.1 1152.5 1444.9 1148.5 1444.7 1144.5 1444.5 1140.5 1444.3 1136.5 1444.1 1132.5 1443.8 1128.5 1443.6 1124.5 1443.3 1120.5 1443 1116.5 1442.7 1112.5 1442.4 1108.5 1442.1 1104.5 1441.7 1100.5 1441.3 1096.5 1440.9 1092.5 1440.5 1088.5 1440.1 1084.5 1439.7 1080.5 1439.2 1076.5 1438.8 1072.5 1438.4 1068.5 1438 1064.5 1437.6 1060.5 1437.2 1056.5 1436.8 1052.5 1436.5 1048.5 1436.1 1044.5 1435.8 1040.5 1435.4 1036.5 1435.1 1032.5 1434.7 1028.5 1434.4 1024.5 1434 1020.5 1433.7 1016.5 1433.3 1012.5 1433 1008.5 1432.6 1004.5 1432.2 1000.5 1431.8 996.5 1431.4 992.5 1430.9 988.5 1430.5 984.5 1430 980.5 1429.5 976.5 1429 972.5 1428.5 968.5 1428 964.5 1427.5 960.5 1426.9 956.5 1426.4 952.5 1425.8 948.5 1425.3 944.5 1424.7 940.5 1424.1 936.5 1423.5 932.5 1423 928.5 1422.4 924.5 1421.8 920.5 1421.2 916.5 1420.7 912.5 1420.1 908.5 1419.4 904.5 1418.8 900.5 1418.2 896.5 1417.5 892.5 1416.8 888.5 1416.1 884.5 1415.4 880.5 1414.6 876.5 1413.9 872.5 1413 868.5 1412.2 864.5 1411.3 860.5 1410.4 856.5 1409.5 852.5 1408.5 848.5 1407.5 844.5 1406.5 840.5 1405.5 836.5 1404.4 832.5 1403.3 828.5 1402.2 824.5 1401.1 820.5 1399.9 816.5 1398.8 812.5 1397.6 808.5 1396.4 804.5 1395.1 800.5 1393.8 796.5 1392.5 792.5 1391.2 788.5 1389.8 784.5 1388.4 780.5 1387 779.5 1386.6 778.5 1386.3 777.5 1385.9 776.5 1385.5 775.5 1385.2 774.5 1384.8 773.5 1384.4 772.5 1384 771.5 1383.6 770.5 1383.2 769.5 1382.8 768.5 1382.4 767.5 1382 766.5 1381.6 765.5 1381.2 764.5 1380.8 763.5 1380.4 762.5 1380 761.5 1379.6 760.5 1379.2 759.5 1378.7 758.5 1378.3 757.5 1377.9 756.5 1377.4 755.5 1377 754.5 1376.6 753.5 1376.1 752.5 1375.6 751.5 1375.2 750.5 1374.7 749.5 1374.2 748.5 1373.8 747.5 1373.3 746.5 1372.8 745.5 1372.3 744.5 1371.8 743.5 1371.3 742.5 1370.8 741.5 1370.3 740.5 1369.7 739.5 1369.2 738.5 1368.7 737.5 1368.1 736.5 1367.6 735.5 1367 734.5 1366.5 733.5 1365.9 732.5 1365.4 731.5 1364.8 730.5 1364.2 729.5 1363.6 728.5 1363.1 727.5 1362.5 726.5 1361.9 725.5 1361.3 724.5 1360.7 723.5 1360.1 722.5 1359.5 721.5 1358.9 720.5 1358.3 719.5 1357.6 718.5 1357 717.5 1356.4 716.5 1355.7 715.5 1355.1 714.5 1354.5 713.5 1353.8 712.5 1353.1 711.5 1352.5 710.5 1351.8 709.5 1351.1 708.5 1350.4 707.5 1349.7 706.5 1349 705.5 1348.3 704.5 1347.5 703.5 1346.8 702.5 1346 701.5 1345.3 700.5 1344.5 699.5 1343.7 698.5 1342.9 697.5 1342.1 696.5 1341.2 695.5 1340.4 694.5 1339.5 693.5 1338.7 692.5 1337.8 691.5 1336.9 690.5 1336 689.5 1335 688.5 1334.1 687.5 1333.1 686.5 1332.1 685.5 1331.1 684.5 1330.1 683.5 1329.1 682.5 1328 681.5 1326.9 680.5 1325.9 679.5 1324.7 678.5 1323.6 677.5 1322.4 676.5 1321.3 675.5 1320.1 674.5 1318.8 673.5 1317.6 672.5 1316.3 671.5 1315 670.5 1313.7 669.5 1312.4 668.5 1311 667.5 1309.7 666.5 1308.3 665.5 1306.8 664.5 1305.4 663.5 1303.9 662.5 1302.4 661.5 1300.9 660.5 1299.3 659.5 1297.8 658.5 1296.2 657.5 1294.6 656.5 1292.9 655.5 1291.3 654.5 1289.6 653.5 1288 652.5 1286.3 651.5 1284.6 650.5 1282.9 649.5 1281.1 648.5 1279.4 647.5 1277.6 646.5 1275.9 645.5 1274.1 644.5 1272.3 643.5 1270.5 642.5 1268.7 641.5 1266.9 640.5 1265 639.5 1263.2 638.5 1261.3 637.5 1259.4 636.5 1257.5 635.5 1255.6 634.5 1253.7 633.5 1251.8 632.5 1249.8 631.5 1247.8 630.5 1245.9 629.5 1243.8 628.5 1241.8 627.5 1239.8 626.5 1237.7 625.5 1235.6 624.5 1233.4 623.5 1231.2 622.5 1229 621.5 1226.8 620.5 1224.4 619.5 1222.1 618.5 1219.7 617.5 1217.2 616.5 1214.7 615.5 1212.1 614.5 1209.5 613.5 1206.8 612.5 1204 611.5 1201.1 610.5 1198.1 609.5 1195 608.5 1191.9 607.5 1188.7 606.5 1185.4 605.5 1182.2 604.5 1178.8 603.5 1175.4 602.5 1171.9 601.5 1168.4 600.5 1164.8 599.5 1161.3 598.5 1157.7 597.5 1154.3 596.5 1150.8 595.5 1147.2 594.5 1143.5 593.5 1139.6 592.5 1135.5 591.5 1131 590.5 1126.1 589.5 1120.7 588.5 1115 587.5 1109.2 586.5 1103.2 585.5 1097.3 584.5 1091.6 583.5 1086.1 582.5 1081 581.5 1076.1 580.5 1071.4 579.5 1066.8 578.5 1062.2 577.5 1057.6 576.5 1052.9 575.5 1048.1 574.5 1043.1 573.5 1037.8 572.5 1032.3 571.5 1026.4 570.5 1020.2 569.5 1013.8 568.5 1007.2 567.5 1000.5 566.5 993.6 565.5 986.8 564.5 979.9 563.5 973.1 562.5 966.4 561.5 959.9 560.5 953.4 559.5 947 558.5 940.6 557.5 934.1 556.5 927.6 555.5 920.9 554.5 914.1 553.5 907.1 552.5 899.8 551.5 892.2 550.5 884.1 549.5 875.8 548.5 867.2 547.5 858.5 546.5 849.7 545.5 840.8 544.5 832 543.5 823.4 542.5 814.9 541.5 806.7 541.3 805.1 540.5 798.8 539.5 791.1 538.5 783.7 537.5 776.2 536.5 768.8 535.5 761.4 534.5 753.7 533.5 745.9 533.4 745.1 532.5 737.7 531.5 729 530.5 720.2 529.5 711.3 528.5 702.6 527.5 694.3 526.5 686.6 526.3 685.1 525.5 679.4 524.5 672.7 523.5 666.2 522.5 660 521.5 654 520.5 648 519.5 642.1 518.5 636.1 517.5 630.1 516.7 625.1 516.5 623.8 515.5 617.4 514.5 610.8 513.5 604.2 512.5 597.7 511.5 591.2 510.5 585 509.5 579 508.8 575.1 508.5 573.5 507.5 568.2 506.5 563 505.5 558.1 504.5 553.3 503.5 548.6 502.5 544 501.5 539.5 500.5 535.1 499.5 530.6 498.5 526.1 497.5 521.6 496.5 517.3 495.5 513.2 494.5 509.4 493.5 506 493.2 505.1 492.5 503 491.5 500.2 490.5 497.6 489.5 495.2 488.5 493.1 487.5 491.4 487.3 491.1 486.5 490 485.5 488.9 484.5 487.9 483.5 487 482.5 486 481.9 485.3 481.5 484.8 481 484.2 480.7 484 480.5 484.1 480.4 484.2 479.5 485.3 478.5 486.6 477.5 488 476.5 489.5 475.5 491.1 474.5 492.8 473.5 494.6 472.5 496.4 471.5 498.4 470.5 500.5 469.5 502.7 468.5 505.1 467.5 507.7 466.5 510.4 465.5 513.4 464.5 516.6 463.5 519.9 462.5 523.4 461.5 527.1 460.5 531 459.5 535.1 458.5 539.5 457.5 544.5 456.5 549.9 455.5 555.5 454.5 561.3 453.5 567.1 452.5 572.8 452.1 575.1 451.5 578.5 450.5 584.1 449.5 589.8 448.5 595.5 447.5 601.3 446.5 607.1 445.5 613 444.5 619 443.5 625.1 442.5 631.2 441.5 637.4 440.5 643.6 439.5 649.9 438.5 656.3 437.5 662.8 436.5 669.4 435.5 676.1 434.5 683 434.2 685.1 433.5 690.1 432.5 697.6 431.5 705.3 430.5 713.1 429.5 721 428.5 728.8 427.5 736.4 426.5 743.7 426.3 745.1 425.5 750.6 424.5 757.4 423.5 764 422.5 770.5 421.5 776.8 420.5 783.1 419.5 789.4 418.5 795.7 417.5 801.9 417 805.1 416.5 808.3 415.5 814.6 414.5 820.9 413.5 827.2 412.5 833.5 411.5 839.8 410.5 846.1 409.5 852.4 408.5 858.6 407.5 864.8 406.5 871 405.5 877.1 404.5 883.1 403.5 889.1 402.5 895.1 401.5 901 400.8 905.1 400.5 906.8 399.5 912.6 398.5 918.4 397.5 924.1 396.5 929.8 395.5 935.4 394.5 941 393.5 946.6 392.5 952.1 391.5 957.6 390.5 963 389.5 968.3 388.5 973.6 387.5 978.9 386.5 984.1 386.3 985.1 385.5 989.2 384.5 994.4 383.5 999.6 382.5 1004.7 381.5 1009.7 380.5 1014.5 379.5 1019.1 378.5 1023.4 378.1 1025.1 377.5 1027.5 376.5 1031.3 375.5 1034.9 374.5 1038.4 373.5 1041.8 372.5 1045 371.5 1048.2 370.5 1051.4 369.5 1054.7 368.5 1057.9 367.5 1061.3 366.5 1064.9 366 1066.7 365.5 1068.6 364.5 1072.5 363.5 1076.6 362.5 1080.9 361.5 1085.1 360.5 1089.4 359.5 1093.6 358.5 1097.6 357.5 1101.4 356.5 1104.9 356.2 1105.9 355.5 1108.1 354.5 1111 353.5 1113.8 353 1115.1 352.5 1116.5 351.5 1119.5 350.5 1122.5 349.5 1124.7 348.5 1125.6 347.5 1124 346.5 1120.3 345.5 1115.8 344.5 1112.2 343.6 1110.9 343.5 1110.9 342.5 1111.9 341.5 1113.9 340.5 1116.4 340.2 1117.1 339.5 1119 338.5 1122.5 337.5 1126.2 336.5 1129.5 336.3 1130.1 335.5 1132.3 334.5 1134.9 333.5 1137.4 332.5 1139.8 331.5 1142.1 330.5 1144.3 329.5 1146.3 328.5 1148.2 327.5 1149.9 326.5 1151.4 325.5 1152.8 324.5 1154 323.5 1155.2 322.5 1156.3 321.5 1157.3 320.5 1158.3 319.5 1159.2 318.5 1160.2 317.5 1161.1 316.5 1162.1 315.5 1163.1 314.5 1164.2 313.5 1165.2 312.5 1166.2 311.5 1167.2 310.5 1168.1 309.5 1168.9 308.5 1169.5 307.5 1170 306.5 1170.4 305.5 1170.8 304.5 1171.1 303.5 1171.4 302.5 1171.7 301.5 1171.9 300.5 1172.1 299.5 1172.3 298.5 1172.4 297.5 1172.4 296.5 1172.3 295.5 1172.1 294.5 1171.7 293.5 1171.3 292.5 1170.8 291.5 1170.3 290.5 1169.7 289.5 1169 288.5 1168.4 287.5 1167.8 286.5 1167.1 285.5 1166.2 284.5 1165.3 283.5 1164.4 282.5 1163.3 281.5 1162.2 280.5 1161.1 279.5 1159.9 278.5 1158.6 277.5 1157.4 276.5 1156 275.5 1154.5 274.5 1152.9 273.5 1151.3 272.5 1149.6 271.5 1147.8 270.5 1146 269.5 1144.1 268.5 1142.2 267.5 1140.3 266.5 1138.2 265.5 1136.1 264.5 1134 263.5 1131.7 262.5 1129.4 261.5 1127.1 260.5 1124.7 259.5 1122.3 258.5 1119.9 257.5 1117.4 256.5 1114.8 255.5 1112.2 254.5 1109.6 253.5 1106.9 252.5 1104.1 251.5 1101.3 250.5 1098.5 249.5 1095.7 248.5 1092.8 247.5 1089.9 246.5 1086.9 245.5 1083.9 244.5 1080.9 243.5 1077.8 242.5 1074.7ZM244.6 1060 245.6 1063.2 246.6 1066.4 247.6 1069.6 248.6 1072.7 249.6 1075.8 250.6 1078.8 251.6 1081.8 252.6 1084.8 253.6 1087.7 254.6 1090.6 255.6 1093.4 256.6 1096.2 257.6 1099 258.6 1101.8 259.6 1104.5 260.6 1107.1 261.6 1109.7 262.6 1112.3 263.6 1114.8 264.6 1117.2 265.6 1119.6 266.6 1122 267.6 1124.3 268.6 1126.6 269.6 1128.9 270.6 1131 271.6 1133.1 272.6 1135.2 273.6 1137.1 274.6 1139 275.6 1140.9 276.6 1142.7 277.6 1144.5 278.6 1146.2 279.6 1147.8 280.6 1149.4 281.6 1150.9 282.6 1152.3 283.6 1153.5 284.6 1154.8 285.6 1156 286.6 1157.1 287.6 1158.2 288.6 1159.3 289.6 1160.2 290.6 1161.1 291.6 1162 292.6 1162.7 293.6 1163.3 294.6 1163.9 295.6 1164.6 296.6 1165.2 297.6 1165.7 298.6 1166.2 299.6 1166.6 300.6 1167 301.6 1167.2 302.6 1167.3 292.4 1167.3 291.4 1167.2 290.4 1167 289.4 1166.6 288.4 1166.2 287.4 1165.7 286.4 1165.2 285.4 1164.6 284.4 1163.9 283.4 1163.3 282.4 1162.7 281.4 1162 280.4 1161.1 279.4 1160.2 278.4 1159.3 277.4 1158.2 276.4 1157.1 275.4 1156 274.4 1154.8 273.4 1153.5 272.4 1152.3 271.4 1150.9 270.4 1149.4 269.4 1147.8 268.4 1146.2 267.4 1144.5 266.4 1142.7 265.4 1140.9 264.4 1139 263.4 1137.1 262.4 1135.2 261.4 1133.1 260.4 1131 259.4 1128.9 258.4 1126.6 257.4 1124.3 256.4 1122 255.4 1119.6 254.4 1117.2 253.4 1114.8 252.4 1112.3 251.4 1109.7 250.4 1107.1 249.4 1104.5 248.4 1101.8 247.4 1099 246.4 1096.2 245.4 1093.4 244.4 1090.6 243.4 1087.7 242.4 1084.8 241.4 1081.8 240.4 1078.8 239.4 1075.8 238.4 1072.7 237.4 1069.6 236.4 1066.4 235.4 1063.2 234.4 1060ZM292.4 1167.3 293.4 1167.3 294.4 1167.2 295.4 1167 296.4 1166.8 297.4 1166.6 298.4 1166.3 299.4 1166 300.4 1165.7 301.4 1165.3 302.4 1164.9 303.4 1164.4 304.4 1163.8 305.4 1163 306.4 1162.1 307.4 1161.1 308.4 1160.1 309.4 1159.1 310.4 1158 311.4 1157 312.4 1156 313.4 1155.1 314.4 1154.1 315.4 1153.2 316.4 1152.2 317.4 1151.2 318.4 1150.1 319.4 1148.9 320.4 1147.7 321.4 1146.3 322.4 1144.8 323.4 1143.1 324.4 1141.2 325.4 1139.2 326.4 1137 327.4 1134.7 328.4 1132.3 329.4 1129.8 330.4 1127.2 331.2 1125 331.4 1124.4 332.4 1121.1 333.4 1117.4 334.4 1113.9 335.1 1112 335.4 1111.3 336.4 1108.8 337.4 1106.8 338.4 1105.8 338.5 1105.8 348.7 1105.8 348.6 1105.8 347.6 1106.8 346.6 1108.8 345.6 1111.3 345.3 1112 344.6 1113.9 343.6 1117.4 342.6 1121.1 341.6 1124.4 341.4 1125 340.6 1127.2 339.6 1129.8 338.6 1132.3 337.6 1134.7 336.6 1137 335.6 1139.2 334.6 1141.2 333.6 1143.1 332.6 1144.8 331.6 1146.3 330.6 1147.7 329.6 1148.9 328.6 1150.1 327.6 1151.2 326.6 1152.2 325.6 1153.2 324.6 1154.1 323.6 1155.1 322.6 1156 321.6 1157 320.6 1158 319.6 1159.1 318.6 1160.1 317.6 1161.1 316.6 1162.1 315.6 1163 314.6 1163.8 313.6 1164.4 312.6 1164.9 311.6 1165.3 310.6 1165.7 309.6 1166 308.6 1166.3 307.6 1166.6 306.6 1166.8 305.6 1167 304.6 1167.2 303.6 1167.3 302.6 1167.3ZM348.7 1105.8 349.6 1107.1 350.6 1110.7 351.6 1115.2 352.6 1118.9 353.6 1120.5 343.4 1120.5 342.4 1118.9 341.4 1115.2 340.4 1110.7 339.4 1107.1 338.5 1105.8ZM343.4 1120.5 344.4 1119.6 345.4 1117.4 346.4 1114.4 347.4 1111.4 347.9 1110 348.4 1108.7 349.4 1105.9 350.4 1103 351.1 1100.8 351.4 1099.8 352.4 1096.3 353.4 1092.5 354.4 1088.5 355.4 1084.3 356.4 1080 357.4 1075.8 358.4 1071.5 359.4 1067.4 360.4 1063.5 360.9 1061.6 361.4 1059.8 362.4 1056.2 363.4 1052.8 364.4 1049.6 365.4 1046.3 366.4 1043.1 367.4 1039.9 368.4 1036.7 369.4 1033.3 370.4 1029.8 371.4 1026.2 372.4 1022.4 373 1020 373.4 1018.3 374.4 1014 375.4 1009.4 376.4 1004.6 377.4 999.6 378.4 994.5 379.4 989.3 380.4 984.1 381.2 980 381.4 979 382.4 973.8 383.4 968.5 384.4 963.2 385.4 957.9 386.4 952.5 387.4 947 388.4 941.5 389.4 935.9 390.4 930.3 391.4 924.7 392.4 919 393.4 913.3 394.4 907.5 395.4 901.7 395.7 900 396.4 895.9 397.4 890 398.4 884 399.4 878 400.4 872 401.4 865.9 402.4 859.7 403.4 853.5 404.4 847.3 405.4 841 406.4 834.7 407.4 828.4 408.4 822.1 409.4 815.8 410.4 809.5 411.4 803.2 411.9 800 412.4 796.8 413.4 790.6 414.4 784.3 415.4 778 416.4 771.7 417.4 765.4 418.4 758.9 419.4 752.3 420.4 745.5 421.2 740 421.4 738.6 422.4 731.3 423.4 723.7 424.4 715.9 425.4 708 426.4 700.2 427.4 692.5 428.4 685 429.1 680 429.4 677.9 430.4 671 431.4 664.3 432.4 657.7 433.4 651.2 434.4 644.8 435.4 638.5 436.4 632.3 437.4 626.1 438.4 620 439.4 613.9 440.4 607.9 441.4 602 442.4 596.2 443.4 590.4 444.4 584.7 445.4 579 446.4 573.4 447 570 447.4 567.7 448.4 562 449.4 556.2 450.4 550.4 451.4 544.8 452.4 539.4 453.4 534.4 454.4 530 455.4 525.9 456.4 522 457.4 518.3 458.4 514.8 459.4 511.5 460.4 508.3 461.4 505.3 462.4 502.6 463.4 500 464.4 497.6 465.4 495.4 466.4 493.3 467.4 491.3 468.4 489.5 469.4 487.7 470.4 486 471.4 484.4 472.4 482.9 473.4 481.5 474.4 480.2 475.3 479.1 475.4 479 475.6 478.9 485.8 478.9 485.6 479 485.5 479.1 484.6 480.2 483.6 481.5 482.6 482.9 481.6 484.4 480.6 486 479.6 487.7 478.6 489.5 477.6 491.3 476.6 493.3 475.6 495.4 474.6 497.6 473.6 500 472.6 502.6 471.6 505.3 470.6 508.3 469.6 511.5 468.6 514.8 467.6 518.3 466.6 522 465.6 525.9 464.6 530 463.6 534.4 462.6 539.4 461.6 544.8 460.6 550.4 459.6 556.2 458.6 562 457.6 567.7 457.2 570 456.6 573.4 455.6 579 454.6 584.7 453.6 590.4 452.6 596.2 451.6 602 450.6 607.9 449.6 613.9 448.6 620 447.6 626.1 446.6 632.3 445.6 638.5 444.6 644.8 443.6 651.2 442.6 657.7 441.6 664.3 440.6 671 439.6 677.9 439.3 680 438.6 685 437.6 692.5 436.6 700.2 435.6 708 434.6 715.9 433.6 723.7 432.6 731.3 431.6 738.6 431.4 740 430.6 745.5 429.6 752.3 428.6 758.9 427.6 765.4 426.6 771.7 425.6 778 424.6 784.3 423.6 790.6 422.6 796.8 422.1 800 421.6 803.2 420.6 809.5 419.6 815.8 418.6 822.1 417.6 828.4 416.6 834.7 415.6 841 414.6 847.3 413.6 853.5 412.6 859.7 411.6 865.9 410.6 872 409.6 878 408.6 884 407.6 890 406.6 895.9 405.9 900 405.6 901.7 404.6 907.5 403.6 913.3 402.6 919 401.6 924.7 400.6 930.3 399.6 935.9 398.6 941.5 397.6 947 396.6 952.5 395.6 957.9 394.6 963.2 393.6 968.5 392.6 973.8 391.6 979 391.4 980 390.6 984.1 389.6 989.3 388.6 994.5 387.6 999.6 386.6 1004.6 385.6 1009.4 384.6 1014 383.6 1018.3 383.2 1020 382.6 1022.4 381.6 1026.2 380.6 1029.8 379.6 1033.3 378.6 1036.7 377.6 1039.9 376.6 1043.1 375.6 1046.3 374.6 1049.6 373.6 1052.8 372.6 1056.2 371.6 1059.8 371.1 1061.6 370.6 1063.5 369.6 1067.4 368.6 1071.5 367.6 1075.8 366.6 1080 365.6 1084.3 364.6 1088.5 363.6 1092.5 362.6 1096.3 361.6 1099.8 361.3 1100.8 360.6 1103 359.6 1105.9 358.6 1108.7 358.1 1110 357.6 1111.4 356.6 1114.4 355.6 1117.4 354.6 1119.6 353.6 1120.5ZM485.8 478.9 486.1 479.1 486.6 479.7 487 480.2 487.6 480.9 488.6 481.9 489.6 482.8 490.6 483.8 491.6 484.9 492.4 486 492.6 486.3 493.6 488 494.6 490.1 495.6 492.5 496.6 495.1 497.6 497.9 498.3 500 498.6 500.9 499.6 504.3 500.6 508.1 501.6 512.2 502.6 516.5 503.6 521 504.6 525.5 505.6 530 506.6 534.4 507.6 538.9 508.6 543.5 509.6 548.2 510.6 553 511.6 557.9 512.6 563.1 513.6 568.4 513.9 570 514.6 573.9 515.6 579.9 516.6 586.1 517.6 592.6 518.6 599.1 519.6 605.7 520.6 612.3 521.6 618.7 521.8 620 522.6 625 523.6 631 524.6 637 525.6 642.9 526.6 648.9 527.6 654.9 528.6 661.1 529.6 667.6 530.6 674.3 531.4 680 531.6 681.5 532.6 689.2 533.6 697.5 534.6 706.2 535.6 715.1 536.6 723.9 537.6 732.6 538.5 740 538.6 740.8 539.6 748.6 540.6 756.3 541.6 763.7 542.6 771.1 543.6 778.6 544.6 786 545.6 793.7 546.4 800 546.6 801.6 547.6 809.8 548.6 818.3 549.6 826.9 550.6 835.7 551.6 844.6 552.6 853.4 553.6 862.1 554.6 870.7 555.6 879 556.6 887.1 557.6 894.7 558.6 902 559.6 909 560.6 915.8 561.6 922.5 562.6 929 563.6 935.5 564.6 941.9 565.6 948.3 566.6 954.8 567.6 961.3 568.6 968 569.6 974.8 570.6 981.7 571.6 988.5 572.6 995.4 573.6 1002.1 574.6 1008.7 575.6 1015.1 576.6 1021.3 577.6 1027.2 578.6 1032.7 579.6 1038 580.6 1043 581.6 1047.8 582.6 1052.5 583.6 1057.1 584.6 1061.7 585.6 1066.3 586.6 1071 587.6 1075.9 588.6 1081 589.6 1086.5 590.6 1092.2 591.6 1098.1 592.6 1104.1 593.6 1109.9 594.6 1115.6 595.6 1121 596.6 1125.9 597.6 1130.4 598.6 1134.5 599.6 1138.4 600.6 1142.1 601.6 1145.7 602.6 1149.2 603.6 1152.6 604.6 1156.2 605.6 1159.7 606.6 1163.3 607.6 1166.8 608.6 1170.3 609.6 1173.7 610.6 1177.1 611.6 1180.3 612.6 1183.6 613.6 1186.8 614.6 1189.9 615.6 1193 616.6 1196 617.6 1198.9 618.6 1201.7 619.6 1204.4 620.6 1207 621.6 1209.6 622.6 1212.1 623.6 1214.6 624.6 1217 625.6 1219.3 626.6 1221.7 627.6 1223.9 628.6 1226.1 629.6 1228.3 630.6 1230.5 631.6 1232.6 632.6 1234.7 633.6 1236.7 634.6 1238.7 635.6 1240.8 636.6 1242.7 637.6 1244.7 638.6 1246.7 639.6 1248.6 640.6 1250.5 641.6 1252.4 642.6 1254.3 643.6 1256.2 644.6 1258.1 645.6 1259.9 646.6 1261.8 647.6 1263.6 648.6 1265.4 649.6 1267.2 650.6 1269 651.6 1270.8 652.6 1272.5 653.6 1274.3 654.6 1276 655.6 1277.8 656.6 1279.5 657.6 1281.2 658.6 1282.9 659.6 1284.5 660.6 1286.2 661.6 1287.8 662.6 1289.5 663.6 1291.1 664.6 1292.7 665.6 1294.2 666.6 1295.8 667.6 1297.3 668.6 1298.8 669.6 1300.3 670.6 1301.7 671.6 1303.2 672.6 1304.6 673.6 1305.9 674.6 1307.3 675.6 1308.6 676.6 1309.9 677.6 1311.2 678.6 1312.5 679.6 1313.7 680.6 1315 681.6 1316.2 682.6 1317.3 683.6 1318.5 684.6 1319.6 685.6 1320.8 686.6 1321.8 687.6 1322.9 688.6 1324 689.6 1325 690.6 1326 691.6 1327 692.6 1328 693.6 1329 694.6 1329.9 695.6 1330.9 696.6 1331.8 697.6 1332.7 698.6 1333.6 699.6 1334.4 700.6 1335.3 701.6 1336.1 702.6 1337 703.6 1337.8 704.6 1338.6 705.6 1339.4 706.6 1340.2 707.6 1340.9 708.6 1341.7 709.6 1342.4 710.6 1343.2 711.6 1343.9 712.6 1344.6 713.6 1345.3 714.6 1346 715.6 1346.7 716.6 1347.4 717.6 1348 718.6 1348.7 719.6 1349.4 720.6 1350 721.6 1350.6 722.6 1351.3 723.6 1351.9 724.6 1352.5 725.6 1353.2 726.6 1353.8 727.6 1354.4 728.6 1355 729.6 1355.6 730.6 1356.2 731.6 1356.8 732.6 1357.4 733.6 1358 734.6 1358.5 735.6 1359.1 736.6 1359.7 737.6 1360.3 738.6 1360.8 739.6 1361.4 740.6 1361.9 741.6 1362.5 742.6 1363 743.6 1363.6 744.6 1364.1 745.6 1364.6 746.6 1365.2 747.6 1365.7 748.6 1366.2 749.6 1366.7 750.6 1367.2 751.6 1367.7 752.6 1368.2 753.6 1368.7 754.6 1369.1 755.6 1369.6 756.6 1370.1 757.6 1370.5 758.6 1371 759.6 1371.5 760.6 1371.9 761.6 1372.3 762.6 1372.8 763.6 1373.2 764.6 1373.6 765.6 1374.1 766.6 1374.5 767.6 1374.9 768.6 1375.3 769.6 1375.7 770.6 1376.1 771.6 1376.5 772.6 1376.9 773.6 1377.3 774.6 1377.7 775.6 1378.1 776.6 1378.5 777.6 1378.9 778.6 1379.3 779.6 1379.7 780.6 1380.1 781.6 1380.4 782.6 1380.8 783.6 1381.2 784.6 1381.5 785.6 1381.9 786.6 1382.3 787.6 1382.6 788.6 1383 789.6 1383.3 790.6 1383.7 791.6 1384 792.6 1384.4 793.6 1384.7 794.6 1385.1 795.6 1385.4 796.6 1385.8 797.6 1386.1 798.6 1386.4 799.6 1386.8 800.6 1387.1 801.6 1387.4 802.6 1387.8 803.6 1388.1 804.6 1388.4 794.4 1388.4 793.4 1388.1 792.4 1387.8 791.4 1387.4 790.4 1387.1 789.4 1386.8 788.4 1386.4 787.4 1386.1 786.4 1385.8 785.4 1385.4 784.4 1385.1 783.4 1384.7 782.4 1384.4 781.4 1384 780.4 1383.7 779.4 1383.3 778.4 1383 777.4 1382.6 776.4 1382.3 775.4 1381.9 774.4 1381.5 773.4 1381.2 772.4 1380.8 771.4 1380.4 770.4 1380.1 769.4 1379.7 768.4 1379.3 767.4 1378.9 766.4 1378.5 765.4 1378.1 764.4 1377.7 763.4 1377.3 762.4 1376.9 761.4 1376.5 760.4 1376.1 759.4 1375.7 758.4 1375.3 757.4 1374.9 756.4 1374.5 755.4 1374.1 754.4 1373.6 753.4 1373.2 752.4 1372.8 751.4 1372.3 750.4 1371.9 749.4 1371.5 748.4 1371 747.4 1370.5 746.4 1370.1 745.4 1369.6 744.4 1369.1 743.4 1368.7 742.4 1368.2 741.4 1367.7 740.4 1367.2 739.4 1366.7 738.4 1366.2 737.4 1365.7 736.4 1365.2 735.4 1364.6 734.4 1364.1 733.4 1363.6 732.4 1363 731.4 1362.5 730.4 1361.9 729.4 1361.4 728.4 1360.8 727.4 1360.3 726.4 1359.7 725.4 1359.1 724.4 1358.5 723.4 1358 722.4 1357.4 721.4 1356.8 720.4 1356.2 719.4 1355.6 718.4 1355 717.4 1354.4 716.4 1353.8 715.4 1353.2 714.4 1352.5 713.4 1351.9 712.4 1351.3 711.4 1350.6 710.4 1350 709.4 1349.4 708.4 1348.7 707.4 1348 706.4 1347.4 705.4 1346.7 704.4 1346 703.4 1345.3 702.4 1344.6 701.4 1343.9 700.4 1343.2 699.4 1342.4 698.4 1341.7 697.4 1340.9 696.4 1340.2 695.4 1339.4 694.4 1338.6 693.4 1337.8 692.4 1337 691.4 1336.1 690.4 1335.3 689.4 1334.4 688.4 1333.6 687.4 1332.7 686.4 1331.8 685.4 1330.9 684.4 1329.9 683.4 1329 682.4 1328 681.4 1327 680.4 1326 679.4 1325 678.4 1324 677.4 1322.9 676.4 1321.8 675.4 1320.8 674.4 1319.6 673.4 1318.5 672.4 1317.3 671.4 1316.2 670.4 1315 669.4 1313.7 668.4 1312.5 667.4 1311.2 666.4 1309.9 665.4 1308.6 664.4 1307.3 663.4 1305.9 662.4 1304.6 661.4 1303.2 660.4 1301.7 659.4 1300.3 658.4 1298.8 657.4 1297.3 656.4 1295.8 655.4 1294.2 654.4 1292.7 653.4 1291.1 652.4 1289.5 651.4 1287.8 650.4 1286.2 649.4 1284.5 648.4 1282.9 647.4 1281.2 646.4 1279.5 645.4 1277.8 644.4 1276 643.4 1274.3 642.4 1272.5 641.4 1270.8 640.4 1269 639.4 1267.2 638.4 1265.4 637.4 1263.6 636.4 1261.8 635.4 1259.9 634.4 1258.1 633.4 1256.2 632.4 1254.3 631.4 1252.4 630.4 1250.5 629.4 1248.6 628.4 1246.7 627.4 1244.7 626.4 1242.7 625.4 1240.8 624.4 1238.7 623.4 1236.7 622.4 1234.7 621.4 1232.6 620.4 1230.5 619.4 1228.3 618.4 1226.1 617.4 1223.9 616.4 1221.7 615.4 1219.3 614.4 1217 613.4 1214.6 612.4 1212.1 611.4 1209.6 610.4 1207 609.4 1204.4 608.4 1201.7 607.4 1198.9 606.4 1196 605.4 1193 604.4 1189.9 603.4 1186.8 602.4 1183.6 601.4 1180.3 600.4 1177.1 599.4 1173.7 598.4 1170.3 597.4 1166.8 596.4 1163.3 595.4 1159.7 594.4 1156.2 593.4 1152.6 592.4 1149.2 591.4 1145.7 590.4 1142.1 589.4 1138.4 588.4 1134.5 587.4 1130.4 586.4 1125.9 585.4 1121 584.4 1115.6 583.4 1109.9 582.4 1104.1 581.4 1098.1 580.4 1092.2 579.4 1086.5 578.4 1081 577.4 1075.9 576.4 1071 575.4 1066.3 574.4 1061.7 573.4 1057.1 572.4 1052.5 571.4 1047.8 570.4 1043 569.4 1038 568.4 1032.7 567.4 1027.2 566.4 1021.3 565.4 1015.1 564.4 1008.7 563.4 1002.1 562.4 995.4 561.4 988.5 560.4 981.7 559.4 974.8 558.4 968 557.4 961.3 556.4 954.8 555.4 948.3 554.4 941.9 553.4 935.5 552.4 929 551.4 922.5 550.4 915.8 549.4 909 548.4 902 547.4 894.7 546.4 887.1 545.4 879 544.4 870.7 543.4 862.1 542.4 853.4 541.4 844.6 540.4 835.7 539.4 826.9 538.4 818.3 537.4 809.8 536.4 801.6 536.2 800 535.4 793.7 534.4 786 533.4 778.6 532.4 771.1 531.4 763.7 530.4 756.3 529.4 748.6 528.4 740.8 528.3 740 527.4 732.6 526.4 723.9 525.4 715.1 524.4 706.2 523.4 697.5 522.4 689.2 521.4 681.5 521.2 680 520.4 674.3 519.4 667.6 518.4 661.1 517.4 654.9 516.4 648.9 515.4 642.9 514.4 637 513.4 631 512.4 625 511.6 620 511.4 618.7 510.4 612.3 509.4 605.7 508.4 599.1 507.4 592.6 506.4 586.1 505.4 579.9 504.4 573.9 503.7 570 503.4 568.4 502.4 563.1 501.4 557.9 500.4 553 499.4 548.2 498.4 543.5 497.4 538.9 496.4 534.4 495.4 530 494.4 525.5 493.4 521 492.4 516.5 491.4 512.2 490.4 508.1 489.4 504.3 488.4 500.9 488.1 500 487.4 497.9 486.4 495.1 485.4 492.5 484.4 490.1 483.4 488 482.4 486.3 482.2 486 481.4 484.9 480.4 483.8 479.4 482.8 478.4 481.9 477.4 480.9 476.8 480.2 476.4 479.7 475.9 479.1 475.6 478.9Z"/>
<path fill="none" stroke="#00ff00" stroke-width="8.9" stroke-linejoin="round" d="M241.5 1066.4 242.5 1069.6 243.5 1072.7 244.5 1075.8 245.5 1078.8 246.5 1081.8 247.5 1084.8 248.5 1087.7 249.5 1090.6 250.5 1093.4 251.5 1096.2 252.5 1099 253.5 1101.8 254.5 1104.5 255.5 1107.1 256.5 1109.7 257.5 1112.3 258.5 1114.8 259.5 1117.2 260.5 1119.6 261.5 1122 262.5 1124.3 263.5 1126.6 264.5 1128.9 265.5 1131 266.5 1133.1 267.5 1135.2 268.5 1137.1 269.5 1139 270.5 1140.9 271.5 1142.7 272.5 1144.5 273.5 1146.2 274.5 1147.8 275.5 1149.4 276.5 1150.9 277.5 1152.3 278.5 1153.5 279.5 1154.8 280.5 1156 281.5 1157.1 282.5 1158.2 283.5 1159.3 284.5 1160.2 285.5 1161.1 286.5 1162 287.5 1162.7 288.5 1163.3 289.5 1163.9 290.5 1164.6 291.5 1165.2 292.5 1165.7 293.5 1166.2 294.5 1166.6 295.5 1167 296.5 1167.2 297.5 1167.3 298.5 1167.3 299.5 1167.2 300.5 1167 301.5 1166.8 302.5 1166.6 303.5 1166.3 304.5 1166 305.5 1165.7 306.5 1165.3 307.5 1164.9 308.5 1164.4 309.5 1163.8 310.5 1163 311.5 1162.1 312.5 1161.1 313.5 1160.1 314.5 1159.1 315.5 1158 316.5 1157 317.5 1156 318.5 1155.1 319.5 1154.1 320.5 1153.2 321.5 1152.2 322.5 1151.2 323.5 1150.1 324.5 1148.9 325.5 1147.7 326.5 1146.3 327.5 1144.8 328.5 1143.1 329.5 1141.2 330.5 1139.2 331.5 1137 332.5 1134.7 333.5 1132.3 334.5 1129.8 335.5 1127.2 336.3 1125 336.5 1124.4 337.5 1121.1 338.5 1117.4 339.5 1113.9 340.2 1112 340.5 1111.3 341.5 1108.8 342.5 1106.8 343.5 1105.8 343.6 1105.8 344.5 1107.1 345.5 1110.7 346.5 1115.2 347.5 1118.9 348.5 1120.5 349.5 1119.6 350.5 1117.4 351.5 1114.4 352.5 1111.4 353 1110 353.5 1108.7 354.5 1105.9 355.5 1103 356.2 1100.8 356.5 1099.8 357.5 1096.3 358.5 1092.5 359.5 1088.5 360.5 1084.3 361.5 1080 362.5 1075.8 363.5 1071.5 364.5 1067.4 365.5 1063.5 366 1061.6 366.5 1059.8 367.5 1056.2 368.5 1052.8 369.5 1049.6 370.5 1046.3 371.5 1043.1 372.5 1039.9 373.5 1036.7 374.5 1033.3 375.5 1029.8 376.5 1026.2 377.5 1022.4 378.1 1020 378.5 1018.3 379.5 1014 380.5 1009.4 381.5 1004.6 382.5 999.6 383.5 994.5 384.5 989.3 385.5 984.1 386.3 980 386.5 979 387.5 973.8 388.5 968.5 389.5 963.2 390.5 957.9 391.5 952.5 392.5 947 393.5 941.5 394.5 935.9 395.5 930.3 396.5 924.7 397.5 919 398.5 913.3 399.5 907.5 400.5 901.7 400.8 900 401.5 895.9 402.5 890 403.5 884 404.5 878 405.5 872 406.5 865.9 407.5 859.7 408.5 853.5 409.5 847.3 410.5 841 411.5 834.7 412.5 828.4 413.5 822.1 414.5 815.8 415.5 809.5 416.5 803.2 417 800 417.5 796.8 418.5 790.6 419.5 784.3 420.5 778 421.5 771.7 422.5 765.4 423.5 758.9 424.5 752.3 425.5 745.5 426.3 740 426.5 738.6 427.5 731.3 428.5 723.7 429.5 715.9 430.5 708 431.5 700.2 432.5 692.5 433.5 685 434.2 680 434.5 677.9 435.5 671 436.5 664.3 437.5 657.7 438.5 651.2 439.5 644.8 440.5 638.5 441.5 632.3 442.5 626.1 443.5 620 444.5 613.9 445.5 607.9 446.5 602 447.5 596.2 448.5 590.4 449.5 584.7 450.5 579 451.5 573.4 452.1 570 452.5 567.7 453.5 562 454.5 556.2 455.5 550.4 456.5 544.8 457.5 539.4 458.5 534.4 459.5 530 460.5 525.9 461.5 522 462.5 518.3 463.5 514.8 464.5 511.5 465.5 508.3 466.5 505.3 467.5 502.6 468.5 500 469.5 497.6 470.5 495.4 471.5 493.3 472.5 491.3 473.5 489.5 474.5 487.7 475.5 486 476.5 484.4 477.5 482.9 478.5 481.5 479.5 480.2 480.4 479.1 480.5 479 480.7 478.9 481 479.1 481.5 479.7 481.9 480.2 482.5 480.9 483.5 481.9 484.5 482.8 485.5 483.8 486.5 484.9 487.3 486 487.5 486.3 488.5 488 489.5 490.1 490.5 492.5 491.5 495.1 492.5 497.9 493.2 500 493.5 500.9 494.5 504.3 495.5 508.1 496.5 512.2 497.5 516.5 498.5 521 499.5 525.5 500.5 530 501.5 534.4 502.5 538.9 503.5 543.5 504.5 548.2 505.5 553 506.5 557.9 507.5 563.1 508.5 568.4 508.8 570 509.5 573.9 510.5 579.9 511.5 586.1 512.5 592.6 513.5 599.1 514.5 605.7 515.5 612.3 516.5 618.7 516.7 620 517.5 625 518.5 631 519.5 637 520.5 642.9 521.5 648.9 522.5 654.9 523.5 661.1 524.5 667.6 525.5 674.3 526.3 680 526.5 681.5 527.5 689.2 528.5 697.5 529.5 706.2 530.5 715.1 531.5 723.9 532.5 732.6 533.4 740 533.5 740.8 534.5 748.6 535.5 756.3 536.5 763.7 537.5 771.1 538.5 778.6 539.5 786 540.5 793.7 541.3 800 541.5 801.6 542.5 809.8 543.5 818.3 544.5 826.9 545.5 835.7 546.5 844.6 547.5 853.4 548.5 862.1 549.5 870.7 550.5 879 551.5 887.1 552.5 894.7 553.5 902 554.5 909 555.5 915.8 556.5 922.5 557.5 929 558.5 935.5 559.5 941.9 560.5 948.3 561.5 954.8 562.5 961.3 563.5 968 564.5 974.8 565.5 981.7 566.5 988.5 567.5 995.4 568.5 1002.1 569.5 1008.7 570.5 1015.1 571.5 1021.3 572.5 1027.2 573.5 1032.7 574.5 1038 575.5 1043 576.5 1047.8 577.5 1052.5 578.5 1057.1 579.5 1061.7 580.5 1066.3 581.5 1071 582.5 1075.9 583.5 1081 584.5 1086.5 585.5 1092.2 586.5 1098.1 587.5 1104.1 588.5 1109.9 589.5 1115.6 590.5 1121 591.5 1125.9 592.5 1130.4 593.5 1134.5 594.5 1138.4 595.5 1142.1 596.5 1145.7 597.5 1149.2 598.5 1152.6 599.5 1156.2 600.5 1159.7 601.5 1163.3 602.5 1166.8 603.5 1170.3 604.5 1173.7 605.5 1177.1 606.5 1180.3 607.5 1183.6 608.5 1186.8 609.5 1189.9 610.5 1193 611.5 1196 612.5 1198.9 613.5 1201.7 614.5 1204.4 615.5 1207 616.5 1209.6 617.5 1212.1 618.5 1214.6 619.5 1217 620.5 1219.3 621.5 1221.7 622.5 1223.9 623.5 1226.1 624.5 1228.3 625.5 1230.5 626.5 1232.6 627.5 1234.7 628.5 1236.7 629.5 1238.7 630.5 1240.8 631.5 1242.7 632.5 1244.7 633.5 1246.7 634.5 1248.6 635.5 1250.5 636.5 1252.4 637.5 1254.3 638.5 1256.2 639.5 1258.1 640.5 1259.9 641.5 1261.8 642.5 1263.6 643.5 1265.4 644.5 1267.2 645.5 1269 646.5 1270.8 647.5 1272.5 648.5 1274.3 649.5 1276 650.5 1277.8 651.5 1279.5 652.5 1281.2 653.5 1282.9 654.5 1284.5 655.5 1286.2 656.5 1287.8 657.5 1289.5 658.5 1291.1 659.5 1292.7 660.5 1294.2 661.5 1295.8 662.5 1297.3 663.5 1298.8 664.5 1300.3 665.5 1301.7 666.5 1303.2 667.5 1304.6 668.5 1305.9 669.5 1307.3 670.5 1308.6 671.5 1309.9 672.5 1311.2 673.5 1312.5 674.5 1313.7 675.5 1315 676.5 1316.2 677.5 1317.3 678.5 1318.5 679.5 1319.6 680.5 1320.8 681.5 1321.8 682.5 1322.9 683.5 1324 684.5 1325 685.5 1326 686.5 1327 687.5 1328 688.5 1329 689.5 1329.9 690.5 1330.9 691.5 1331.8 692.5 1332.7 693.5 1333.6 694.5 1334.4 695.5 1335.3 696.5 1336.1 697.5 1337 698.5 1337.8 699.5 1338.6 700.5 1339.4 701.5 1340.2 702.5 1340.9 703.5 1341.7 704.5 1342.4 705.5 1343.2 706.5 1343.9 707.5 1344.6 708.5 1345.3 709.5 1346 710.5 1346.7 711.5 1347.4 712.5 1348 713.5 1348.7 714.5 1349.4 715.5 1350 716.5 1350.6 717.5 1351.3 718.5 1351.9 719.5 1352.5 720.5 1353.2 721.5 1353.8 722.5 1354.4 723.5 1355 724.5 1355.6 725.5 1356.2 726.5 1356.8 727.5 1357.4 728.5 1358 729.5 1358.5 730.5 1359.1 731.5 1359.7 732.5 1360.3 733.5 1360.8 734.5 1361.4 735.5 1361.9 736.5 1362.5 737.5 1363 738.5 1363.6 739.5 1364.1 740.5 1364.6 741.5 1365.2 742.5 1365.7 743.5 1366.2 744.5 1366.7 745.5 1367.2 746.5 1367.7 747.5 1368.2 748.5 1368.7 749.5 1369.1 750.5 1369.6 751.5 1370.1 752.5 1370.5 753.5 1371 754.5 1371.5 755.5 1371.9 756.5 1372.3 757.5 1372.8 758.5 1373.2 759.5 1373.6 760.5 1374.1 761.5 1374.5 762.5 1374.9 763.5 1375.3 764.5 1375.7 765.5 1376.1 766.5 1376.5 767.5 1376.9 768.5 1377.3 769.5 1377.7 770.5 1378.1 771.5 1378.5 772.5 1378.9 773.5 1379.3 774.5 1379.7 775.5 1380.1 776.5 1380.4 777.5 1380.8 778.5 1381.2 779.5 1381.5 780.5 1381.9 784.5 1383.3 788.5 1384.7 792.5 1386.1 796.5 1387.4 800.5 1388.7 804.5 1390 808.5 1391.3 812.5 1392.5 816.5 1393.7 820.5 1394.8 824.5 1396 828.5 1397.1 832.5 1398.2 836.5 1399.3 840.5 1400.4 844.5 1401.4 848.5 1402.4 852.5 1403.4 856.5 1404.4 860.5 1405.3 864.5 1406.2 868.5 1407.1 872.5 1407.9 876.5 1408.8 880.5 1409.5 884.5 1410.3 888.5 1411 892.5 1411.7 896.5 1412.4 900.5 1413.1 904.5 1413.7 908.5 1414.3 912.5 1415 916.5 1415.6 920.5 1416.1 924.5 1416.7 928.5 1417.3 932.5 1417.9 936.5 1418.4 940.5 1419 944.5 1419.6 948.5 1420.2 952.5 1420.7 956.5 1421.3 960.5 1421.8 964.5 1422.4 968.5 1422.9 972.5 1423.4 976.5 1423.9 980.5 1424.4 984.5 1424.9 988.5 1425.4 992.5 1425.8 996.5 1426.3 1000.5 1426.7 1004.5 1427.1 1008.5 1427.5 1012.5 1427.9 1016.5 1428.2 1020.5 1428.6 1024.5 1428.9 1028.5 1429.3 1032.5 1429.6 1036.5 1430 1040.5 1430.3 1044.5 1430.7 1048.5 1431 1052.5 1431.4 1056.5 1431.7 1060.5 1432.1 1064.5 1432.5 1068.5 1432.9 1072.5 1433.3 1076.5 1433.7 1080.5 1434.1 1084.5 1434.6 1088.5 1435 1092.5 1435.4 1096.5 1435.8 1100.5 1436.2 1104.5 1436.6 1108.5 1437 1112.5 1437.3 1116.5 1437.6 1120.5 1437.9 1124.5 1438.2 1128.5 1438.5 1132.5 1438.7 1136.5 1439 1140.5 1439.2 1144.5 1439.4 1148.5 1439.6 1152.5 1439.8 1156.5 1440 1160.5 1440.2 1164.5 1440.4 1168.5 1440.6 1172.5 1440.7 1176.5 1440.9 1180.5 1441.1 1184.5 1441.3 1188.5 1441.5 1192.5 1441.8 1196.5 1442 1200.5 1442.2 1204.5 1442.4 1208.5 1442.6 1212.5 1442.9 1216.5 1443.1 1220.5 1443.3 1224.5 1443.6 1228.5 1443.8 1232.5 1444 1236.5 1444.3 1240.5 1444.5 1244.5 1444.7 1248.5 1444.9 1252.5 1445.2 1256.5 1445.4 1260.5 1445.6 1264.5 1445.8 1268.5 1446 1272.5 1446.2 1276.5 1446.4 1280.5 1446.6 1284.5 1446.8 1288.5 1447 1292.5 1447.2 1296.5 1447.4 1300.5 1447.5 1304.5 1447.7 1308.5 1447.9 1312.5 1448 1316.5 1448.2 1320.5 1448.3 1324.5 1448.5 1328.5 1448.6 1332.5 1448.7 1336.5 1448.9 1340.5 1449 1343.5 1449.1"/>
<path fill="#ff0000" d="M241.8 779.8 242.8 784.2 243.8 788.6 244.8 792.9 245.8 797.1 246.8 801.3 247.8 805.5 248.8 809.6 249.8 813.7 250.8 817.7 251.8 821.6 252.8 825.6 253.8 829.5 254.8 833.3 255.8 837.2 256.8 841.1 257.8 845 258.8 848.8 259.8 852.5 260.8 856.1 261.8 859.6 262.8 863 263.8 866.2 264.8 869.2 265.8 872.1 266.8 874.9 267.8 877.6 268.8 880.3 269.8 882.8 270.8 885.3 271.8 887.7 272.8 890 273.8 892.2 274.8 894.2 275.8 896.2 276.8 898 277.8 899.8 278.8 901.4 279.8 903 280.8 904.5 281.8 905.9 282.8 907.3 283.8 908.7 284.8 910 285.8 911.2 286.8 912.5 287.8 913.7 288.8 914.8 289.8 916 290.8 917.2 291.8 918.4 292.8 919.6 293.8 920.7 294.8 921.8 295.8 922.8 296.8 923.8 297.8 924.7 298.8 925.5 299.8 926.1 300.8 926.7 301.8 927.2 302.8 927.7 303.8 928.2 304.8 928.7 305.8 929.1 306.8 929.4 307.8 929.7 308.8 929.9 309.8 929.9 310.8 929.8 311.8 929.7 312.8 929.4 313.8 929.1 314.8 928.7 315.8 928.2 316.8 927.7 317.8 927.2 318.8 926.6 319.8 926.1 320.8 925.5 321.8 924.9 322.8 924.4 323.8 924 324.8 923.5 325.8 923.1 326.8 922.7 327.8 922.3 328.8 921.9 329.8 921.4 330.8 920.9 331.8 920.3 332.8 919.5 333.1 919.3 333.8 918.5 334.8 916.9 335.8 914.8 336.8 912.5 337.8 910.1 338.8 907.8 339.8 905.8 340.1 905.3 340.8 904.1 341.8 902.3 342.8 901 343.6 900.6 343.8 900.8 344.8 905.7 345.8 913.8 346.8 920.5 347.2 921.7 347.8 922.6 348.8 923.6 349.5 923.9 349.8 923.8 350.8 921.7 351.8 917.6 352.8 912 353.8 905.6 354.2 902.9 354.8 896.7 355.8 882.9 356.5 877.2 356.8 876.4 357.8 873.9 358.8 872 359.8 870.8 360.8 870.2 361.2 870.1 361.8 870.2 362.8 870.7 363.8 871.6 364.8 872.6 365.8 873.6 366.8 874.4 367.8 874.9 368.2 874.9 368.8 872.5 369.8 862.7 370.6 856.1 370.8 855.2 371.8 851 372.8 847.4 373.8 844.4 374.8 841.7 375.8 839.3 376.8 836.9 377.8 834.4 378.8 831.7 379.8 828.6 380 827.9 380.8 825 381.8 821.2 382.8 817.2 383.8 813.1 384.8 808.8 385.8 804.4 386.8 800.1 387.8 795.8 388 794.9 388.8 791.5 389.8 787.2 390.8 782.9 391.8 778.6 392.8 774.3 393.8 769.9 394.8 765.5 395.8 761.1 396.8 756.5 397.8 751.9 398.8 747.2 399.8 742.4 400.8 737.4 401.3 734.9 401.8 732.3 402.8 727 403.8 721.5 404.8 715.8 405.8 709.9 406.8 704 407.8 698.1 408.8 692.2 409.8 686.3 410.8 680.5 411.8 674.9 412.8 669.4 413.8 663.9 414.8 658.5 415.8 653.2 416.8 647.8 417.8 642.5 418.8 637.2 419.8 631.9 420.8 626.6 421.8 621.3 422.8 616 423 614.9 423.8 610.6 424.8 605.4 425.8 600.1 426.8 594.9 427.8 589.7 428.8 584.4 429.8 579.1 430.8 573.7 431.8 568.2 432.4 564.9 432.8 562.7 433.8 556.9 434.8 551.1 435.8 545.1 436.8 539 437.8 533 438.8 526.9 439.8 520.8 440.8 514.8 441.8 509 442.8 503.2 443.8 497.6 444.3 494.9 444.8 492.2 445.8 486.8 446.8 481.3 447.8 475.8 448.8 470.5 449.8 465.1 450.8 460 451.8 454.9 452.8 450.1 453.8 445.5 454.8 441.2 455.8 437.2 456.4 434.9 456.8 433.5 457.8 430.2 458.8 427.3 459.8 424.6 460.8 422.1 461.8 419.6 462.8 417.2 463.8 414.6 464.8 411.9 465.8 408.9 466.8 405.6 467.7 402.2 467.8 401.8 468.8 396.3 469.5 392.9 469.8 391.9 470.8 388.9 471.8 387.2 472.8 386.6 473.8 386.3 474.8 386 475.8 385.6 476 385.5 476.8 385 477.8 384.4 478.8 383.7 479.6 383.1 479.8 383 480.5 382.5 480.8 382.3 481.1 382.5 481.8 383.2 482.2 383.7 482.8 384.6 483.8 386.3 484.8 388.1 485 388.4 485.8 389.5 486.8 390.8 487.8 392.1 488.8 393.6 489.5 394.9 489.8 395.6 490.8 398.6 491.8 402.2 492.8 405.9 493.8 409.7 494.8 413.8 495.8 418.1 496.8 422.5 497.8 427 498.8 431.6 499.5 434.9 499.8 436.3 500.8 441.1 501.8 446.1 502.8 451.2 503.8 456.4 504.8 461.7 505.8 467.1 506.8 472.7 507.8 478.4 508.8 484.2 509.8 490.1 510.6 494.9 510.8 496.1 511.8 502.4 512.8 508.9 513.8 515.6 514.8 522.5 515.8 529.5 516.8 536.5 517.8 543.7 518.8 550.8 519.8 557.9 520.8 564.9 521.8 571.9 522.8 578.9 523.8 586 524.8 593 525.8 600.1 526.8 607.2 527.8 614.2 527.9 614.9 528.8 621.2 529.8 628.1 530.8 635 531.8 641.9 532.8 648.8 533.8 655.7 534.8 662.7 535.8 669.8 536.5 674.9 536.8 677.1 537.8 684.5 538.8 692 539.8 699.6 540.8 707.3 541.8 715 542.8 722.7 543.8 730.3 544.4 734.9 544.8 737.9 545.8 745.6 546.8 753.4 547.8 761.1 548.8 768.8 549.8 776.5 550.8 784 551.8 791.3 552.3 794.9 552.8 798.5 553.8 805.5 554.8 812.5 555.8 819.4 556.8 826.2 557.8 833 558.8 839.7 559.8 846.3 560.8 852.8 561.8 859.3 562.8 865.8 563.8 872.1 564.8 878.4 565.8 884.7 566.8 890.8 567.8 896.9 568.8 903 569.8 909 570.8 914.9 571.8 920.8 572.8 926.6 573.8 932.3 574.8 937.9 575.8 943.5 576.8 949 577.8 954.4 578.8 959.7 579.8 965.1 580.8 970.4 581.8 975.7 582.8 980.9 583.8 986.1 584.8 991.2 585.8 996.3 586.8 1001.2 587.8 1006 588.8 1010.8 589.8 1015.3 590.8 1019.8 591.8 1024.1 592.8 1028.2 593.8 1032.3 594.8 1036.2 595.8 1040.1 596.8 1043.9 597.8 1047.6 598.8 1051.3 599.8 1054.8 600.8 1058.3 601.8 1061.7 602.8 1065 603.8 1068.3 604.8 1071.4 605.8 1074.5 606.8 1077.5 607.8 1080.4 608.8 1083.2 609.8 1085.9 610.8 1088.5 611.8 1091.1 612.8 1093.8 613.8 1096.4 614.8 1099 615.8 1101.6 616.8 1104.2 617.8 1106.9 618.8 1109.5 619.8 1112.1 620.8 1114.7 621.8 1117.3 622.8 1119.9 623.8 1122.4 624.8 1124.9 625.8 1127.4 626.8 1129.9 627.8 1132.3 628.8 1134.7 629.8 1137.1 630.8 1139.4 631.8 1141.7 632.8 1144 633.8 1146.2 634.8 1148.5 635.8 1150.6 636.8 1152.8 637.8 1154.9 638.8 1156.9 639.8 1158.9 640.8 1160.9 641.8 1162.9 642.8 1164.8 643.8 1166.7 644.8 1168.5 645.8 1170.3 646.8 1172.1 647.8 1173.9 648.8 1175.6 649.8 1177.4 650.8 1179.1 651.8 1180.7 652.8 1182.4 653.8 1184 654.8 1185.6 655.8 1187.2 656.8 1188.8 657.8 1190.3 658.8 1191.8 659.8 1193.3 660.8 1194.8 661.8 1196.3 662.8 1197.7 663.8 1199.2 664.8 1200.6 665.8 1202 666.8 1203.4 667.8 1204.7 668.8 1206.1 669.8 1207.4 670.8 1208.7 671.8 1210 672.8 1211.2 673.8 1212.5 674.8 1213.7 675.8 1214.9 676.8 1216.1 677.8 1217.3 678.8 1218.5 679.8 1219.7 680.8 1220.8 681.8 1221.9 682.8 1223.1 683.8 1224.2 684.8 1225.2 685.8 1226.3 686.8 1227.4 687.8 1228.4 688.8 1229.5 689.8 1230.5 690.8 1231.5 691.8 1232.5 692.8 1233.5 693.8 1234.4 694.8 1235.4 695.8 1236.4 696.8 1237.3 697.8 1238.3 698.8 1239.2 699.8 1240.1 700.8 1241 701.8 1241.9 702.8 1242.9 703.8 1243.8 704.8 1244.6 705.8 1245.5 706.8 1246.4 707.8 1247.3 708.8 1248.2 709.8 1249 710.8 1249.9 711.8 1250.8 712.8 1251.6 713.8 1252.5 714.8 1253.3 715.8 1254.2 716.8 1255 717.8 1255.9 718.8 1256.7 719.8 1257.6 720.8 1258.4 721.8 1259.2 722.8 1260 723.8 1260.9 724.8 1261.7 725.8 1262.5 726.8 1263.3 727.8 1264.1 728.8 1264.9 729.8 1265.7 730.8 1266.5 731.8 1267.3 732.8 1268 733.8 1268.8 734.8 1269.6 735.8 1270.3 736.8 1271.1 737.8 1271.8 738.8 1272.6 739.8 1273.3 740.8 1274 741.8 1274.7 742.8 1275.4 743.8 1276.1 744.8 1276.8 745.8 1277.4 746.8 1278.1 747.8 1278.7 748.8 1279.4 749.8 1280 750.8 1280.6 751.8 1281.2 752.8 1281.8 753.8 1282.4 754.8 1283 755.8 1283.6 756.8 1284.1 757.8 1284.7 758.8 1285.2 759.8 1285.8 760.8 1286.3 761.8 1286.9 762.8 1287.4 763.8 1287.9 764.8 1288.4 765.8 1288.9 766.8 1289.5 767.8 1290 768.8 1290.5 769.8 1291 770.8 1291.5 771.8 1292 772.8 1292.5 773.8 1292.9 774.8 1293.4 775.8 1293.9 776.8 1294.4 777.8 1294.9 778.8 1295.3 779.8 1295.8 780.8 1296.3 784.8 1298.1 788.8 1299.9 792.8 1301.7 796.8 1303.4 800.8 1305.1 804.8 1306.8 808.8 1308.5 812.8 1310.2 816.8 1311.8 820.8 1313.4 824.8 1315.1 828.8 1316.7 832.8 1318.3 836.8 1319.8 840.8 1321.4 844.8 1322.9 848.8 1324.5 852.8 1326 856.8 1327.4 860.8 1328.9 864.8 1330.3 868.8 1331.7 872.8 1333.1 876.8 1334.4 880.8 1335.7 884.8 1336.9 888.8 1338.1 892.8 1339.3 896.8 1340.5 900.8 1341.6 904.8 1342.7 908.8 1343.8 912.8 1344.8 916.8 1345.9 920.8 1346.9 924.8 1347.9 928.8 1349 932.8 1350 936.8 1351 940.8 1352 944.8 1353 948.8 1354 952.8 1355 956.8 1355.9 960.8 1356.9 964.8 1357.8 968.8 1358.7 972.8 1359.6 976.8 1360.4 980.8 1361.2 984.8 1362 988.8 1362.8 992.8 1363.5 996.8 1364.1 1000.8 1364.8 1004.8 1365.4 1008.8 1366 1012.8 1366.6 1016.8 1367.1 1020.8 1367.7 1024.8 1368.2 1028.8 1368.7 1032.8 1369.2 1036.8 1369.8 1040.8 1370.3 1044.8 1370.8 1048.8 1371.3 1052.8 1371.8 1056.8 1372.4 1060.8 1372.9 1064.8 1373.5 1068.8 1374 1072.8 1374.6 1076.8 1375.2 1080.8 1375.7 1084.8 1376.3 1088.8 1376.9 1092.8 1377.5 1096.8 1378.1 1100.8 1378.7 1104.8 1379.3 1108.8 1379.9 1112.8 1380.5 1116.8 1381 1120.8 1381.6 1124.8 1382.2 1128.8 1382.7 1132.8 1383.3 1136.8 1383.9 1140.8 1384.4 1144.8 1384.9 1148.8 1385.5 1152.8 1386 1156.8 1386.5 1160.8 1387 1164.8 1387.5 1168.8 1387.9 1172.8 1388.4 1176.8 1388.8 1180.8 1389.3 1184.8 1389.7 1188.8 1390.1 1192.8 1390.5 1196.8 1390.9 1200.8 1391.3 1204.8 1391.7 1208.8 1392 1212.8 1392.4 1216.8 1392.8 1220.8 1393.1 1224.8 1393.5 1228.8 1393.9 1232.8 1394.2 1236.8 1394.6 1240.8 1394.9 1244.8 1395.3 1248.8 1395.6 1252.8 1396 1256.8 1396.3 1260.8 1396.7 1264.8 1397.1 1268.8 1397.4 1272.8 1397.8 1276.8 1398.1 1280.8 1398.5 1284.8 1398.9 1288.8 1399.2 1292.8 1399.6 1296.8 1400 1300.8 1400.3 1304.8 1400.7 1308.8 1401.1 1312.8 1401.5 1316.8 1401.8 1320.8 1402.2 1324.8 1402.6 1328.8 1403 1332.8 1403.4 1336.8 1403.7 1340.8 1404.1 1343.5 1404.4 1343.5 1414.6 1340.8 1414.3 1336.8 1413.9 1332.8 1413.6 1328.8 1413.2 1324.8 1412.8 1320.8 1412.4 1316.8 1412 1312.8 1411.7 1308.8 1411.3 1304.8 1410.9 1300.8 1410.5 1296.8 1410.2 1292.8 1409.8 1288.8 1409.4 1284.8 1409.1 1280.8 1408.7 1276.8 1408.3 1272.8 1408 1268.8 1407.6 1264.8 1407.3 1260.8 1406.9 1256.8 1406.5 1252.8 1406.2 1248.8 1405.8 1244.8 1405.5 1240.8 1405.1 1236.8 1404.8 1232.8 1404.4 1228.8 1404.1 1224.8 1403.7 1220.8 1403.3 1216.8 1403 1212.8 1402.6 1208.8 1402.2 1204.8 1401.9 1200.8 1401.5 1196.8 1401.1 1192.8 1400.7 1188.8 1400.3 1184.8 1399.9 1180.8 1399.5 1176.8 1399 1172.8 1398.6 1168.8 1398.1 1164.8 1397.7 1160.8 1397.2 1156.8 1396.7 1152.8 1396.2 1148.8 1395.7 1144.8 1395.1 1140.8 1394.6 1136.8 1394.1 1132.8 1393.5 1128.8 1392.9 1124.8 1392.4 1120.8 1391.8 1116.8 1391.2 1112.8 1390.7 1108.8 1390.1 1104.8 1389.5 1100.8 1388.9 1096.8 1388.3 1092.8 1387.7 1088.8 1387.1 1084.8 1386.5 1080.8 1385.9 1076.8 1385.4 1072.8 1384.8 1068.8 1384.2 1064.8 1383.7 1060.8 1383.1 1056.8 1382.6 1052.8 1382 1048.8 1381.5 1044.8 1381 1040.8 1380.5 1036.8 1380 1032.8 1379.4 1028.8 1378.9 1024.8 1378.4 1020.8 1377.9 1016.8 1377.3 1012.8 1376.8 1008.8 1376.2 1004.8 1375.6 1000.8 1375 996.8 1374.3 992.8 1373.7 988.8 1373 984.8 1372.2 980.8 1371.4 976.8 1370.6 972.8 1369.8 968.8 1368.9 964.8 1368 960.8 1367.1 956.8 1366.1 952.8 1365.2 948.8 1364.2 944.8 1363.2 940.8 1362.2 936.8 1361.2 932.8 1360.2 928.8 1359.2 924.8 1358.1 920.8 1357.1 916.8 1356.1 912.8 1355 908.8 1354 904.8 1352.9 900.8 1351.8 896.8 1350.7 892.8 1349.5 888.8 1348.3 884.8 1347.1 880.8 1345.9 876.8 1344.6 872.8 1343.3 868.8 1341.9 864.8 1340.5 860.8 1339.1 856.8 1337.6 852.8 1336.2 848.8 1334.7 844.8 1333.1 840.8 1331.6 836.8 1330 832.8 1328.5 828.8 1326.9 824.8 1325.3 820.8 1323.6 816.8 1322 812.8 1320.4 808.8 1318.7 804.8 1317 800.8 1315.3 796.8 1313.6 792.8 1311.9 788.8 1310.1 784.8 1308.3 780.8 1306.5 779.8 1306 778.8 1305.5 777.8 1305.1 776.8 1304.6 775.8 1304.1 774.8 1303.6 773.8 1303.1 772.8 1302.7 771.8 1302.2 770.8 1301.7 769.8 1301.2 768.8 1300.7 767.8 1300.2 766.8 1299.7 765.8 1299.1 764.8 1298.6 763.8 1298.1 762.8 1297.6 761.8 1297.1 760.8 1296.5 759.8 1296 758.8 1295.4 757.8 1294.9 756.8 1294.3 755.8 1293.8 754.8 1293.2 753.8 1292.6 752.8 1292 751.8 1291.4 750.8 1290.8 749.8 1290.2 748.8 1289.6 747.8 1288.9 746.8 1288.3 745.8 1287.6 744.8 1287 743.8 1286.3 742.8 1285.6 741.8 1284.9 740.8 1284.2 739.8 1283.5 738.8 1282.8 737.8 1282 736.8 1281.3 735.8 1280.5 734.8 1279.8 733.8 1279 732.8 1278.2 731.8 1277.5 730.8 1276.7 729.8 1275.9 728.8 1275.1 727.8 1274.3 726.8 1273.5 725.8 1272.7 724.8 1271.9 723.8 1271.1 722.8 1270.2 721.8 1269.4 720.8 1268.6 719.8 1267.8 718.8 1266.9 717.8 1266.1 716.8 1265.2 715.8 1264.4 714.8 1263.5 713.8 1262.7 712.8 1261.8 711.8 1261 710.8 1260.1 709.8 1259.2 708.8 1258.4 707.8 1257.5 706.8 1256.6 705.8 1255.7 704.8 1254.8 703.8 1254 702.8 1253.1 701.8 1252.1 700.8 1251.2 699.8 1250.3 698.8 1249.4 697.8 1248.5 696.8 1247.5 695.8 1246.6 694.8 1245.6 693.8 1244.6 692.8 1243.7 691.8 1242.7 690.8 1241.7 689.8 1240.7 688.8 1239.7 687.8 1238.6 686.8 1237.6 685.8 1236.5 684.8 1235.4 683.8 1234.4 682.8 1233.3 681.8 1232.1 680.8 1231 679.8 1229.9 678.8 1228.7 677.8 1227.5 676.8 1226.3 675.8 1225.1 674.8 1223.9 673.8 1222.7 672.8 1221.4 671.8 1220.2 670.8 1218.9 669.8 1217.6 668.8 1216.3 667.8 1214.9 666.8 1213.6 665.8 1212.2 664.8 1210.8 663.8 1209.4 662.8 1207.9 661.8 1206.5 660.8 1205 659.8 1203.5 658.8 1202 657.8 1200.5 656.8 1199 655.8 1197.4 654.8 1195.8 653.8 1194.2 652.8 1192.6 651.8 1190.9 650.8 1189.3 649.8 1187.6 648.8 1185.8 647.8 1184.1 646.8 1182.3 645.8 1180.5 644.8 1178.7 643.8 1176.9 642.8 1175 641.8 1173.1 640.8 1171.1 639.8 1169.1 638.8 1167.1 637.8 1165.1 636.8 1163 635.8 1160.8 634.8 1158.7 633.8 1156.4 632.8 1154.2 631.8 1151.9 630.8 1149.6 629.8 1147.3 628.8 1144.9 627.8 1142.5 626.8 1140.1 625.8 1137.6 624.8 1135.1 623.8 1132.6 622.8 1130.1 621.8 1127.5 620.8 1124.9 619.8 1122.3 618.8 1119.7 617.8 1117.1 616.8 1114.4 615.8 1111.8 614.8 1109.2 613.8 1106.6 612.8 1104 611.8 1101.3 610.8 1098.7 609.8 1096.1 608.8 1093.4 607.8 1090.6 606.8 1087.7 605.8 1084.7 604.8 1081.6 603.8 1078.5 602.8 1075.2 601.8 1071.9 600.8 1068.5 599.8 1065 598.8 1061.5 597.8 1057.8 596.8 1054.1 595.8 1050.3 594.8 1046.4 593.8 1042.5 592.8 1038.4 591.8 1034.3 590.8 1030 589.8 1025.5 588.8 1021 587.8 1016.2 586.8 1011.4 585.8 1006.5 584.8 1001.4 583.8 996.3 582.8 991.1 581.8 985.9 580.8 980.6 579.8 975.3 578.8 969.9 577.8 964.6 576.8 959.2 575.8 953.7 574.8 948.1 573.8 942.5 572.8 936.8 571.8 931 570.8 925.1 569.8 919.2 568.8 913.2 567.8 907.1 566.8 901 565.8 894.9 564.8 888.6 563.8 882.3 562.8 876 561.8 869.5 560.8 863 559.8 856.5 558.8 849.9 557.8 843.2 556.8 836.4 555.8 829.6 554.8 822.7 553.8 815.7 552.8 808.7 552.3 805.1 551.8 801.5 550.8 794.2 549.8 786.7 548.8 779 547.8 771.3 546.8 763.6 545.8 755.8 544.8 748.1 544.4 745.1 543.8 740.5 542.8 732.9 541.8 725.2 540.8 717.5 539.8 709.8 538.8 702.2 537.8 694.7 536.8 687.3 536.5 685.1 535.8 680 534.8 672.9 533.8 665.9 532.8 659 531.8 652.1 530.8 645.2 529.8 638.3 528.8 631.4 527.9 625.1 527.8 624.4 526.8 617.4 525.8 610.3 524.8 603.2 523.8 596.2 522.8 589.1 521.8 582.1 520.8 575.1 519.8 568.1 518.8 561 517.8 553.9 516.8 546.7 515.8 539.7 514.8 532.7 513.8 525.8 512.8 519.1 511.8 512.6 510.8 506.3 510.6 505.1 509.8 500.3 508.8 494.4 507.8 488.6 506.8 482.9 505.8 477.3 504.8 471.9 503.8 466.6 502.8 461.4 501.8 456.3 500.8 451.3 499.8 446.5 499.5 445.1 498.8 441.8 497.8 437.2 496.8 432.7 495.8 428.3 494.8 424 493.8 419.9 492.8 416.1 491.8 412.4 490.8 408.8 489.8 405.8 489.5 405.1 488.8 403.8 487.8 402.3 486.8 401 485.8 399.7 485 398.6 484.8 398.3 483.8 396.5 482.8 394.8 482.2 393.9 481.8 393.4 481.1 392.7 480.8 392.5 480.5 392.7 479.8 393.2 479.6 393.3 478.8 393.9 477.8 394.6 476.8 395.2 476 395.7 475.8 395.8 474.8 396.2 473.8 396.5 472.8 396.8 471.8 397.4 470.8 399.1 469.8 402.1 469.5 403.1 468.8 406.5 467.8 412 467.7 412.4 466.8 415.8 465.8 419.1 464.8 422.1 463.8 424.8 462.8 427.4 461.8 429.8 460.8 432.3 459.8 434.8 458.8 437.5 457.8 440.4 456.8 443.7 456.4 445.1 455.8 447.4 454.8 451.4 453.8 455.7 452.8 460.3 451.8 465.1 450.8 470.2 449.8 475.3 448.8 480.7 447.8 486 446.8 491.5 445.8 497 444.8 502.4 444.3 505.1 443.8 507.8 442.8 513.4 441.8 519.2 440.8 525 439.8 531 438.8 537.1 437.8 543.2 436.8 549.2 435.8 555.3 434.8 561.3 433.8 567.1 432.8 572.9 432.4 575.1 431.8 578.4 430.8 583.9 429.8 589.3 428.8 594.6 427.8 599.9 426.8 605.1 425.8 610.3 424.8 615.6 423.8 620.8 423 625.1 422.8 626.2 421.8 631.5 420.8 636.8 419.8 642.1 418.8 647.4 417.8 652.7 416.8 658 415.8 663.4 414.8 668.7 413.8 674.1 412.8 679.6 411.8 685.1 410.8 690.7 409.8 696.5 408.8 702.4 407.8 708.3 406.8 714.2 405.8 720.1 404.8 726 403.8 731.7 402.8 737.2 401.8 742.5 401.3 745.1 400.8 747.6 399.8 752.6 398.8 757.4 397.8 762.1 396.8 766.7 395.8 771.3 394.8 775.7 393.8 780.1 392.8 784.5 391.8 788.8 390.8 793.1 389.8 797.4 388.8 801.7 388 805.1 387.8 806 386.8 810.3 385.8 814.6 384.8 819 383.8 823.3 382.8 827.4 381.8 831.4 380.8 835.2 380 838.1 379.8 838.8 378.8 841.9 377.8 844.6 376.8 847.1 375.8 849.5 374.8 851.9 373.8 854.6 372.8 857.6 371.8 861.2 370.8 865.4 370.6 866.3 369.8 872.9 368.8 882.7 368.2 885.1 367.8 885.1 366.8 884.6 365.8 883.8 364.8 882.8 363.8 881.8 362.8 880.9 361.8 880.4 361.2 880.3 360.8 880.4 359.8 881 358.8 882.2 357.8 884.1 356.8 886.6 356.5 887.4 355.8 893.1 354.8 906.9 354.2 913.1 353.8 915.8 352.8 922.2 351.8 927.8 350.8 931.9 349.8 934 349.5 934.1 348.8 933.8 347.8 932.8 347.2 931.9 346.8 930.7 345.8 924 344.8 915.9 343.8 911 343.6 910.8 342.8 911.2 341.8 912.5 340.8 914.3 340.1 915.5 339.8 916 338.8 918 337.8 920.3 336.8 922.7 335.8 925 334.8 927.1 333.8 928.7 333.1 929.5 332.8 929.7 331.8 930.5 330.8 931.1 329.8 931.6 328.8 932.1 327.8 932.5 326.8 932.9 325.8 933.3 324.8 933.7 323.8 934.2 322.8 934.6 321.8 935.1 320.8 935.7 319.8 936.3 318.8 936.8 317.8 937.4 316.8 937.9 315.8 938.4 314.8 938.9 313.8 939.3 312.8 939.6 311.8 939.9 310.8 940 309.8 940.1 308.8 940.1 307.8 939.9 306.8 939.6 305.8 939.3 304.8 938.9 303.8 938.4 302.8 937.9 301.8 937.4 300.8 936.9 299.8 936.3 298.8 935.7 297.8 934.9 296.8 934 295.8 933 294.8 932 293.8 930.9 292.8 929.8 291.8 928.6 290.8 927.4 289.8 926.2 288.8 925 287.8 923.9 286.8 922.7 285.8 921.4 284.8 920.2 283.8 918.9 282.8 917.5 281.8 916.1 280.8 914.7 279.8 913.2 278.8 911.6 277.8 910 276.8 908.2 275.8 906.4 274.8 904.4 273.8 902.4 272.8 900.2 271.8 897.9 270.8 895.5 269.8 893 268.8 890.5 267.8 887.8 266.8 885.1 265.8 882.3 264.8 879.4 263.8 876.4 262.8 873.2 261.8 869.8 260.8 866.3 259.8 862.7 258.8 859 257.8 855.2 256.8 851.3 255.8 847.4 254.8 843.5 253.8 839.7 252.8 835.8 251.8 831.8 250.8 827.9 249.8 823.9 248.8 819.8 247.8 815.7 246.8 811.5 245.8 807.3 244.8 803.1 243.8 798.8 242.8 794.4 241.8 790ZM244.9 776 245.9 780.5 246.9 784.9 247.9 789.3 248.9 793.7 249.9 798 250.9 802.2 251.9 806.4 252.9 810.6 253.9 814.7 254.9 818.8 255.9 822.8 256.9 826.7 257.9 830.7 258.9 834.6 259.9 838.4 260.9 842.3 261.9 846.2 262.9 850.1 263.9 853.9 264.9 857.6 265.9 861.2 266.9 864.7 267.9 868.1 268.9 871.3 269.9 874.3 270.9 877.2 271.9 880 272.9 882.7 273.9 885.4 274.9 887.9 275.9 890.4 276.9 892.8 277.9 895.1 278.9 897.3 279.9 899.3 280.9 901.3 281.9 903.1 282.9 904.9 283.9 906.5 284.9 908.1 285.9 909.6 286.9 911 287.9 912.4 288.9 913.8 289.9 915.1 290.9 916.3 291.9 917.6 292.9 918.8 293.9 919.9 294.9 921.1 295.9 922.3 296.9 923.5 297.9 924.7 298.9 925.8 299.9 926.9 300.9 927.9 301.9 928.9 302.9 929.8 303.9 930.6 304.9 931.2 305.9 931.8 306.9 932.3 307.9 932.8 308.9 933.3 309.9 933.8 310.9 934.2 311.9 934.5 312.9 934.8 313.9 935 314.9 935 304.7 935 303.7 935 302.7 934.8 301.7 934.5 300.7 934.2 299.7 933.8 298.7 933.3 297.7 932.8 296.7 932.3 295.7 931.8 294.7 931.2 293.7 930.6 292.7 929.8 291.7 928.9 290.7 927.9 289.7 926.9 288.7 925.8 287.7 924.7 286.7 923.5 285.7 922.3 284.7 921.1 283.7 919.9 282.7 918.8 281.7 917.6 280.7 916.3 279.7 915.1 278.7 913.8 277.7 912.4 276.7 911 275.7 909.6 274.7 908.1 273.7 906.5 272.7 904.9 271.7 903.1 270.7 901.3 269.7 899.3 268.7 897.3 267.7 895.1 266.7 892.8 265.7 890.4 264.7 887.9 263.7 885.4 262.7 882.7 261.7 880 260.7 877.2 259.7 874.3 258.7 871.3 257.7 868.1 256.7 864.7 255.7 861.2 254.7 857.6 253.7 853.9 252.7 850.1 251.7 846.2 250.7 842.3 249.7 838.4 248.7 834.6 247.7 830.7 246.7 826.7 245.7 822.8 244.7 818.8 243.7 814.7 242.7 810.6 241.7 806.4 240.7 802.2 239.7 798 238.7 793.7 237.7 789.3 236.7 784.9 235.7 780.5 234.7 776ZM304.7 935 305.7 934.9 306.7 934.8 307.7 934.5 308.7 934.2 309.7 933.8 310.7 933.3 311.7 932.8 312.7 932.3 313.7 931.7 314.7 931.2 315.7 930.6 316.7 930 317.7 929.5 318.7 929.1 319.7 928.6 320.7 928.2 321.7 927.8 322.7 927.4 323.7 927 324.7 926.5 325.7 926 326.7 925.4 327.7 924.6 328 924.4 328.7 923.6 329.7 922 330.7 919.9 331.7 917.6 332.7 915.2 333.7 912.9 334.7 910.9 335 910.4 335.7 909.2 336.7 907.4 337.7 906.1 338.5 905.7 348.7 905.7 347.9 906.1 346.9 907.4 345.9 909.2 345.2 910.4 344.9 910.9 343.9 912.9 342.9 915.2 341.9 917.6 340.9 919.9 339.9 922 338.9 923.6 338.2 924.4 337.9 924.6 336.9 925.4 335.9 926 334.9 926.5 333.9 927 332.9 927.4 331.9 927.8 330.9 928.2 329.9 928.6 328.9 929.1 327.9 929.5 326.9 930 325.9 930.6 324.9 931.2 323.9 931.7 322.9 932.3 321.9 932.8 320.9 933.3 319.9 933.8 318.9 934.2 317.9 934.5 316.9 934.8 315.9 934.9 314.9 935ZM348.7 905.7 348.9 905.9 349.9 910.8 350.9 918.9 351.9 925.6 352.3 926.8 352.9 927.7 353.9 928.7 354.6 929 344.4 929 343.7 928.7 342.7 927.7 342.1 926.8 341.7 925.6 340.7 918.9 339.7 910.8 338.7 905.9 338.5 905.7ZM344.4 929 344.7 928.9 345.7 926.8 346.7 922.7 347.7 917.1 348.7 910.7 349.1 908 349.7 901.8 350.7 888 351.4 882.3 351.7 881.5 352.7 879 353.7 877.1 354.7 875.9 355.7 875.3 356.1 875.2 366.3 875.2 365.9 875.3 364.9 875.9 363.9 877.1 362.9 879 361.9 881.5 361.6 882.3 360.9 888 359.9 901.8 359.3 908 358.9 910.7 357.9 917.1 356.9 922.7 355.9 926.8 354.9 928.9 354.6 929ZM366.3 875.2 366.9 875.3 367.9 875.8 368.9 876.7 369.9 877.7 370.9 878.7 371.9 879.5 372.9 880 373.3 880 363.1 880 362.7 880 361.7 879.5 360.7 878.7 359.7 877.7 358.7 876.7 357.7 875.8 356.7 875.3 356.1 875.2ZM363.1 880 363.7 877.6 364.7 867.8 365.5 861.2 365.7 860.3 366.7 856.1 367.7 852.5 368.7 849.5 369.7 846.8 370.7 844.4 371.7 842 372.7 839.5 373.7 836.8 374.7 833.7 374.9 833 375.7 830.1 376.7 826.3 377.7 822.3 378.7 818.2 379.7 813.9 380.7 809.5 381.7 805.2 382.7 800.9 382.9 800 383.7 796.6 384.7 792.3 385.7 788 386.7 783.7 387.7 779.4 388.7 775 389.7 770.6 390.7 766.2 391.7 761.6 392.7 757 393.7 752.3 394.7 747.5 395.7 742.5 396.2 740 396.7 737.4 397.7 732.1 398.7 726.6 399.7 720.9 400.7 715 401.7 709.1 402.7 703.2 403.7 697.3 404.7 691.4 405.7 685.6 406.7 680 407.7 674.5 408.7 669 409.7 663.6 410.7 658.3 411.7 652.9 412.7 647.6 413.7 642.3 414.7 637 415.7 631.7 416.7 626.4 417.7 621.1 417.9 620 418.7 615.7 419.7 610.5 420.7 605.2 421.7 600 422.7 594.8 423.7 589.5 424.7 584.2 425.7 578.8 426.7 573.3 427.3 570 427.7 567.8 428.7 562 429.7 556.2 430.7 550.2 431.7 544.1 432.7 538.1 433.7 532 434.7 525.9 435.7 519.9 436.7 514.1 437.7 508.3 438.7 502.7 439.2 500 439.7 497.3 440.7 491.9 441.7 486.4 442.7 480.9 443.7 475.6 444.7 470.2 445.7 465.1 446.7 460 447.7 455.2 448.7 450.6 449.7 446.3 450.7 442.3 451.3 440 451.7 438.6 452.7 435.3 453.7 432.4 454.7 429.7 455.7 427.2 456.7 424.7 457.7 422.3 458.7 419.7 459.7 417 460.7 414 461.7 410.7 462.6 407.3 462.7 406.9 463.7 401.4 464.4 398 464.7 397 465.7 394 466.7 392.3 467.7 391.7 468.7 391.4 469.7 391.1 470.7 390.7 470.9 390.6 471.7 390.1 472.7 389.5 473.7 388.8 474.5 388.2 474.7 388.1 475.4 387.6 475.7 387.4 485.9 387.4 485.6 387.6 484.9 388.1 484.7 388.2 483.9 388.8 482.9 389.5 481.9 390.1 481.1 390.6 480.9 390.7 479.9 391.1 478.9 391.4 477.9 391.7 476.9 392.3 475.9 394 474.9 397 474.6 398 473.9 401.4 472.9 406.9 472.8 407.3 471.9 410.7 470.9 414 469.9 417 468.9 419.7 467.9 422.3 466.9 424.7 465.9 427.2 464.9 429.7 463.9 432.4 462.9 435.3 461.9 438.6 461.5 440 460.9 442.3 459.9 446.3 458.9 450.6 457.9 455.2 456.9 460 455.9 465.1 454.9 470.2 453.9 475.6 452.9 480.9 451.9 486.4 450.9 491.9 449.9 497.3 449.4 500 448.9 502.7 447.9 508.3 446.9 514.1 445.9 519.9 444.9 525.9 443.9 532 442.9 538.1 441.9 544.1 440.9 550.2 439.9 556.2 438.9 562 437.9 567.8 437.5 570 436.9 573.3 435.9 578.8 434.9 584.2 433.9 589.5 432.9 594.8 431.9 600 430.9 605.2 429.9 610.5 428.9 615.7 428.1 620 427.9 621.1 426.9 626.4 425.9 631.7 424.9 637 423.9 642.3 422.9 647.6 421.9 652.9 420.9 658.3 419.9 663.6 418.9 669 417.9 674.5 416.9 680 415.9 685.6 414.9 691.4 413.9 697.3 412.9 703.2 411.9 709.1 410.9 715 409.9 720.9 408.9 726.6 407.9 732.1 406.9 737.4 406.4 740 405.9 742.5 404.9 747.5 403.9 752.3 402.9 757 401.9 761.6 400.9 766.2 399.9 770.6 398.9 775 397.9 779.4 396.9 783.7 395.9 788 394.9 792.3 393.9 796.6 393.1 800 392.9 800.9 391.9 805.2 390.9 809.5 389.9 813.9 388.9 818.2 387.9 822.3 386.9 826.3 385.9 830.1 385.1 833 384.9 833.7 383.9 836.8 382.9 839.5 381.9 842 380.9 844.4 379.9 846.8 378.9 849.5 377.9 852.5 376.9 856.1 375.9 860.3 375.7 861.2 374.9 867.8 373.9 877.6 373.3 880ZM485.9 387.4 486.2 387.6 486.9 388.3 487.3 388.8 487.9 389.7 488.9 391.4 489.9 393.2 490.1 393.5 490.9 394.6 491.9 395.9 492.9 397.2 493.9 398.7 494.6 400 494.9 400.7 495.9 403.7 496.9 407.3 497.9 411 498.9 414.8 499.9 418.9 500.9 423.2 501.9 427.6 502.9 432.1 503.9 436.7 504.6 440 504.9 441.4 505.9 446.2 506.9 451.2 507.9 456.3 508.9 461.5 509.9 466.8 510.9 472.2 511.9 477.8 512.9 483.5 513.9 489.3 514.9 495.2 515.7 500 515.9 501.2 516.9 507.5 517.9 514 518.9 520.7 519.9 527.6 520.9 534.6 521.9 541.6 522.9 548.8 523.9 555.9 524.9 563 525.9 570 526.9 577 527.9 584 528.9 591.1 529.9 598.1 530.9 605.2 531.9 612.3 532.9 619.3 533 620 533.9 626.3 534.9 633.2 535.9 640.1 536.9 647 537.9 653.9 538.9 660.8 539.9 667.8 540.9 674.9 541.6 680 541.9 682.2 542.9 689.6 543.9 697.1 544.9 704.7 545.9 712.4 546.9 720.1 547.9 727.8 548.9 735.4 549.5 740 549.9 743 550.9 750.7 551.9 758.5 552.9 766.2 553.9 773.9 554.9 781.6 555.9 789.1 556.9 796.4 557.4 800 557.9 803.6 558.9 810.6 559.9 817.6 560.9 824.5 561.9 831.3 562.9 838.1 563.9 844.8 564.9 851.4 565.9 857.9 566.9 864.4 567.9 870.9 568.9 877.2 569.9 883.5 570.9 889.8 571.9 895.9 572.9 902 573.9 908.1 574.9 914.1 575.9 920 576.9 925.9 577.9 931.7 578.9 937.4 579.9 943 580.9 948.6 581.9 954.1 582.9 959.5 583.9 964.8 584.9 970.2 585.9 975.5 586.9 980.8 587.9 986 588.9 991.2 589.9 996.3 590.9 1001.4 591.9 1006.3 592.9 1011.1 593.9 1015.9 594.9 1020.4 595.9 1024.9 596.9 1029.2 597.9 1033.3 598.9 1037.4 599.9 1041.3 600.9 1045.2 601.9 1049 602.9 1052.7 603.9 1056.4 604.9 1059.9 605.9 1063.4 606.9 1066.8 607.9 1070.1 608.9 1073.4 609.9 1076.5 610.9 1079.6 611.9 1082.6 612.9 1085.5 613.9 1088.3 614.9 1091 615.9 1093.6 616.9 1096.2 617.9 1098.9 618.9 1101.5 619.9 1104.1 620.9 1106.7 621.9 1109.3 622.9 1112 623.9 1114.6 624.9 1117.2 625.9 1119.8 626.9 1122.4 627.9 1125 628.9 1127.5 629.9 1130 630.9 1132.5 631.9 1135 632.9 1137.4 633.9 1139.8 634.9 1142.2 635.9 1144.5 636.9 1146.8 637.9 1149.1 638.9 1151.3 639.9 1153.6 640.9 1155.7 641.9 1157.9 642.9 1160 643.9 1162 644.9 1164 645.9 1166 646.9 1168 647.9 1169.9 648.9 1171.8 649.9 1173.6 650.9 1175.4 651.9 1177.2 652.9 1179 653.9 1180.7 654.9 1182.5 655.9 1184.2 656.9 1185.8 657.9 1187.5 658.9 1189.1 659.9 1190.7 660.9 1192.3 661.9 1193.9 662.9 1195.4 663.9 1196.9 664.9 1198.4 665.9 1199.9 666.9 1201.4 667.9 1202.8 668.9 1204.3 669.9 1205.7 670.9 1207.1 671.9 1208.5 672.9 1209.8 673.9 1211.2 674.9 1212.5 675.9 1213.8 676.9 1215.1 677.9 1216.3 678.9 1217.6 679.9 1218.8 680.9 1220 681.9 1221.2 682.9 1222.4 683.9 1223.6 684.9 1224.8 685.9 1225.9 686.9 1227 687.9 1228.2 688.9 1229.3 689.9 1230.3 690.9 1231.4 691.9 1232.5 692.9 1233.5 693.9 1234.6 694.9 1235.6 695.9 1236.6 696.9 1237.6 697.9 1238.6 698.9 1239.5 699.9 1240.5 700.9 1241.5 701.9 1242.4 702.9 1243.4 703.9 1244.3 704.9 1245.2 705.9 1246.1 706.9 1247 707.9 1248 708.9 1248.9 709.9 1249.7 710.9 1250.6 711.9 1251.5 712.9 1252.4 713.9 1253.3 714.9 1254.1 715.9 1255 716.9 1255.9 717.9 1256.7 718.9 1257.6 719.9 1258.4 720.9 1259.3 721.9 1260.1 722.9 1261 723.9 1261.8 724.9 1262.7 725.9 1263.5 726.9 1264.3 727.9 1265.1 728.9 1266 729.9 1266.8 730.9 1267.6 731.9 1268.4 732.9 1269.2 733.9 1270 734.9 1270.8 735.9 1271.6 736.9 1272.4 737.9 1273.1 738.9 1273.9 739.9 1274.7 740.9 1275.4 741.9 1276.2 742.9 1276.9 743.9 1277.7 744.9 1278.4 745.9 1279.1 746.9 1279.8 747.9 1280.5 748.9 1281.2 749.9 1281.9 750.9 1282.5 751.9 1283.2 752.9 1283.8 753.9 1284.5 754.9 1285.1 755.9 1285.7 756.9 1286.3 757.9 1286.9 758.9 1287.5 759.9 1288.1 760.9 1288.7 761.9 1289.2 762.9 1289.8 763.9 1290.3 764.9 1290.9 765.9 1291.4 766.9 1292 767.9 1292.5 768.9 1293 769.9 1293.5 770.9 1294 771.9 1294.6 772.9 1295.1 773.9 1295.6 774.9 1296.1 775.9 1296.6 776.9 1297.1 777.9 1297.6 778.9 1298 779.9 1298.5 780.9 1299 781.9 1299.5 782.9 1300 783.9 1300.4 784.9 1300.9 785.9 1301.4 786.9 1301.8 787.9 1302.3 788.9 1302.8 789.9 1303.2 790.9 1303.7 791.9 1304.1 792.9 1304.6 793.9 1305 794.9 1305.5 795.9 1305.9 796.9 1306.3 797.9 1306.8 798.9 1307.2 799.9 1307.7 800.9 1308.1 801.9 1308.5 802.9 1308.9 803.9 1309.4 804.9 1309.8 794.7 1309.8 793.7 1309.4 792.7 1308.9 791.7 1308.5 790.7 1308.1 789.7 1307.7 788.7 1307.2 787.7 1306.8 786.7 1306.3 785.7 1305.9 784.7 1305.5 783.7 1305 782.7 1304.6 781.7 1304.1 780.7 1303.7 779.7 1303.2 778.7 1302.8 777.7 1302.3 776.7 1301.8 775.7 1301.4 774.7 1300.9 773.7 1300.4 772.7 1300 771.7 1299.5 770.7 1299 769.7 1298.5 768.7 1298 767.7 1297.6 766.7 1297.1 765.7 1296.6 764.7 1296.1 763.7 1295.6 762.7 1295.1 761.7 1294.6 760.7 1294 759.7 1293.5 758.7 1293 757.7 1292.5 756.7 1292 755.7 1291.4 754.7 1290.9 753.7 1290.3 752.7 1289.8 751.7 1289.2 750.7 1288.7 749.7 1288.1 748.7 1287.5 747.7 1286.9 746.7 1286.3 745.7 1285.7 744.7 1285.1 743.7 1284.5 742.7 1283.8 741.7 1283.2 740.7 1282.5 739.7 1281.9 738.7 1281.2 737.7 1280.5 736.7 1279.8 735.7 1279.1 734.7 1278.4 733.7 1277.7 732.7 1276.9 731.7 1276.2 730.7 1275.4 729.7 1274.7 728.7 1273.9 727.7 1273.1 726.7 1272.4 725.7 1271.6 724.7 1270.8 723.7 1270 722.7 1269.2 721.7 1268.4 720.7 1267.6 719.7 1266.8 718.7 1266 717.7 1265.1 716.7 1264.3 715.7 1263.5 714.7 1262.7 713.7 1261.8 712.7 1261 711.7 1260.1 710.7 1259.3 709.7 1258.4 708.7 1257.6 707.7 1256.7 706.7 1255.9 705.7 1255 704.7 1254.1 703.7 1253.3 702.7 1252.4 701.7 1251.5 700.7 1250.6 699.7 1249.7 698.7 1248.9 697.7 1248 696.7 1247 695.7 1246.1 694.7 1245.2 693.7 1244.3 692.7 1243.4 691.7 1242.4 690.7 1241.5 689.7 1240.5 688.7 1239.5 687.7 1238.6 686.7 1237.6 685.7 1236.6 684.7 1235.6 683.7 1234.6 682.7 1233.5 681.7 1232.5 680.7 1231.4 679.7 1230.3 678.7 1229.3 677.7 1228.2 676.7 1227 675.7 1225.9 674.7 1224.8 673.7 1223.6 672.7 1222.4 671.7 1221.2 670.7 1220 669.7 1218.8 668.7 1217.6 667.7 1216.3 666.7 1215.1 665.7 1213.8 664.7 1212.5 663.7 1211.2 662.7 1209.8 661.7 1208.5 660.7 1207.1 659.7 1205.7 658.7 1204.3 657.7 1202.8 656.7 1201.4 655.7 1199.9 654.7 1198.4 653.7 1196.9 652.7 1195.4 651.7 1193.9 650.7 1192.3 649.7 1190.7 648.7 1189.1 647.7 1187.5 646.7 1185.8 645.7 1184.2 644.7 1182.5 643.7 1180.7 642.7 1179 641.7 1177.2 640.7 1175.4 639.7 1173.6 638.7 1171.8 637.7 1169.9 636.7 1168 635.7 1166 634.7 1164 633.7 1162 632.7 1160 631.7 1157.9 630.7 1155.7 629.7 1153.6 628.7 1151.3 627.7 1149.1 626.7 1146.8 625.7 1144.5 624.7 1142.2 623.7 1139.8 622.7 1137.4 621.7 1135 620.7 1132.5 619.7 1130 618.7 1127.5 617.7 1125 616.7 1122.4 615.7 1119.8 614.7 1117.2 613.7 1114.6 612.7 1112 611.7 1109.3 610.7 1106.7 609.7 1104.1 608.7 1101.5 607.7 1098.9 606.7 1096.2 605.7 1093.6 604.7 1091 603.7 1088.3 602.7 1085.5 601.7 1082.6 600.7 1079.6 599.7 1076.5 598.7 1073.4 597.7 1070.1 596.7 1066.8 595.7 1063.4 594.7 1059.9 593.7 1056.4 592.7 1052.7 591.7 1049 590.7 1045.2 589.7 1041.3 588.7 1037.4 587.7 1033.3 586.7 1029.2 585.7 1024.9 584.7 1020.4 583.7 1015.9 582.7 1011.1 581.7 1006.3 580.7 1001.4 579.7 996.3 578.7 991.2 577.7 986 576.7 980.8 575.7 975.5 574.7 970.2 573.7 964.8 572.7 959.5 571.7 954.1 570.7 948.6 569.7 943 568.7 937.4 567.7 931.7 566.7 925.9 565.7 920 564.7 914.1 563.7 908.1 562.7 902 561.7 895.9 560.7 889.8 559.7 883.5 558.7 877.2 557.7 870.9 556.7 864.4 555.7 857.9 554.7 851.4 553.7 844.8 552.7 838.1 551.7 831.3 550.7 824.5 549.7 817.6 548.7 810.6 547.7 803.6 547.2 800 546.7 796.4 545.7 789.1 544.7 781.6 543.7 773.9 542.7 766.2 541.7 758.5 540.7 750.7 539.7 743 539.3 740 538.7 735.4 537.7 727.8 536.7 720.1 535.7 712.4 534.7 704.7 533.7 697.1 532.7 689.6 531.7 682.2 531.4 680 530.7 674.9 529.7 667.8 528.7 660.8 527.7 653.9 526.7 647 525.7 640.1 524.7 633.2 523.7 626.3 522.8 620 522.7 619.3 521.7 612.3 520.7 605.2 519.7 598.1 518.7 591.1 517.7 584 516.7 577 515.7 570 514.7 563 513.7 555.9 512.7 548.8 511.7 541.6 510.7 534.6 509.7 527.6 508.7 520.7 507.7 514 506.7 507.5 505.7 501.2 505.5 500 504.7 495.2 503.7 489.3 502.7 483.5 501.7 477.8 500.7 472.2 499.7 466.8 498.7 461.5 497.7 456.3 496.7 451.2 495.7 446.2 494.7 441.4 494.4 440 493.7 436.7 492.7 432.1 491.7 427.6 490.7 423.2 489.7 418.9 488.7 414.8 487.7 411 486.7 407.3 485.7 403.7 484.7 400.7 484.4 400 483.7 398.7 482.7 397.2 481.7 395.9 480.7 394.6 479.9 393.5 479.7 393.2 478.7 391.4 477.7 389.7 477.1 388.8 476.7 388.3 476 387.6 475.7 387.4Z"/>
<path fill="none" stroke="#ff0000" stroke-width="8.9" stroke-linejoin="round" d="M241.8 784.9 242.8 789.3 243.8 793.7 244.8 798 245.8 802.2 246.8 806.4 247.8 810.6 248.8 814.7 249.8 818.8 250.8 822.8 251.8 826.7 252.8 830.7 253.8 834.6 254.8 838.4 255.8 842.3 256.8 846.2 257.8 850.1 258.8 853.9 259.8 857.6 260.8 861.2 261.8 864.7 262.8 868.1 263.8 871.3 264.8 874.3 265.8 877.2 266.8 880 267.8 882.7 268.8 885.4 269.8 887.9 270.8 890.4 271.8 892.8 272.8 895.1 273.8 897.3 274.8 899.3 275.8 901.3 276.8 903.1 277.8 904.9 278.8 906.5 279.8 908.1 280.8 909.6 281.8 911 282.8 912.4 283.8 913.8 284.8 915.1 285.8 916.3 286.8 917.6 287.8 918.8 288.8 919.9 289.8 921.1 290.8 922.3 291.8 923.5 292.8 924.7 293.8 925.8 294.8 926.9 295.8 927.9 296.8 928.9 297.8 929.8 298.8 930.6 299.8 931.2 300.8 931.8 301.8 932.3 302.8 932.8 303.8 933.3 304.8 933.8 305.8 934.2 306.8 934.5 307.8 934.8 308.8 935 309.8 935 310.8 934.9 311.8 934.8 312.8 934.5 313.8 934.2 314.8 933.8 315.8 933.3 316.8 932.8 317.8 932.3 318.8 931.7 319.8 931.2 320.8 930.6 321.8 930 322.8 929.5 323.8 929.1 324.8 928.6 325.8 928.2 326.8 927.8 327.8 927.4 328.8 927 329.8 926.5 330.8 926 331.8 925.4 332.8 924.6 333.1 924.4 333.8 923.6 334.8 922 335.8 919.9 336.8 917.6 337.8 915.2 338.8 912.9 339.8 910.9 340.1 910.4 340.8 909.2 341.8 907.4 342.8 906.1 343.6 905.7 343.8 905.9 344.8 910.8 345.8 918.9 346.8 925.6 347.2 926.8 347.8 927.7 348.8 928.7 349.5 929 349.8 928.9 350.8 926.8 351.8 922.7 352.8 917.1 353.8 910.7 354.2 908 354.8 901.8 355.8 888 356.5 882.3 356.8 881.5 357.8 879 358.8 877.1 359.8 875.9 360.8 875.3 361.2 875.2 361.8 875.3 362.8 875.8 363.8 876.7 364.8 877.7 365.8 878.7 366.8 879.5 367.8 880 368.2 880 368.8 877.6 369.8 867.8 370.6 861.2 370.8 860.3 371.8 856.1 372.8 852.5 373.8 849.5 374.8 846.8 375.8 844.4 376.8 842 377.8 839.5 378.8 836.8 379.8 833.7 380 833 380.8 830.1 381.8 826.3 382.8 822.3 383.8 818.2 384.8 813.9 385.8 809.5 386.8 805.2 387.8 800.9 388 800 388.8 796.6 389.8 792.3 390.8 788 391.8 783.7 392.8 779.4 393.8 775 394.8 770.6 395.8 766.2 396.8 761.6 397.8 757 398.8 752.3 399.8 747.5 400.8 742.5 401.3 740 401.8 737.4 402.8 732.1 403.8 726.6 404.8 720.9 405.8 715 406.8 709.1 407.8 703.2 408.8 697.3 409.8 691.4 410.8 685.6 411.8 680 412.8 674.5 413.8 669 414.8 663.6 415.8 658.3 416.8 652.9 417.8 647.6 418.8 642.3 419.8 637 420.8 631.7 421.8 626.4 422.8 621.1 423 620 423.8 615.7 424.8 610.5 425.8 605.2 426.8 600 427.8 594.8 428.8 589.5 429.8 584.2 430.8 578.8 431.8 573.3 432.4 570 432.8 567.8 433.8 562 434.8 556.2 435.8 550.2 436.8 544.1 437.8 538.1 438.8 532 439.8 525.9 440.8 519.9 441.8 514.1 442.8 508.3 443.8 502.7 444.3 500 444.8 497.3 445.8 491.9 446.8 486.4 447.8 480.9 448.8 475.6 449.8 470.2 450.8 465.1 451.8 460 452.8 455.2 453.8 450.6 454.8 446.3 455.8 442.3 456.4 440 456.8 438.6 457.8 435.3 458.8 432.4 459.8 429.7 460.8 427.2 461.8 424.7 462.8 422.3 463.8 419.7 464.8 417 465.8 414 466.8 410.7 467.7 407.3 467.8 406.9 468.8 401.4 469.5 398 469.8 397 470.8 394 471.8 392.3 472.8 391.7 473.8 391.4 474.8 391.1 475.8 390.7 476 390.6 476.8 390.1 477.8 389.5 478.8 388.8 479.6 388.2 479.8 388.1 480.5 387.6 480.8 387.4 481.1 387.6 481.8 388.3 482.2 388.8 482.8 389.7 483.8 391.4 484.8 393.2 485 393.5 485.8 394.6 486.8 395.9 487.8 397.2 488.8 398.7 489.5 400 489.8 400.7 490.8 403.7 491.8 407.3 492.8 411 493.8 414.8 494.8 418.9 495.8 423.2 496.8 427.6 497.8 432.1 498.8 436.7 499.5 440 499.8 441.4 500.8 446.2 501.8 451.2 502.8 456.3 503.8 461.5 504.8 466.8 505.8 472.2 506.8 477.8 507.8 483.5 508.8 489.3 509.8 495.2 510.6 500 510.8 501.2 511.8 507.5 512.8 514 513.8 520.7 514.8 527.6 515.8 534.6 516.8 541.6 517.8 548.8 518.8 555.9 519.8 563 520.8 570 521.8 577 522.8 584 523.8 591.1 524.8 598.1 525.8 605.2 526.8 612.3 527.8 619.3 527.9 620 528.8 626.3 529.8 633.2 530.8 640.1 531.8 647 532.8 653.9 533.8 660.8 534.8 667.8 535.8 674.9 536.5 680 536.8 682.2 537.8 689.6 538.8 697.1 539.8 704.7 540.8 712.4 541.8 720.1 542.8 727.8 543.8 735.4 544.4 740 544.8 743 545.8 750.7 546.8 758.5 547.8 766.2 548.8 773.9 549.8 781.6 550.8 789.1 551.8 796.4 552.3 800 552.8 803.6 553.8 810.6 554.8 817.6 555.8 824.5 556.8 831.3 557.8 838.1 558.8 844.8 559.8 851.4 560.8 857.9 561.8 864.4 562.8 870.9 563.8 877.2 564.8 883.5 565.8 889.8 566.8 895.9 567.8 902 568.8 908.1 569.8 914.1 570.8 920 571.8 925.9 572.8 931.7 573.8 937.4 574.8 943 575.8 948.6 576.8 954.1 577.8 959.5 578.8 964.8 579.8 970.2 580.8 975.5 581.8 980.8 582.8 986 583.8 991.2 584.8 996.3 585.8 1001.4 586.8 1006.3 587.8 1011.1 588.8 1015.9 589.8 1020.4 590.8 1024.9 591.8 1029.2 592.8 1033.3 593.8 1037.4 594.8 1041.3 595.8 1045.2 596.8 1049 597.8 1052.7 598.8 1056.4 599.8 1059.9 600.8 1063.4 601.8 1066.8 602.8 1070.1 603.8 1073.4 604.8 1076.5 605.8 1079.6 606.8 1082.6 607.8 1085.5 608.8 1088.3 609.8 1091 610.8 1093.6 611.8 1096.2 612.8 1098.9 613.8 1101.5 614.8 1104.1 615.8 1106.7 616.8 1109.3 617.8 1112 618.8 1114.6 619.8 1117.2 620.8 1119.8 621.8 1122.4 622.8 1125 623.8 1127.5 624.8 1130 625.8 1132.5 626.8 1135 627.8 1137.4 628.8 1139.8 629.8 1142.2 630.8 1144.5 631.8 1146.8 632.8 1149.1 633.8 1151.3 634.8 1153.6 635.8 1155.7 636.8 1157.9 637.8 1160 638.8 1162 639.8 1164 640.8 1166 641.8 1168 642.8 1169.9 643.8 1171.8 644.8 1173.6 645.8 1175.4 646.8 1177.2 647.8 1179 648.8 1180.7 649.8 1182.5 650.8 1184.2 651.8 1185.8 652.8 1187.5 653.8 1189.1 654.8 1190.7 655.8 1192.3 656.8 1193.9 657.8 1195.4 658.8 1196.9 659.8 1198.4 660.8 1199.9 661.8 1201.4 662.8 1202.8 663.8 1204.3 664.8 1205.7 665.8 1207.1 666.8 1208.5 667.8 1209.8 668.8 1211.2 669.8 1212.5 670.8 1213.8 671.8 1215.1 672.8 1216.3 673.8 1217.6 674.8 1218.8 675.8 1220 676.8 1221.2 677.8 1222.4 678.8 1223.6 679.8 1224.8 680.8 1225.9 681.8 1227 682.8 1228.2 683.8 1229.3 684.8 1230.3 685.8 1231.4 686.8 1232.5 687.8 1233.5 688.8 1234.6 689.8 1235.6 690.8 1236.6 691.8 1237.6 692.8 1238.6 693.8 1239.5 694.8 1240.5 695.8 1241.5 696.8 1242.4 697.8 1243.4 698.8 1244.3 699.8 1245.2 700.8 1246.1 701.8 1247 702.8 1248 703.8 1248.9 704.8 1249.7 705.8 1250.6 706.8 1251.5 707.8 1252.4 708.8 1253.3 709.8 1254.1 710.8 1255 711.8 1255.9 712.8 1256.7 713.8 1257.6 714.8 1258.4 715.8 1259.3 716.8 1260.1 717.8 1261 718.8 1261.8 719.8 1262.7 720.8 1263.5 721.8 1264.3 722.8 1265.1 723.8 1266 724.8 1266.8 725.8 1267.6 726.8 1268.4 727.8 1269.2 728.8 1270 729.8 1270.8 730.8 1271.6 731.8 1272.4 732.8 1273.1 733.8 1273.9 734.8 1274.7 735.8 1275.4 736.8 1276.2 737.8 1276.9 738.8 1277.7 739.8 1278.4 740.8 1279.1 741.8 1279.8 742.8 1280.5 743.8 1281.2 744.8 1281.9 745.8 1282.5 746.8 1283.2 747.8 1283.8 748.8 1284.5 749.8 1285.1 750.8 1285.7 751.8 1286.3 752.8 1286.9 753.8 1287.5 754.8 1288.1 755.8 1288.7 756.8 1289.2 757.8 1289.8 758.8 1290.3 759.8 1290.9 760.8 1291.4 761.8 1292 762.8 1292.5 763.8 1293 764.8 1293.5 765.8 1294 766.8 1294.6 767.8 1295.1 768.8 1295.6 769.8 1296.1 770.8 1296.6 771.8 1297.1 772.8 1297.6 773.8 1298 774.8 1298.5 775.8 1299 776.8 1299.5 777.8 1300 778.8 1300.4 779.8 1300.9 780.8 1301.4 784.8 1303.2 788.8 1305 792.8 1306.8 796.8 1308.5 800.8 1310.2 804.8 1311.9 808.8 1313.6 812.8 1315.3 816.8 1316.9 820.8 1318.5 824.8 1320.2 828.8 1321.8 832.8 1323.4 836.8 1324.9 840.8 1326.5 844.8 1328 848.8 1329.6 852.8 1331.1 856.8 1332.5 860.8 1334 864.8 1335.4 868.8 1336.8 872.8 1338.2 876.8 1339.5 880.8 1340.8 884.8 1342 888.8 1343.2 892.8 1344.4 896.8 1345.6 900.8 1346.7 904.8 1347.8 908.8 1348.9 912.8 1349.9 916.8 1351 920.8 1352 924.8 1353 928.8 1354.1 932.8 1355.1 936.8 1356.1 940.8 1357.1 944.8 1358.1 948.8 1359.1 952.8 1360.1 956.8 1361 960.8 1362 964.8 1362.9 968.8 1363.8 972.8 1364.7 976.8 1365.5 980.8 1366.3 984.8 1367.1 988.8 1367.9 992.8 1368.6 996.8 1369.2 1000.8 1369.9 1004.8 1370.5 1008.8 1371.1 1012.8 1371.7 1016.8 1372.2 1020.8 1372.8 1024.8 1373.3 1028.8 1373.8 1032.8 1374.3 1036.8 1374.9 1040.8 1375.4 1044.8 1375.9 1048.8 1376.4 1052.8 1376.9 1056.8 1377.5 1060.8 1378 1064.8 1378.6 1068.8 1379.1 1072.8 1379.7 1076.8 1380.3 1080.8 1380.8 1084.8 1381.4 1088.8 1382 1092.8 1382.6 1096.8 1383.2 1100.8 1383.8 1104.8 1384.4 1108.8 1385 1112.8 1385.6 1116.8 1386.1 1120.8 1386.7 1124.8 1387.3 1128.8 1387.8 1132.8 1388.4 1136.8 1389 1140.8 1389.5 1144.8 1390 1148.8 1390.6 1152.8 1391.1 1156.8 1391.6 1160.8 1392.1 1164.8 1392.6 1168.8 1393 1172.8 1393.5 1176.8 1393.9 1180.8 1394.4 1184.8 1394.8 1188.8 1395.2 1192.8 1395.6 1196.8 1396 1200.8 1396.4 1204.8 1396.8 1208.8 1397.1 1212.8 1397.5 1216.8 1397.9 1220.8 1398.2 1224.8 1398.6 1228.8 1399 1232.8 1399.3 1236.8 1399.7 1240.8 1400 1244.8 1400.4 1248.8 1400.7 1252.8 1401.1 1256.8 1401.4 1260.8 1401.8 1264.8 1402.2 1268.8 1402.5 1272.8 1402.9 1276.8 1403.2 1280.8 1403.6 1284.8 1404 1288.8 1404.3 1292.8 1404.7 1296.8 1405.1 1300.8 1405.4 1304.8 1405.8 1308.8 1406.2 1312.8 1406.6 1316.8 1406.9 1320.8 1407.3 1324.8 1407.7 1328.8 1408.1 1332.8 1408.5 1336.8 1408.8 1340.8 1409.2 1343.5 1409.5"/>
<path fill="#000000" d="M241.8 621 242.8 625.6 243.8 630.1 244.8 634.6 245.8 639.2 246.8 643.7 247.8 648.2 248.8 652.7 249.8 657.2 250.8 661.7 251.8 666.2 252.8 670.6 253.8 675.1 254.8 679.6 255.8 684.2 256.8 688.9 257.8 693.5 258.8 698.2 259.8 702.7 260.8 707.2 261.8 711.6 262.8 715.8 263.8 719.9 264.8 723.8 265.8 727.5 266.8 731 267.8 734.4 268.8 737.8 269.8 741 270.8 744.2 271.8 747.3 272.8 750.3 273.8 753.3 274.8 756.2 275.8 759.1 276.8 762 277.8 764.9 278.8 767.8 279.8 770.6 280.8 773.4 281.8 776.2 282.8 779 283.8 781.6 284.8 784.2 285.8 786.6 286.8 789 287.8 791.2 288.8 793.2 289.8 795.1 290.8 797 291.8 798.9 292.8 800.7 293.8 802.4 294.8 804.1 295.8 805.6 296.8 807.1 297.8 808.5 298.8 809.8 299.8 811 300.8 812 301.8 813.1 302.8 814 303.8 815 304.8 815.9 305.8 816.7 306.8 817.5 307.8 818.3 308.8 819 309.8 819.6 310.8 820.2 311.8 820.8 312.8 821.3 313.8 821.9 314.8 822.4 315.8 822.9 316.8 823.3 317.8 823.6 318.8 823.7 319.8 823.7 320.8 823.7 321.8 823.6 322.8 823.5 323.8 823.4 324.8 823.3 325.8 823.2 326.8 823 327.8 822.9 328.8 822.7 329.8 822.5 330.8 822.3 331.8 821.9 332.8 821.6 333.8 821.1 334.8 820.6 335.8 820 336.8 819.3 337.8 818.6 338.8 817.2 339.8 814.9 340.8 812.4 341.8 810.2 342.5 809.2 342.8 808.9 343.8 808 344.8 807.3 345.8 806.9 346 806.9 346.8 807.2 347.8 808.2 348.8 809.9 349.5 811.5 349.8 812.7 350.8 821.8 351.8 832.6 352.8 843.8 353.5 847.9 353.8 847.6 354.8 843.4 355.8 836.8 356.5 832.6 356.8 831.1 357.8 825.6 358.8 820 359.8 814.8 360.8 810.5 361.2 809.2 361.8 807.5 362.8 805.2 363.8 803.3 364.8 801.6 365.8 800 366.8 798.1 367.8 795.9 368.2 794.9 368.8 793.1 369.8 789.7 370.8 785.7 371.8 781.4 372.8 777 373.8 772.7 374.8 768.8 375.3 767 375.8 765.3 376.8 762.1 377.8 759.1 378.8 756.2 379.8 753.4 380.8 750.7 381.8 747.9 382.8 745 383.8 742.1 384.8 739 385.8 735.6 386 734.9 386.8 732 387.8 728.2 388.8 724.3 389.8 720.2 390.8 716 391.8 711.7 392.8 707.2 393.8 702.7 394.8 698.1 395.8 693.4 396.8 688.7 397.8 684 398.8 679.2 399.7 674.9 399.8 674.4 400.8 669.5 401.8 664.5 402.8 659.3 403.8 654 404.8 648.7 405.8 643.3 406.8 637.9 407.8 632.5 408.8 627.2 409.8 622 410.8 616.9 411.2 614.9 411.8 611.9 412.8 607.1 413.8 602.5 414.8 597.8 415.8 593.3 416.8 588.7 417.8 584.1 418.8 579.4 419.8 574.5 420.8 569.6 421.7 564.9 421.8 564.4 422.8 558.9 423.8 553.3 424.8 547.4 425.8 541.4 426.8 535.3 427.8 529.1 428.8 522.9 429.8 516.7 430.8 510.6 431.8 504.6 432.8 498.8 433.5 494.9 433.8 493.2 434.8 487.8 435.8 482.4 436.8 477 437.8 471.8 438.8 466.6 439.8 461.4 440.8 456.3 441.8 451.2 442.8 446.1 443.8 441 444.8 435.9 445 434.9 445.8 430.9 446.8 425.9 447.8 421 448.8 416.1 449.8 411.2 450.8 406.2 451.8 401.2 452.8 396 453 394.9 453.8 390.3 454.8 384.1 455.8 378.6 456.3 376.4 456.8 374.5 457.8 371.1 458.8 368.1 459.8 365.4 460.8 363 461.8 360.8 462.5 359.3 462.8 358.7 463.8 356.7 464.8 354.9 465.8 353.1 466.8 351.6 467.8 350.1 468.8 348.8 469 348.6 469.8 347.8 470.8 346.9 471.8 346.1 472.8 345.3 473.8 344.3 474.1 343.9 474.8 342.9 475.8 341.2 476.8 339.4 477.3 338.5 477.8 337.5 478.6 336.2 478.8 336 479 335.9 479.4 336.2 479.8 336.6 480.8 338 481.3 338.7 481.8 339.4 482.8 340.7 483.8 342.1 484.5 343.2 484.8 343.7 485.8 345.4 486.8 347.5 487.2 348.4 487.8 350.1 488.8 353.6 489.8 357.5 490.3 359.3 490.8 361.1 491.8 364.6 492.8 368.2 493.8 371.9 494.8 375.6 495 376.4 495.8 379.5 496.8 383.5 497.8 387.6 498.8 391.8 499.8 396.1 500.2 397.9 500.8 400.5 501.8 405 502.8 409.4 503.8 414 504.8 418.6 505.8 423.5 506.8 428.5 507.8 433.8 508 434.9 508.8 439.4 509.8 445.2 510.8 451.4 511.8 457.7 512.8 464.3 513.8 471.1 514.8 478 515.8 485 516.8 492 517.2 494.9 517.8 499.2 518.8 506.7 519.8 514.4 520.8 522.2 521.8 530.3 522.8 538.3 523.8 546.4 524.8 554.5 525.8 562.5 526.1 564.9 526.8 570.4 527.8 578.3 528.8 586.2 529.8 594.2 530.8 602.1 531.8 610.1 532.4 614.9 532.8 618.1 533.8 626.3 534.8 634.5 535.8 642.8 536.8 651 537.8 659.2 538.8 667.2 539.8 674.9 540.8 682.4 541.8 689.7 542.8 696.8 543.8 703.9 544.8 710.9 545.8 717.9 546.8 724.9 547.8 732 548.2 734.9 548.8 739.3 549.8 746.6 550.8 754.1 551.8 761.6 552.8 769 553.8 776.4 554.8 783.7 555.8 790.8 556.4 794.9 556.8 797.6 557.8 804.4 558.8 811 559.8 817.6 560.8 824.2 561.8 830.6 562.8 837 563.8 843.3 564.8 849.5 565.8 855.7 566.8 861.9 567.8 868 568.8 874 569.8 880.1 570.8 886 571.8 892 572.8 897.9 573.8 903.9 574.8 909.9 575.8 915.8 576.8 921.6 577.8 927.3 578.8 933 579.8 938.5 580.8 943.8 581.8 949 582.8 953.9 583.8 958.7 584.8 963.3 585.8 967.8 586.8 972.2 587.8 976.5 588.8 980.7 589.8 984.8 590.8 988.8 591.8 992.8 592.8 996.7 593.8 1000.6 594.8 1004.5 595.8 1008.4 596.8 1012.2 597.8 1016.1 598.8 1019.9 599.8 1023.8 600.8 1027.7 601.8 1031.7 602.8 1035.7 603.8 1039.7 604.8 1043.7 605.8 1047.6 606.8 1051.5 607.8 1055.3 608.8 1059 609.8 1062.6 610.8 1066 611.8 1069.4 612.8 1072.5 613.8 1075.5 614.8 1078.4 615.8 1081.2 616.8 1083.8 617.8 1086.5 618.8 1089 619.8 1091.5 620.8 1094 621.8 1096.5 622.8 1099 623.8 1101.5 624.8 1104 625.8 1106.5 626.8 1109 627.8 1111.5 628.8 1113.9 629.8 1116.3 630.8 1118.7 631.8 1121.1 632.8 1123.4 633.8 1125.7 634.8 1128 635.8 1130.2 636.8 1132.4 637.8 1134.6 638.8 1136.8 639.8 1138.9 640.8 1141 641.8 1143.1 642.8 1145.2 643.8 1147.2 644.8 1149.2 645.8 1151.2 646.8 1153.2 647.8 1155.1 648.8 1157 649.8 1158.9 650.8 1160.8 651.8 1162.7 652.8 1164.5 653.8 1166.3 654.8 1168.1 655.8 1169.9 656.8 1171.6 657.8 1173.4 658.8 1175.1 659.8 1176.8 660.8 1178.4 661.8 1180.1 662.8 1181.7 663.8 1183.3 664.8 1184.9 665.8 1186.4 666.8 1187.9 667.8 1189.4 668.8 1190.9 669.8 1192.4 670.8 1193.8 671.8 1195.2 672.8 1196.5 673.8 1197.9 674.8 1199.2 675.8 1200.5 676.8 1201.8 677.8 1203.1 678.8 1204.3 679.8 1205.5 680.8 1206.7 681.8 1207.9 682.8 1209.1 683.8 1210.2 684.8 1211.3 685.8 1212.5 686.8 1213.6 687.8 1214.7 688.8 1215.7 689.8 1216.8 690.8 1217.8 691.8 1218.9 692.8 1219.9 693.8 1220.9 694.8 1222 695.8 1223 696.8 1224 697.8 1225 698.8 1225.9 699.8 1226.9 700.8 1227.9 701.8 1228.8 702.8 1229.8 703.8 1230.7 704.8 1231.7 705.8 1232.6 706.8 1233.6 707.8 1234.5 708.8 1235.4 709.8 1236.3 710.8 1237.3 711.8 1238.2 712.8 1239.1 713.8 1240 714.8 1240.9 715.8 1241.8 716.8 1242.7 717.8 1243.6 718.8 1244.4 719.8 1245.3 720.8 1246.2 721.8 1247.1 722.8 1247.9 723.8 1248.8 724.8 1249.7 725.8 1250.5 726.8 1251.4 727.8 1252.2 728.8 1253 729.8 1253.9 730.8 1254.7 731.8 1255.5 732.8 1256.3 733.8 1257.1 734.8 1257.9 735.8 1258.7 736.8 1259.5 737.8 1260.3 738.8 1261.1 739.8 1261.8 740.8 1262.6 741.8 1263.3 742.8 1264 743.8 1264.7 744.8 1265.5 745.8 1266.2 746.8 1266.8 747.8 1267.5 748.8 1268.2 749.8 1268.8 750.8 1269.5 751.8 1270.1 752.8 1270.8 753.8 1271.4 754.8 1272 755.8 1272.6 756.8 1273.2 757.8 1273.8 758.8 1274.4 759.8 1275 760.8 1275.5 761.8 1276.1 762.8 1276.7 763.8 1277.2 764.8 1277.8 765.8 1278.3 766.8 1278.9 767.8 1279.4 768.8 1280 769.8 1280.5 770.8 1281 771.8 1281.5 772.8 1282.1 773.8 1282.6 774.8 1283.1 775.8 1283.6 776.8 1284.1 777.8 1284.6 778.8 1285.1 779.8 1285.6 780.8 1286.1 784.8 1288.1 788.8 1290 792.8 1291.8 796.8 1293.7 800.8 1295.5 804.8 1297.2 808.8 1299 812.8 1300.7 816.8 1302.4 820.8 1304.1 824.8 1305.8 828.8 1307.4 832.8 1309 836.8 1310.7 840.8 1312.3 844.8 1313.9 848.8 1315.5 852.8 1317.1 856.8 1318.6 860.8 1320.1 864.8 1321.6 868.8 1323.1 872.8 1324.6 876.8 1326 880.8 1327.4 884.8 1328.7 888.8 1330.1 892.8 1331.4 896.8 1332.7 900.8 1333.9 904.8 1335.1 908.8 1336.3 912.8 1337.5 916.8 1338.7 920.8 1339.9 924.8 1341 928.8 1342.2 932.8 1343.3 936.8 1344.4 940.8 1345.5 944.8 1346.6 948.8 1347.7 952.8 1348.8 956.8 1349.9 960.8 1350.9 964.8 1351.9 968.8 1352.9 972.8 1353.9 976.8 1354.8 980.8 1355.7 984.8 1356.5 988.8 1357.3 992.8 1358.1 996.8 1358.8 1000.8 1359.6 1004.8 1360.2 1008.8 1360.9 1012.8 1361.6 1016.8 1362.2 1020.8 1362.8 1024.8 1363.4 1028.8 1364.1 1032.8 1364.7 1036.8 1365.3 1040.8 1365.9 1044.8 1366.5 1048.8 1367.1 1052.8 1367.7 1056.8 1368.3 1060.8 1368.9 1064.8 1369.6 1068.8 1370.2 1072.8 1370.8 1076.8 1371.5 1080.8 1372.1 1084.8 1372.7 1088.8 1373.4 1092.8 1374 1096.8 1374.7 1100.8 1375.3 1104.8 1375.9 1108.8 1376.6 1112.8 1377.2 1116.8 1377.8 1120.8 1378.5 1124.8 1379.1 1128.8 1379.7 1132.8 1380.3 1136.8 1380.9 1140.8 1381.5 1144.8 1382 1148.8 1382.6 1152.8 1383.2 1156.8 1383.7 1160.8 1384.3 1164.8 1384.8 1168.8 1385.3 1172.8 1385.8 1176.8 1386.2 1180.8 1386.7 1184.8 1387.1 1188.8 1387.6 1192.8 1388 1196.8 1388.4 1200.8 1388.8 1204.8 1389.2 1208.8 1389.6 1212.8 1389.9 1216.8 1390.3 1220.8 1390.7 1224.8 1391 1228.8 1391.4 1232.8 1391.8 1236.8 1392.2 1240.8 1392.5 1244.8 1392.9 1248.8 1393.3 1252.8 1393.6 1256.8 1394 1260.8 1394.4 1264.8 1394.8 1268.8 1395.1 1272.8 1395.5 1276.8 1395.9 1280.8 1396.3 1284.8 1396.7 1288.8 1397 1292.8 1397.4 1296.8 1397.8 1300.8 1398.2 1304.8 1398.5 1308.8 1398.9 1312.8 1399.3 1316.8 1399.7 1320.8 1400 1324.8 1400.4 1328.8 1400.8 1332.8 1401.2 1336.8 1401.6 1340.8 1401.9 1343.5 1402.2 1343.5 1412.4 1340.8 1412.1 1336.8 1411.8 1332.8 1411.4 1328.8 1411 1324.8 1410.6 1320.8 1410.2 1316.8 1409.9 1312.8 1409.5 1308.8 1409.1 1304.8 1408.7 1300.8 1408.4 1296.8 1408 1292.8 1407.6 1288.8 1407.2 1284.8 1406.9 1280.8 1406.5 1276.8 1406.1 1272.8 1405.7 1268.8 1405.3 1264.8 1405 1260.8 1404.6 1256.8 1404.2 1252.8 1403.8 1248.8 1403.5 1244.8 1403.1 1240.8 1402.7 1236.8 1402.4 1232.8 1402 1228.8 1401.6 1224.8 1401.2 1220.8 1400.9 1216.8 1400.5 1212.8 1400.1 1208.8 1399.8 1204.8 1399.4 1200.8 1399 1196.8 1398.6 1192.8 1398.2 1188.8 1397.8 1184.8 1397.3 1180.8 1396.9 1176.8 1396.4 1172.8 1396 1168.8 1395.5 1164.8 1395 1160.8 1394.5 1156.8 1393.9 1152.8 1393.4 1148.8 1392.8 1144.8 1392.2 1140.8 1391.7 1136.8 1391.1 1132.8 1390.5 1128.8 1389.9 1124.8 1389.3 1120.8 1388.7 1116.8 1388 1112.8 1387.4 1108.8 1386.8 1104.8 1386.1 1100.8 1385.5 1096.8 1384.9 1092.8 1384.2 1088.8 1383.6 1084.8 1382.9 1080.8 1382.3 1076.8 1381.7 1072.8 1381 1068.8 1380.4 1064.8 1379.8 1060.8 1379.1 1056.8 1378.5 1052.8 1377.9 1048.8 1377.3 1044.8 1376.7 1040.8 1376.1 1036.8 1375.5 1032.8 1374.9 1028.8 1374.3 1024.8 1373.6 1020.8 1373 1016.8 1372.4 1012.8 1371.8 1008.8 1371.1 1004.8 1370.4 1000.8 1369.8 996.8 1369 992.8 1368.3 988.8 1367.5 984.8 1366.7 980.8 1365.9 976.8 1365 972.8 1364.1 968.8 1363.1 964.8 1362.1 960.8 1361.1 956.8 1360.1 952.8 1359 948.8 1357.9 944.8 1356.8 940.8 1355.7 936.8 1354.6 932.8 1353.5 928.8 1352.4 924.8 1351.2 920.8 1350.1 916.8 1348.9 912.8 1347.7 908.8 1346.5 904.8 1345.3 900.8 1344.1 896.8 1342.9 892.8 1341.6 888.8 1340.3 884.8 1338.9 880.8 1337.6 876.8 1336.2 872.8 1334.8 868.8 1333.3 864.8 1331.8 860.8 1330.3 856.8 1328.8 852.8 1327.3 848.8 1325.7 844.8 1324.1 840.8 1322.5 836.8 1320.9 832.8 1319.2 828.8 1317.6 824.8 1316 820.8 1314.3 816.8 1312.6 812.8 1310.9 808.8 1309.2 804.8 1307.4 800.8 1305.7 796.8 1303.9 792.8 1302 788.8 1300.2 784.8 1298.3 780.8 1296.3 779.8 1295.8 778.8 1295.3 777.8 1294.8 776.8 1294.3 775.8 1293.8 774.8 1293.3 773.8 1292.8 772.8 1292.3 771.8 1291.7 770.8 1291.2 769.8 1290.7 768.8 1290.2 767.8 1289.6 766.8 1289.1 765.8 1288.5 764.8 1288 763.8 1287.4 762.8 1286.9 761.8 1286.3 760.8 1285.7 759.8 1285.2 758.8 1284.6 757.8 1284 756.8 1283.4 755.8 1282.8 754.8 1282.2 753.8 1281.6 752.8 1281 751.8 1280.3 750.8 1279.7 749.8 1279 748.8 1278.4 747.8 1277.7 746.8 1277 745.8 1276.4 744.8 1275.7 743.8 1274.9 742.8 1274.2 741.8 1273.5 740.8 1272.8 739.8 1272 738.8 1271.3 737.8 1270.5 736.8 1269.7 735.8 1268.9 734.8 1268.1 733.8 1267.3 732.8 1266.5 731.8 1265.7 730.8 1264.9 729.8 1264.1 728.8 1263.2 727.8 1262.4 726.8 1261.6 725.8 1260.7 724.8 1259.9 723.8 1259 722.8 1258.1 721.8 1257.3 720.8 1256.4 719.8 1255.5 718.8 1254.6 717.8 1253.8 716.8 1252.9 715.8 1252 714.8 1251.1 713.8 1250.2 712.8 1249.3 711.8 1248.4 710.8 1247.5 709.8 1246.5 708.8 1245.6 707.8 1244.7 706.8 1243.8 705.8 1242.8 704.8 1241.9 703.8 1240.9 702.8 1240 701.8 1239 700.8 1238.1 699.8 1237.1 698.8 1236.1 697.8 1235.2 696.8 1234.2 695.8 1233.2 694.8 1232.2 693.8 1231.1 692.8 1230.1 691.8 1229.1 690.8 1228 689.8 1227 688.8 1225.9 687.8 1224.9 686.8 1223.8 685.8 1222.7 684.8 1221.5 683.8 1220.4 682.8 1219.3 681.8 1218.1 680.8 1216.9 679.8 1215.7 678.8 1214.5 677.8 1213.3 676.8 1212 675.8 1210.7 674.8 1209.4 673.8 1208.1 672.8 1206.7 671.8 1205.4 670.8 1204 669.8 1202.6 668.8 1201.1 667.8 1199.6 666.8 1198.1 665.8 1196.6 664.8 1195.1 663.8 1193.5 662.8 1191.9 661.8 1190.3 660.8 1188.6 659.8 1187 658.8 1185.3 657.8 1183.6 656.8 1181.8 655.8 1180.1 654.8 1178.3 653.8 1176.5 652.8 1174.7 651.8 1172.9 650.8 1171 649.8 1169.1 648.8 1167.2 647.8 1165.3 646.8 1163.4 645.8 1161.4 644.8 1159.4 643.8 1157.4 642.8 1155.4 641.8 1153.3 640.8 1151.2 639.8 1149.1 638.8 1147 637.8 1144.8 636.8 1142.6 635.8 1140.4 634.8 1138.2 633.8 1135.9 632.8 1133.6 631.8 1131.3 630.8 1128.9 629.8 1126.5 628.8 1124.1 627.8 1121.7 626.8 1119.2 625.8 1116.7 624.8 1114.2 623.8 1111.7 622.8 1109.2 621.8 1106.7 620.8 1104.2 619.8 1101.7 618.8 1099.2 617.8 1096.7 616.8 1094 615.8 1091.4 614.8 1088.6 613.8 1085.7 612.8 1082.7 611.8 1079.6 610.8 1076.2 609.8 1072.8 608.8 1069.2 607.8 1065.5 606.8 1061.7 605.8 1057.8 604.8 1053.9 603.8 1049.9 602.8 1045.9 601.8 1041.9 600.8 1037.9 599.8 1034 598.8 1030.1 597.8 1026.3 596.8 1022.4 595.8 1018.6 594.8 1014.7 593.8 1010.8 592.8 1006.9 591.8 1003 590.8 999 589.8 995 588.8 990.9 587.8 986.7 586.8 982.4 585.8 978 584.8 973.5 583.8 968.9 582.8 964.1 581.8 959.2 580.8 954 579.8 948.7 578.8 943.2 577.8 937.5 576.8 931.8 575.8 926 574.8 920.1 573.8 914.1 572.8 908.1 571.8 902.2 570.8 896.2 569.8 890.3 568.8 884.2 567.8 878.2 566.8 872.1 565.8 865.9 564.8 859.7 563.8 853.5 562.8 847.2 561.8 840.8 560.8 834.4 559.8 827.8 558.8 821.2 557.8 814.6 556.8 807.8 556.4 805.1 555.8 801 554.8 793.9 553.8 786.6 552.8 779.2 551.8 771.8 550.8 764.3 549.8 756.8 548.8 749.5 548.2 745.1 547.8 742.2 546.8 735.1 545.8 728.1 544.8 721.1 543.8 714.1 542.8 707 541.8 699.9 540.8 692.6 539.8 685.1 538.8 677.4 537.8 669.4 536.8 661.2 535.8 653 534.8 644.7 533.8 636.5 532.8 628.3 532.4 625.1 531.8 620.3 530.8 612.3 529.8 604.4 528.8 596.4 527.8 588.5 526.8 580.6 526.1 575.1 525.8 572.7 524.8 564.7 523.8 556.6 522.8 548.5 521.8 540.5 520.8 532.4 519.8 524.6 518.8 516.9 517.8 509.4 517.2 505.1 516.8 502.2 515.8 495.2 514.8 488.2 513.8 481.3 512.8 474.5 511.8 467.9 510.8 461.6 509.8 455.4 508.8 449.6 508 445.1 507.8 444 506.8 438.7 505.8 433.7 504.8 428.8 503.8 424.2 502.8 419.6 501.8 415.2 500.8 410.7 500.2 408.1 499.8 406.3 498.8 402 497.8 397.8 496.8 393.7 495.8 389.7 495 386.6 494.8 385.8 493.8 382.1 492.8 378.4 491.8 374.8 490.8 371.3 490.3 369.5 489.8 367.7 488.8 363.8 487.8 360.3 487.2 358.6 486.8 357.7 485.8 355.6 484.8 353.9 484.5 353.4 483.8 352.3 482.8 350.9 481.8 349.6 481.3 348.9 480.8 348.2 479.8 346.8 479.4 346.4 479 346.1 478.8 346.2 478.6 346.4 477.8 347.7 477.3 348.7 476.8 349.6 475.8 351.4 474.8 353.1 474.1 354.1 473.8 354.5 472.8 355.5 471.8 356.3 470.8 357.1 469.8 358 469 358.8 468.8 359 467.8 360.3 466.8 361.8 465.8 363.3 464.8 365.1 463.8 366.9 462.8 368.9 462.5 369.5 461.8 371 460.8 373.2 459.8 375.6 458.8 378.3 457.8 381.3 456.8 384.7 456.3 386.6 455.8 388.8 454.8 394.3 453.8 400.5 453 405.1 452.8 406.2 451.8 411.4 450.8 416.4 449.8 421.4 448.8 426.3 447.8 431.2 446.8 436.1 445.8 441.1 445 445.1 444.8 446.1 443.8 451.2 442.8 456.3 441.8 461.4 440.8 466.5 439.8 471.6 438.8 476.8 437.8 482 436.8 487.2 435.8 492.6 434.8 498 433.8 503.4 433.5 505.1 432.8 509 431.8 514.8 430.8 520.8 429.8 526.9 428.8 533.1 427.8 539.3 426.8 545.5 425.8 551.6 424.8 557.6 423.8 563.5 422.8 569.1 421.8 574.6 421.7 575.1 420.8 579.8 419.8 584.7 418.8 589.6 417.8 594.3 416.8 598.9 415.8 603.5 414.8 608 413.8 612.7 412.8 617.3 411.8 622.1 411.2 625.1 410.8 627.1 409.8 632.2 408.8 637.4 407.8 642.7 406.8 648.1 405.8 653.5 404.8 658.9 403.8 664.2 402.8 669.5 401.8 674.7 400.8 679.7 399.8 684.6 399.7 685.1 398.8 689.4 397.8 694.2 396.8 698.9 395.8 703.6 394.8 708.3 393.8 712.9 392.8 717.4 391.8 721.9 390.8 726.2 389.8 730.4 388.8 734.5 387.8 738.4 386.8 742.2 386 745.1 385.8 745.8 384.8 749.2 383.8 752.3 382.8 755.2 381.8 758.1 380.8 760.9 379.8 763.6 378.8 766.4 377.8 769.3 376.8 772.3 375.8 775.5 375.3 777.2 374.8 779 373.8 782.9 372.8 787.2 371.8 791.6 370.8 795.9 369.8 799.9 368.8 803.3 368.2 805.1 367.8 806.1 366.8 808.3 365.8 810.2 364.8 811.8 363.8 813.5 362.8 815.4 361.8 817.7 361.2 819.4 360.8 820.7 359.8 825 358.8 830.2 357.8 835.8 356.8 841.3 356.5 842.8 355.8 847 354.8 853.6 353.8 857.8 353.5 858.1 352.8 854 351.8 842.8 350.8 832 349.8 822.9 349.5 821.7 348.8 820.1 347.8 818.4 346.8 817.4 346 817.1 345.8 817.1 344.8 817.5 343.8 818.2 342.8 819.1 342.5 819.4 341.8 820.4 340.8 822.6 339.8 825.1 338.8 827.4 337.8 828.8 336.8 829.5 335.8 830.2 334.8 830.8 333.8 831.3 332.8 831.8 331.8 832.1 330.8 832.5 329.8 832.7 328.8 832.9 327.8 833.1 326.8 833.2 325.8 833.4 324.8 833.5 323.8 833.6 322.8 833.7 321.8 833.8 320.8 833.9 319.8 833.9 318.8 833.9 317.8 833.8 316.8 833.5 315.8 833.1 314.8 832.6 313.8 832.1 312.8 831.5 311.8 831 310.8 830.4 309.8 829.8 308.8 829.2 307.8 828.5 306.8 827.7 305.8 826.9 304.8 826.1 303.8 825.2 302.8 824.2 301.8 823.3 300.8 822.2 299.8 821.2 298.8 820 297.8 818.7 296.8 817.3 295.8 815.8 294.8 814.3 293.8 812.6 292.8 810.9 291.8 809.1 290.8 807.2 289.8 805.3 288.8 803.4 287.8 801.4 286.8 799.2 285.8 796.8 284.8 794.4 283.8 791.8 282.8 789.2 281.8 786.4 280.8 783.6 279.8 780.8 278.8 778 277.8 775.1 276.8 772.2 275.8 769.3 274.8 766.4 273.8 763.5 272.8 760.5 271.8 757.5 270.8 754.4 269.8 751.2 268.8 748 267.8 744.6 266.8 741.2 265.8 737.7 264.8 734 263.8 730.1 262.8 726 261.8 721.8 260.8 717.4 259.8 712.9 258.8 708.4 257.8 703.7 256.8 699.1 255.8 694.4 254.8 689.8 253.8 685.3 252.8 680.8 251.8 676.4 250.8 671.9 249.8 667.4 248.8 662.9 247.8 658.4 246.8 653.9 245.8 649.4 244.8 644.8 243.8 640.3 242.8 635.8 241.8 631.2ZM244.9 617 245.9 621.6 246.9 626.1 247.9 630.7 248.9 635.2 249.9 639.7 250.9 644.3 251.9 648.8 252.9 653.3 253.9 657.8 254.9 662.3 255.9 666.8 256.9 671.3 257.9 675.7 258.9 680.2 259.9 684.7 260.9 689.3 261.9 694 262.9 698.6 263.9 703.3 264.9 707.8 265.9 712.3 266.9 716.7 267.9 720.9 268.9 725 269.9 728.9 270.9 732.6 271.9 736.1 272.9 739.5 273.9 742.9 274.9 746.1 275.9 749.3 276.9 752.4 277.9 755.4 278.9 758.4 279.9 761.3 280.9 764.2 281.9 767.1 282.9 770 283.9 772.9 284.9 775.7 285.9 778.5 286.9 781.3 287.9 784.1 288.9 786.7 289.9 789.3 290.9 791.7 291.9 794.1 292.9 796.3 293.9 798.3 294.9 800.2 295.9 802.1 296.9 804 297.9 805.8 298.9 807.5 299.9 809.2 300.9 810.7 301.9 812.2 302.9 813.6 303.9 814.9 304.9 816.1 305.9 817.1 306.9 818.2 307.9 819.1 308.9 820.1 309.9 821 310.9 821.8 311.9 822.6 312.9 823.4 313.9 824.1 314.9 824.7 315.9 825.3 316.9 825.9 317.9 826.4 318.9 827 319.9 827.5 320.9 828 321.9 828.4 322.9 828.7 323.9 828.8 313.7 828.8 312.7 828.7 311.7 828.4 310.7 828 309.7 827.5 308.7 827 307.7 826.4 306.7 825.9 305.7 825.3 304.7 824.7 303.7 824.1 302.7 823.4 301.7 822.6 300.7 821.8 299.7 821 298.7 820.1 297.7 819.1 296.7 818.2 295.7 817.1 294.7 816.1 293.7 814.9 292.7 813.6 291.7 812.2 290.7 810.7 289.7 809.2 288.7 807.5 287.7 805.8 286.7 804 285.7 802.1 284.7 800.2 283.7 798.3 282.7 796.3 281.7 794.1 280.7 791.7 279.7 789.3 278.7 786.7 277.7 784.1 276.7 781.3 275.7 778.5 274.7 775.7 273.7 772.9 272.7 770 271.7 767.1 270.7 764.2 269.7 761.3 268.7 758.4 267.7 755.4 266.7 752.4 265.7 749.3 264.7 746.1 263.7 742.9 262.7 739.5 261.7 736.1 260.7 732.6 259.7 728.9 258.7 725 257.7 720.9 256.7 716.7 255.7 712.3 254.7 707.8 253.7 703.3 252.7 698.6 251.7 694 250.7 689.3 249.7 684.7 248.7 680.2 247.7 675.7 246.7 671.3 245.7 666.8 244.7 662.3 243.7 657.8 242.7 653.3 241.7 648.8 240.7 644.3 239.7 639.7 238.7 635.2 237.7 630.7 236.7 626.1 235.7 621.6 234.7 617ZM313.7 828.8 314.7 828.8 315.7 828.8 316.7 828.7 317.7 828.6 318.7 828.5 319.7 828.4 320.7 828.3 321.7 828.1 322.7 828 323.7 827.8 324.7 827.6 325.7 827.4 326.7 827 327.7 826.7 328.7 826.2 329.7 825.7 330.7 825.1 331.7 824.4 332.7 823.7 333.7 822.3 334.7 820 335.7 817.5 336.7 815.3 337.4 814.3 337.7 814 338.7 813.1 339.7 812.4 340.7 812 340.9 812 351.1 812 350.9 812 349.9 812.4 348.9 813.1 347.9 814 347.6 814.3 346.9 815.3 345.9 817.5 344.9 820 343.9 822.3 342.9 823.7 341.9 824.4 340.9 825.1 339.9 825.7 338.9 826.2 337.9 826.7 336.9 827 335.9 827.4 334.9 827.6 333.9 827.8 332.9 828 331.9 828.1 330.9 828.3 329.9 828.4 328.9 828.5 327.9 828.6 326.9 828.7 325.9 828.8 324.9 828.8 323.9 828.8ZM351.1 812 351.9 812.3 352.9 813.3 353.9 815 354.6 816.6 354.9 817.8 355.9 826.9 356.9 837.7 357.9 848.9 358.6 853 348.4 853 347.7 848.9 346.7 837.7 345.7 826.9 344.7 817.8 344.4 816.6 343.7 815 342.7 813.3 341.7 812.3 340.9 812ZM348.4 853 348.7 852.7 349.7 848.5 350.7 841.9 351.4 837.7 351.7 836.2 352.7 830.7 353.7 825.1 354.7 819.9 355.7 815.6 356.1 814.3 356.7 812.6 357.7 810.3 358.7 808.4 359.7 806.7 360.7 805.1 361.7 803.2 362.7 801 363.1 800 363.7 798.2 364.7 794.8 365.7 790.8 366.7 786.5 367.7 782.1 368.7 777.8 369.7 773.9 370.2 772.1 370.7 770.4 371.7 767.2 372.7 764.2 373.7 761.3 374.7 758.5 375.7 755.8 376.7 753 377.7 750.1 378.7 747.2 379.7 744.1 380.7 740.7 380.9 740 381.7 737.1 382.7 733.3 383.7 729.4 384.7 725.3 385.7 721.1 386.7 716.8 387.7 712.3 388.7 707.8 389.7 703.2 390.7 698.5 391.7 693.8 392.7 689.1 393.7 684.3 394.6 680 394.7 679.5 395.7 674.6 396.7 669.6 397.7 664.4 398.7 659.1 399.7 653.8 400.7 648.4 401.7 643 402.7 637.6 403.7 632.3 404.7 627.1 405.7 622 406.1 620 406.7 617 407.7 612.2 408.7 607.6 409.7 602.9 410.7 598.4 411.7 593.8 412.7 589.2 413.7 584.5 414.7 579.6 415.7 574.7 416.6 570 416.7 569.5 417.7 564 418.7 558.4 419.7 552.5 420.7 546.5 421.7 540.4 422.7 534.2 423.7 528 424.7 521.8 425.7 515.7 426.7 509.7 427.7 503.9 428.4 500 428.7 498.3 429.7 492.9 430.7 487.5 431.7 482.1 432.7 476.9 433.7 471.7 434.7 466.5 435.7 461.4 436.7 456.3 437.7 451.2 438.7 446.1 439.7 441 439.9 440 440.7 436 441.7 431 442.7 426.1 443.7 421.2 444.7 416.3 445.7 411.3 446.7 406.3 447.7 401.1 447.9 400 448.7 395.4 449.7 389.2 450.7 383.7 451.2 381.5 451.7 379.6 452.7 376.2 453.7 373.2 454.7 370.5 455.7 368.1 456.7 365.9 457.4 364.4 457.7 363.8 458.7 361.8 459.7 360 460.7 358.2 461.7 356.7 462.7 355.2 463.7 353.9 463.9 353.7 464.7 352.9 465.7 352 466.7 351.2 467.7 350.4 468.7 349.4 469 349 469.7 348 470.7 346.3 471.7 344.5 472.2 343.6 472.7 342.6 473.5 341.3 473.7 341.1 473.9 341 484.1 341 483.9 341.1 483.7 341.3 482.9 342.6 482.4 343.6 481.9 344.5 480.9 346.3 479.9 348 479.2 349 478.9 349.4 477.9 350.4 476.9 351.2 475.9 352 474.9 352.9 474.1 353.7 473.9 353.9 472.9 355.2 471.9 356.7 470.9 358.2 469.9 360 468.9 361.8 467.9 363.8 467.6 364.4 466.9 365.9 465.9 368.1 464.9 370.5 463.9 373.2 462.9 376.2 461.9 379.6 461.4 381.5 460.9 383.7 459.9 389.2 458.9 395.4 458.1 400 457.9 401.1 456.9 406.3 455.9 411.3 454.9 416.3 453.9 421.2 452.9 426.1 451.9 431 450.9 436 450.1 440 449.9 441 448.9 446.1 447.9 451.2 446.9 456.3 445.9 461.4 444.9 466.5 443.9 471.7 442.9 476.9 441.9 482.1 440.9 487.5 439.9 492.9 438.9 498.3 438.6 500 437.9 503.9 436.9 509.7 435.9 515.7 434.9 521.8 433.9 528 432.9 534.2 431.9 540.4 430.9 546.5 429.9 552.5 428.9 558.4 427.9 564 426.9 569.5 426.8 570 425.9 574.7 424.9 579.6 423.9 584.5 422.9 589.2 421.9 593.8 420.9 598.4 419.9 602.9 418.9 607.6 417.9 612.2 416.9 617 416.3 620 415.9 622 414.9 627.1 413.9 632.3 412.9 637.6 411.9 643 410.9 648.4 409.9 653.8 408.9 659.1 407.9 664.4 406.9 669.6 405.9 674.6 404.9 679.5 404.8 680 403.9 684.3 402.9 689.1 401.9 693.8 400.9 698.5 399.9 703.2 398.9 707.8 397.9 712.3 396.9 716.8 395.9 721.1 394.9 725.3 393.9 729.4 392.9 733.3 391.9 737.1 391.1 740 390.9 740.7 389.9 744.1 388.9 747.2 387.9 750.1 386.9 753 385.9 755.8 384.9 758.5 383.9 761.3 382.9 764.2 381.9 767.2 380.9 770.4 380.4 772.1 379.9 773.9 378.9 777.8 377.9 782.1 376.9 786.5 375.9 790.8 374.9 794.8 373.9 798.2 373.3 800 372.9 801 371.9 803.2 370.9 805.1 369.9 806.7 368.9 808.4 367.9 810.3 366.9 812.6 366.3 814.3 365.9 815.6 364.9 819.9 363.9 825.1 362.9 830.7 361.9 836.2 361.6 837.7 360.9 841.9 359.9 848.5 358.9 852.7 358.6 853ZM484.1 341 484.5 341.3 484.9 341.7 485.9 343.1 486.4 343.8 486.9 344.5 487.9 345.8 488.9 347.2 489.6 348.3 489.9 348.8 490.9 350.5 491.9 352.6 492.3 353.5 492.9 355.2 493.9 358.7 494.9 362.6 495.4 364.4 495.9 366.2 496.9 369.7 497.9 373.3 498.9 377 499.9 380.7 500.1 381.5 500.9 384.6 501.9 388.6 502.9 392.7 503.9 396.9 504.9 401.2 505.3 403 505.9 405.6 506.9 410.1 507.9 414.5 508.9 419.1 509.9 423.7 510.9 428.6 511.9 433.6 512.9 438.9 513.1 440 513.9 444.5 514.9 450.3 515.9 456.5 516.9 462.8 517.9 469.4 518.9 476.2 519.9 483.1 520.9 490.1 521.9 497.1 522.3 500 522.9 504.3 523.9 511.8 524.9 519.5 525.9 527.3 526.9 535.4 527.9 543.4 528.9 551.5 529.9 559.6 530.9 567.6 531.2 570 531.9 575.5 532.9 583.4 533.9 591.3 534.9 599.3 535.9 607.2 536.9 615.2 537.5 620 537.9 623.2 538.9 631.4 539.9 639.6 540.9 647.9 541.9 656.1 542.9 664.3 543.9 672.3 544.9 680 545.9 687.5 546.9 694.8 547.9 701.9 548.9 709 549.9 716 550.9 723 551.9 730 552.9 737.1 553.3 740 553.9 744.4 554.9 751.7 555.9 759.2 556.9 766.7 557.9 774.1 558.9 781.5 559.9 788.8 560.9 795.9 561.5 800 561.9 802.7 562.9 809.5 563.9 816.1 564.9 822.7 565.9 829.3 566.9 835.7 567.9 842.1 568.9 848.4 569.9 854.6 570.9 860.8 571.9 867 572.9 873.1 573.9 879.1 574.9 885.2 575.9 891.1 576.9 897.1 577.9 903 578.9 909 579.9 915 580.9 920.9 581.9 926.7 582.9 932.4 583.9 938.1 584.9 943.6 585.9 948.9 586.9 954.1 587.9 959 588.9 963.8 589.9 968.4 590.9 972.9 591.9 977.3 592.9 981.6 593.9 985.8 594.9 989.9 595.9 993.9 596.9 997.9 597.9 1001.8 598.9 1005.7 599.9 1009.6 600.9 1013.5 601.9 1017.3 602.9 1021.2 603.9 1025 604.9 1028.9 605.9 1032.8 606.9 1036.8 607.9 1040.8 608.9 1044.8 609.9 1048.8 610.9 1052.7 611.9 1056.6 612.9 1060.4 613.9 1064.1 614.9 1067.7 615.9 1071.1 616.9 1074.5 617.9 1077.6 618.9 1080.6 619.9 1083.5 620.9 1086.3 621.9 1088.9 622.9 1091.6 623.9 1094.1 624.9 1096.6 625.9 1099.1 626.9 1101.6 627.9 1104.1 628.9 1106.6 629.9 1109.1 630.9 1111.6 631.9 1114.1 632.9 1116.6 633.9 1119 634.9 1121.4 635.9 1123.8 636.9 1126.2 637.9 1128.5 638.9 1130.8 639.9 1133.1 640.9 1135.3 641.9 1137.5 642.9 1139.7 643.9 1141.9 644.9 1144 645.9 1146.1 646.9 1148.2 647.9 1150.3 648.9 1152.3 649.9 1154.3 650.9 1156.3 651.9 1158.3 652.9 1160.2 653.9 1162.1 654.9 1164 655.9 1165.9 656.9 1167.8 657.9 1169.6 658.9 1171.4 659.9 1173.2 660.9 1175 661.9 1176.7 662.9 1178.5 663.9 1180.2 664.9 1181.9 665.9 1183.5 666.9 1185.2 667.9 1186.8 668.9 1188.4 669.9 1190 670.9 1191.5 671.9 1193 672.9 1194.5 673.9 1196 674.9 1197.5 675.9 1198.9 676.9 1200.3 677.9 1201.6 678.9 1203 679.9 1204.3 680.9 1205.6 681.9 1206.9 682.9 1208.2 683.9 1209.4 684.9 1210.6 685.9 1211.8 686.9 1213 687.9 1214.2 688.9 1215.3 689.9 1216.4 690.9 1217.6 691.9 1218.7 692.9 1219.8 693.9 1220.8 694.9 1221.9 695.9 1222.9 696.9 1224 697.9 1225 698.9 1226 699.9 1227.1 700.9 1228.1 701.9 1229.1 702.9 1230.1 703.9 1231 704.9 1232 705.9 1233 706.9 1233.9 707.9 1234.9 708.9 1235.8 709.9 1236.8 710.9 1237.7 711.9 1238.7 712.9 1239.6 713.9 1240.5 714.9 1241.4 715.9 1242.4 716.9 1243.3 717.9 1244.2 718.9 1245.1 719.9 1246 720.9 1246.9 721.9 1247.8 722.9 1248.7 723.9 1249.5 724.9 1250.4 725.9 1251.3 726.9 1252.2 727.9 1253 728.9 1253.9 729.9 1254.8 730.9 1255.6 731.9 1256.5 732.9 1257.3 733.9 1258.1 734.9 1259 735.9 1259.8 736.9 1260.6 737.9 1261.4 738.9 1262.2 739.9 1263 740.9 1263.8 741.9 1264.6 742.9 1265.4 743.9 1266.2 744.9 1266.9 745.9 1267.7 746.9 1268.4 747.9 1269.1 748.9 1269.8 749.9 1270.6 750.9 1271.3 751.9 1271.9 752.9 1272.6 753.9 1273.3 754.9 1273.9 755.9 1274.6 756.9 1275.2 757.9 1275.9 758.9 1276.5 759.9 1277.1 760.9 1277.7 761.9 1278.3 762.9 1278.9 763.9 1279.5 764.9 1280.1 765.9 1280.6 766.9 1281.2 767.9 1281.8 768.9 1282.3 769.9 1282.9 770.9 1283.4 771.9 1284 772.9 1284.5 773.9 1285.1 774.9 1285.6 775.9 1286.1 776.9 1286.6 777.9 1287.2 778.9 1287.7 779.9 1288.2 780.9 1288.7 781.9 1289.2 782.9 1289.7 783.9 1290.2 784.9 1290.7 785.9 1291.2 786.9 1291.7 787.9 1292.2 788.9 1292.7 789.9 1293.2 790.9 1293.6 791.9 1294.1 792.9 1294.6 793.9 1295.1 794.9 1295.5 795.9 1296 796.9 1296.5 797.9 1296.9 798.9 1297.4 799.9 1297.9 800.9 1298.3 801.9 1298.8 802.9 1299.2 803.9 1299.7 804.9 1300.1 794.7 1300.1 793.7 1299.7 792.7 1299.2 791.7 1298.8 790.7 1298.3 789.7 1297.9 788.7 1297.4 787.7 1296.9 786.7 1296.5 785.7 1296 784.7 1295.5 783.7 1295.1 782.7 1294.6 781.7 1294.1 780.7 1293.6 779.7 1293.2 778.7 1292.7 777.7 1292.2 776.7 1291.7 775.7 1291.2 774.7 1290.7 773.7 1290.2 772.7 1289.7 771.7 1289.2 770.7 1288.7 769.7 1288.2 768.7 1287.7 767.7 1287.2 766.7 1286.6 765.7 1286.1 764.7 1285.6 763.7 1285.1 762.7 1284.5 761.7 1284 760.7 1283.4 759.7 1282.9 758.7 1282.3 757.7 1281.8 756.7 1281.2 755.7 1280.6 754.7 1280.1 753.7 1279.5 752.7 1278.9 751.7 1278.3 750.7 1277.7 749.7 1277.1 748.7 1276.5 747.7 1275.9 746.7 1275.2 745.7 1274.6 744.7 1273.9 743.7 1273.3 742.7 1272.6 741.7 1271.9 740.7 1271.3 739.7 1270.6 738.7 1269.8 737.7 1269.1 736.7 1268.4 735.7 1267.7 734.7 1266.9 733.7 1266.2 732.7 1265.4 731.7 1264.6 730.7 1263.8 729.7 1263 728.7 1262.2 727.7 1261.4 726.7 1260.6 725.7 1259.8 724.7 1259 723.7 1258.1 722.7 1257.3 721.7 1256.5 720.7 1255.6 719.7 1254.8 718.7 1253.9 717.7 1253 716.7 1252.2 715.7 1251.3 714.7 1250.4 713.7 1249.5 712.7 1248.7 711.7 1247.8 710.7 1246.9 709.7 1246 708.7 1245.1 707.7 1244.2 706.7 1243.3 705.7 1242.4 704.7 1241.4 703.7 1240.5 702.7 1239.6 701.7 1238.7 700.7 1237.7 699.7 1236.8 698.7 1235.8 697.7 1234.9 696.7 1233.9 695.7 1233 694.7 1232 693.7 1231 692.7 1230.1 691.7 1229.1 690.7 1228.1 689.7 1227.1 688.7 1226 687.7 1225 686.7 1224 685.7 1222.9 684.7 1221.9 683.7 1220.8 682.7 1219.8 681.7 1218.7 680.7 1217.6 679.7 1216.4 678.7 1215.3 677.7 1214.2 676.7 1213 675.7 1211.8 674.7 1210.6 673.7 1209.4 672.7 1208.2 671.7 1206.9 670.7 1205.6 669.7 1204.3 668.7 1203 667.7 1201.6 666.7 1200.3 665.7 1198.9 664.7 1197.5 663.7 1196 662.7 1194.5 661.7 1193 660.7 1191.5 659.7 1190 658.7 1188.4 657.7 1186.8 656.7 1185.2 655.7 1183.5 654.7 1181.9 653.7 1180.2 652.7 1178.5 651.7 1176.7 650.7 1175 649.7 1173.2 648.7 1171.4 647.7 1169.6 646.7 1167.8 645.7 1165.9 644.7 1164 643.7 1162.1 642.7 1160.2 641.7 1158.3 640.7 1156.3 639.7 1154.3 638.7 1152.3 637.7 1150.3 636.7 1148.2 635.7 1146.1 634.7 1144 633.7 1141.9 632.7 1139.7 631.7 1137.5 630.7 1135.3 629.7 1133.1 628.7 1130.8 627.7 1128.5 626.7 1126.2 625.7 1123.8 624.7 1121.4 623.7 1119 622.7 1116.6 621.7 1114.1 620.7 1111.6 619.7 1109.1 618.7 1106.6 617.7 1104.1 616.7 1101.6 615.7 1099.1 614.7 1096.6 613.7 1094.1 612.7 1091.6 611.7 1088.9 610.7 1086.3 609.7 1083.5 608.7 1080.6 607.7 1077.6 606.7 1074.5 605.7 1071.1 604.7 1067.7 603.7 1064.1 602.7 1060.4 601.7 1056.6 600.7 1052.7 599.7 1048.8 598.7 1044.8 597.7 1040.8 596.7 1036.8 595.7 1032.8 594.7 1028.9 593.7 1025 592.7 1021.2 591.7 1017.3 590.7 1013.5 589.7 1009.6 588.7 1005.7 587.7 1001.8 586.7 997.9 585.7 993.9 584.7 989.9 583.7 985.8 582.7 981.6 581.7 977.3 580.7 972.9 579.7 968.4 578.7 963.8 577.7 959 576.7 954.1 575.7 948.9 574.7 943.6 573.7 938.1 572.7 932.4 571.7 926.7 570.7 920.9 569.7 915 568.7 909 567.7 903 566.7 897.1 565.7 891.1 564.7 885.2 563.7 879.1 562.7 873.1 561.7 867 560.7 860.8 559.7 854.6 558.7 848.4 557.7 842.1 556.7 835.7 555.7 829.3 554.7 822.7 553.7 816.1 552.7 809.5 551.7 802.7 551.3 800 550.7 795.9 549.7 788.8 548.7 781.5 547.7 774.1 546.7 766.7 545.7 759.2 544.7 751.7 543.7 744.4 543.1 740 542.7 737.1 541.7 730 540.7 723 539.7 716 538.7 709 537.7 701.9 536.7 694.8 535.7 687.5 534.7 680 533.7 672.3 532.7 664.3 531.7 656.1 530.7 647.9 529.7 639.6 528.7 631.4 527.7 623.2 527.3 620 526.7 615.2 525.7 607.2 524.7 599.3 523.7 591.3 522.7 583.4 521.7 575.5 521 570 520.7 567.6 519.7 559.6 518.7 551.5 517.7 543.4 516.7 535.4 515.7 527.3 514.7 519.5 513.7 511.8 512.7 504.3 512.1 500 511.7 497.1 510.7 490.1 509.7 483.1 508.7 476.2 507.7 469.4 506.7 462.8 505.7 456.5 504.7 450.3 503.7 444.5 502.9 440 502.7 438.9 501.7 433.6 500.7 428.6 499.7 423.7 498.7 419.1 497.7 414.5 496.7 410.1 495.7 405.6 495.1 403 494.7 401.2 493.7 396.9 492.7 392.7 491.7 388.6 490.7 384.6 489.9 381.5 489.7 380.7 488.7 377 487.7 373.3 486.7 369.7 485.7 366.2 485.2 364.4 484.7 362.6 483.7 358.7 482.7 355.2 482.1 353.5 481.7 352.6 480.7 350.5 479.7 348.8 479.4 348.3 478.7 347.2 477.7 345.8 476.7 344.5 476.2 343.8 475.7 343.1 474.7 341.7 474.3 341.3 473.9 341Z"/>
<path fill="none" stroke="#000000" stroke-width="8.9" stroke-linejoin="round" d="M241.8 626.1 242.8 630.7 243.8 635.2 244.8 639.7 245.8 644.3 246.8 648.8 247.8 653.3 248.8 657.8 249.8 662.3 250.8 666.8 251.8 671.3 252.8 675.7 253.8 680.2 254.8 684.7 255.8 689.3 256.8 694 257.8 698.6 258.8 703.3 259.8 707.8 260.8 712.3 261.8 716.7 262.8 720.9 263.8 725 264.8 728.9 265.8 732.6 266.8 736.1 267.8 739.5 268.8 742.9 269.8 746.1 270.8 749.3 271.8 752.4 272.8 755.4 273.8 758.4 274.8 761.3 275.8 764.2 276.8 767.1 277.8 770 278.8 772.9 279.8 775.7 280.8 778.5 281.8 781.3 282.8 784.1 283.8 786.7 284.8 789.3 285.8 791.7 286.8 794.1 287.8 796.3 288.8 798.3 289.8 800.2 290.8 802.1 291.8 804 292.8 805.8 293.8 807.5 294.8 809.2 295.8 810.7 296.8 812.2 297.8 813.6 298.8 814.9 299.8 816.1 300.8 817.1 301.8 818.2 302.8 819.1 303.8 820.1 304.8 821 305.8 821.8 306.8 822.6 307.8 823.4 308.8 824.1 309.8 824.7 310.8 825.3 311.8 825.9 312.8 826.4 313.8 827 314.8 827.5 315.8 828 316.8 828.4 317.8 828.7 318.8 828.8 319.8 828.8 320.8 828.8 321.8 828.7 322.8 828.6 323.8 828.5 324.8 828.4 325.8 828.3 326.8 828.1 327.8 828 328.8 827.8 329.8 827.6 330.8 827.4 331.8 827 332.8 826.7 333.8 826.2 334.8 825.7 335.8 825.1 336.8 824.4 337.8 823.7 338.8 822.3 339.8 820 340.8 817.5 341.8 815.3 342.5 814.3 342.8 814 343.8 813.1 344.8 812.4 345.8 812 346 812 346.8 812.3 347.8 813.3 348.8 815 349.5 816.6 349.8 817.8 350.8 826.9 351.8 837.7 352.8 848.9 353.5 853 353.8 852.7 354.8 848.5 355.8 841.9 356.5 837.7 356.8 836.2 357.8 830.7 358.8 825.1 359.8 819.9 360.8 815.6 361.2 814.3 361.8 812.6 362.8 810.3 363.8 808.4 364.8 806.7 365.8 805.1 366.8 803.2 367.8 801 368.2 800 368.8 798.2 369.8 794.8 370.8 790.8 371.8 786.5 372.8 782.1 373.8 777.8 374.8 773.9 375.3 772.1 375.8 770.4 376.8 767.2 377.8 764.2 378.8 761.3 379.8 758.5 380.8 755.8 381.8 753 382.8 750.1 383.8 747.2 384.8 744.1 385.8 740.7 386 740 386.8 737.1 387.8 733.3 388.8 729.4 389.8 725.3 390.8 721.1 391.8 716.8 392.8 712.3 393.8 707.8 394.8 703.2 395.8 698.5 396.8 693.8 397.8 689.1 398.8 684.3 399.7 680 399.8 679.5 400.8 674.6 401.8 669.6 402.8 664.4 403.8 659.1 404.8 653.8 405.8 648.4 406.8 643 407.8 637.6 408.8 632.3 409.8 627.1 410.8 622 411.2 620 411.8 617 412.8 612.2 413.8 607.6 414.8 602.9 415.8 598.4 416.8 593.8 417.8 589.2 418.8 584.5 419.8 579.6 420.8 574.7 421.7 570 421.8 569.5 422.8 564 423.8 558.4 424.8 552.5 425.8 546.5 426.8 540.4 427.8 534.2 428.8 528 429.8 521.8 430.8 515.7 431.8 509.7 432.8 503.9 433.5 500 433.8 498.3 434.8 492.9 435.8 487.5 436.8 482.1 437.8 476.9 438.8 471.7 439.8 466.5 440.8 461.4 441.8 456.3 442.8 451.2 443.8 446.1 444.8 441 445 440 445.8 436 446.8 431 447.8 426.1 448.8 421.2 449.8 416.3 450.8 411.3 451.8 406.3 452.8 401.1 453 400 453.8 395.4 454.8 389.2 455.8 383.7 456.3 381.5 456.8 379.6 457.8 376.2 458.8 373.2 459.8 370.5 460.8 368.1 461.8 365.9 462.5 364.4 462.8 363.8 463.8 361.8 464.8 360 465.8 358.2 466.8 356.7 467.8 355.2 468.8 353.9 469 353.7 469.8 352.9 470.8 352 471.8 351.2 472.8 350.4 473.8 349.4 474.1 349 474.8 348 475.8 346.3 476.8 344.5 477.3 343.6 477.8 342.6 478.6 341.3 478.8 341.1 479 341 479.4 341.3 479.8 341.7 480.8 343.1 481.3 343.8 481.8 344.5 482.8 345.8 483.8 347.2 484.5 348.3 484.8 348.8 485.8 350.5 486.8 352.6 487.2 353.5 487.8 355.2 488.8 358.7 489.8 362.6 490.3 364.4 490.8 366.2 491.8 369.7 492.8 373.3 493.8 377 494.8 380.7 495 381.5 495.8 384.6 496.8 388.6 497.8 392.7 498.8 396.9 499.8 401.2 500.2 403 500.8 405.6 501.8 410.1 502.8 414.5 503.8 419.1 504.8 423.7 505.8 428.6 506.8 433.6 507.8 438.9 508 440 508.8 444.5 509.8 450.3 510.8 456.5 511.8 462.8 512.8 469.4 513.8 476.2 514.8 483.1 515.8 490.1 516.8 497.1 517.2 500 517.8 504.3 518.8 511.8 519.8 519.5 520.8 527.3 521.8 535.4 522.8 543.4 523.8 551.5 524.8 559.6 525.8 567.6 526.1 570 526.8 575.5 527.8 583.4 528.8 591.3 529.8 599.3 530.8 607.2 531.8 615.2 532.4 620 532.8 623.2 533.8 631.4 534.8 639.6 535.8 647.9 536.8 656.1 537.8 664.3 538.8 672.3 539.8 680 540.8 687.5 541.8 694.8 542.8 701.9 543.8 709 544.8 716 545.8 723 546.8 730 547.8 737.1 548.2 740 548.8 744.4 549.8 751.7 550.8 759.2 551.8 766.7 552.8 774.1 553.8 781.5 554.8 788.8 555.8 795.9 556.4 800 556.8 802.7 557.8 809.5 558.8 816.1 559.8 822.7 560.8 829.3 561.8 835.7 562.8 842.1 563.8 848.4 564.8 854.6 565.8 860.8 566.8 867 567.8 873.1 568.8 879.1 569.8 885.2 570.8 891.1 571.8 897.1 572.8 903 573.8 909 574.8 915 575.8 920.9 576.8 926.7 577.8 932.4 578.8 938.1 579.8 943.6 580.8 948.9 581.8 954.1 582.8 959 583.8 963.8 584.8 968.4 585.8 972.9 586.8 977.3 587.8 981.6 588.8 985.8 589.8 989.9 590.8 993.9 591.8 997.9 592.8 1001.8 593.8 1005.7 594.8 1009.6 595.8 1013.5 596.8 1017.3 597.8 1021.2 598.8 1025 599.8 1028.9 600.8 1032.8 601.8 1036.8 602.8 1040.8 603.8 1044.8 604.8 1048.8 605.8 1052.7 606.8 1056.6 607.8 1060.4 608.8 1064.1 609.8 1067.7 610.8 1071.1 611.8 1074.5 612.8 1077.6 613.8 1080.6 614.8 1083.5 615.8 1086.3 616.8 1088.9 617.8 1091.6 618.8 1094.1 619.8 1096.6 620.8 1099.1 621.8 1101.6 622.8 1104.1 623.8 1106.6 624.8 1109.1 625.8 1111.6 626.8 1114.1 627.8 1116.6 628.8 1119 629.8 1121.4 630.8 1123.8 631.8 1126.2 632.8 1128.5 633.8 1130.8 634.8 1133.1 635.8 1135.3 636.8 1137.5 637.8 1139.7 638.8 1141.9 639.8 1144 640.8 1146.1 641.8 1148.2 642.8 1150.3 643.8 1152.3 644.8 1154.3 645.8 1156.3 646.8 1158.3 647.8 1160.2 648.8 1162.1 649.8 1164 650.8 1165.9 651.8 1167.8 652.8 1169.6 653.8 1171.4 654.8 1173.2 655.8 1175 656.8 1176.7 657.8 1178.5 658.8 1180.2 659.8 1181.9 660.8 1183.5 661.8 1185.2 662.8 1186.8 663.8 1188.4 664.8 1190 665.8 1191.5 666.8 1193 667.8 1194.5 668.8 1196 669.8 1197.5 670.8 1198.9 671.8 1200.3 672.8 1201.6 673.8 1203 674.8 1204.3 675.8 1205.6 676.8 1206.9 677.8 1208.2 678.8 1209.4 679.8 1210.6 680.8 1211.8 681.8 1213 682.8 1214.2 683.8 1215.3 684.8 1216.4 685.8 1217.6 686.8 1218.7 687.8 1219.8 688.8 1220.8 689.8 1221.9 690.8 1222.9 691.8 1224 692.8 1225 693.8 1226 694.8 1227.1 695.8 1228.1 696.8 1229.1 697.8 1230.1 698.8 1231 699.8 1232 700.8 1233 701.8 1233.9 702.8 1234.9 703.8 1235.8 704.8 1236.8 705.8 1237.7 706.8 1238.7 707.8 1239.6 708.8 1240.5 709.8 1241.4 710.8 1242.4 711.8 1243.3 712.8 1244.2 713.8 1245.1 714.8 1246 715.8 1246.9 716.8 1247.8 717.8 1248.7 718.8 1249.5 719.8 1250.4 720.8 1251.3 721.8 1252.2 722.8 1253 723.8 1253.9 724.8 1254.8 725.8 1255.6 726.8 1256.5 727.8 1257.3 728.8 1258.1 729.8 1259 730.8 1259.8 731.8 1260.6 732.8 1261.4 733.8 1262.2 734.8 1263 735.8 1263.8 736.8 1264.6 737.8 1265.4 738.8 1266.2 739.8 1266.9 740.8 1267.7 741.8 1268.4 742.8 1269.1 743.8 1269.8 744.8 1270.6 745.8 1271.3 746.8 1271.9 747.8 1272.6 748.8 1273.3 749.8 1273.9 750.8 1274.6 751.8 1275.2 752.8 1275.9 753.8 1276.5 754.8 1277.1 755.8 1277.7 756.8 1278.3 757.8 1278.9 758.8 1279.5 759.8 1280.1 760.8 1280.6 761.8 1281.2 762.8 1281.8 763.8 1282.3 764.8 1282.9 765.8 1283.4 766.8 1284 767.8 1284.5 768.8 1285.1 769.8 1285.6 770.8 1286.1 771.8 1286.6 772.8 1287.2 773.8 1287.7 774.8 1288.2 775.8 1288.7 776.8 1289.2 777.8 1289.7 778.8 1290.2 779.8 1290.7 780.8 1291.2 784.8 1293.2 788.8 1295.1 792.8 1296.9 796.8 1298.8 800.8 1300.6 804.8 1302.3 808.8 1304.1 812.8 1305.8 816.8 1307.5 820.8 1309.2 824.8 1310.9 828.8 1312.5 832.8 1314.1 836.8 1315.8 840.8 1317.4 844.8 1319 848.8 1320.6 852.8 1322.2 856.8 1323.7 860.8 1325.2 864.8 1326.7 868.8 1328.2 872.8 1329.7 876.8 1331.1 880.8 1332.5 884.8 1333.8 888.8 1335.2 892.8 1336.5 896.8 1337.8 900.8 1339 904.8 1340.2 908.8 1341.4 912.8 1342.6 916.8 1343.8 920.8 1345 924.8 1346.1 928.8 1347.3 932.8 1348.4 936.8 1349.5 940.8 1350.6 944.8 1351.7 948.8 1352.8 952.8 1353.9 956.8 1355 960.8 1356 964.8 1357 968.8 1358 972.8 1359 976.8 1359.9 980.8 1360.8 984.8 1361.6 988.8 1362.4 992.8 1363.2 996.8 1363.9 1000.8 1364.7 1004.8 1365.3 1008.8 1366 1012.8 1366.7 1016.8 1367.3 1020.8 1367.9 1024.8 1368.5 1028.8 1369.2 1032.8 1369.8 1036.8 1370.4 1040.8 1371 1044.8 1371.6 1048.8 1372.2 1052.8 1372.8 1056.8 1373.4 1060.8 1374 1064.8 1374.7 1068.8 1375.3 1072.8 1375.9 1076.8 1376.6 1080.8 1377.2 1084.8 1377.8 1088.8 1378.5 1092.8 1379.1 1096.8 1379.8 1100.8 1380.4 1104.8 1381 1108.8 1381.7 1112.8 1382.3 1116.8 1382.9 1120.8 1383.6 1124.8 1384.2 1128.8 1384.8 1132.8 1385.4 1136.8 1386 1140.8 1386.6 1144.8 1387.1 1148.8 1387.7 1152.8 1388.3 1156.8 1388.8 1160.8 1389.4 1164.8 1389.9 1168.8 1390.4 1172.8 1390.9 1176.8 1391.3 1180.8 1391.8 1184.8 1392.2 1188.8 1392.7 1192.8 1393.1 1196.8 1393.5 1200.8 1393.9 1204.8 1394.3 1208.8 1394.7 1212.8 1395 1216.8 1395.4 1220.8 1395.8 1224.8 1396.1 1228.8 1396.5 1232.8 1396.9 1236.8 1397.3 1240.8 1397.6 1244.8 1398 1248.8 1398.4 1252.8 1398.7 1256.8 1399.1 1260.8 1399.5 1264.8 1399.9 1268.8 1400.2 1272.8 1400.6 1276.8 1401 1280.8 1401.4 1284.8 1401.8 1288.8 1402.1 1292.8 1402.5 1296.8 1402.9 1300.8 1403.3 1304.8 1403.6 1308.8 1404 1312.8 1404.4 1316.8 1404.8 1320.8 1405.1 1324.8 1405.5 1328.8 1405.9 1332.8 1406.3 1336.8 1406.7 1340.8 1407 1343.5 1407.3"/>
</g>
<text transform="translate(207.3 103) scale(1 1.045)" font-size="70.5" text-anchor="end">3.0</text>
<text transform="translate(207.3 569.9) scale(1 1.045)" font-size="70.5" text-anchor="end">2.0</text>
<text transform="translate(207.3 1037.5) scale(1 1.045)" font-size="70.5" text-anchor="end">1.0</text>
<text transform="translate(207.3 1503.3) scale(1 1.045)" font-size="70.5" text-anchor="end">0.0</text>
<text transform="translate(238.3 1569) scale(1 1.045)" font-size="70.5" text-anchor="middle">300</text>
<text transform="translate(678.3 1569) scale(1 1.045)" font-size="70.5" text-anchor="middle">500</text>
<text transform="translate(1116.5 1569) scale(1 1.045)" font-size="70.5" text-anchor="middle">700</text>
<text transform="translate(810.5 1670.5) scale(1 1.02)" font-size="70" text-anchor="middle">Wavelength (nm)</text>
<text transform="translate(93 785) rotate(-90) scale(1 1.03)" font-size="70.6" text-anchor="middle">Absorbance</text>
<text transform="translate(964 768) scale(1 1.045)" font-size="75" text-anchor="start">T<tspan dx="-4"> °</tspan><tspan dx="-4">C</tspan></text>
<g stroke-width="10.2" fill="none">
<line stroke="#ff8000" x1="759.2" y1="822.3" x2="887.1" y2="822.3"/>
<line stroke="#008000" x1="759.2" y1="891.2" x2="887.1" y2="891.2"/>
<line stroke="#808000" x1="759.2" y1="961.4" x2="887.1" y2="961.4"/>
<line stroke="#ffff00" x1="759.2" y1="1031.1" x2="887.1" y2="1031.1"/>
<line stroke="#ff00ff" x1="759.2" y1="1100.9" x2="887.1" y2="1100.9"/>
<line stroke="#00ffff" x1="1043.5" y1="810.7" x2="1186.2" y2="810.7"/>
<line stroke="#0000ff" x1="1043.5" y1="888.8" x2="1186.2" y2="888.8"/>
<line stroke="#00ff00" x1="1043.5" y1="966.6" x2="1186.2" y2="966.6"/>
<line stroke="#ff0000" x1="1043.5" y1="1044.4" x2="1186.2" y2="1044.4"/>
<line stroke="#000000" x1="1043.5" y1="1122.1" x2="1186.2" y2="1122.1"/>
</g>
<text transform="translate(905 852.4) scale(1 1.045)" font-size="63" text-anchor="start">25</text>
<text transform="translate(905 921.3) scale(1 1.045)" font-size="63" text-anchor="start">30</text>
<text transform="translate(905 991.5) scale(1 1.045)" font-size="63" text-anchor="start">35</text>
<text transform="translate(905 1061.2) scale(1 1.045)" font-size="63" text-anchor="start">40</text>
<text transform="translate(905 1131) scale(1 1.045)" font-size="63" text-anchor="start">45</text>
<text transform="translate(1204 838) scale(1 1.045)" font-size="63" text-anchor="start">50</text>
<text transform="translate(1204 916.1) scale(1 1.045)" font-size="63" text-anchor="start">60</text>
<text transform="translate(1204 993.9) scale(1 1.045)" font-size="63" text-anchor="start">65</text>
<text transform="translate(1204 1071.7) scale(1 1.045)" font-size="63" text-anchor="start">70</text>
<text transform="translate(1204 1149.4) scale(1 1.045)" font-size="63" text-anchor="start">80</text>
<g stroke="#000" stroke-width="3.2" fill="none">
<path d="M669.2 80.8 V497 H1342.9"/>
</g>
<g stroke="#000" stroke-width="3" fill="none">
<line x1="669.2" y1="455.6" x2="682.8" y2="455.6"/>
<line x1="669.2" y1="414.2" x2="676.8" y2="414.2"/>
<line x1="669.2" y1="372.8" x2="682.8" y2="372.8"/>
<line x1="669.2" y1="331.4" x2="676.8" y2="331.4"/>
<line x1="669.2" y1="290" x2="682.8" y2="290"/>
<line x1="669.2" y1="248.6" x2="676.8" y2="248.6"/>
<line x1="669.2" y1="207.2" x2="682.8" y2="207.2"/>
<line x1="669.2" y1="165.8" x2="676.8" y2="165.8"/>
<line x1="669.2" y1="124.4" x2="682.8" y2="124.4"/>
<line x1="720.7" y1="497" x2="720.7" y2="489.4"/>
<line x1="772.5" y1="497" x2="772.5" y2="483.4"/>
<line x1="824.2" y1="497" x2="824.2" y2="489.4"/>
<line x1="875.9" y1="497" x2="875.9" y2="483.4"/>
<line x1="927.6" y1="497" x2="927.6" y2="489.4"/>
<line x1="979.4" y1="497" x2="979.4" y2="483.4"/>
<line x1="1031.1" y1="497" x2="1031.1" y2="489.4"/>
<line x1="1082.8" y1="497" x2="1082.8" y2="483.4"/>
<line x1="1134.5" y1="497" x2="1134.5" y2="489.4"/>
<line x1="1186.2" y1="497" x2="1186.2" y2="483.4"/>
<line x1="1238" y1="497" x2="1238" y2="489.4"/>
<line x1="1289.7" y1="497" x2="1289.7" y2="483.4"/>
</g>
<path fill="none" stroke="#000" stroke-width="3.7" stroke-linejoin="round" d="M719.5 434.7 720.5 434.6 721.5 434.5 722.5 434.5 723.5 434.4 724.5 434.3 725.5 434.2 726.5 434.1 727.5 434.1 728.5 434 729.5 433.9 730.5 433.8 731.5 433.7 732.5 433.6 733.5 433.5 734.5 433.4 735.5 433.3 736.5 433.2 737.5 433.1 738.5 433 739.5 432.9 740.5 432.8 741.5 432.7 742.5 432.6 743.5 432.4 744.5 432.3 745.5 432.2 746.5 432.1 747.5 432 748.5 431.8 749.5 431.7 750.5 431.6 751.5 431.4 752.5 431.3 753.5 431.2 754.5 431 755.5 430.9 756.5 430.8 757.5 430.6 758.5 430.5 759.5 430.3 760.5 430.2 761.5 430 762.5 429.9 763.5 429.8 764.5 429.6 765.5 429.5 766.5 429.3 767.5 429.1 768.5 429 769.5 428.8 770.5 428.7 771.5 428.5 772.5 428.3 773.5 428.2 774.5 428 775.5 427.8 776.5 427.7 777.5 427.5 778.5 427.3 779.5 427.1 780.5 426.9 781.5 426.7 782.5 426.5 783.5 426.3 784.5 426.1 785.5 425.9 786.5 425.7 787.5 425.5 788.5 425.3 789.5 425.1 790.5 424.9 791.5 424.7 792.5 424.4 793.5 424.2 794.5 424 795.5 423.7 796.5 423.5 797.5 423.3 798.5 423 799.5 422.8 800.5 422.5 801.5 422.3 802.5 422.1 803.5 421.8 804.5 421.6 805.5 421.3 806.5 421 807.5 420.8 808.5 420.5 809.5 420.3 810.5 420 811.5 419.8 812.5 419.5 813.5 419.2 814.5 419 815.5 418.7 816.5 418.4 817.5 418.2 818.5 417.9 819.5 417.6 820.5 417.3 821.5 417.1 822.5 416.8 823.5 416.5 824.5 416.2 825.5 415.9 826.5 415.7 827.5 415.4 828.5 415.1 829.5 414.8 830.5 414.5 831.5 414.2 832.5 413.9 833.5 413.6 834.5 413.2 835.5 412.9 836.5 412.6 837.5 412.3 838.5 412 839.5 411.6 840.5 411.3 841.5 411 842.5 410.6 843.5 410.3 844.5 409.9 845.5 409.6 846.5 409.3 847.5 408.9 848.5 408.6 849.5 408.2 850.5 407.9 851.5 407.5 852.5 407.2 853.5 406.9 854.5 406.5 855.5 406.2 856.5 405.8 857.5 405.5 858.5 405.2 859.5 404.8 860.5 404.5 861.5 404.2 862.5 403.8 863.5 403.5 864.5 403.2 865.5 402.9 866.5 402.6 867.5 402.3 868.5 402 869.5 401.7 870.5 401.4 871.5 401.1 872.5 400.8 873.5 400.5 874.5 400.2 875.5 399.9 876.5 399.7 877.5 399.4 878.5 399.1 879.5 398.9 880.5 398.6 881.5 398.3 882.5 398.1 883.5 397.8 884.5 397.6 885.5 397.4 886.5 397.1 887.5 396.9 888.5 396.6 889.5 396.4 890.5 396.2 891.5 395.9 892.5 395.7 893.5 395.5 894.5 395.3 895.5 395 896.5 394.8 897.5 394.6 898.5 394.4 899.5 394.1 900.5 393.9 901.5 393.7 902.5 393.5 903.5 393.3 904.5 393.1 905.5 392.8 906.5 392.6 907.5 392.4 908.5 392.2 909.5 392 910.5 391.8 911.5 391.5 912.5 391.3 913.5 391.1 914.5 390.9 915.5 390.7 916.5 390.5 917.5 390.3 918.5 390 919.5 389.8 920.5 389.6 921.5 389.4 922.5 389.2 923.5 388.9 924.5 388.7 925.5 388.5 926.5 388.3 927.5 388.1 928.5 387.9 929.5 387.6 930.5 387.4 931.5 387.2 932.5 387 933.5 386.8 934.5 386.6 935.5 386.4 936.5 386.2 937.5 386 938.5 385.8 939.5 385.6 940.5 385.4 941.5 385.1 942.5 384.9 943.5 384.7 944.5 384.6 945.5 384.4 946.5 384.2 947.5 384 948.5 383.7 949.5 383.5 950.5 383.3 951.5 383.1 952.5 382.9 953.5 382.7 954.5 382.5 955.5 382.3 956.5 382.1 957.5 381.9 958.5 381.6 959.5 381.4 960.5 381.2 961.5 380.9 962.5 380.7 963.5 380.5 964.5 380.2 965.5 379.9 966.5 379.7 967.5 379.4 968.5 379.1 969.5 378.9 970.5 378.6 971.5 378.3 972.5 378 973.5 377.6 974.5 377.3 975.5 377 976.5 376.6 977.5 376.2 978.5 375.9 979.5 375.5 980.5 375.1 981.5 374.6 982.5 374.2 983.5 373.7 984.5 373.2 985.5 372.8 986.5 372.2 987.5 371.7 988.5 371.2 989.5 370.6 990.5 370 991.5 369.4 992.5 368.8 993.5 368.2 994.5 367.6 995.5 366.9 996.5 366.3 997.5 365.6 998.5 364.9 999.5 364.2 1000.5 363.6 1001.5 362.9 1002.5 362.2 1003.5 361.5 1004.5 360.8 1005.5 360 1006.5 359.3 1007.5 358.6 1008.5 357.9 1009.5 357.2 1010.5 356.4 1011.5 355.7 1012.5 354.9 1013.5 354.2 1014.5 353.4 1015.5 352.7 1016.5 351.9 1017.5 351.1 1018.5 350.4 1019.5 349.6 1020.5 348.8 1021.5 348 1022.5 347.2 1023.5 346.4 1024.5 345.6 1025.5 344.8 1026.5 343.9 1027.5 343.1 1028.5 342.3 1029.5 341.5 1030.5 340.6 1031.5 339.8 1032.5 339 1033.5 338.2 1034.5 337.3 1035.5 336.5 1036.5 335.7 1037.5 334.8 1038.5 334 1039.5 333.2 1040.5 332.3 1041.5 331.5 1042.5 330.6 1043.5 329.8 1044.5 329 1045.5 328.1 1046.5 327.3 1047.5 326.4 1048.5 325.6 1049.5 324.7 1050.5 323.9 1051.5 323 1052.5 322.2 1053.5 321.3 1054.5 320.5 1055.5 319.6 1056.5 318.8 1057.5 317.9 1058.5 317.1 1059.5 316.2 1060.5 315.4 1061.5 314.5 1062.5 313.7 1063.5 312.8 1064.5 311.9 1065.5 311.1 1066.5 310.2 1067.5 309.4 1068.5 308.5 1069.5 307.7 1070.5 306.8 1071.5 306 1072.5 305.1 1073.5 304.2 1074.5 303.4 1075.5 302.5 1076.5 301.6 1077.5 300.7 1078.5 299.8 1079.5 298.8 1080.5 297.9 1081.5 296.9 1082.5 296 1083.5 295 1084.5 294 1085.5 293 1086.5 292 1087.5 290.9 1088.5 289.9 1089.5 288.8 1090.5 287.7 1091.5 286.6 1092.5 285.5 1093.5 284.4 1094.5 283.2 1095.5 282.1 1096.5 280.9 1097.5 279.7 1098.5 278.6 1099.5 277.4 1100.5 276.1 1101.5 274.9 1102.5 273.7 1103.5 272.4 1104.5 271.2 1105.5 269.9 1106.5 268.6 1107.5 267.3 1108.5 266 1109.5 264.7 1110.5 263.4 1111.5 262 1112.5 260.6 1113.5 259.3 1114.5 257.9 1115.5 256.5 1116.5 255.1 1117.5 253.6 1118.5 252.2 1119.5 250.8 1120.5 249.3 1121.5 247.9 1122.5 246.4 1123.5 244.9 1124.5 243.4 1125.5 242 1126.5 240.5 1127.5 239 1128.5 237.5 1129.5 236 1130.5 234.6 1131.5 233.1 1132.5 231.6 1133.5 230.1 1134.5 228.6 1135.5 227.2 1136.5 225.7 1137.5 224.2 1138.5 222.7 1139.5 221.3 1140.5 219.8 1141.5 218.3 1142.5 216.9 1143.5 215.4 1144.5 214 1145.5 212.5 1146.5 211.1 1147.5 209.7 1148.5 208.3 1149.5 206.9 1150.5 205.5 1151.5 204.1 1152.5 202.7 1153.5 201.4 1154.5 200.1 1155.5 198.7 1156.5 197.4 1157.5 196.2 1158.5 194.9 1159.5 193.6 1160.5 192.4 1161.5 191.1 1162.5 189.9 1163.5 188.7 1164.5 187.6 1165.5 186.4 1166.5 185.3 1167.5 184.2 1168.5 183.1 1169.5 182 1170.5 180.9 1171.5 179.9 1172.5 178.9 1173.5 177.9 1174.5 176.9 1175.5 175.9 1176.5 175 1177.5 174 1178.5 173.1 1179.5 172.2 1180.5 171.3 1181.5 170.5 1182.5 169.6 1183.5 168.7 1184.5 167.9 1185.5 167 1186.5 166.2 1187.5 165.4 1188.5 164.6 1189.5 163.7 1190.5 162.9 1191.5 162.1 1192.5 161.3 1193.5 160.5 1194.5 159.7 1195.5 159 1196.5 158.2 1197.5 157.4 1198.5 156.7 1199.5 156 1200.5 155.2 1201.5 154.5 1202.5 153.8 1203.5 153.1 1204.5 152.5 1205.5 151.8 1206.5 151.1 1207.5 150.5 1208.5 149.9 1209.5 149.2 1210.5 148.6 1211.5 148 1212.5 147.4 1213.5 146.8 1214.5 146.3 1215.5 145.7 1216.5 145.1 1217.5 144.5 1218.5 144 1219.5 143.4 1220.5 142.9 1221.5 142.3 1222.5 141.8 1223.5 141.2 1224.5 140.7 1225.5 140.1 1226.5 139.6 1227.5 139.1 1228.5 138.6 1229.5 138 1230.5 137.5 1231.5 137 1232.5 136.5 1233.5 136 1234.5 135.5 1235.5 135 1236.5 134.5 1237.5 134 1238.5 133.5 1239.5 133.1 1240.5 132.6 1241.5 132.1 1242.5 131.7 1243.5 131.2 1244.5 130.7 1245.5 130.3 1246.5 129.9 1247.5 129.4 1248.5 129 1249.5 128.6 1250.5 128.1 1251.5 127.7 1252.5 127.3 1253.5 126.9 1254.5 126.5 1255.5 126.1 1256.5 125.6 1257.5 125.2 1258.5 124.8 1259.5 124.4 1260.5 124 1261.5 123.7 1262.5 123.3 1263.5 122.9 1264.5 122.5 1265.5 122.1 1266.5 121.7 1267.5 121.3 1268.5 120.9 1269.5 120.5 1270.5 120.1 1271.5 119.7 1272.5 119.3 1273.5 118.9 1274.5 118.5 1275.5 118.1 1276.5 117.7 1277.5 117.3 1278.5 116.9 1279.5 116.5 1280.5 116.1 1281.5 115.6 1282.5 115.2 1283.5 114.8 1284.5 114.4 1285.5 114 1286.5 113.6 1287.5 113.2"/>
<g stroke="#000" fill="none">
<line stroke-width="3" x1="720.5" y1="418.1" x2="720.5" y2="451"/>
<line stroke-width="3.6" x1="710.5" y1="418.1" x2="730.5" y2="418.1"/>
<line stroke-width="3.6" x1="710.5" y1="451" x2="730.5" y2="451"/>
<line stroke-width="3" x1="772.5" y1="412.7" x2="772.5" y2="445.3"/>
<line stroke-width="3.6" x1="762.5" y1="412.7" x2="782.5" y2="412.7"/>
<line stroke-width="3.6" x1="762.5" y1="445.3" x2="782.5" y2="445.3"/>
<line stroke-width="3" x1="825.5" y1="400.3" x2="825.5" y2="432.7"/>
<line stroke-width="3.6" x1="815.5" y1="400.3" x2="835.5" y2="400.3"/>
<line stroke-width="3.6" x1="815.5" y1="432.7" x2="835.5" y2="432.7"/>
<line stroke-width="3" x1="876" y1="383.7" x2="876" y2="416.7"/>
<line stroke-width="3.6" x1="866" y1="383.7" x2="886" y2="383.7"/>
<line stroke-width="3.6" x1="866" y1="416.7" x2="886" y2="416.7"/>
<line stroke-width="3" x1="928" y1="371.7" x2="928" y2="404.1"/>
<line stroke-width="3.6" x1="918" y1="371.7" x2="938" y2="371.7"/>
<line stroke-width="3.6" x1="918" y1="404.1" x2="938" y2="404.1"/>
<line stroke-width="3" x1="979.5" y1="354" x2="979.5" y2="403.2"/>
<line stroke-width="3.6" x1="969.5" y1="354" x2="989.5" y2="354"/>
<line stroke-width="3.6" x1="969.5" y1="403.2" x2="989.5" y2="403.2"/>
<line stroke-width="3" x1="1082" y1="268" x2="1082" y2="334.2"/>
<line stroke-width="3.6" x1="1072" y1="268" x2="1092" y2="268"/>
<line stroke-width="3.6" x1="1072" y1="334.2" x2="1092" y2="334.2"/>
<line stroke-width="3" x1="1134.5" y1="197.7" x2="1134.5" y2="263.9"/>
<line stroke-width="3.6" x1="1124.5" y1="197.7" x2="1144.5" y2="197.7"/>
<line stroke-width="3.6" x1="1124.5" y1="263.9" x2="1144.5" y2="263.9"/>
<line stroke-width="3" x1="1188.9" y1="132.1" x2="1188.9" y2="181.4"/>
<line stroke-width="3.6" x1="1178.9" y1="132.1" x2="1198.9" y2="132.1"/>
<line stroke-width="3.6" x1="1178.9" y1="181.4" x2="1198.9" y2="181.4"/>
<line stroke-width="3" x1="1290.8" y1="96.2" x2="1290.8" y2="128.7"/>
<line stroke-width="3.6" x1="1280.8" y1="96.2" x2="1300.8" y2="96.2"/>
<line stroke-width="3.6" x1="1280.8" y1="128.7" x2="1300.8" y2="128.7"/>
</g>
<g stroke="#000" stroke-width="1.4" fill="#fff">
<path d="M707 434.7 L719.5 422.2 L732 434.7 L719.5 447.2Z"/>
<path d="M760 428.4 L772.5 415.9 L785 428.4 L772.5 440.9Z"/>
<path d="M812.7 416.1 L825.2 403.6 L837.7 416.1 L825.2 428.6Z"/>
<path d="M863.1 399.8 L875.6 387.3 L888.1 399.8 L875.6 412.3Z"/>
<path d="M915.2 388 L927.7 375.5 L940.2 388 L927.7 400.5Z"/>
<path d="M966.7 379.7 L979.2 367.2 L991.7 379.7 L979.2 392.2Z"/>
<path d="M1069.9 303.9 L1082.4 291.4 L1094.9 303.9 L1082.4 316.4Z"/>
<path d="M1121.4 232.9 L1133.9 220.4 L1146.4 232.9 L1133.9 245.4Z"/>
<path d="M1173.6 154.4 L1186.1 141.9 L1198.6 154.4 L1186.1 166.9Z"/>
<path d="M1275.3 113.1 L1287.8 100.6 L1300.3 113.1 L1287.8 125.6Z"/>
</g>
<text transform="translate(660.5 148.5) scale(1 1.045)" font-size="59" text-anchor="end">2.4</text>
<text transform="translate(660.5 317.7) scale(1 1.045)" font-size="59" text-anchor="end">2.0</text>
<text transform="translate(660.5 479.9) scale(1 1.045)" font-size="59" text-anchor="end">1.6</text>
<text transform="translate(678.9 561.5) scale(1 1.045)" font-size="59" text-anchor="middle">20</text>
<text transform="translate(882.6 561.5) scale(1 1.045)" font-size="59" text-anchor="middle">40</text>
<text transform="translate(1087.9 561.5) scale(1 1.045)" font-size="59" text-anchor="middle">60</text>
<text transform="translate(1295.6 561.5) scale(1 1.045)" font-size="59" text-anchor="middle">80</text>
<text transform="translate(1199.8 625.4) scale(1 1.045)" font-size="59" text-anchor="middle">T ºC</text>
<text transform="translate(561.2 219.5) rotate(-90) scale(1 1.045)" font-size="59" text-anchor="middle">Intensity</text>
</svg></body></html>
